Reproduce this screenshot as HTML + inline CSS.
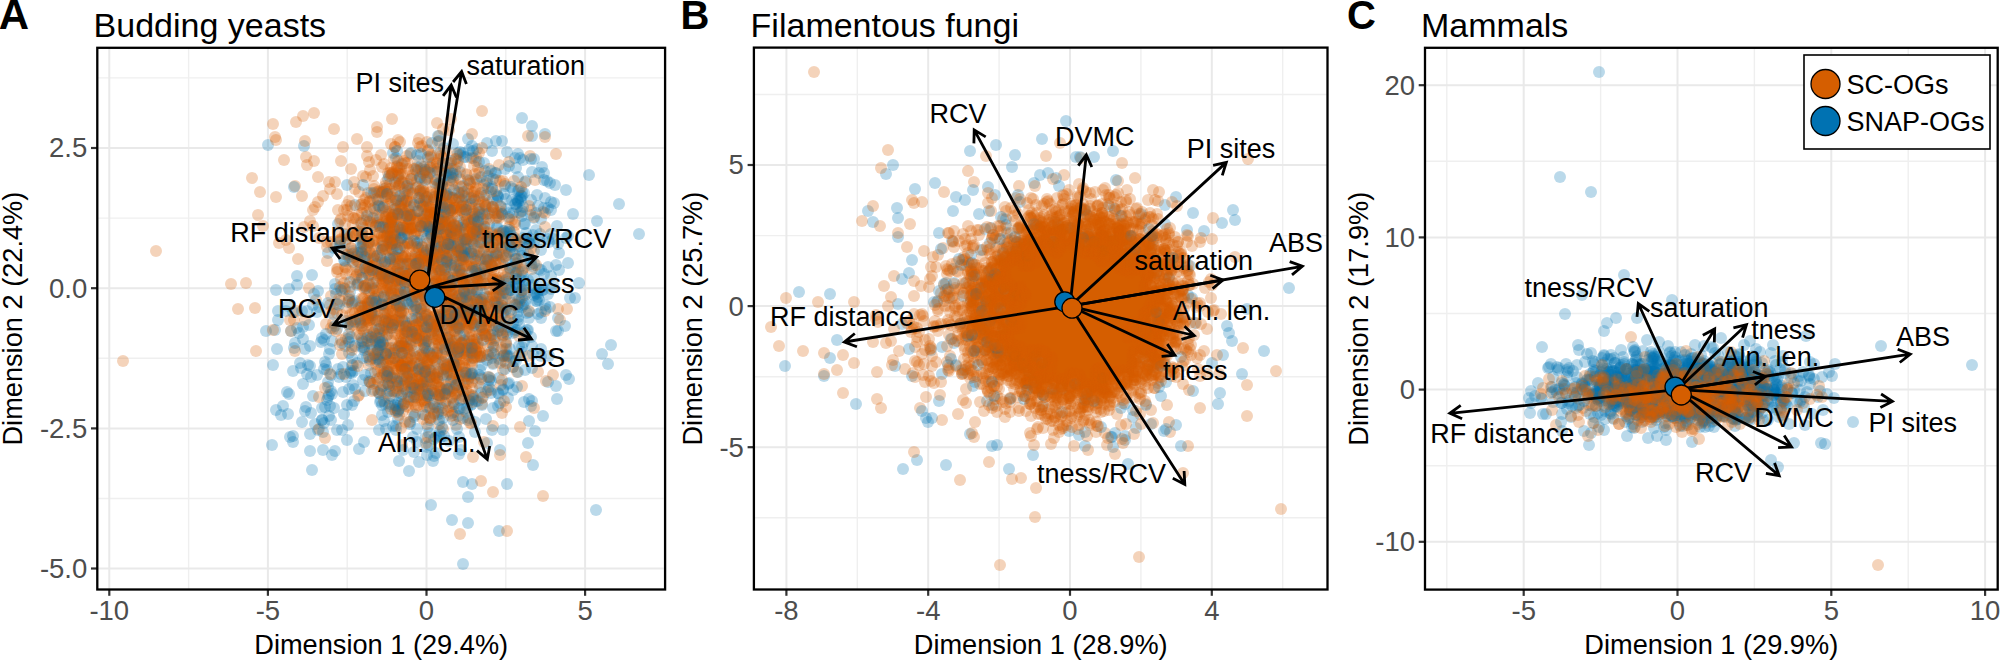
<!DOCTYPE html>
<html><head><meta charset="utf-8"><title>PCA biplots</title>
<style>
html,body{margin:0;padding:0;background:#fff;width:2000px;height:660px;overflow:hidden}
svg{display:block}
text{font-family:"Liberation Sans", sans-serif}
.gm{stroke:#EFEFEF;stroke-width:1.4}
.gM{stroke:#E9E9E9;stroke-width:2}
.tk{stroke:#333;stroke-width:2.2}
.bd{fill:none;stroke:#000;stroke-width:2.3}
.tl{font-size:27.5px;fill:#4D4D4D}
.at{font-size:27.2px;fill:#000}
.ti{font-size:34px;fill:#000}
.pl{font-size:40px;font-weight:bold;fill:#000}
.lb{font-size:27px;fill:#000}
.ar{fill:none;stroke:#000;stroke-width:2.8;stroke-linecap:butt;stroke-linejoin:miter}
.o circle{fill:#D55E00;fill-opacity:.27;r:6px}
.b circle{fill:#0072B2;fill-opacity:.27;r:6px}
.ct{stroke:#000;stroke-width:1.3}
</style></head><body>
<svg width="2000" height="660" viewBox="0 0 2000 660">
<defs>
<clipPath id="clipA"><rect x="97.3" y="47.8" width="567.8" height="541.7"/></clipPath>
<clipPath id="clipB"><rect x="753.9" y="47.6" width="573.6" height="541.9"/></clipPath>
<clipPath id="clipC"><rect x="1425" y="47.8" width="572.7" height="541.8"/></clipPath>
</defs>
<rect width="2000" height="660" fill="#fff"/>
<g clip-path="url(#clipA)">
<line class="gm" x1="188.6" y1="47.8" x2="188.6" y2="589.5"/>
<line class="gm" x1="347.2" y1="47.8" x2="347.2" y2="589.5"/>
<line class="gm" x1="505.8" y1="47.8" x2="505.8" y2="589.5"/>
<line class="gm" x1="664.4" y1="47.8" x2="664.4" y2="589.5"/>
<line class="gm" x1="97.3" y1="77.9" x2="665.1" y2="77.9"/>
<line class="gm" x1="97.3" y1="218.1" x2="665.1" y2="218.1"/>
<line class="gm" x1="97.3" y1="358.3" x2="665.1" y2="358.3"/>
<line class="gm" x1="97.3" y1="498.5" x2="665.1" y2="498.5"/>
<line class="gM" x1="109.3" y1="47.8" x2="109.3" y2="589.5"/>
<line class="gM" x1="267.9" y1="47.8" x2="267.9" y2="589.5"/>
<line class="gM" x1="426.5" y1="47.8" x2="426.5" y2="589.5"/>
<line class="gM" x1="585.1" y1="47.8" x2="585.1" y2="589.5"/>
<line class="gM" x1="97.3" y1="148" x2="665.1" y2="148"/>
<line class="gM" x1="97.3" y1="288.2" x2="665.1" y2="288.2"/>
<line class="gM" x1="97.3" y1="428.4" x2="665.1" y2="428.4"/>
<line class="gM" x1="97.3" y1="568.5" x2="665.1" y2="568.5"/>
</g>
<g clip-path="url(#clipB)">
<line class="gm" x1="857.3" y1="47.6" x2="857.3" y2="589.5"/>
<line class="gm" x1="999.1" y1="47.6" x2="999.1" y2="589.5"/>
<line class="gm" x1="1140.9" y1="47.6" x2="1140.9" y2="589.5"/>
<line class="gm" x1="1282.7" y1="47.6" x2="1282.7" y2="589.5"/>
<line class="gm" x1="753.9" y1="94.5" x2="1327.5" y2="94.5"/>
<line class="gm" x1="753.9" y1="235.6" x2="1327.5" y2="235.6"/>
<line class="gm" x1="753.9" y1="376.7" x2="1327.5" y2="376.7"/>
<line class="gm" x1="753.9" y1="517.8" x2="1327.5" y2="517.8"/>
<line class="gM" x1="786.4" y1="47.6" x2="786.4" y2="589.5"/>
<line class="gM" x1="928.2" y1="47.6" x2="928.2" y2="589.5"/>
<line class="gM" x1="1070" y1="47.6" x2="1070" y2="589.5"/>
<line class="gM" x1="1211.8" y1="47.6" x2="1211.8" y2="589.5"/>
<line class="gM" x1="753.9" y1="165" x2="1327.5" y2="165"/>
<line class="gM" x1="753.9" y1="306.1" x2="1327.5" y2="306.1"/>
<line class="gM" x1="753.9" y1="447.2" x2="1327.5" y2="447.2"/>
</g>
<g clip-path="url(#clipC)">
<line class="gm" x1="1446.8" y1="47.8" x2="1446.8" y2="589.6"/>
<line class="gm" x1="1600.6" y1="47.8" x2="1600.6" y2="589.6"/>
<line class="gm" x1="1754.4" y1="47.8" x2="1754.4" y2="589.6"/>
<line class="gm" x1="1908.2" y1="47.8" x2="1908.2" y2="589.6"/>
<line class="gm" x1="1425" y1="161.3" x2="1997.7" y2="161.3"/>
<line class="gm" x1="1425" y1="313.5" x2="1997.7" y2="313.5"/>
<line class="gm" x1="1425" y1="465.7" x2="1997.7" y2="465.7"/>
<line class="gM" x1="1523.7" y1="47.8" x2="1523.7" y2="589.6"/>
<line class="gM" x1="1677.5" y1="47.8" x2="1677.5" y2="589.6"/>
<line class="gM" x1="1831.3" y1="47.8" x2="1831.3" y2="589.6"/>
<line class="gM" x1="1985.1" y1="47.8" x2="1985.1" y2="589.6"/>
<line class="gM" x1="1425" y1="85.2" x2="1997.7" y2="85.2"/>
<line class="gM" x1="1425" y1="237.4" x2="1997.7" y2="237.4"/>
<line class="gM" x1="1425" y1="389.6" x2="1997.7" y2="389.6"/>
<line class="gM" x1="1425" y1="541.8" x2="1997.7" y2="541.8"/>
</g>
<g clip-path="url(#clipA)">
<g class="b">
<circle cx="495" cy="302" r="6"/>
<circle cx="481" cy="193" r="6"/>
<circle cx="538" cy="297" r="6"/>
<circle cx="436" cy="232" r="6"/>
<circle cx="470" cy="352" r="6"/>
<circle cx="398" cy="351" r="6"/>
<circle cx="558" cy="318" r="6"/>
<circle cx="474" cy="310" r="6"/>
<circle cx="518" cy="312" r="6"/>
<circle cx="533" cy="465" r="6"/>
<circle cx="520" cy="250" r="6"/>
<circle cx="395" cy="320" r="6"/>
<circle cx="399" cy="180" r="6"/>
<circle cx="434" cy="456" r="6"/>
<circle cx="407" cy="303" r="6"/>
<circle cx="425" cy="255" r="6"/>
<circle cx="419" cy="376" r="6"/>
<circle cx="512" cy="303" r="6"/>
<circle cx="498" cy="196" r="6"/>
<circle cx="345" cy="346" r="6"/>
<circle cx="425" cy="306" r="6"/>
<circle cx="352" cy="365" r="6"/>
<circle cx="430" cy="420" r="6"/>
<circle cx="361" cy="323" r="6"/>
<circle cx="307" cy="311" r="6"/>
<circle cx="438" cy="153" r="6"/>
<circle cx="521" cy="266" r="6"/>
<circle cx="417" cy="338" r="6"/>
<circle cx="455" cy="394" r="6"/>
<circle cx="491" cy="381" r="6"/>
<circle cx="409" cy="207" r="6"/>
<circle cx="541" cy="318" r="6"/>
<circle cx="471" cy="204" r="6"/>
<circle cx="401" cy="204" r="6"/>
<circle cx="522" cy="216" r="6"/>
<circle cx="443" cy="324" r="6"/>
<circle cx="377" cy="270" r="6"/>
<circle cx="338" cy="224" r="6"/>
<circle cx="447" cy="227" r="6"/>
<circle cx="407" cy="358" r="6"/>
<circle cx="494" cy="302" r="6"/>
<circle cx="382" cy="341" r="6"/>
<circle cx="423" cy="217" r="6"/>
<circle cx="493" cy="199" r="6"/>
<circle cx="481" cy="377" r="6"/>
<circle cx="536" cy="230" r="6"/>
<circle cx="539" cy="269" r="6"/>
<circle cx="492" cy="187" r="6"/>
<circle cx="469" cy="418" r="6"/>
<circle cx="328" cy="253" r="6"/>
<circle cx="445" cy="403" r="6"/>
<circle cx="452" cy="413" r="6"/>
<circle cx="362" cy="347" r="6"/>
<circle cx="447" cy="209" r="6"/>
<circle cx="516" cy="263" r="6"/>
<circle cx="433" cy="253" r="6"/>
<circle cx="400" cy="286" r="6"/>
<circle cx="537" cy="195" r="6"/>
<circle cx="428" cy="320" r="6"/>
<circle cx="346" cy="321" r="6"/>
<circle cx="515" cy="332" r="6"/>
<circle cx="474" cy="340" r="6"/>
</g>
<g class="o">
<circle cx="276" cy="197" r="6"/>
</g>
<g class="b">
<circle cx="350" cy="292" r="6"/>
<circle cx="557" cy="399" r="6"/>
<circle cx="496" cy="173" r="6"/>
<circle cx="423" cy="206" r="6"/>
<circle cx="373" cy="315" r="6"/>
<circle cx="499" cy="281" r="6"/>
<circle cx="548" cy="267" r="6"/>
<circle cx="303" cy="339" r="6"/>
<circle cx="484" cy="163" r="6"/>
<circle cx="327" cy="370" r="6"/>
<circle cx="398" cy="176" r="6"/>
<circle cx="388" cy="384" r="6"/>
<circle cx="479" cy="242" r="6"/>
<circle cx="395" cy="209" r="6"/>
<circle cx="334" cy="408" r="6"/>
<circle cx="380" cy="218" r="6"/>
<circle cx="452" cy="253" r="6"/>
<circle cx="443" cy="267" r="6"/>
<circle cx="534" cy="159" r="6"/>
<circle cx="527" cy="330" r="6"/>
<circle cx="547" cy="181" r="6"/>
<circle cx="499" cy="327" r="6"/>
<circle cx="460" cy="271" r="6"/>
<circle cx="384" cy="189" r="6"/>
<circle cx="431" cy="354" r="6"/>
<circle cx="413" cy="372" r="6"/>
<circle cx="551" cy="276" r="6"/>
<circle cx="494" cy="256" r="6"/>
<circle cx="315" cy="424" r="6"/>
<circle cx="486" cy="206" r="6"/>
<circle cx="509" cy="278" r="6"/>
<circle cx="435" cy="407" r="6"/>
<circle cx="335" cy="289" r="6"/>
<circle cx="352" cy="303" r="6"/>
<circle cx="507" cy="284" r="6"/>
<circle cx="454" cy="358" r="6"/>
<circle cx="431" cy="332" r="6"/>
<circle cx="346" cy="377" r="6"/>
<circle cx="448" cy="168" r="6"/>
<circle cx="499" cy="359" r="6"/>
<circle cx="487" cy="257" r="6"/>
<circle cx="500" cy="321" r="6"/>
<circle cx="497" cy="201" r="6"/>
<circle cx="504" cy="355" r="6"/>
<circle cx="468" cy="497" r="6"/>
<circle cx="504" cy="231" r="6"/>
<circle cx="501" cy="207" r="6"/>
<circle cx="489" cy="224" r="6"/>
<circle cx="306" cy="407" r="6"/>
<circle cx="303" cy="384" r="6"/>
<circle cx="416" cy="188" r="6"/>
<circle cx="361" cy="243" r="6"/>
<circle cx="466" cy="249" r="6"/>
<circle cx="469" cy="344" r="6"/>
<circle cx="370" cy="361" r="6"/>
<circle cx="448" cy="208" r="6"/>
<circle cx="410" cy="382" r="6"/>
</g>
<g class="o">
<circle cx="231" cy="284" r="6"/>
</g>
<g class="b">
<circle cx="291" cy="331" r="6"/>
<circle cx="348" cy="302" r="6"/>
<circle cx="502" cy="248" r="6"/>
<circle cx="380" cy="402" r="6"/>
<circle cx="308" cy="365" r="6"/>
<circle cx="435" cy="245" r="6"/>
<circle cx="545" cy="198" r="6"/>
<circle cx="531" cy="215" r="6"/>
<circle cx="505" cy="169" r="6"/>
<circle cx="440" cy="208" r="6"/>
<circle cx="401" cy="346" r="6"/>
<circle cx="441" cy="322" r="6"/>
<circle cx="461" cy="260" r="6"/>
<circle cx="391" cy="295" r="6"/>
<circle cx="411" cy="383" r="6"/>
<circle cx="434" cy="414" r="6"/>
<circle cx="471" cy="223" r="6"/>
<circle cx="393" cy="255" r="6"/>
<circle cx="381" cy="401" r="6"/>
<circle cx="482" cy="233" r="6"/>
<circle cx="433" cy="259" r="6"/>
<circle cx="373" cy="358" r="6"/>
<circle cx="398" cy="419" r="6"/>
<circle cx="453" cy="174" r="6"/>
<circle cx="438" cy="348" r="6"/>
<circle cx="519" cy="190" r="6"/>
<circle cx="402" cy="233" r="6"/>
<circle cx="391" cy="223" r="6"/>
<circle cx="492" cy="151" r="6"/>
<circle cx="539" cy="300" r="6"/>
<circle cx="608" cy="364" r="6"/>
<circle cx="507" cy="334" r="6"/>
<circle cx="459" cy="437" r="6"/>
<circle cx="419" cy="249" r="6"/>
<circle cx="483" cy="397" r="6"/>
<circle cx="352" cy="373" r="6"/>
<circle cx="435" cy="183" r="6"/>
<circle cx="438" cy="334" r="6"/>
<circle cx="447" cy="262" r="6"/>
<circle cx="388" cy="179" r="6"/>
<circle cx="464" cy="340" r="6"/>
<circle cx="510" cy="268" r="6"/>
<circle cx="575" cy="298" r="6"/>
<circle cx="466" cy="157" r="6"/>
<circle cx="458" cy="296" r="6"/>
<circle cx="335" cy="451" r="6"/>
<circle cx="379" cy="430" r="6"/>
<circle cx="393" cy="250" r="6"/>
<circle cx="559" cy="253" r="6"/>
<circle cx="460" cy="409" r="6"/>
<circle cx="389" cy="406" r="6"/>
<circle cx="499" cy="531" r="6"/>
<circle cx="321" cy="342" r="6"/>
<circle cx="373" cy="289" r="6"/>
<circle cx="383" cy="363" r="6"/>
<circle cx="419" cy="462" r="6"/>
<circle cx="441" cy="228" r="6"/>
<circle cx="431" cy="236" r="6"/>
<circle cx="459" cy="261" r="6"/>
<circle cx="399" cy="461" r="6"/>
<circle cx="427" cy="351" r="6"/>
<circle cx="528" cy="330" r="6"/>
<circle cx="410" cy="220" r="6"/>
<circle cx="433" cy="251" r="6"/>
<circle cx="488" cy="390" r="6"/>
</g>
<g class="o">
<circle cx="458" cy="313" r="6"/>
</g>
<g class="b">
<circle cx="611" cy="345" r="6"/>
<circle cx="383" cy="344" r="6"/>
<circle cx="436" cy="302" r="6"/>
<circle cx="517" cy="305" r="6"/>
<circle cx="440" cy="199" r="6"/>
<circle cx="492" cy="266" r="6"/>
<circle cx="420" cy="364" r="6"/>
</g>
<g class="o">
<circle cx="393" cy="222" r="6"/>
<circle cx="374" cy="246" r="6"/>
<circle cx="384" cy="314" r="6"/>
</g>
<g class="b">
<circle cx="410" cy="424" r="6"/>
</g>
<g class="o">
<circle cx="428" cy="394" r="6"/>
<circle cx="331" cy="328" r="6"/>
<circle cx="386" cy="217" r="6"/>
</g>
<g class="b">
<circle cx="542" cy="290" r="6"/>
<circle cx="349" cy="353" r="6"/>
</g>
<g class="o">
<circle cx="368" cy="193" r="6"/>
<circle cx="464" cy="209" r="6"/>
<circle cx="499" cy="327" r="6"/>
<circle cx="493" cy="492" r="6"/>
<circle cx="493" cy="235" r="6"/>
<circle cx="428" cy="226" r="6"/>
<circle cx="454" cy="271" r="6"/>
<circle cx="474" cy="284" r="6"/>
<circle cx="371" cy="287" r="6"/>
<circle cx="353" cy="365" r="6"/>
<circle cx="448" cy="196" r="6"/>
</g>
<g class="b">
<circle cx="366" cy="250" r="6"/>
<circle cx="529" cy="244" r="6"/>
<circle cx="428" cy="427" r="6"/>
</g>
<g class="o">
<circle cx="380" cy="192" r="6"/>
<circle cx="495" cy="340" r="6"/>
<circle cx="458" cy="251" r="6"/>
<circle cx="426" cy="371" r="6"/>
<circle cx="424" cy="346" r="6"/>
</g>
<g class="b">
<circle cx="278" cy="311" r="6"/>
<circle cx="481" cy="243" r="6"/>
<circle cx="448" cy="305" r="6"/>
</g>
<g class="o">
<circle cx="438" cy="395" r="6"/>
<circle cx="488" cy="176" r="6"/>
</g>
<g class="b">
<circle cx="438" cy="414" r="6"/>
<circle cx="488" cy="255" r="6"/>
</g>
<g class="o">
<circle cx="392" cy="243" r="6"/>
</g>
<g class="b">
<circle cx="383" cy="261" r="6"/>
<circle cx="496" cy="262" r="6"/>
</g>
<g class="o">
<circle cx="428" cy="150" r="6"/>
<circle cx="459" cy="255" r="6"/>
</g>
<g class="b">
<circle cx="492" cy="313" r="6"/>
<circle cx="507" cy="355" r="6"/>
</g>
<g class="o">
<circle cx="376" cy="321" r="6"/>
<circle cx="450" cy="300" r="6"/>
</g>
<g class="b">
<circle cx="505" cy="237" r="6"/>
</g>
<g class="o">
<circle cx="451" cy="322" r="6"/>
<circle cx="420" cy="203" r="6"/>
<circle cx="395" cy="304" r="6"/>
</g>
<g class="b">
<circle cx="408" cy="234" r="6"/>
<circle cx="500" cy="450" r="6"/>
<circle cx="531" cy="406" r="6"/>
</g>
<g class="o">
<circle cx="439" cy="237" r="6"/>
<circle cx="472" cy="288" r="6"/>
<circle cx="405" cy="361" r="6"/>
<circle cx="402" cy="272" r="6"/>
<circle cx="453" cy="415" r="6"/>
<circle cx="472" cy="350" r="6"/>
<circle cx="471" cy="344" r="6"/>
<circle cx="481" cy="313" r="6"/>
<circle cx="381" cy="390" r="6"/>
</g>
<g class="b">
<circle cx="417" cy="241" r="6"/>
<circle cx="370" cy="350" r="6"/>
</g>
<g class="o">
<circle cx="502" cy="306" r="6"/>
<circle cx="399" cy="366" r="6"/>
<circle cx="460" cy="325" r="6"/>
</g>
<g class="b">
<circle cx="498" cy="216" r="6"/>
</g>
<g class="o">
<circle cx="488" cy="260" r="6"/>
<circle cx="398" cy="173" r="6"/>
<circle cx="480" cy="347" r="6"/>
<circle cx="461" cy="253" r="6"/>
</g>
<g class="b">
<circle cx="462" cy="256" r="6"/>
</g>
<g class="o">
<circle cx="361" cy="343" r="6"/>
</g>
<g class="b">
<circle cx="433" cy="222" r="6"/>
<circle cx="335" cy="284" r="6"/>
</g>
<g class="o">
<circle cx="503" cy="335" r="6"/>
</g>
<g class="b">
<circle cx="438" cy="408" r="6"/>
</g>
<g class="o">
<circle cx="515" cy="238" r="6"/>
<circle cx="458" cy="305" r="6"/>
<circle cx="441" cy="213" r="6"/>
<circle cx="452" cy="247" r="6"/>
</g>
<g class="b">
<circle cx="513" cy="367" r="6"/>
</g>
<g class="o">
<circle cx="425" cy="386" r="6"/>
</g>
<g class="b">
<circle cx="535" cy="431" r="6"/>
</g>
<g class="o">
<circle cx="286" cy="240" r="6"/>
<circle cx="487" cy="297" r="6"/>
</g>
<g class="b">
<circle cx="550" cy="183" r="6"/>
<circle cx="302" cy="422" r="6"/>
<circle cx="372" cy="341" r="6"/>
<circle cx="385" cy="313" r="6"/>
</g>
<g class="o">
<circle cx="404" cy="295" r="6"/>
<circle cx="493" cy="330" r="6"/>
</g>
<g class="b">
<circle cx="372" cy="313" r="6"/>
<circle cx="415" cy="297" r="6"/>
</g>
<g class="o">
<circle cx="401" cy="346" r="6"/>
</g>
<g class="b">
<circle cx="579" cy="283" r="6"/>
<circle cx="384" cy="421" r="6"/>
</g>
<g class="o">
<circle cx="273" cy="124" r="6"/>
</g>
<g class="b">
<circle cx="488" cy="260" r="6"/>
<circle cx="423" cy="278" r="6"/>
<circle cx="402" cy="380" r="6"/>
<circle cx="520" cy="279" r="6"/>
</g>
<g class="o">
<circle cx="483" cy="219" r="6"/>
</g>
<g class="b">
<circle cx="472" cy="404" r="6"/>
</g>
<g class="o">
<circle cx="476" cy="277" r="6"/>
<circle cx="440" cy="254" r="6"/>
<circle cx="442" cy="333" r="6"/>
<circle cx="501" cy="212" r="6"/>
</g>
<g class="b">
<circle cx="393" cy="153" r="6"/>
</g>
<g class="o">
<circle cx="424" cy="264" r="6"/>
<circle cx="423" cy="188" r="6"/>
</g>
<g class="b">
<circle cx="464" cy="379" r="6"/>
</g>
<g class="o">
<circle cx="390" cy="271" r="6"/>
</g>
<g class="b">
<circle cx="531" cy="264" r="6"/>
</g>
<g class="o">
<circle cx="399" cy="326" r="6"/>
<circle cx="406" cy="212" r="6"/>
</g>
<g class="b">
<circle cx="389" cy="372" r="6"/>
</g>
<g class="o">
<circle cx="484" cy="328" r="6"/>
<circle cx="389" cy="398" r="6"/>
<circle cx="503" cy="265" r="6"/>
<circle cx="439" cy="136" r="6"/>
<circle cx="423" cy="227" r="6"/>
</g>
<g class="b">
<circle cx="395" cy="182" r="6"/>
<circle cx="459" cy="221" r="6"/>
<circle cx="484" cy="226" r="6"/>
</g>
<g class="o">
<circle cx="494" cy="285" r="6"/>
</g>
<g class="b">
<circle cx="548" cy="239" r="6"/>
<circle cx="416" cy="357" r="6"/>
<circle cx="386" cy="429" r="6"/>
</g>
<g class="o">
<circle cx="531" cy="210" r="6"/>
<circle cx="431" cy="246" r="6"/>
<circle cx="469" cy="181" r="6"/>
<circle cx="420" cy="391" r="6"/>
<circle cx="419" cy="283" r="6"/>
</g>
<g class="b">
<circle cx="480" cy="275" r="6"/>
</g>
<g class="o">
<circle cx="413" cy="175" r="6"/>
<circle cx="446" cy="387" r="6"/>
<circle cx="382" cy="192" r="6"/>
</g>
<g class="b">
<circle cx="522" cy="307" r="6"/>
</g>
<g class="o">
<circle cx="462" cy="200" r="6"/>
</g>
<g class="b">
<circle cx="504" cy="361" r="6"/>
</g>
<g class="o">
<circle cx="394" cy="266" r="6"/>
</g>
<g class="b">
<circle cx="266" cy="331" r="6"/>
</g>
<g class="o">
<circle cx="348" cy="216" r="6"/>
</g>
<g class="b">
<circle cx="529" cy="421" r="6"/>
</g>
<g class="o">
<circle cx="496" cy="240" r="6"/>
<circle cx="353" cy="234" r="6"/>
</g>
<g class="b">
<circle cx="478" cy="302" r="6"/>
<circle cx="436" cy="453" r="6"/>
<circle cx="453" cy="144" r="6"/>
</g>
<g class="o">
<circle cx="448" cy="240" r="6"/>
<circle cx="389" cy="324" r="6"/>
<circle cx="387" cy="377" r="6"/>
<circle cx="388" cy="196" r="6"/>
<circle cx="439" cy="271" r="6"/>
<circle cx="491" cy="390" r="6"/>
<circle cx="376" cy="334" r="6"/>
<circle cx="435" cy="179" r="6"/>
<circle cx="387" cy="285" r="6"/>
<circle cx="416" cy="300" r="6"/>
<circle cx="459" cy="271" r="6"/>
</g>
<g class="b">
<circle cx="420" cy="241" r="6"/>
</g>
<g class="o">
<circle cx="363" cy="342" r="6"/>
<circle cx="469" cy="205" r="6"/>
<circle cx="420" cy="193" r="6"/>
</g>
<g class="b">
<circle cx="408" cy="243" r="6"/>
</g>
<g class="o">
<circle cx="405" cy="193" r="6"/>
</g>
<g class="b">
<circle cx="445" cy="270" r="6"/>
<circle cx="476" cy="261" r="6"/>
</g>
<g class="o">
<circle cx="460" cy="255" r="6"/>
<circle cx="459" cy="197" r="6"/>
</g>
<g class="b">
<circle cx="349" cy="389" r="6"/>
</g>
<g class="o">
<circle cx="373" cy="241" r="6"/>
<circle cx="376" cy="160" r="6"/>
</g>
<g class="b">
<circle cx="557" cy="226" r="6"/>
</g>
<g class="o">
<circle cx="514" cy="254" r="6"/>
<circle cx="499" cy="165" r="6"/>
<circle cx="441" cy="204" r="6"/>
<circle cx="461" cy="298" r="6"/>
</g>
<g class="b">
<circle cx="452" cy="353" r="6"/>
<circle cx="485" cy="284" r="6"/>
<circle cx="394" cy="227" r="6"/>
</g>
<g class="o">
<circle cx="391" cy="234" r="6"/>
<circle cx="384" cy="236" r="6"/>
</g>
<g class="b">
<circle cx="522" cy="352" r="6"/>
</g>
<g class="o">
<circle cx="416" cy="398" r="6"/>
</g>
<g class="b">
<circle cx="361" cy="306" r="6"/>
<circle cx="468" cy="139" r="6"/>
</g>
<g class="o">
<circle cx="408" cy="243" r="6"/>
</g>
<g class="b">
<circle cx="334" cy="248" r="6"/>
<circle cx="553" cy="239" r="6"/>
<circle cx="374" cy="332" r="6"/>
</g>
<g class="o">
<circle cx="457" cy="356" r="6"/>
</g>
<g class="b">
<circle cx="531" cy="337" r="6"/>
</g>
<g class="o">
<circle cx="436" cy="258" r="6"/>
<circle cx="412" cy="329" r="6"/>
<circle cx="337" cy="194" r="6"/>
<circle cx="515" cy="225" r="6"/>
<circle cx="403" cy="258" r="6"/>
<circle cx="409" cy="366" r="6"/>
</g>
<g class="b">
<circle cx="434" cy="296" r="6"/>
<circle cx="332" cy="341" r="6"/>
</g>
<g class="o">
<circle cx="255" cy="308" r="6"/>
</g>
<g class="b">
<circle cx="533" cy="235" r="6"/>
</g>
<g class="o">
<circle cx="508" cy="357" r="6"/>
</g>
<g class="b">
<circle cx="449" cy="337" r="6"/>
</g>
<g class="o">
<circle cx="469" cy="295" r="6"/>
</g>
<g class="b">
<circle cx="439" cy="435" r="6"/>
<circle cx="497" cy="195" r="6"/>
</g>
<g class="o">
<circle cx="432" cy="265" r="6"/>
</g>
<g class="b">
<circle cx="487" cy="443" r="6"/>
</g>
<g class="o">
<circle cx="364" cy="348" r="6"/>
</g>
<g class="b">
<circle cx="523" cy="276" r="6"/>
</g>
<g class="o">
<circle cx="403" cy="197" r="6"/>
<circle cx="386" cy="274" r="6"/>
<circle cx="391" cy="248" r="6"/>
</g>
<g class="b">
<circle cx="528" cy="254" r="6"/>
<circle cx="268" cy="145" r="6"/>
</g>
<g class="o">
<circle cx="477" cy="255" r="6"/>
<circle cx="331" cy="242" r="6"/>
<circle cx="400" cy="240" r="6"/>
<circle cx="392" cy="217" r="6"/>
<circle cx="443" cy="180" r="6"/>
<circle cx="459" cy="230" r="6"/>
<circle cx="463" cy="283" r="6"/>
</g>
<g class="b">
<circle cx="458" cy="153" r="6"/>
</g>
<g class="o">
<circle cx="482" cy="111" r="6"/>
</g>
<g class="b">
<circle cx="491" cy="265" r="6"/>
</g>
<g class="o">
<circle cx="406" cy="367" r="6"/>
<circle cx="391" cy="292" r="6"/>
<circle cx="388" cy="250" r="6"/>
<circle cx="370" cy="359" r="6"/>
<circle cx="377" cy="223" r="6"/>
</g>
<g class="b">
<circle cx="391" cy="378" r="6"/>
<circle cx="479" cy="316" r="6"/>
<circle cx="512" cy="267" r="6"/>
</g>
<g class="o">
<circle cx="360" cy="205" r="6"/>
<circle cx="452" cy="210" r="6"/>
<circle cx="453" cy="350" r="6"/>
<circle cx="439" cy="331" r="6"/>
<circle cx="238" cy="309" r="6"/>
<circle cx="362" cy="213" r="6"/>
<circle cx="423" cy="414" r="6"/>
<circle cx="454" cy="412" r="6"/>
<circle cx="340" cy="287" r="6"/>
<circle cx="519" cy="303" r="6"/>
</g>
<g class="b">
<circle cx="324" cy="369" r="6"/>
</g>
<g class="o">
<circle cx="434" cy="316" r="6"/>
<circle cx="508" cy="273" r="6"/>
</g>
<g class="b">
<circle cx="413" cy="385" r="6"/>
</g>
<g class="o">
<circle cx="448" cy="218" r="6"/>
<circle cx="472" cy="395" r="6"/>
<circle cx="360" cy="272" r="6"/>
<circle cx="506" cy="248" r="6"/>
</g>
<g class="b">
<circle cx="369" cy="275" r="6"/>
</g>
<g class="o">
<circle cx="375" cy="297" r="6"/>
</g>
<g class="b">
<circle cx="393" cy="426" r="6"/>
</g>
<g class="o">
<circle cx="420" cy="386" r="6"/>
<circle cx="384" cy="332" r="6"/>
<circle cx="402" cy="319" r="6"/>
<circle cx="480" cy="325" r="6"/>
<circle cx="407" cy="201" r="6"/>
</g>
<g class="b">
<circle cx="416" cy="170" r="6"/>
</g>
<g class="o">
<circle cx="424" cy="251" r="6"/>
</g>
<g class="b">
<circle cx="473" cy="396" r="6"/>
<circle cx="549" cy="242" r="6"/>
<circle cx="442" cy="202" r="6"/>
<circle cx="329" cy="395" r="6"/>
</g>
<g class="o">
<circle cx="418" cy="171" r="6"/>
</g>
<g class="b">
<circle cx="399" cy="264" r="6"/>
</g>
<g class="o">
<circle cx="399" cy="346" r="6"/>
</g>
<g class="b">
<circle cx="501" cy="290" r="6"/>
<circle cx="304" cy="146" r="6"/>
</g>
<g class="o">
<circle cx="405" cy="342" r="6"/>
</g>
<g class="b">
<circle cx="318" cy="430" r="6"/>
<circle cx="454" cy="300" r="6"/>
</g>
<g class="o">
<circle cx="387" cy="221" r="6"/>
<circle cx="442" cy="413" r="6"/>
</g>
<g class="b">
<circle cx="386" cy="274" r="6"/>
</g>
<g class="o">
<circle cx="402" cy="230" r="6"/>
<circle cx="532" cy="269" r="6"/>
<circle cx="442" cy="293" r="6"/>
</g>
<g class="b">
<circle cx="475" cy="259" r="6"/>
</g>
<g class="o">
<circle cx="400" cy="174" r="6"/>
</g>
<g class="b">
<circle cx="489" cy="213" r="6"/>
</g>
<g class="o">
<circle cx="383" cy="355" r="6"/>
<circle cx="401" cy="366" r="6"/>
<circle cx="469" cy="265" r="6"/>
<circle cx="365" cy="289" r="6"/>
<circle cx="400" cy="233" r="6"/>
<circle cx="414" cy="385" r="6"/>
</g>
<g class="b">
<circle cx="399" cy="251" r="6"/>
<circle cx="467" cy="239" r="6"/>
</g>
<g class="o">
<circle cx="463" cy="307" r="6"/>
</g>
<g class="b">
<circle cx="388" cy="412" r="6"/>
<circle cx="287" cy="392" r="6"/>
</g>
<g class="o">
<circle cx="438" cy="364" r="6"/>
</g>
<g class="b">
<circle cx="312" cy="470" r="6"/>
<circle cx="451" cy="381" r="6"/>
</g>
<g class="o">
<circle cx="472" cy="214" r="6"/>
</g>
<g class="b">
<circle cx="619" cy="204" r="6"/>
</g>
<g class="o">
<circle cx="506" cy="407" r="6"/>
<circle cx="395" cy="261" r="6"/>
</g>
<g class="b">
<circle cx="487" cy="214" r="6"/>
<circle cx="429" cy="298" r="6"/>
</g>
<g class="o">
<circle cx="246" cy="283" r="6"/>
<circle cx="454" cy="348" r="6"/>
</g>
<g class="b">
<circle cx="411" cy="180" r="6"/>
</g>
<g class="o">
<circle cx="461" cy="312" r="6"/>
<circle cx="484" cy="268" r="6"/>
</g>
<g class="b">
<circle cx="483" cy="321" r="6"/>
<circle cx="310" cy="451" r="6"/>
<circle cx="480" cy="387" r="6"/>
</g>
<g class="o">
<circle cx="419" cy="321" r="6"/>
<circle cx="427" cy="364" r="6"/>
<circle cx="340" cy="241" r="6"/>
<circle cx="376" cy="301" r="6"/>
<circle cx="441" cy="288" r="6"/>
</g>
<g class="b">
<circle cx="486" cy="419" r="6"/>
</g>
<g class="o">
<circle cx="496" cy="306" r="6"/>
</g>
<g class="b">
<circle cx="532" cy="401" r="6"/>
<circle cx="471" cy="314" r="6"/>
</g>
<g class="o">
<circle cx="333" cy="323" r="6"/>
</g>
<g class="b">
<circle cx="407" cy="347" r="6"/>
<circle cx="453" cy="280" r="6"/>
<circle cx="453" cy="377" r="6"/>
</g>
<g class="o">
<circle cx="449" cy="347" r="6"/>
<circle cx="468" cy="254" r="6"/>
<circle cx="367" cy="255" r="6"/>
</g>
<g class="b">
<circle cx="496" cy="288" r="6"/>
</g>
<g class="o">
<circle cx="424" cy="192" r="6"/>
<circle cx="314" cy="161" r="6"/>
</g>
<g class="b">
<circle cx="354" cy="371" r="6"/>
</g>
<g class="o">
<circle cx="397" cy="167" r="6"/>
</g>
<g class="b">
<circle cx="462" cy="241" r="6"/>
</g>
<g class="o">
<circle cx="450" cy="212" r="6"/>
</g>
<g class="b">
<circle cx="512" cy="251" r="6"/>
</g>
<g class="o">
<circle cx="437" cy="229" r="6"/>
<circle cx="417" cy="292" r="6"/>
<circle cx="368" cy="320" r="6"/>
<circle cx="481" cy="228" r="6"/>
<circle cx="428" cy="201" r="6"/>
</g>
<g class="b">
<circle cx="480" cy="370" r="6"/>
</g>
<g class="o">
<circle cx="403" cy="215" r="6"/>
<circle cx="445" cy="298" r="6"/>
<circle cx="450" cy="286" r="6"/>
</g>
<g class="b">
<circle cx="379" cy="358" r="6"/>
</g>
<g class="o">
<circle cx="447" cy="371" r="6"/>
<circle cx="458" cy="275" r="6"/>
<circle cx="408" cy="244" r="6"/>
<circle cx="407" cy="195" r="6"/>
<circle cx="449" cy="197" r="6"/>
<circle cx="437" cy="352" r="6"/>
<circle cx="452" cy="169" r="6"/>
</g>
<g class="b">
<circle cx="410" cy="422" r="6"/>
</g>
<g class="o">
<circle cx="420" cy="204" r="6"/>
<circle cx="489" cy="169" r="6"/>
<circle cx="425" cy="199" r="6"/>
<circle cx="428" cy="398" r="6"/>
<circle cx="392" cy="215" r="6"/>
<circle cx="319" cy="429" r="6"/>
<circle cx="476" cy="353" r="6"/>
</g>
<g class="b">
<circle cx="457" cy="164" r="6"/>
</g>
<g class="o">
<circle cx="422" cy="379" r="6"/>
</g>
<g class="b">
<circle cx="463" cy="418" r="6"/>
<circle cx="348" cy="254" r="6"/>
</g>
<g class="o">
<circle cx="447" cy="298" r="6"/>
<circle cx="449" cy="279" r="6"/>
</g>
<g class="b">
<circle cx="434" cy="331" r="6"/>
</g>
<g class="o">
<circle cx="490" cy="322" r="6"/>
</g>
<g class="b">
<circle cx="472" cy="254" r="6"/>
</g>
<g class="o">
<circle cx="451" cy="221" r="6"/>
<circle cx="376" cy="336" r="6"/>
<circle cx="392" cy="243" r="6"/>
</g>
<g class="b">
<circle cx="481" cy="393" r="6"/>
</g>
<g class="o">
<circle cx="451" cy="163" r="6"/>
<circle cx="400" cy="308" r="6"/>
<circle cx="404" cy="346" r="6"/>
</g>
<g class="b">
<circle cx="434" cy="284" r="6"/>
</g>
<g class="o">
<circle cx="448" cy="233" r="6"/>
<circle cx="392" cy="249" r="6"/>
</g>
<g class="b">
<circle cx="357" cy="285" r="6"/>
<circle cx="477" cy="256" r="6"/>
</g>
<g class="o">
<circle cx="407" cy="363" r="6"/>
<circle cx="464" cy="266" r="6"/>
<circle cx="310" cy="221" r="6"/>
<circle cx="403" cy="257" r="6"/>
</g>
<g class="b">
<circle cx="502" cy="239" r="6"/>
</g>
<g class="o">
<circle cx="464" cy="384" r="6"/>
</g>
<g class="b">
<circle cx="496" cy="141" r="6"/>
</g>
<g class="o">
<circle cx="466" cy="225" r="6"/>
</g>
<g class="b">
<circle cx="539" cy="173" r="6"/>
</g>
<g class="o">
<circle cx="329" cy="182" r="6"/>
<circle cx="409" cy="210" r="6"/>
</g>
<g class="b">
<circle cx="522" cy="298" r="6"/>
<circle cx="444" cy="148" r="6"/>
<circle cx="396" cy="426" r="6"/>
<circle cx="368" cy="307" r="6"/>
<circle cx="523" cy="305" r="6"/>
<circle cx="388" cy="322" r="6"/>
</g>
<g class="o">
<circle cx="430" cy="208" r="6"/>
<circle cx="374" cy="189" r="6"/>
<circle cx="367" cy="301" r="6"/>
<circle cx="398" cy="410" r="6"/>
<circle cx="458" cy="277" r="6"/>
</g>
<g class="b">
<circle cx="519" cy="246" r="6"/>
</g>
<g class="o">
<circle cx="384" cy="246" r="6"/>
</g>
<g class="b">
<circle cx="393" cy="289" r="6"/>
<circle cx="443" cy="218" r="6"/>
</g>
<g class="o">
<circle cx="482" cy="266" r="6"/>
<circle cx="471" cy="158" r="6"/>
<circle cx="432" cy="317" r="6"/>
<circle cx="433" cy="275" r="6"/>
</g>
<g class="b">
<circle cx="437" cy="353" r="6"/>
<circle cx="435" cy="361" r="6"/>
</g>
<g class="o">
<circle cx="418" cy="277" r="6"/>
<circle cx="388" cy="371" r="6"/>
<circle cx="484" cy="185" r="6"/>
<circle cx="388" cy="384" r="6"/>
</g>
<g class="b">
<circle cx="510" cy="269" r="6"/>
</g>
<g class="o">
<circle cx="444" cy="195" r="6"/>
<circle cx="476" cy="157" r="6"/>
</g>
<g class="b">
<circle cx="518" cy="154" r="6"/>
</g>
<g class="o">
<circle cx="556" cy="154" r="6"/>
</g>
<g class="b">
<circle cx="360" cy="270" r="6"/>
</g>
<g class="o">
<circle cx="496" cy="296" r="6"/>
<circle cx="513" cy="367" r="6"/>
<circle cx="484" cy="313" r="6"/>
<circle cx="437" cy="324" r="6"/>
<circle cx="431" cy="212" r="6"/>
<circle cx="479" cy="351" r="6"/>
</g>
<g class="b">
<circle cx="342" cy="430" r="6"/>
<circle cx="527" cy="293" r="6"/>
<circle cx="435" cy="296" r="6"/>
</g>
<g class="o">
<circle cx="482" cy="302" r="6"/>
<circle cx="408" cy="359" r="6"/>
<circle cx="478" cy="225" r="6"/>
</g>
<g class="b">
<circle cx="484" cy="214" r="6"/>
</g>
<g class="o">
<circle cx="471" cy="228" r="6"/>
</g>
<g class="b">
<circle cx="404" cy="213" r="6"/>
</g>
<g class="o">
<circle cx="377" cy="352" r="6"/>
<circle cx="498" cy="306" r="6"/>
</g>
<g class="b">
<circle cx="363" cy="239" r="6"/>
<circle cx="453" cy="178" r="6"/>
</g>
<g class="o">
<circle cx="485" cy="204" r="6"/>
</g>
<g class="b">
<circle cx="395" cy="350" r="6"/>
<circle cx="395" cy="410" r="6"/>
</g>
<g class="o">
<circle cx="445" cy="343" r="6"/>
<circle cx="553" cy="375" r="6"/>
<circle cx="437" cy="378" r="6"/>
<circle cx="429" cy="231" r="6"/>
<circle cx="464" cy="282" r="6"/>
<circle cx="423" cy="342" r="6"/>
<circle cx="430" cy="381" r="6"/>
</g>
<g class="b">
<circle cx="520" cy="213" r="6"/>
</g>
<g class="o">
<circle cx="365" cy="320" r="6"/>
<circle cx="406" cy="323" r="6"/>
<circle cx="456" cy="315" r="6"/>
<circle cx="378" cy="351" r="6"/>
<circle cx="388" cy="232" r="6"/>
<circle cx="382" cy="262" r="6"/>
<circle cx="388" cy="278" r="6"/>
</g>
<g class="b">
<circle cx="417" cy="167" r="6"/>
<circle cx="518" cy="271" r="6"/>
<circle cx="498" cy="393" r="6"/>
<circle cx="440" cy="431" r="6"/>
<circle cx="551" cy="202" r="6"/>
</g>
<g class="o">
<circle cx="416" cy="371" r="6"/>
</g>
<g class="b">
<circle cx="558" cy="331" r="6"/>
<circle cx="452" cy="341" r="6"/>
</g>
<g class="o">
<circle cx="426" cy="301" r="6"/>
<circle cx="400" cy="288" r="6"/>
<circle cx="387" cy="290" r="6"/>
</g>
<g class="b">
<circle cx="402" cy="343" r="6"/>
</g>
<g class="o">
<circle cx="445" cy="288" r="6"/>
</g>
<g class="b">
<circle cx="536" cy="293" r="6"/>
<circle cx="373" cy="225" r="6"/>
<circle cx="508" cy="384" r="6"/>
</g>
<g class="o">
<circle cx="302" cy="196" r="6"/>
<circle cx="393" cy="278" r="6"/>
<circle cx="445" cy="344" r="6"/>
<circle cx="410" cy="264" r="6"/>
<circle cx="440" cy="153" r="6"/>
<circle cx="382" cy="276" r="6"/>
</g>
<g class="b">
<circle cx="353" cy="251" r="6"/>
</g>
<g class="o">
<circle cx="400" cy="382" r="6"/>
<circle cx="475" cy="345" r="6"/>
<circle cx="403" cy="346" r="6"/>
</g>
<g class="b">
<circle cx="310" cy="346" r="6"/>
<circle cx="426" cy="341" r="6"/>
<circle cx="448" cy="364" r="6"/>
</g>
<g class="o">
<circle cx="512" cy="220" r="6"/>
<circle cx="520" cy="212" r="6"/>
<circle cx="426" cy="255" r="6"/>
<circle cx="359" cy="262" r="6"/>
<circle cx="371" cy="315" r="6"/>
<circle cx="465" cy="372" r="6"/>
<circle cx="356" cy="319" r="6"/>
<circle cx="437" cy="258" r="6"/>
</g>
<g class="b">
<circle cx="460" cy="375" r="6"/>
</g>
<g class="o">
<circle cx="396" cy="408" r="6"/>
<circle cx="418" cy="281" r="6"/>
<circle cx="413" cy="288" r="6"/>
</g>
<g class="b">
<circle cx="415" cy="257" r="6"/>
<circle cx="396" cy="191" r="6"/>
</g>
<g class="o">
<circle cx="474" cy="182" r="6"/>
</g>
<g class="b">
<circle cx="353" cy="302" r="6"/>
<circle cx="362" cy="338" r="6"/>
<circle cx="473" cy="217" r="6"/>
</g>
<g class="o">
<circle cx="461" cy="273" r="6"/>
</g>
<g class="b">
<circle cx="450" cy="348" r="6"/>
<circle cx="474" cy="378" r="6"/>
</g>
<g class="o">
<circle cx="462" cy="280" r="6"/>
</g>
<g class="b">
<circle cx="483" cy="229" r="6"/>
</g>
<g class="o">
<circle cx="466" cy="351" r="6"/>
<circle cx="467" cy="311" r="6"/>
</g>
<g class="b">
<circle cx="345" cy="243" r="6"/>
</g>
<g class="o">
<circle cx="493" cy="331" r="6"/>
<circle cx="489" cy="238" r="6"/>
<circle cx="467" cy="239" r="6"/>
<circle cx="394" cy="353" r="6"/>
<circle cx="480" cy="302" r="6"/>
<circle cx="446" cy="203" r="6"/>
<circle cx="454" cy="246" r="6"/>
<circle cx="460" cy="294" r="6"/>
<circle cx="354" cy="218" r="6"/>
</g>
<g class="b">
<circle cx="404" cy="235" r="6"/>
<circle cx="422" cy="382" r="6"/>
</g>
<g class="o">
<circle cx="352" cy="347" r="6"/>
<circle cx="508" cy="282" r="6"/>
</g>
<g class="b">
<circle cx="589" cy="175" r="6"/>
</g>
<g class="o">
<circle cx="528" cy="356" r="6"/>
<circle cx="473" cy="323" r="6"/>
</g>
<g class="b">
<circle cx="524" cy="402" r="6"/>
</g>
<g class="o">
<circle cx="404" cy="351" r="6"/>
</g>
<g class="b">
<circle cx="450" cy="180" r="6"/>
</g>
<g class="o">
<circle cx="481" cy="300" r="6"/>
<circle cx="425" cy="253" r="6"/>
<circle cx="447" cy="260" r="6"/>
<circle cx="509" cy="244" r="6"/>
<circle cx="482" cy="214" r="6"/>
<circle cx="411" cy="202" r="6"/>
<circle cx="496" cy="191" r="6"/>
<circle cx="440" cy="187" r="6"/>
<circle cx="441" cy="399" r="6"/>
<circle cx="434" cy="199" r="6"/>
</g>
<g class="b">
<circle cx="515" cy="330" r="6"/>
<circle cx="520" cy="158" r="6"/>
</g>
<g class="o">
<circle cx="401" cy="338" r="6"/>
</g>
<g class="b">
<circle cx="432" cy="390" r="6"/>
<circle cx="488" cy="238" r="6"/>
<circle cx="392" cy="348" r="6"/>
</g>
<g class="o">
<circle cx="414" cy="235" r="6"/>
<circle cx="363" cy="228" r="6"/>
<circle cx="411" cy="179" r="6"/>
<circle cx="378" cy="295" r="6"/>
<circle cx="402" cy="369" r="6"/>
<circle cx="432" cy="301" r="6"/>
<circle cx="399" cy="258" r="6"/>
</g>
<g class="b">
<circle cx="495" cy="338" r="6"/>
</g>
<g class="o">
<circle cx="377" cy="132" r="6"/>
<circle cx="396" cy="219" r="6"/>
<circle cx="480" cy="356" r="6"/>
</g>
<g class="b">
<circle cx="419" cy="297" r="6"/>
</g>
<g class="o">
<circle cx="431" cy="157" r="6"/>
</g>
<g class="b">
<circle cx="429" cy="227" r="6"/>
<circle cx="457" cy="266" r="6"/>
</g>
<g class="o">
<circle cx="381" cy="368" r="6"/>
</g>
<g class="b">
<circle cx="502" cy="141" r="6"/>
</g>
<g class="o">
<circle cx="402" cy="217" r="6"/>
</g>
<g class="b">
<circle cx="464" cy="292" r="6"/>
</g>
<g class="o">
<circle cx="345" cy="234" r="6"/>
</g>
<g class="b">
<circle cx="484" cy="274" r="6"/>
<circle cx="472" cy="484" r="6"/>
</g>
<g class="o">
<circle cx="481" cy="307" r="6"/>
<circle cx="347" cy="205" r="6"/>
<circle cx="367" cy="147" r="6"/>
</g>
<g class="b">
<circle cx="398" cy="412" r="6"/>
</g>
<g class="o">
<circle cx="425" cy="256" r="6"/>
<circle cx="384" cy="372" r="6"/>
<circle cx="472" cy="221" r="6"/>
</g>
<g class="b">
<circle cx="460" cy="269" r="6"/>
<circle cx="545" cy="134" r="6"/>
<circle cx="438" cy="381" r="6"/>
</g>
<g class="o">
<circle cx="432" cy="324" r="6"/>
</g>
<g class="b">
<circle cx="297" cy="328" r="6"/>
</g>
<g class="o">
<circle cx="294" cy="320" r="6"/>
<circle cx="430" cy="300" r="6"/>
<circle cx="452" cy="268" r="6"/>
</g>
<g class="b">
<circle cx="272" cy="445" r="6"/>
</g>
<g class="o">
<circle cx="433" cy="404" r="6"/>
</g>
<g class="b">
<circle cx="485" cy="171" r="6"/>
</g>
<g class="o">
<circle cx="353" cy="313" r="6"/>
<circle cx="424" cy="345" r="6"/>
</g>
<g class="b">
<circle cx="452" cy="198" r="6"/>
<circle cx="509" cy="217" r="6"/>
</g>
<g class="o">
<circle cx="447" cy="235" r="6"/>
</g>
<g class="b">
<circle cx="448" cy="244" r="6"/>
</g>
<g class="o">
<circle cx="430" cy="377" r="6"/>
<circle cx="378" cy="206" r="6"/>
<circle cx="372" cy="350" r="6"/>
</g>
<g class="b">
<circle cx="524" cy="193" r="6"/>
</g>
<g class="o">
<circle cx="420" cy="260" r="6"/>
</g>
<g class="b">
<circle cx="451" cy="177" r="6"/>
</g>
<g class="o">
<circle cx="538" cy="372" r="6"/>
</g>
<g class="b">
<circle cx="390" cy="241" r="6"/>
</g>
<g class="o">
<circle cx="448" cy="256" r="6"/>
</g>
<g class="b">
<circle cx="516" cy="284" r="6"/>
<circle cx="453" cy="322" r="6"/>
<circle cx="503" cy="313" r="6"/>
<circle cx="427" cy="447" r="6"/>
</g>
<g class="o">
<circle cx="497" cy="256" r="6"/>
</g>
<g class="b">
<circle cx="313" cy="396" r="6"/>
<circle cx="349" cy="334" r="6"/>
</g>
<g class="o">
<circle cx="385" cy="327" r="6"/>
</g>
<g class="b">
<circle cx="506" cy="209" r="6"/>
<circle cx="475" cy="271" r="6"/>
<circle cx="402" cy="164" r="6"/>
</g>
<g class="o">
<circle cx="470" cy="319" r="6"/>
</g>
<g class="b">
<circle cx="442" cy="222" r="6"/>
</g>
<g class="o">
<circle cx="430" cy="215" r="6"/>
<circle cx="380" cy="274" r="6"/>
<circle cx="434" cy="210" r="6"/>
<circle cx="391" cy="328" r="6"/>
<circle cx="370" cy="382" r="6"/>
<circle cx="337" cy="269" r="6"/>
</g>
<g class="b">
<circle cx="396" cy="158" r="6"/>
<circle cx="332" cy="455" r="6"/>
</g>
<g class="o">
<circle cx="433" cy="348" r="6"/>
</g>
<g class="b">
<circle cx="477" cy="149" r="6"/>
</g>
<g class="o">
<circle cx="437" cy="246" r="6"/>
<circle cx="477" cy="273" r="6"/>
<circle cx="377" cy="291" r="6"/>
<circle cx="423" cy="324" r="6"/>
<circle cx="406" cy="331" r="6"/>
<circle cx="346" cy="268" r="6"/>
<circle cx="351" cy="169" r="6"/>
<circle cx="526" cy="239" r="6"/>
</g>
<g class="b">
<circle cx="366" cy="264" r="6"/>
</g>
<g class="o">
<circle cx="442" cy="246" r="6"/>
</g>
<g class="b">
<circle cx="327" cy="400" r="6"/>
</g>
<g class="o">
<circle cx="461" cy="350" r="6"/>
<circle cx="499" cy="280" r="6"/>
<circle cx="342" cy="291" r="6"/>
<circle cx="460" cy="347" r="6"/>
<circle cx="398" cy="291" r="6"/>
<circle cx="404" cy="228" r="6"/>
<circle cx="402" cy="209" r="6"/>
<circle cx="465" cy="249" r="6"/>
<circle cx="392" cy="319" r="6"/>
<circle cx="405" cy="163" r="6"/>
</g>
<g class="b">
<circle cx="401" cy="402" r="6"/>
</g>
<g class="o">
<circle cx="472" cy="243" r="6"/>
</g>
<g class="b">
<circle cx="481" cy="357" r="6"/>
<circle cx="289" cy="394" r="6"/>
</g>
<g class="o">
<circle cx="472" cy="361" r="6"/>
</g>
<g class="b">
<circle cx="339" cy="377" r="6"/>
</g>
<g class="o">
<circle cx="453" cy="198" r="6"/>
<circle cx="399" cy="282" r="6"/>
<circle cx="439" cy="215" r="6"/>
<circle cx="414" cy="311" r="6"/>
<circle cx="372" cy="384" r="6"/>
<circle cx="452" cy="379" r="6"/>
</g>
<g class="b">
<circle cx="639" cy="234" r="6"/>
</g>
<g class="o">
<circle cx="377" cy="218" r="6"/>
<circle cx="360" cy="323" r="6"/>
</g>
<g class="b">
<circle cx="493" cy="408" r="6"/>
<circle cx="331" cy="391" r="6"/>
</g>
<g class="o">
<circle cx="429" cy="265" r="6"/>
</g>
<g class="b">
<circle cx="488" cy="377" r="6"/>
</g>
<g class="o">
<circle cx="445" cy="216" r="6"/>
</g>
<g class="b">
<circle cx="475" cy="241" r="6"/>
</g>
<g class="o">
<circle cx="412" cy="296" r="6"/>
<circle cx="474" cy="254" r="6"/>
</g>
<g class="b">
<circle cx="516" cy="295" r="6"/>
</g>
<g class="o">
<circle cx="384" cy="325" r="6"/>
</g>
<g class="b">
<circle cx="355" cy="205" r="6"/>
<circle cx="383" cy="192" r="6"/>
</g>
<g class="o">
<circle cx="368" cy="318" r="6"/>
</g>
<g class="b">
<circle cx="573" cy="214" r="6"/>
</g>
<g class="o">
<circle cx="435" cy="378" r="6"/>
<circle cx="357" cy="261" r="6"/>
</g>
<g class="b">
<circle cx="462" cy="343" r="6"/>
<circle cx="332" cy="394" r="6"/>
<circle cx="331" cy="375" r="6"/>
<circle cx="430" cy="167" r="6"/>
<circle cx="434" cy="276" r="6"/>
<circle cx="393" cy="259" r="6"/>
</g>
<g class="o">
<circle cx="418" cy="161" r="6"/>
</g>
<g class="b">
<circle cx="460" cy="152" r="6"/>
</g>
<g class="o">
<circle cx="468" cy="194" r="6"/>
</g>
<g class="b">
<circle cx="463" cy="240" r="6"/>
</g>
<g class="o">
<circle cx="418" cy="247" r="6"/>
<circle cx="408" cy="184" r="6"/>
</g>
<g class="b">
<circle cx="365" cy="307" r="6"/>
<circle cx="460" cy="232" r="6"/>
</g>
<g class="o">
<circle cx="443" cy="315" r="6"/>
<circle cx="394" cy="234" r="6"/>
<circle cx="496" cy="180" r="6"/>
<circle cx="303" cy="116" r="6"/>
<circle cx="493" cy="345" r="6"/>
<circle cx="456" cy="358" r="6"/>
<circle cx="423" cy="207" r="6"/>
<circle cx="424" cy="295" r="6"/>
</g>
<g class="b">
<circle cx="363" cy="380" r="6"/>
</g>
<g class="o">
<circle cx="470" cy="313" r="6"/>
<circle cx="436" cy="180" r="6"/>
<circle cx="392" cy="174" r="6"/>
<circle cx="428" cy="151" r="6"/>
<circle cx="491" cy="343" r="6"/>
<circle cx="469" cy="400" r="6"/>
<circle cx="369" cy="275" r="6"/>
<circle cx="398" cy="321" r="6"/>
<circle cx="377" cy="248" r="6"/>
<circle cx="453" cy="406" r="6"/>
</g>
<g class="b">
<circle cx="460" cy="172" r="6"/>
</g>
<g class="o">
<circle cx="453" cy="279" r="6"/>
<circle cx="390" cy="258" r="6"/>
</g>
<g class="b">
<circle cx="536" cy="213" r="6"/>
</g>
<g class="o">
<circle cx="442" cy="347" r="6"/>
</g>
<g class="b">
<circle cx="459" cy="454" r="6"/>
</g>
<g class="o">
<circle cx="522" cy="386" r="6"/>
<circle cx="464" cy="293" r="6"/>
<circle cx="384" cy="207" r="6"/>
</g>
<g class="b">
<circle cx="507" cy="294" r="6"/>
</g>
<g class="o">
<circle cx="454" cy="388" r="6"/>
<circle cx="432" cy="294" r="6"/>
<circle cx="426" cy="376" r="6"/>
<circle cx="417" cy="219" r="6"/>
<circle cx="456" cy="159" r="6"/>
</g>
<g class="b">
<circle cx="375" cy="340" r="6"/>
</g>
<g class="o">
<circle cx="486" cy="267" r="6"/>
</g>
<g class="b">
<circle cx="463" cy="391" r="6"/>
<circle cx="425" cy="223" r="6"/>
</g>
<g class="o">
<circle cx="411" cy="346" r="6"/>
<circle cx="455" cy="159" r="6"/>
<circle cx="388" cy="314" r="6"/>
<circle cx="453" cy="309" r="6"/>
<circle cx="346" cy="274" r="6"/>
</g>
<g class="b">
<circle cx="449" cy="441" r="6"/>
</g>
<g class="o">
<circle cx="395" cy="147" r="6"/>
</g>
<g class="b">
<circle cx="489" cy="380" r="6"/>
<circle cx="497" cy="303" r="6"/>
<circle cx="343" cy="367" r="6"/>
</g>
<g class="o">
<circle cx="394" cy="323" r="6"/>
<circle cx="464" cy="246" r="6"/>
<circle cx="388" cy="265" r="6"/>
</g>
<g class="b">
<circle cx="481" cy="321" r="6"/>
</g>
<g class="o">
<circle cx="468" cy="257" r="6"/>
<circle cx="407" cy="232" r="6"/>
<circle cx="416" cy="334" r="6"/>
<circle cx="396" cy="379" r="6"/>
<circle cx="408" cy="228" r="6"/>
<circle cx="545" cy="213" r="6"/>
<circle cx="460" cy="534" r="6"/>
</g>
<g class="b">
<circle cx="447" cy="338" r="6"/>
</g>
<g class="o">
<circle cx="333" cy="329" r="6"/>
</g>
<g class="b">
<circle cx="436" cy="437" r="6"/>
</g>
<g class="o">
<circle cx="486" cy="325" r="6"/>
<circle cx="500" cy="363" r="6"/>
<circle cx="505" cy="184" r="6"/>
</g>
<g class="b">
<circle cx="361" cy="252" r="6"/>
</g>
<g class="o">
<circle cx="432" cy="273" r="6"/>
<circle cx="363" cy="176" r="6"/>
<circle cx="392" cy="321" r="6"/>
</g>
<g class="b">
<circle cx="445" cy="275" r="6"/>
</g>
<g class="o">
<circle cx="446" cy="229" r="6"/>
</g>
<g class="b">
<circle cx="325" cy="362" r="6"/>
</g>
<g class="o">
<circle cx="469" cy="289" r="6"/>
<circle cx="389" cy="302" r="6"/>
<circle cx="341" cy="279" r="6"/>
<circle cx="401" cy="313" r="6"/>
</g>
<g class="b">
<circle cx="381" cy="258" r="6"/>
</g>
<g class="o">
<circle cx="440" cy="392" r="6"/>
<circle cx="406" cy="257" r="6"/>
</g>
<g class="b">
<circle cx="521" cy="196" r="6"/>
</g>
<g class="o">
<circle cx="414" cy="294" r="6"/>
</g>
<g class="b">
<circle cx="417" cy="429" r="6"/>
</g>
<g class="o">
<circle cx="446" cy="151" r="6"/>
<circle cx="363" cy="287" r="6"/>
<circle cx="448" cy="316" r="6"/>
<circle cx="428" cy="159" r="6"/>
<circle cx="450" cy="374" r="6"/>
</g>
<g class="b">
<circle cx="404" cy="291" r="6"/>
</g>
<g class="o">
<circle cx="444" cy="253" r="6"/>
<circle cx="443" cy="316" r="6"/>
<circle cx="420" cy="331" r="6"/>
</g>
<g class="b">
<circle cx="491" cy="393" r="6"/>
<circle cx="532" cy="172" r="6"/>
</g>
<g class="o">
<circle cx="387" cy="393" r="6"/>
<circle cx="452" cy="352" r="6"/>
<circle cx="442" cy="355" r="6"/>
</g>
<g class="b">
<circle cx="507" cy="152" r="6"/>
</g>
<g class="o">
<circle cx="359" cy="192" r="6"/>
<circle cx="388" cy="241" r="6"/>
<circle cx="497" cy="235" r="6"/>
<circle cx="387" cy="235" r="6"/>
<circle cx="387" cy="328" r="6"/>
</g>
<g class="b">
<circle cx="496" cy="255" r="6"/>
</g>
<g class="o">
<circle cx="459" cy="186" r="6"/>
</g>
<g class="b">
<circle cx="527" cy="313" r="6"/>
<circle cx="463" cy="309" r="6"/>
</g>
<g class="o">
<circle cx="357" cy="272" r="6"/>
</g>
<g class="b">
<circle cx="463" cy="153" r="6"/>
</g>
<g class="o">
<circle cx="423" cy="191" r="6"/>
<circle cx="411" cy="232" r="6"/>
<circle cx="426" cy="400" r="6"/>
<circle cx="450" cy="340" r="6"/>
<circle cx="446" cy="167" r="6"/>
<circle cx="462" cy="206" r="6"/>
</g>
<g class="b">
<circle cx="406" cy="295" r="6"/>
<circle cx="541" cy="312" r="6"/>
<circle cx="498" cy="197" r="6"/>
</g>
<g class="o">
<circle cx="346" cy="308" r="6"/>
<circle cx="387" cy="192" r="6"/>
<circle cx="369" cy="283" r="6"/>
<circle cx="437" cy="233" r="6"/>
<circle cx="362" cy="307" r="6"/>
<circle cx="432" cy="393" r="6"/>
</g>
<g class="b">
<circle cx="420" cy="191" r="6"/>
<circle cx="451" cy="286" r="6"/>
</g>
<g class="o">
<circle cx="486" cy="183" r="6"/>
<circle cx="545" cy="311" r="6"/>
<circle cx="477" cy="279" r="6"/>
</g>
<g class="b">
<circle cx="361" cy="223" r="6"/>
</g>
<g class="o">
<circle cx="441" cy="300" r="6"/>
<circle cx="498" cy="317" r="6"/>
<circle cx="401" cy="295" r="6"/>
<circle cx="363" cy="311" r="6"/>
</g>
<g class="b">
<circle cx="498" cy="213" r="6"/>
<circle cx="404" cy="404" r="6"/>
<circle cx="458" cy="416" r="6"/>
<circle cx="402" cy="386" r="6"/>
<circle cx="311" cy="413" r="6"/>
</g>
<g class="o">
<circle cx="409" cy="326" r="6"/>
</g>
<g class="b">
<circle cx="524" cy="240" r="6"/>
</g>
<g class="o">
<circle cx="454" cy="208" r="6"/>
<circle cx="331" cy="296" r="6"/>
</g>
<g class="b">
<circle cx="427" cy="214" r="6"/>
</g>
<g class="o">
<circle cx="447" cy="235" r="6"/>
</g>
<g class="b">
<circle cx="497" cy="226" r="6"/>
<circle cx="530" cy="243" r="6"/>
<circle cx="450" cy="344" r="6"/>
</g>
<g class="o">
<circle cx="439" cy="227" r="6"/>
</g>
<g class="b">
<circle cx="362" cy="326" r="6"/>
<circle cx="347" cy="440" r="6"/>
</g>
<g class="o">
<circle cx="436" cy="193" r="6"/>
</g>
<g class="b">
<circle cx="506" cy="293" r="6"/>
</g>
<g class="o">
<circle cx="472" cy="388" r="6"/>
<circle cx="379" cy="191" r="6"/>
<circle cx="490" cy="320" r="6"/>
<circle cx="467" cy="301" r="6"/>
</g>
<g class="b">
<circle cx="410" cy="216" r="6"/>
<circle cx="532" cy="368" r="6"/>
</g>
<g class="o">
<circle cx="484" cy="442" r="6"/>
<circle cx="397" cy="170" r="6"/>
<circle cx="381" cy="247" r="6"/>
<circle cx="515" cy="268" r="6"/>
<circle cx="370" cy="303" r="6"/>
<circle cx="337" cy="313" r="6"/>
</g>
<g class="b">
<circle cx="541" cy="349" r="6"/>
</g>
<g class="o">
<circle cx="402" cy="445" r="6"/>
<circle cx="358" cy="396" r="6"/>
<circle cx="473" cy="232" r="6"/>
<circle cx="381" cy="345" r="6"/>
</g>
<g class="b">
<circle cx="393" cy="215" r="6"/>
<circle cx="507" cy="356" r="6"/>
<circle cx="477" cy="230" r="6"/>
</g>
<g class="o">
<circle cx="374" cy="303" r="6"/>
<circle cx="379" cy="344" r="6"/>
<circle cx="413" cy="321" r="6"/>
<circle cx="316" cy="300" r="6"/>
<circle cx="427" cy="224" r="6"/>
<circle cx="526" cy="457" r="6"/>
<circle cx="487" cy="271" r="6"/>
<circle cx="468" cy="238" r="6"/>
<circle cx="413" cy="326" r="6"/>
<circle cx="398" cy="213" r="6"/>
</g>
<g class="b">
<circle cx="317" cy="375" r="6"/>
<circle cx="390" cy="391" r="6"/>
</g>
<g class="o">
<circle cx="453" cy="379" r="6"/>
<circle cx="499" cy="278" r="6"/>
</g>
<g class="b">
<circle cx="324" cy="423" r="6"/>
</g>
<g class="o">
<circle cx="423" cy="386" r="6"/>
</g>
<g class="b">
<circle cx="457" cy="226" r="6"/>
<circle cx="467" cy="408" r="6"/>
<circle cx="374" cy="208" r="6"/>
<circle cx="451" cy="291" r="6"/>
<circle cx="468" cy="379" r="6"/>
</g>
<g class="o">
<circle cx="466" cy="206" r="6"/>
<circle cx="441" cy="317" r="6"/>
<circle cx="471" cy="316" r="6"/>
</g>
<g class="b">
<circle cx="452" cy="295" r="6"/>
</g>
<g class="o">
<circle cx="366" cy="319" r="6"/>
<circle cx="419" cy="139" r="6"/>
</g>
<g class="b">
<circle cx="528" cy="280" r="6"/>
</g>
<g class="o">
<circle cx="390" cy="359" r="6"/>
</g>
<g class="b">
<circle cx="525" cy="370" r="6"/>
</g>
<g class="o">
<circle cx="456" cy="303" r="6"/>
<circle cx="481" cy="259" r="6"/>
<circle cx="424" cy="407" r="6"/>
<circle cx="444" cy="390" r="6"/>
<circle cx="460" cy="419" r="6"/>
<circle cx="397" cy="166" r="6"/>
<circle cx="476" cy="332" r="6"/>
</g>
<g class="b">
<circle cx="412" cy="366" r="6"/>
<circle cx="463" cy="372" r="6"/>
</g>
<g class="o">
<circle cx="376" cy="360" r="6"/>
<circle cx="392" cy="218" r="6"/>
</g>
<g class="b">
<circle cx="400" cy="230" r="6"/>
<circle cx="509" cy="356" r="6"/>
</g>
<g class="o">
<circle cx="466" cy="360" r="6"/>
</g>
<g class="b">
<circle cx="515" cy="204" r="6"/>
<circle cx="369" cy="243" r="6"/>
</g>
<g class="o">
<circle cx="478" cy="230" r="6"/>
<circle cx="402" cy="245" r="6"/>
</g>
<g class="b">
<circle cx="502" cy="247" r="6"/>
<circle cx="452" cy="520" r="6"/>
</g>
<g class="o">
<circle cx="493" cy="426" r="6"/>
<circle cx="458" cy="245" r="6"/>
<circle cx="503" cy="259" r="6"/>
<circle cx="399" cy="317" r="6"/>
<circle cx="439" cy="343" r="6"/>
<circle cx="123" cy="361" r="6"/>
<circle cx="476" cy="266" r="6"/>
<circle cx="414" cy="310" r="6"/>
</g>
<g class="b">
<circle cx="417" cy="269" r="6"/>
</g>
<g class="o">
<circle cx="402" cy="256" r="6"/>
<circle cx="484" cy="334" r="6"/>
<circle cx="443" cy="235" r="6"/>
</g>
<g class="b">
<circle cx="472" cy="304" r="6"/>
<circle cx="342" cy="343" r="6"/>
<circle cx="464" cy="196" r="6"/>
</g>
<g class="o">
<circle cx="378" cy="306" r="6"/>
<circle cx="462" cy="348" r="6"/>
<circle cx="416" cy="212" r="6"/>
</g>
<g class="b">
<circle cx="414" cy="417" r="6"/>
</g>
<g class="o">
<circle cx="404" cy="161" r="6"/>
<circle cx="358" cy="284" r="6"/>
<circle cx="419" cy="221" r="6"/>
</g>
<g class="b">
<circle cx="512" cy="287" r="6"/>
<circle cx="305" cy="411" r="6"/>
</g>
<g class="o">
<circle cx="453" cy="367" r="6"/>
<circle cx="496" cy="279" r="6"/>
<circle cx="391" cy="303" r="6"/>
<circle cx="428" cy="387" r="6"/>
<circle cx="398" cy="140" r="6"/>
</g>
<g class="b">
<circle cx="379" cy="393" r="6"/>
<circle cx="439" cy="226" r="6"/>
</g>
<g class="o">
<circle cx="468" cy="189" r="6"/>
</g>
<g class="b">
<circle cx="463" cy="204" r="6"/>
<circle cx="425" cy="336" r="6"/>
</g>
<g class="o">
<circle cx="394" cy="374" r="6"/>
</g>
<g class="b">
<circle cx="338" cy="369" r="6"/>
<circle cx="385" cy="228" r="6"/>
</g>
<g class="o">
<circle cx="447" cy="235" r="6"/>
<circle cx="449" cy="407" r="6"/>
</g>
<g class="b">
<circle cx="517" cy="330" r="6"/>
<circle cx="425" cy="438" r="6"/>
<circle cx="491" cy="171" r="6"/>
<circle cx="476" cy="179" r="6"/>
</g>
<g class="o">
<circle cx="487" cy="232" r="6"/>
</g>
<g class="b">
<circle cx="478" cy="401" r="6"/>
</g>
<g class="o">
<circle cx="408" cy="188" r="6"/>
<circle cx="469" cy="337" r="6"/>
<circle cx="417" cy="181" r="6"/>
<circle cx="396" cy="328" r="6"/>
</g>
<g class="b">
<circle cx="438" cy="219" r="6"/>
</g>
<g class="o">
<circle cx="475" cy="191" r="6"/>
</g>
<g class="b">
<circle cx="515" cy="305" r="6"/>
</g>
<g class="o">
<circle cx="474" cy="199" r="6"/>
<circle cx="369" cy="162" r="6"/>
<circle cx="390" cy="241" r="6"/>
</g>
<g class="b">
<circle cx="513" cy="189" r="6"/>
<circle cx="294" cy="348" r="6"/>
</g>
<g class="o">
<circle cx="363" cy="241" r="6"/>
<circle cx="364" cy="306" r="6"/>
<circle cx="349" cy="201" r="6"/>
</g>
<g class="b">
<circle cx="368" cy="335" r="6"/>
</g>
<g class="o">
<circle cx="439" cy="424" r="6"/>
<circle cx="462" cy="255" r="6"/>
<circle cx="426" cy="274" r="6"/>
<circle cx="404" cy="339" r="6"/>
<circle cx="420" cy="335" r="6"/>
</g>
<g class="b">
<circle cx="482" cy="335" r="6"/>
</g>
<g class="o">
<circle cx="454" cy="313" r="6"/>
</g>
<g class="b">
<circle cx="541" cy="219" r="6"/>
<circle cx="419" cy="389" r="6"/>
</g>
<g class="o">
<circle cx="453" cy="299" r="6"/>
<circle cx="406" cy="201" r="6"/>
</g>
<g class="b">
<circle cx="532" cy="126" r="6"/>
<circle cx="421" cy="309" r="6"/>
<circle cx="487" cy="143" r="6"/>
</g>
<g class="o">
<circle cx="449" cy="188" r="6"/>
</g>
<g class="b">
<circle cx="323" cy="432" r="6"/>
<circle cx="440" cy="242" r="6"/>
</g>
<g class="o">
<circle cx="456" cy="425" r="6"/>
<circle cx="383" cy="330" r="6"/>
<circle cx="375" cy="210" r="6"/>
<circle cx="407" cy="226" r="6"/>
<circle cx="469" cy="340" r="6"/>
</g>
<g class="b">
<circle cx="402" cy="201" r="6"/>
</g>
<g class="o">
<circle cx="391" cy="222" r="6"/>
<circle cx="450" cy="291" r="6"/>
<circle cx="402" cy="320" r="6"/>
<circle cx="365" cy="205" r="6"/>
<circle cx="412" cy="215" r="6"/>
<circle cx="421" cy="309" r="6"/>
<circle cx="391" cy="288" r="6"/>
<circle cx="447" cy="364" r="6"/>
<circle cx="340" cy="301" r="6"/>
</g>
<g class="b">
<circle cx="540" cy="234" r="6"/>
</g>
<g class="o">
<circle cx="428" cy="178" r="6"/>
<circle cx="446" cy="401" r="6"/>
</g>
<g class="b">
<circle cx="474" cy="325" r="6"/>
<circle cx="461" cy="450" r="6"/>
</g>
<g class="o">
<circle cx="443" cy="186" r="6"/>
<circle cx="501" cy="330" r="6"/>
<circle cx="493" cy="247" r="6"/>
<circle cx="517" cy="264" r="6"/>
</g>
<g class="b">
<circle cx="523" cy="252" r="6"/>
<circle cx="566" cy="190" r="6"/>
</g>
<g class="o">
<circle cx="420" cy="275" r="6"/>
</g>
<g class="b">
<circle cx="397" cy="406" r="6"/>
</g>
<g class="o">
<circle cx="514" cy="232" r="6"/>
</g>
<g class="b">
<circle cx="452" cy="227" r="6"/>
<circle cx="390" cy="404" r="6"/>
<circle cx="519" cy="346" r="6"/>
<circle cx="487" cy="316" r="6"/>
</g>
<g class="o">
<circle cx="426" cy="333" r="6"/>
<circle cx="498" cy="217" r="6"/>
<circle cx="421" cy="235" r="6"/>
<circle cx="440" cy="225" r="6"/>
<circle cx="480" cy="353" r="6"/>
<circle cx="342" cy="354" r="6"/>
</g>
<g class="b">
<circle cx="455" cy="268" r="6"/>
<circle cx="337" cy="430" r="6"/>
</g>
<g class="o">
<circle cx="420" cy="272" r="6"/>
</g>
<g class="b">
<circle cx="500" cy="296" r="6"/>
</g>
<g class="o">
<circle cx="450" cy="243" r="6"/>
<circle cx="503" cy="336" r="6"/>
</g>
<g class="b">
<circle cx="534" cy="242" r="6"/>
</g>
<g class="o">
<circle cx="492" cy="233" r="6"/>
</g>
<g class="b">
<circle cx="498" cy="282" r="6"/>
</g>
<g class="o">
<circle cx="407" cy="200" r="6"/>
</g>
<g class="b">
<circle cx="522" cy="272" r="6"/>
</g>
<g class="o">
<circle cx="472" cy="341" r="6"/>
</g>
<g class="b">
<circle cx="506" cy="309" r="6"/>
</g>
<g class="o">
<circle cx="406" cy="223" r="6"/>
<circle cx="484" cy="196" r="6"/>
</g>
<g class="b">
<circle cx="297" cy="276" r="6"/>
<circle cx="310" cy="434" r="6"/>
</g>
<g class="o">
<circle cx="291" cy="331" r="6"/>
<circle cx="388" cy="372" r="6"/>
<circle cx="405" cy="330" r="6"/>
<circle cx="374" cy="270" r="6"/>
<circle cx="421" cy="341" r="6"/>
<circle cx="441" cy="301" r="6"/>
</g>
<g class="b">
<circle cx="479" cy="209" r="6"/>
</g>
<g class="o">
<circle cx="488" cy="203" r="6"/>
<circle cx="558" cy="309" r="6"/>
<circle cx="488" cy="305" r="6"/>
<circle cx="376" cy="306" r="6"/>
<circle cx="371" cy="275" r="6"/>
</g>
<g class="b">
<circle cx="395" cy="236" r="6"/>
</g>
<g class="o">
<circle cx="415" cy="331" r="6"/>
<circle cx="525" cy="295" r="6"/>
<circle cx="395" cy="392" r="6"/>
</g>
<g class="b">
<circle cx="499" cy="394" r="6"/>
</g>
<g class="o">
<circle cx="441" cy="184" r="6"/>
<circle cx="477" cy="290" r="6"/>
<circle cx="376" cy="226" r="6"/>
</g>
<g class="b">
<circle cx="404" cy="321" r="6"/>
</g>
<g class="o">
<circle cx="401" cy="365" r="6"/>
<circle cx="412" cy="366" r="6"/>
</g>
<g class="b">
<circle cx="392" cy="244" r="6"/>
</g>
<g class="o">
<circle cx="418" cy="371" r="6"/>
</g>
<g class="b">
<circle cx="388" cy="323" r="6"/>
</g>
<g class="o">
<circle cx="375" cy="372" r="6"/>
</g>
<g class="b">
<circle cx="423" cy="296" r="6"/>
<circle cx="395" cy="205" r="6"/>
</g>
<g class="o">
<circle cx="462" cy="257" r="6"/>
<circle cx="451" cy="314" r="6"/>
<circle cx="442" cy="284" r="6"/>
<circle cx="360" cy="319" r="6"/>
<circle cx="473" cy="233" r="6"/>
<circle cx="369" cy="365" r="6"/>
</g>
<g class="b">
<circle cx="429" cy="229" r="6"/>
</g>
<g class="o">
<circle cx="468" cy="224" r="6"/>
<circle cx="483" cy="236" r="6"/>
</g>
<g class="b">
<circle cx="529" cy="318" r="6"/>
</g>
<g class="o">
<circle cx="501" cy="385" r="6"/>
</g>
<g class="b">
<circle cx="397" cy="269" r="6"/>
<circle cx="403" cy="264" r="6"/>
<circle cx="518" cy="177" r="6"/>
</g>
<g class="o">
<circle cx="466" cy="174" r="6"/>
</g>
<g class="b">
<circle cx="493" cy="244" r="6"/>
</g>
<g class="o">
<circle cx="422" cy="321" r="6"/>
<circle cx="427" cy="142" r="6"/>
<circle cx="524" cy="268" r="6"/>
<circle cx="514" cy="181" r="6"/>
<circle cx="370" cy="253" r="6"/>
<circle cx="325" cy="438" r="6"/>
<circle cx="501" cy="350" r="6"/>
<circle cx="396" cy="281" r="6"/>
</g>
<g class="b">
<circle cx="522" cy="192" r="6"/>
<circle cx="473" cy="158" r="6"/>
</g>
<g class="o">
<circle cx="411" cy="216" r="6"/>
<circle cx="444" cy="250" r="6"/>
</g>
<g class="b">
<circle cx="288" cy="414" r="6"/>
</g>
<g class="o">
<circle cx="506" cy="331" r="6"/>
<circle cx="392" cy="382" r="6"/>
<circle cx="463" cy="319" r="6"/>
</g>
<g class="b">
<circle cx="420" cy="178" r="6"/>
</g>
<g class="o">
<circle cx="335" cy="182" r="6"/>
<circle cx="425" cy="344" r="6"/>
<circle cx="464" cy="360" r="6"/>
<circle cx="363" cy="273" r="6"/>
<circle cx="443" cy="429" r="6"/>
</g>
<g class="b">
<circle cx="380" cy="378" r="6"/>
</g>
<g class="o">
<circle cx="368" cy="303" r="6"/>
<circle cx="456" cy="230" r="6"/>
<circle cx="470" cy="376" r="6"/>
<circle cx="404" cy="366" r="6"/>
<circle cx="313" cy="210" r="6"/>
</g>
<g class="b">
<circle cx="412" cy="319" r="6"/>
<circle cx="428" cy="157" r="6"/>
</g>
<g class="o">
<circle cx="354" cy="279" r="6"/>
<circle cx="410" cy="215" r="6"/>
<circle cx="392" cy="119" r="6"/>
</g>
<g class="b">
<circle cx="367" cy="338" r="6"/>
<circle cx="541" cy="270" r="6"/>
</g>
<g class="o">
<circle cx="479" cy="199" r="6"/>
</g>
<g class="b">
<circle cx="525" cy="301" r="6"/>
</g>
<g class="o">
<circle cx="412" cy="336" r="6"/>
</g>
<g class="b">
<circle cx="371" cy="193" r="6"/>
</g>
<g class="o">
<circle cx="390" cy="353" r="6"/>
<circle cx="481" cy="285" r="6"/>
<circle cx="463" cy="311" r="6"/>
</g>
<g class="b">
<circle cx="481" cy="303" r="6"/>
<circle cx="333" cy="314" r="6"/>
<circle cx="413" cy="437" r="6"/>
<circle cx="440" cy="183" r="6"/>
</g>
<g class="o">
<circle cx="442" cy="397" r="6"/>
<circle cx="395" cy="188" r="6"/>
<circle cx="376" cy="282" r="6"/>
<circle cx="423" cy="353" r="6"/>
<circle cx="432" cy="326" r="6"/>
<circle cx="437" cy="163" r="6"/>
<circle cx="450" cy="239" r="6"/>
<circle cx="505" cy="277" r="6"/>
</g>
<g class="b">
<circle cx="529" cy="312" r="6"/>
<circle cx="506" cy="280" r="6"/>
<circle cx="532" cy="285" r="6"/>
</g>
<g class="o">
<circle cx="408" cy="264" r="6"/>
</g>
<g class="b">
<circle cx="448" cy="277" r="6"/>
<circle cx="422" cy="368" r="6"/>
</g>
<g class="o">
<circle cx="364" cy="200" r="6"/>
<circle cx="499" cy="289" r="6"/>
<circle cx="419" cy="383" r="6"/>
<circle cx="567" cy="309" r="6"/>
<circle cx="466" cy="412" r="6"/>
<circle cx="388" cy="223" r="6"/>
<circle cx="482" cy="148" r="6"/>
</g>
<g class="b">
<circle cx="523" cy="290" r="6"/>
</g>
<g class="o">
<circle cx="391" cy="353" r="6"/>
</g>
<g class="b">
<circle cx="411" cy="281" r="6"/>
<circle cx="322" cy="420" r="6"/>
<circle cx="351" cy="371" r="6"/>
</g>
<g class="o">
<circle cx="466" cy="285" r="6"/>
</g>
<g class="b">
<circle cx="351" cy="322" r="6"/>
<circle cx="472" cy="358" r="6"/>
</g>
<g class="o">
<circle cx="435" cy="282" r="6"/>
</g>
<g class="b">
<circle cx="418" cy="287" r="6"/>
</g>
<g class="o">
<circle cx="463" cy="225" r="6"/>
<circle cx="417" cy="247" r="6"/>
<circle cx="429" cy="226" r="6"/>
</g>
<g class="b">
<circle cx="281" cy="415" r="6"/>
<circle cx="458" cy="247" r="6"/>
<circle cx="511" cy="187" r="6"/>
</g>
<g class="o">
<circle cx="376" cy="288" r="6"/>
</g>
<g class="b">
<circle cx="434" cy="404" r="6"/>
<circle cx="499" cy="378" r="6"/>
</g>
<g class="o">
<circle cx="461" cy="303" r="6"/>
<circle cx="408" cy="407" r="6"/>
<circle cx="421" cy="169" r="6"/>
<circle cx="488" cy="289" r="6"/>
</g>
<g class="b">
<circle cx="471" cy="324" r="6"/>
<circle cx="531" cy="200" r="6"/>
<circle cx="382" cy="275" r="6"/>
<circle cx="437" cy="238" r="6"/>
<circle cx="478" cy="274" r="6"/>
<circle cx="548" cy="382" r="6"/>
<circle cx="475" cy="422" r="6"/>
</g>
<g class="o">
<circle cx="390" cy="173" r="6"/>
<circle cx="466" cy="240" r="6"/>
</g>
<g class="b">
<circle cx="437" cy="326" r="6"/>
<circle cx="542" cy="167" r="6"/>
<circle cx="463" cy="212" r="6"/>
</g>
<g class="o">
<circle cx="369" cy="267" r="6"/>
<circle cx="480" cy="215" r="6"/>
<circle cx="430" cy="207" r="6"/>
<circle cx="404" cy="174" r="6"/>
</g>
<g class="b">
<circle cx="305" cy="349" r="6"/>
</g>
<g class="o">
<circle cx="406" cy="276" r="6"/>
<circle cx="437" cy="169" r="6"/>
<circle cx="499" cy="260" r="6"/>
<circle cx="450" cy="332" r="6"/>
<circle cx="471" cy="320" r="6"/>
<circle cx="399" cy="185" r="6"/>
</g>
<g class="b">
<circle cx="403" cy="405" r="6"/>
<circle cx="328" cy="387" r="6"/>
</g>
<g class="o">
<circle cx="414" cy="305" r="6"/>
<circle cx="384" cy="222" r="6"/>
<circle cx="387" cy="319" r="6"/>
</g>
<g class="b">
<circle cx="409" cy="397" r="6"/>
</g>
<g class="o">
<circle cx="387" cy="313" r="6"/>
</g>
<g class="b">
<circle cx="364" cy="257" r="6"/>
<circle cx="382" cy="305" r="6"/>
</g>
<g class="o">
<circle cx="413" cy="413" r="6"/>
<circle cx="397" cy="280" r="6"/>
<circle cx="391" cy="242" r="6"/>
</g>
<g class="b">
<circle cx="354" cy="401" r="6"/>
</g>
<g class="o">
<circle cx="453" cy="320" r="6"/>
<circle cx="452" cy="397" r="6"/>
<circle cx="416" cy="252" r="6"/>
<circle cx="457" cy="391" r="6"/>
<circle cx="403" cy="296" r="6"/>
<circle cx="377" cy="316" r="6"/>
<circle cx="377" cy="199" r="6"/>
</g>
<g class="b">
<circle cx="455" cy="303" r="6"/>
</g>
<g class="o">
<circle cx="494" cy="271" r="6"/>
<circle cx="424" cy="167" r="6"/>
<circle cx="252" cy="178" r="6"/>
<circle cx="394" cy="294" r="6"/>
</g>
<g class="b">
<circle cx="500" cy="403" r="6"/>
<circle cx="352" cy="358" r="6"/>
<circle cx="425" cy="327" r="6"/>
<circle cx="439" cy="290" r="6"/>
<circle cx="434" cy="391" r="6"/>
</g>
<g class="o">
<circle cx="382" cy="236" r="6"/>
<circle cx="531" cy="249" r="6"/>
<circle cx="425" cy="328" r="6"/>
</g>
<g class="b">
<circle cx="447" cy="194" r="6"/>
</g>
<g class="o">
<circle cx="410" cy="154" r="6"/>
<circle cx="410" cy="367" r="6"/>
<circle cx="477" cy="236" r="6"/>
<circle cx="465" cy="247" r="6"/>
</g>
<g class="b">
<circle cx="386" cy="354" r="6"/>
</g>
<g class="o">
<circle cx="482" cy="404" r="6"/>
<circle cx="389" cy="214" r="6"/>
<circle cx="427" cy="315" r="6"/>
<circle cx="400" cy="206" r="6"/>
</g>
<g class="b">
<circle cx="398" cy="227" r="6"/>
</g>
<g class="o">
<circle cx="543" cy="496" r="6"/>
<circle cx="438" cy="266" r="6"/>
</g>
<g class="b">
<circle cx="351" cy="337" r="6"/>
</g>
<g class="o">
<circle cx="453" cy="402" r="6"/>
</g>
<g class="b">
<circle cx="293" cy="312" r="6"/>
</g>
<g class="o">
<circle cx="493" cy="247" r="6"/>
<circle cx="465" cy="229" r="6"/>
<circle cx="401" cy="347" r="6"/>
<circle cx="417" cy="330" r="6"/>
<circle cx="428" cy="365" r="6"/>
<circle cx="510" cy="319" r="6"/>
<circle cx="453" cy="264" r="6"/>
<circle cx="419" cy="340" r="6"/>
<circle cx="471" cy="320" r="6"/>
</g>
<g class="b">
<circle cx="437" cy="291" r="6"/>
</g>
<g class="o">
<circle cx="473" cy="308" r="6"/>
<circle cx="415" cy="405" r="6"/>
<circle cx="439" cy="159" r="6"/>
</g>
<g class="b">
<circle cx="424" cy="231" r="6"/>
</g>
<g class="o">
<circle cx="406" cy="342" r="6"/>
<circle cx="438" cy="358" r="6"/>
<circle cx="359" cy="395" r="6"/>
<circle cx="451" cy="234" r="6"/>
<circle cx="373" cy="258" r="6"/>
</g>
<g class="b">
<circle cx="427" cy="197" r="6"/>
</g>
<g class="o">
<circle cx="463" cy="233" r="6"/>
</g>
<g class="b">
<circle cx="326" cy="365" r="6"/>
</g>
<g class="o">
<circle cx="379" cy="360" r="6"/>
<circle cx="433" cy="355" r="6"/>
<circle cx="370" cy="320" r="6"/>
<circle cx="395" cy="272" r="6"/>
<circle cx="340" cy="240" r="6"/>
<circle cx="452" cy="351" r="6"/>
</g>
<g class="b">
<circle cx="317" cy="312" r="6"/>
</g>
<g class="o">
<circle cx="489" cy="315" r="6"/>
<circle cx="438" cy="224" r="6"/>
<circle cx="358" cy="231" r="6"/>
<circle cx="484" cy="316" r="6"/>
<circle cx="345" cy="267" r="6"/>
<circle cx="369" cy="202" r="6"/>
</g>
<g class="b">
<circle cx="416" cy="281" r="6"/>
</g>
<g class="o">
<circle cx="404" cy="183" r="6"/>
<circle cx="379" cy="225" r="6"/>
</g>
<g class="b">
<circle cx="417" cy="310" r="6"/>
</g>
<g class="o">
<circle cx="392" cy="238" r="6"/>
</g>
<g class="b">
<circle cx="468" cy="348" r="6"/>
<circle cx="414" cy="452" r="6"/>
<circle cx="519" cy="356" r="6"/>
<circle cx="289" cy="289" r="6"/>
<circle cx="442" cy="408" r="6"/>
</g>
<g class="o">
<circle cx="516" cy="275" r="6"/>
</g>
<g class="b">
<circle cx="569" cy="379" r="6"/>
</g>
<g class="o">
<circle cx="439" cy="399" r="6"/>
<circle cx="421" cy="190" r="6"/>
</g>
<g class="b">
<circle cx="431" cy="371" r="6"/>
<circle cx="441" cy="437" r="6"/>
</g>
<g class="o">
<circle cx="411" cy="215" r="6"/>
<circle cx="435" cy="267" r="6"/>
<circle cx="515" cy="276" r="6"/>
</g>
<g class="b">
<circle cx="503" cy="389" r="6"/>
<circle cx="464" cy="222" r="6"/>
</g>
<g class="o">
<circle cx="385" cy="280" r="6"/>
</g>
<g class="b">
<circle cx="450" cy="221" r="6"/>
</g>
<g class="o">
<circle cx="499" cy="253" r="6"/>
<circle cx="377" cy="271" r="6"/>
<circle cx="430" cy="207" r="6"/>
</g>
<g class="b">
<circle cx="424" cy="292" r="6"/>
<circle cx="476" cy="299" r="6"/>
<circle cx="400" cy="248" r="6"/>
</g>
<g class="o">
<circle cx="384" cy="300" r="6"/>
<circle cx="393" cy="340" r="6"/>
<circle cx="417" cy="198" r="6"/>
<circle cx="418" cy="258" r="6"/>
<circle cx="440" cy="396" r="6"/>
<circle cx="401" cy="168" r="6"/>
<circle cx="399" cy="186" r="6"/>
<circle cx="483" cy="307" r="6"/>
<circle cx="407" cy="282" r="6"/>
<circle cx="469" cy="394" r="6"/>
<circle cx="360" cy="335" r="6"/>
<circle cx="453" cy="289" r="6"/>
</g>
<g class="b">
<circle cx="506" cy="310" r="6"/>
</g>
<g class="o">
<circle cx="420" cy="309" r="6"/>
</g>
<g class="b">
<circle cx="524" cy="342" r="6"/>
<circle cx="403" cy="376" r="6"/>
</g>
<g class="o">
<circle cx="386" cy="182" r="6"/>
<circle cx="370" cy="301" r="6"/>
<circle cx="326" cy="324" r="6"/>
<circle cx="456" cy="208" r="6"/>
</g>
<g class="b">
<circle cx="341" cy="374" r="6"/>
</g>
<g class="o">
<circle cx="405" cy="389" r="6"/>
<circle cx="378" cy="311" r="6"/>
<circle cx="503" cy="181" r="6"/>
<circle cx="434" cy="293" r="6"/>
</g>
<g class="b">
<circle cx="443" cy="362" r="6"/>
</g>
<g class="o">
<circle cx="453" cy="246" r="6"/>
</g>
<g class="b">
<circle cx="276" cy="410" r="6"/>
</g>
<g class="o">
<circle cx="488" cy="355" r="6"/>
</g>
<g class="b">
<circle cx="448" cy="319" r="6"/>
<circle cx="453" cy="420" r="6"/>
</g>
<g class="o">
<circle cx="419" cy="379" r="6"/>
<circle cx="411" cy="228" r="6"/>
<circle cx="446" cy="225" r="6"/>
</g>
<g class="b">
<circle cx="438" cy="412" r="6"/>
</g>
<g class="o">
<circle cx="424" cy="382" r="6"/>
</g>
<g class="b">
<circle cx="471" cy="405" r="6"/>
</g>
<g class="o">
<circle cx="396" cy="412" r="6"/>
</g>
<g class="b">
<circle cx="516" cy="273" r="6"/>
<circle cx="498" cy="331" r="6"/>
<circle cx="526" cy="233" r="6"/>
<circle cx="475" cy="200" r="6"/>
</g>
<g class="o">
<circle cx="456" cy="369" r="6"/>
<circle cx="400" cy="331" r="6"/>
</g>
<g class="b">
<circle cx="353" cy="385" r="6"/>
</g>
<g class="o">
<circle cx="502" cy="310" r="6"/>
<circle cx="489" cy="326" r="6"/>
<circle cx="396" cy="363" r="6"/>
</g>
<g class="b">
<circle cx="437" cy="288" r="6"/>
<circle cx="419" cy="264" r="6"/>
</g>
<g class="o">
<circle cx="399" cy="294" r="6"/>
<circle cx="467" cy="321" r="6"/>
</g>
<g class="b">
<circle cx="546" cy="309" r="6"/>
</g>
<g class="o">
<circle cx="408" cy="275" r="6"/>
<circle cx="423" cy="331" r="6"/>
<circle cx="444" cy="251" r="6"/>
</g>
<g class="b">
<circle cx="402" cy="394" r="6"/>
</g>
<g class="o">
<circle cx="432" cy="219" r="6"/>
<circle cx="361" cy="257" r="6"/>
</g>
<g class="b">
<circle cx="364" cy="442" r="6"/>
</g>
<g class="o">
<circle cx="403" cy="326" r="6"/>
</g>
<g class="b">
<circle cx="373" cy="218" r="6"/>
</g>
<g class="o">
<circle cx="441" cy="388" r="6"/>
</g>
<g class="b">
<circle cx="468" cy="180" r="6"/>
</g>
<g class="o">
<circle cx="490" cy="335" r="6"/>
<circle cx="418" cy="143" r="6"/>
</g>
<g class="b">
<circle cx="522" cy="196" r="6"/>
</g>
<g class="o">
<circle cx="401" cy="368" r="6"/>
</g>
<g class="b">
<circle cx="510" cy="349" r="6"/>
</g>
<g class="o">
<circle cx="363" cy="299" r="6"/>
</g>
<g class="b">
<circle cx="423" cy="389" r="6"/>
</g>
<g class="o">
<circle cx="439" cy="225" r="6"/>
</g>
<g class="b">
<circle cx="461" cy="228" r="6"/>
</g>
<g class="o">
<circle cx="461" cy="343" r="6"/>
<circle cx="276" cy="140" r="6"/>
<circle cx="374" cy="240" r="6"/>
</g>
<g class="b">
<circle cx="457" cy="385" r="6"/>
</g>
<g class="o">
<circle cx="455" cy="367" r="6"/>
<circle cx="382" cy="288" r="6"/>
<circle cx="530" cy="156" r="6"/>
<circle cx="398" cy="361" r="6"/>
</g>
<g class="b">
<circle cx="387" cy="335" r="6"/>
<circle cx="357" cy="363" r="6"/>
<circle cx="471" cy="310" r="6"/>
</g>
<g class="o">
<circle cx="415" cy="227" r="6"/>
<circle cx="439" cy="308" r="6"/>
<circle cx="439" cy="193" r="6"/>
<circle cx="445" cy="291" r="6"/>
<circle cx="488" cy="313" r="6"/>
<circle cx="464" cy="300" r="6"/>
<circle cx="452" cy="184" r="6"/>
</g>
<g class="b">
<circle cx="466" cy="316" r="6"/>
</g>
<g class="o">
<circle cx="457" cy="252" r="6"/>
<circle cx="383" cy="305" r="6"/>
</g>
<g class="b">
<circle cx="299" cy="333" r="6"/>
<circle cx="504" cy="194" r="6"/>
</g>
<g class="o">
<circle cx="431" cy="168" r="6"/>
</g>
<g class="b">
<circle cx="293" cy="436" r="6"/>
</g>
<g class="o">
<circle cx="390" cy="273" r="6"/>
<circle cx="411" cy="360" r="6"/>
<circle cx="529" cy="206" r="6"/>
<circle cx="358" cy="215" r="6"/>
<circle cx="412" cy="378" r="6"/>
<circle cx="385" cy="191" r="6"/>
<circle cx="353" cy="218" r="6"/>
<circle cx="398" cy="362" r="6"/>
<circle cx="436" cy="261" r="6"/>
</g>
<g class="b">
<circle cx="331" cy="420" r="6"/>
<circle cx="469" cy="401" r="6"/>
</g>
<g class="o">
<circle cx="440" cy="388" r="6"/>
<circle cx="347" cy="210" r="6"/>
<circle cx="454" cy="206" r="6"/>
<circle cx="380" cy="356" r="6"/>
<circle cx="438" cy="257" r="6"/>
</g>
<g class="b">
<circle cx="408" cy="191" r="6"/>
</g>
<g class="o">
<circle cx="470" cy="312" r="6"/>
</g>
<g class="b">
<circle cx="372" cy="338" r="6"/>
</g>
<g class="o">
<circle cx="428" cy="170" r="6"/>
<circle cx="466" cy="279" r="6"/>
<circle cx="501" cy="238" r="6"/>
<circle cx="479" cy="153" r="6"/>
<circle cx="388" cy="366" r="6"/>
<circle cx="435" cy="375" r="6"/>
<circle cx="413" cy="373" r="6"/>
</g>
<g class="b">
<circle cx="450" cy="310" r="6"/>
</g>
<g class="o">
<circle cx="451" cy="237" r="6"/>
</g>
<g class="b">
<circle cx="518" cy="191" r="6"/>
<circle cx="425" cy="172" r="6"/>
</g>
<g class="o">
<circle cx="355" cy="189" r="6"/>
<circle cx="434" cy="328" r="6"/>
<circle cx="472" cy="268" r="6"/>
</g>
<g class="b">
<circle cx="458" cy="243" r="6"/>
</g>
<g class="o">
<circle cx="442" cy="280" r="6"/>
<circle cx="424" cy="339" r="6"/>
<circle cx="452" cy="343" r="6"/>
</g>
<g class="b">
<circle cx="457" cy="328" r="6"/>
<circle cx="402" cy="238" r="6"/>
<circle cx="362" cy="341" r="6"/>
<circle cx="309" cy="325" r="6"/>
</g>
<g class="o">
<circle cx="379" cy="335" r="6"/>
<circle cx="467" cy="175" r="6"/>
</g>
<g class="b">
<circle cx="428" cy="266" r="6"/>
<circle cx="388" cy="278" r="6"/>
</g>
<g class="o">
<circle cx="423" cy="258" r="6"/>
</g>
<g class="b">
<circle cx="449" cy="389" r="6"/>
<circle cx="443" cy="418" r="6"/>
</g>
<g class="o">
<circle cx="408" cy="349" r="6"/>
<circle cx="425" cy="319" r="6"/>
<circle cx="393" cy="325" r="6"/>
<circle cx="473" cy="239" r="6"/>
<circle cx="438" cy="242" r="6"/>
<circle cx="401" cy="294" r="6"/>
</g>
<g class="b">
<circle cx="477" cy="232" r="6"/>
</g>
<g class="o">
<circle cx="441" cy="308" r="6"/>
</g>
<g class="b">
<circle cx="492" cy="207" r="6"/>
</g>
<g class="o">
<circle cx="425" cy="402" r="6"/>
<circle cx="443" cy="353" r="6"/>
<circle cx="434" cy="284" r="6"/>
<circle cx="449" cy="344" r="6"/>
</g>
<g class="b">
<circle cx="429" cy="370" r="6"/>
<circle cx="457" cy="429" r="6"/>
</g>
<g class="o">
<circle cx="396" cy="391" r="6"/>
<circle cx="446" cy="393" r="6"/>
<circle cx="408" cy="332" r="6"/>
</g>
<g class="b">
<circle cx="464" cy="252" r="6"/>
</g>
<g class="o">
<circle cx="441" cy="354" r="6"/>
<circle cx="447" cy="194" r="6"/>
<circle cx="421" cy="314" r="6"/>
</g>
<g class="b">
<circle cx="469" cy="150" r="6"/>
</g>
<g class="o">
<circle cx="397" cy="217" r="6"/>
<circle cx="475" cy="272" r="6"/>
</g>
<g class="b">
<circle cx="383" cy="343" r="6"/>
<circle cx="485" cy="247" r="6"/>
<circle cx="453" cy="347" r="6"/>
<circle cx="376" cy="264" r="6"/>
</g>
<g class="o">
<circle cx="497" cy="318" r="6"/>
</g>
<g class="b">
<circle cx="503" cy="430" r="6"/>
</g>
<g class="o">
<circle cx="456" cy="315" r="6"/>
</g>
<g class="b">
<circle cx="328" cy="382" r="6"/>
</g>
<g class="o">
<circle cx="334" cy="129" r="6"/>
<circle cx="470" cy="364" r="6"/>
</g>
<g class="b">
<circle cx="465" cy="257" r="6"/>
<circle cx="477" cy="300" r="6"/>
</g>
<g class="o">
<circle cx="411" cy="387" r="6"/>
<circle cx="445" cy="315" r="6"/>
<circle cx="371" cy="311" r="6"/>
<circle cx="382" cy="292" r="6"/>
<circle cx="462" cy="279" r="6"/>
</g>
<g class="b">
<circle cx="513" cy="213" r="6"/>
<circle cx="534" cy="295" r="6"/>
</g>
<g class="o">
<circle cx="500" cy="206" r="6"/>
<circle cx="452" cy="210" r="6"/>
<circle cx="389" cy="243" r="6"/>
<circle cx="296" cy="122" r="6"/>
<circle cx="428" cy="212" r="6"/>
<circle cx="520" cy="300" r="6"/>
<circle cx="423" cy="365" r="6"/>
</g>
<g class="b">
<circle cx="472" cy="295" r="6"/>
<circle cx="414" cy="351" r="6"/>
</g>
<g class="o">
<circle cx="404" cy="246" r="6"/>
<circle cx="426" cy="342" r="6"/>
<circle cx="431" cy="324" r="6"/>
</g>
<g class="b">
<circle cx="473" cy="151" r="6"/>
<circle cx="545" cy="305" r="6"/>
</g>
<g class="o">
<circle cx="404" cy="272" r="6"/>
</g>
<g class="b">
<circle cx="507" cy="232" r="6"/>
<circle cx="313" cy="305" r="6"/>
<circle cx="479" cy="252" r="6"/>
</g>
<g class="o">
<circle cx="433" cy="163" r="6"/>
</g>
<g class="b">
<circle cx="424" cy="358" r="6"/>
</g>
<g class="o">
<circle cx="473" cy="288" r="6"/>
<circle cx="422" cy="401" r="6"/>
</g>
<g class="b">
<circle cx="466" cy="294" r="6"/>
<circle cx="427" cy="396" r="6"/>
<circle cx="459" cy="198" r="6"/>
<circle cx="427" cy="238" r="6"/>
</g>
<g class="o">
<circle cx="479" cy="205" r="6"/>
<circle cx="442" cy="171" r="6"/>
<circle cx="421" cy="321" r="6"/>
</g>
<g class="b">
<circle cx="497" cy="228" r="6"/>
</g>
<g class="o">
<circle cx="489" cy="321" r="6"/>
</g>
<g class="b">
<circle cx="434" cy="439" r="6"/>
<circle cx="275" cy="330" r="6"/>
</g>
<g class="o">
<circle cx="460" cy="400" r="6"/>
<circle cx="481" cy="481" r="6"/>
<circle cx="493" cy="267" r="6"/>
<circle cx="448" cy="285" r="6"/>
</g>
<g class="b">
<circle cx="461" cy="313" r="6"/>
<circle cx="374" cy="193" r="6"/>
</g>
<g class="o">
<circle cx="376" cy="328" r="6"/>
</g>
<g class="b">
<circle cx="597" cy="221" r="6"/>
</g>
<g class="o">
<circle cx="396" cy="280" r="6"/>
</g>
<g class="b">
<circle cx="415" cy="415" r="6"/>
<circle cx="447" cy="261" r="6"/>
</g>
<g class="o">
<circle cx="461" cy="264" r="6"/>
<circle cx="386" cy="188" r="6"/>
<circle cx="412" cy="228" r="6"/>
<circle cx="395" cy="147" r="6"/>
<circle cx="424" cy="326" r="6"/>
<circle cx="390" cy="269" r="6"/>
<circle cx="368" cy="318" r="6"/>
<circle cx="480" cy="237" r="6"/>
</g>
<g class="b">
<circle cx="555" cy="185" r="6"/>
<circle cx="434" cy="197" r="6"/>
<circle cx="465" cy="322" r="6"/>
</g>
<g class="o">
<circle cx="465" cy="376" r="6"/>
<circle cx="455" cy="200" r="6"/>
<circle cx="442" cy="185" r="6"/>
<circle cx="430" cy="215" r="6"/>
<circle cx="440" cy="195" r="6"/>
<circle cx="441" cy="219" r="6"/>
<circle cx="500" cy="455" r="6"/>
<circle cx="470" cy="241" r="6"/>
</g>
<g class="b">
<circle cx="518" cy="307" r="6"/>
</g>
<g class="o">
<circle cx="397" cy="272" r="6"/>
<circle cx="423" cy="419" r="6"/>
<circle cx="384" cy="276" r="6"/>
</g>
<g class="b">
<circle cx="537" cy="301" r="6"/>
</g>
<g class="o">
<circle cx="420" cy="355" r="6"/>
<circle cx="391" cy="341" r="6"/>
</g>
<g class="b">
<circle cx="460" cy="155" r="6"/>
</g>
<g class="o">
<circle cx="469" cy="236" r="6"/>
</g>
<g class="b">
<circle cx="470" cy="281" r="6"/>
</g>
<g class="o">
<circle cx="501" cy="305" r="6"/>
<circle cx="451" cy="322" r="6"/>
<circle cx="436" cy="360" r="6"/>
<circle cx="381" cy="155" r="6"/>
<circle cx="414" cy="287" r="6"/>
<circle cx="422" cy="283" r="6"/>
</g>
<g class="b">
<circle cx="437" cy="249" r="6"/>
</g>
<g class="o">
<circle cx="382" cy="345" r="6"/>
<circle cx="434" cy="213" r="6"/>
<circle cx="405" cy="256" r="6"/>
<circle cx="493" cy="280" r="6"/>
<circle cx="376" cy="364" r="6"/>
</g>
<g class="b">
<circle cx="519" cy="299" r="6"/>
<circle cx="524" cy="224" r="6"/>
</g>
<g class="o">
<circle cx="509" cy="298" r="6"/>
<circle cx="400" cy="321" r="6"/>
</g>
<g class="b">
<circle cx="322" cy="338" r="6"/>
</g>
<g class="o">
<circle cx="417" cy="277" r="6"/>
<circle cx="437" cy="378" r="6"/>
<circle cx="483" cy="282" r="6"/>
</g>
<g class="b">
<circle cx="394" cy="240" r="6"/>
</g>
<g class="o">
<circle cx="304" cy="227" r="6"/>
<circle cx="433" cy="312" r="6"/>
</g>
<g class="b">
<circle cx="459" cy="193" r="6"/>
</g>
<g class="o">
<circle cx="411" cy="379" r="6"/>
<circle cx="397" cy="284" r="6"/>
<circle cx="475" cy="214" r="6"/>
<circle cx="383" cy="281" r="6"/>
<circle cx="478" cy="210" r="6"/>
</g>
<g class="b">
<circle cx="365" cy="375" r="6"/>
</g>
<g class="o">
<circle cx="489" cy="219" r="6"/>
</g>
<g class="b">
<circle cx="432" cy="143" r="6"/>
</g>
<g class="o">
<circle cx="468" cy="304" r="6"/>
<circle cx="472" cy="374" r="6"/>
<circle cx="487" cy="283" r="6"/>
</g>
<g class="b">
<circle cx="556" cy="386" r="6"/>
</g>
<g class="o">
<circle cx="314" cy="113" r="6"/>
<circle cx="494" cy="341" r="6"/>
<circle cx="502" cy="214" r="6"/>
<circle cx="446" cy="306" r="6"/>
</g>
<g class="b">
<circle cx="474" cy="219" r="6"/>
<circle cx="539" cy="290" r="6"/>
<circle cx="400" cy="273" r="6"/>
<circle cx="491" cy="352" r="6"/>
<circle cx="464" cy="157" r="6"/>
</g>
<g class="o">
<circle cx="458" cy="387" r="6"/>
</g>
<g class="b">
<circle cx="407" cy="264" r="6"/>
</g>
<g class="o">
<circle cx="403" cy="362" r="6"/>
<circle cx="415" cy="259" r="6"/>
</g>
<g class="b">
<circle cx="459" cy="329" r="6"/>
<circle cx="283" cy="406" r="6"/>
</g>
<g class="o">
<circle cx="384" cy="282" r="6"/>
<circle cx="410" cy="227" r="6"/>
<circle cx="350" cy="236" r="6"/>
</g>
<g class="b">
<circle cx="554" cy="203" r="6"/>
</g>
<g class="o">
<circle cx="447" cy="299" r="6"/>
<circle cx="391" cy="277" r="6"/>
</g>
<g class="b">
<circle cx="359" cy="449" r="6"/>
<circle cx="385" cy="321" r="6"/>
</g>
<g class="o">
<circle cx="393" cy="391" r="6"/>
<circle cx="416" cy="253" r="6"/>
<circle cx="380" cy="332" r="6"/>
</g>
<g class="b">
<circle cx="383" cy="246" r="6"/>
<circle cx="444" cy="436" r="6"/>
</g>
<g class="o">
<circle cx="428" cy="259" r="6"/>
</g>
<g class="b">
<circle cx="432" cy="235" r="6"/>
</g>
<g class="o">
<circle cx="429" cy="266" r="6"/>
</g>
<g class="b">
<circle cx="411" cy="340" r="6"/>
<circle cx="516" cy="259" r="6"/>
</g>
<g class="o">
<circle cx="487" cy="237" r="6"/>
<circle cx="393" cy="378" r="6"/>
<circle cx="364" cy="331" r="6"/>
<circle cx="370" cy="201" r="6"/>
</g>
<g class="b">
<circle cx="445" cy="268" r="6"/>
</g>
<g class="o">
<circle cx="470" cy="377" r="6"/>
<circle cx="382" cy="374" r="6"/>
<circle cx="402" cy="182" r="6"/>
</g>
<g class="b">
<circle cx="506" cy="342" r="6"/>
<circle cx="520" cy="286" r="6"/>
</g>
<g class="o">
<circle cx="485" cy="207" r="6"/>
<circle cx="469" cy="222" r="6"/>
<circle cx="520" cy="427" r="6"/>
<circle cx="481" cy="283" r="6"/>
<circle cx="482" cy="330" r="6"/>
<circle cx="506" cy="343" r="6"/>
</g>
<g class="b">
<circle cx="389" cy="228" r="6"/>
</g>
<g class="o">
<circle cx="525" cy="182" r="6"/>
<circle cx="516" cy="244" r="6"/>
<circle cx="387" cy="262" r="6"/>
</g>
<g class="b">
<circle cx="532" cy="136" r="6"/>
<circle cx="478" cy="217" r="6"/>
</g>
<g class="o">
<circle cx="446" cy="385" r="6"/>
<circle cx="426" cy="299" r="6"/>
<circle cx="392" cy="314" r="6"/>
<circle cx="441" cy="199" r="6"/>
<circle cx="374" cy="256" r="6"/>
<circle cx="439" cy="255" r="6"/>
<circle cx="391" cy="227" r="6"/>
<circle cx="390" cy="366" r="6"/>
</g>
<g class="b">
<circle cx="426" cy="201" r="6"/>
</g>
<g class="o">
<circle cx="394" cy="257" r="6"/>
<circle cx="460" cy="359" r="6"/>
<circle cx="428" cy="437" r="6"/>
<circle cx="485" cy="259" r="6"/>
<circle cx="327" cy="261" r="6"/>
<circle cx="497" cy="255" r="6"/>
</g>
<g class="b">
<circle cx="397" cy="306" r="6"/>
</g>
<g class="o">
<circle cx="424" cy="305" r="6"/>
<circle cx="449" cy="130" r="6"/>
<circle cx="411" cy="392" r="6"/>
</g>
<g class="b">
<circle cx="464" cy="335" r="6"/>
</g>
<g class="o">
<circle cx="445" cy="222" r="6"/>
<circle cx="456" cy="293" r="6"/>
<circle cx="409" cy="222" r="6"/>
</g>
<g class="b">
<circle cx="539" cy="240" r="6"/>
</g>
<g class="o">
<circle cx="485" cy="334" r="6"/>
<circle cx="409" cy="352" r="6"/>
<circle cx="488" cy="355" r="6"/>
<circle cx="410" cy="287" r="6"/>
<circle cx="453" cy="362" r="6"/>
</g>
<g class="b">
<circle cx="371" cy="313" r="6"/>
<circle cx="456" cy="175" r="6"/>
</g>
<g class="o">
<circle cx="350" cy="324" r="6"/>
</g>
<g class="b">
<circle cx="509" cy="383" r="6"/>
</g>
<g class="o">
<circle cx="449" cy="205" r="6"/>
<circle cx="398" cy="277" r="6"/>
</g>
<g class="b">
<circle cx="390" cy="237" r="6"/>
<circle cx="424" cy="271" r="6"/>
<circle cx="468" cy="523" r="6"/>
<circle cx="478" cy="221" r="6"/>
<circle cx="447" cy="375" r="6"/>
<circle cx="522" cy="211" r="6"/>
</g>
<g class="o">
<circle cx="415" cy="215" r="6"/>
<circle cx="466" cy="265" r="6"/>
<circle cx="534" cy="408" r="6"/>
<circle cx="470" cy="423" r="6"/>
<circle cx="477" cy="339" r="6"/>
</g>
<g class="b">
<circle cx="427" cy="382" r="6"/>
</g>
<g class="o">
<circle cx="384" cy="401" r="6"/>
<circle cx="461" cy="355" r="6"/>
<circle cx="380" cy="225" r="6"/>
</g>
<g class="b">
<circle cx="475" cy="432" r="6"/>
</g>
<g class="o">
<circle cx="383" cy="241" r="6"/>
<circle cx="421" cy="206" r="6"/>
</g>
<g class="b">
<circle cx="456" cy="256" r="6"/>
</g>
<g class="o">
<circle cx="425" cy="353" r="6"/>
</g>
<g class="b">
<circle cx="318" cy="291" r="6"/>
<circle cx="343" cy="392" r="6"/>
<circle cx="464" cy="192" r="6"/>
</g>
<g class="o">
<circle cx="445" cy="222" r="6"/>
</g>
<g class="b">
<circle cx="487" cy="304" r="6"/>
<circle cx="447" cy="328" r="6"/>
</g>
<g class="o">
<circle cx="481" cy="379" r="6"/>
<circle cx="545" cy="137" r="6"/>
<circle cx="367" cy="156" r="6"/>
</g>
<g class="b">
<circle cx="439" cy="395" r="6"/>
</g>
<g class="o">
<circle cx="472" cy="351" r="6"/>
<circle cx="440" cy="192" r="6"/>
</g>
<g class="b">
<circle cx="348" cy="339" r="6"/>
<circle cx="451" cy="161" r="6"/>
</g>
<g class="o">
<circle cx="414" cy="280" r="6"/>
<circle cx="417" cy="363" r="6"/>
<circle cx="447" cy="373" r="6"/>
</g>
<g class="b">
<circle cx="544" cy="208" r="6"/>
</g>
<g class="o">
<circle cx="458" cy="327" r="6"/>
<circle cx="507" cy="255" r="6"/>
<circle cx="381" cy="326" r="6"/>
<circle cx="432" cy="195" r="6"/>
<circle cx="436" cy="274" r="6"/>
<circle cx="444" cy="278" r="6"/>
<circle cx="369" cy="322" r="6"/>
<circle cx="309" cy="288" r="6"/>
</g>
<g class="b">
<circle cx="476" cy="233" r="6"/>
</g>
<g class="o">
<circle cx="398" cy="280" r="6"/>
<circle cx="398" cy="392" r="6"/>
<circle cx="363" cy="245" r="6"/>
</g>
<g class="b">
<circle cx="347" cy="235" r="6"/>
</g>
<g class="o">
<circle cx="306" cy="157" r="6"/>
<circle cx="419" cy="230" r="6"/>
</g>
<g class="b">
<circle cx="487" cy="360" r="6"/>
</g>
<g class="o">
<circle cx="432" cy="302" r="6"/>
</g>
<g class="b">
<circle cx="537" cy="294" r="6"/>
</g>
<g class="o">
<circle cx="397" cy="278" r="6"/>
<circle cx="469" cy="316" r="6"/>
<circle cx="429" cy="209" r="6"/>
<circle cx="515" cy="222" r="6"/>
<circle cx="366" cy="273" r="6"/>
</g>
<g class="b">
<circle cx="409" cy="280" r="6"/>
<circle cx="514" cy="361" r="6"/>
</g>
<g class="o">
<circle cx="392" cy="220" r="6"/>
<circle cx="418" cy="187" r="6"/>
<circle cx="395" cy="243" r="6"/>
<circle cx="404" cy="379" r="6"/>
<circle cx="449" cy="287" r="6"/>
<circle cx="436" cy="315" r="6"/>
<circle cx="519" cy="355" r="6"/>
<circle cx="284" cy="160" r="6"/>
<circle cx="477" cy="229" r="6"/>
</g>
<g class="b">
<circle cx="363" cy="244" r="6"/>
</g>
<g class="o">
<circle cx="383" cy="375" r="6"/>
<circle cx="390" cy="351" r="6"/>
</g>
<g class="b">
<circle cx="400" cy="228" r="6"/>
</g>
<g class="o">
<circle cx="354" cy="257" r="6"/>
<circle cx="367" cy="262" r="6"/>
</g>
<g class="b">
<circle cx="439" cy="141" r="6"/>
</g>
<g class="o">
<circle cx="454" cy="235" r="6"/>
<circle cx="477" cy="180" r="6"/>
<circle cx="401" cy="342" r="6"/>
<circle cx="419" cy="335" r="6"/>
</g>
<g class="b">
<circle cx="521" cy="292" r="6"/>
<circle cx="330" cy="406" r="6"/>
</g>
<g class="o">
<circle cx="369" cy="222" r="6"/>
<circle cx="457" cy="216" r="6"/>
</g>
<g class="b">
<circle cx="433" cy="461" r="6"/>
</g>
<g class="o">
<circle cx="458" cy="352" r="6"/>
<circle cx="422" cy="247" r="6"/>
<circle cx="488" cy="346" r="6"/>
<circle cx="357" cy="275" r="6"/>
<circle cx="438" cy="142" r="6"/>
</g>
<g class="b">
<circle cx="544" cy="180" r="6"/>
</g>
<g class="o">
<circle cx="476" cy="188" r="6"/>
<circle cx="435" cy="327" r="6"/>
</g>
<g class="b">
<circle cx="439" cy="219" r="6"/>
</g>
<g class="o">
<circle cx="499" cy="233" r="6"/>
</g>
<g class="b">
<circle cx="330" cy="349" r="6"/>
</g>
<g class="o">
<circle cx="477" cy="297" r="6"/>
</g>
<g class="b">
<circle cx="511" cy="247" r="6"/>
</g>
<g class="o">
<circle cx="457" cy="319" r="6"/>
<circle cx="422" cy="146" r="6"/>
<circle cx="399" cy="357" r="6"/>
<circle cx="435" cy="264" r="6"/>
<circle cx="341" cy="219" r="6"/>
</g>
<g class="b">
<circle cx="508" cy="327" r="6"/>
</g>
<g class="o">
<circle cx="454" cy="373" r="6"/>
<circle cx="351" cy="248" r="6"/>
</g>
<g class="b">
<circle cx="398" cy="403" r="6"/>
<circle cx="529" cy="243" r="6"/>
</g>
<g class="o">
<circle cx="407" cy="349" r="6"/>
</g>
<g class="b">
<circle cx="463" cy="186" r="6"/>
</g>
<g class="o">
<circle cx="412" cy="302" r="6"/>
</g>
<g class="b">
<circle cx="407" cy="186" r="6"/>
<circle cx="481" cy="327" r="6"/>
</g>
<g class="o">
<circle cx="460" cy="179" r="6"/>
</g>
<g class="b">
<circle cx="516" cy="168" r="6"/>
</g>
<g class="o">
<circle cx="454" cy="208" r="6"/>
</g>
<g class="b">
<circle cx="556" cy="331" r="6"/>
</g>
<g class="o">
<circle cx="371" cy="266" r="6"/>
<circle cx="385" cy="373" r="6"/>
<circle cx="434" cy="200" r="6"/>
</g>
<g class="b">
<circle cx="531" cy="159" r="6"/>
<circle cx="401" cy="312" r="6"/>
<circle cx="406" cy="301" r="6"/>
</g>
<g class="o">
<circle cx="421" cy="179" r="6"/>
</g>
<g class="b">
<circle cx="322" cy="420" r="6"/>
</g>
<g class="o">
<circle cx="380" cy="207" r="6"/>
<circle cx="474" cy="212" r="6"/>
<circle cx="480" cy="273" r="6"/>
</g>
<g class="b">
<circle cx="510" cy="290" r="6"/>
<circle cx="471" cy="310" r="6"/>
</g>
<g class="o">
<circle cx="384" cy="297" r="6"/>
<circle cx="503" cy="370" r="6"/>
<circle cx="357" cy="256" r="6"/>
</g>
<g class="b">
<circle cx="483" cy="298" r="6"/>
</g>
<g class="o">
<circle cx="486" cy="392" r="6"/>
<circle cx="409" cy="219" r="6"/>
</g>
<g class="b">
<circle cx="534" cy="263" r="6"/>
</g>
<g class="o">
<circle cx="355" cy="236" r="6"/>
</g>
<g class="b">
<circle cx="451" cy="232" r="6"/>
<circle cx="515" cy="259" r="6"/>
</g>
<g class="o">
<circle cx="448" cy="390" r="6"/>
<circle cx="463" cy="309" r="6"/>
<circle cx="478" cy="305" r="6"/>
<circle cx="472" cy="382" r="6"/>
</g>
<g class="b">
<circle cx="431" cy="260" r="6"/>
</g>
<g class="o">
<circle cx="466" cy="326" r="6"/>
<circle cx="522" cy="290" r="6"/>
<circle cx="422" cy="253" r="6"/>
<circle cx="396" cy="320" r="6"/>
<circle cx="424" cy="262" r="6"/>
<circle cx="415" cy="321" r="6"/>
<circle cx="448" cy="367" r="6"/>
<circle cx="440" cy="256" r="6"/>
</g>
<g class="b">
<circle cx="505" cy="186" r="6"/>
<circle cx="364" cy="347" r="6"/>
</g>
<g class="o">
<circle cx="450" cy="251" r="6"/>
<circle cx="403" cy="199" r="6"/>
<circle cx="443" cy="281" r="6"/>
<circle cx="470" cy="183" r="6"/>
</g>
<g class="b">
<circle cx="521" cy="200" r="6"/>
<circle cx="450" cy="173" r="6"/>
</g>
<g class="o">
<circle cx="340" cy="345" r="6"/>
</g>
<g class="b">
<circle cx="441" cy="192" r="6"/>
</g>
<g class="o">
<circle cx="382" cy="240" r="6"/>
<circle cx="409" cy="422" r="6"/>
<circle cx="346" cy="338" r="6"/>
<circle cx="480" cy="260" r="6"/>
</g>
<g class="b">
<circle cx="425" cy="316" r="6"/>
</g>
<g class="o">
<circle cx="370" cy="221" r="6"/>
<circle cx="387" cy="230" r="6"/>
</g>
<g class="b">
<circle cx="445" cy="349" r="6"/>
</g>
<g class="o">
<circle cx="436" cy="269" r="6"/>
<circle cx="429" cy="261" r="6"/>
</g>
<g class="b">
<circle cx="505" cy="369" r="6"/>
<circle cx="508" cy="398" r="6"/>
</g>
<g class="o">
<circle cx="345" cy="224" r="6"/>
<circle cx="367" cy="220" r="6"/>
</g>
<g class="b">
<circle cx="523" cy="207" r="6"/>
<circle cx="335" cy="326" r="6"/>
</g>
<g class="o">
<circle cx="367" cy="212" r="6"/>
<circle cx="473" cy="201" r="6"/>
<circle cx="451" cy="416" r="6"/>
<circle cx="400" cy="142" r="6"/>
<circle cx="465" cy="215" r="6"/>
</g>
<g class="b">
<circle cx="417" cy="279" r="6"/>
</g>
<g class="o">
<circle cx="476" cy="161" r="6"/>
</g>
<g class="b">
<circle cx="391" cy="396" r="6"/>
<circle cx="516" cy="204" r="6"/>
<circle cx="349" cy="299" r="6"/>
</g>
<g class="o">
<circle cx="436" cy="282" r="6"/>
<circle cx="394" cy="222" r="6"/>
<circle cx="412" cy="273" r="6"/>
<circle cx="382" cy="167" r="6"/>
<circle cx="422" cy="291" r="6"/>
</g>
<g class="b">
<circle cx="482" cy="365" r="6"/>
<circle cx="350" cy="282" r="6"/>
</g>
<g class="o">
<circle cx="431" cy="385" r="6"/>
<circle cx="451" cy="391" r="6"/>
<circle cx="420" cy="294" r="6"/>
<circle cx="403" cy="305" r="6"/>
<circle cx="263" cy="226" r="6"/>
<circle cx="500" cy="263" r="6"/>
</g>
<g class="b">
<circle cx="301" cy="368" r="6"/>
</g>
<g class="o">
<circle cx="423" cy="356" r="6"/>
<circle cx="502" cy="380" r="6"/>
</g>
<g class="b">
<circle cx="454" cy="404" r="6"/>
</g>
<g class="o">
<circle cx="436" cy="167" r="6"/>
<circle cx="357" cy="334" r="6"/>
<circle cx="473" cy="315" r="6"/>
</g>
<g class="b">
<circle cx="392" cy="328" r="6"/>
</g>
<g class="o">
<circle cx="444" cy="322" r="6"/>
<circle cx="384" cy="298" r="6"/>
</g>
<g class="b">
<circle cx="520" cy="198" r="6"/>
<circle cx="345" cy="261" r="6"/>
</g>
<g class="o">
<circle cx="422" cy="290" r="6"/>
</g>
<g class="b">
<circle cx="479" cy="212" r="6"/>
</g>
<g class="o">
<circle cx="382" cy="336" r="6"/>
<circle cx="498" cy="319" r="6"/>
<circle cx="407" cy="163" r="6"/>
<circle cx="461" cy="187" r="6"/>
</g>
<g class="b">
<circle cx="543" cy="284" r="6"/>
</g>
<g class="o">
<circle cx="453" cy="323" r="6"/>
</g>
<g class="b">
<circle cx="442" cy="427" r="6"/>
</g>
<g class="o">
<circle cx="471" cy="264" r="6"/>
<circle cx="502" cy="290" r="6"/>
<circle cx="507" cy="531" r="6"/>
<circle cx="408" cy="373" r="6"/>
<circle cx="436" cy="237" r="6"/>
<circle cx="446" cy="173" r="6"/>
</g>
<g class="b">
<circle cx="487" cy="239" r="6"/>
</g>
<g class="o">
<circle cx="403" cy="210" r="6"/>
<circle cx="456" cy="383" r="6"/>
</g>
<g class="b">
<circle cx="329" cy="416" r="6"/>
<circle cx="509" cy="213" r="6"/>
</g>
<g class="o">
<circle cx="376" cy="226" r="6"/>
</g>
<g class="b">
<circle cx="526" cy="181" r="6"/>
<circle cx="518" cy="201" r="6"/>
<circle cx="543" cy="416" r="6"/>
</g>
<g class="o">
<circle cx="446" cy="368" r="6"/>
</g>
<g class="b">
<circle cx="425" cy="170" r="6"/>
<circle cx="518" cy="202" r="6"/>
</g>
<g class="o">
<circle cx="429" cy="257" r="6"/>
<circle cx="341" cy="161" r="6"/>
<circle cx="443" cy="129" r="6"/>
<circle cx="454" cy="289" r="6"/>
</g>
<g class="b">
<circle cx="380" cy="347" r="6"/>
</g>
<g class="o">
<circle cx="434" cy="227" r="6"/>
</g>
<g class="b">
<circle cx="502" cy="302" r="6"/>
</g>
<g class="o">
<circle cx="458" cy="380" r="6"/>
</g>
<g class="b">
<circle cx="429" cy="352" r="6"/>
<circle cx="430" cy="377" r="6"/>
</g>
<g class="o">
<circle cx="477" cy="356" r="6"/>
<circle cx="433" cy="357" r="6"/>
</g>
<g class="b">
<circle cx="401" cy="396" r="6"/>
</g>
<g class="o">
<circle cx="279" cy="243" r="6"/>
</g>
<g class="b">
<circle cx="441" cy="247" r="6"/>
</g>
<g class="o">
<circle cx="443" cy="410" r="6"/>
<circle cx="456" cy="303" r="6"/>
<circle cx="362" cy="204" r="6"/>
<circle cx="396" cy="184" r="6"/>
<circle cx="382" cy="250" r="6"/>
<circle cx="458" cy="192" r="6"/>
</g>
<g class="b">
<circle cx="277" cy="349" r="6"/>
</g>
<g class="o">
<circle cx="393" cy="311" r="6"/>
</g>
<g class="b">
<circle cx="566" cy="238" r="6"/>
<circle cx="512" cy="200" r="6"/>
</g>
<g class="o">
<circle cx="470" cy="227" r="6"/>
</g>
<g class="b">
<circle cx="454" cy="363" r="6"/>
</g>
<g class="o">
<circle cx="432" cy="337" r="6"/>
</g>
<g class="b">
<circle cx="314" cy="294" r="6"/>
<circle cx="373" cy="283" r="6"/>
</g>
<g class="o">
<circle cx="411" cy="334" r="6"/>
<circle cx="427" cy="315" r="6"/>
<circle cx="502" cy="233" r="6"/>
</g>
<g class="b">
<circle cx="486" cy="195" r="6"/>
</g>
<g class="o">
<circle cx="439" cy="183" r="6"/>
<circle cx="399" cy="415" r="6"/>
<circle cx="427" cy="407" r="6"/>
<circle cx="464" cy="353" r="6"/>
<circle cx="473" cy="397" r="6"/>
<circle cx="444" cy="249" r="6"/>
<circle cx="543" cy="212" r="6"/>
<circle cx="400" cy="365" r="6"/>
</g>
<g class="b">
<circle cx="429" cy="321" r="6"/>
<circle cx="408" cy="304" r="6"/>
<circle cx="425" cy="415" r="6"/>
</g>
<g class="o">
<circle cx="496" cy="218" r="6"/>
</g>
<g class="b">
<circle cx="493" cy="179" r="6"/>
<circle cx="345" cy="289" r="6"/>
</g>
<g class="o">
<circle cx="378" cy="354" r="6"/>
<circle cx="417" cy="395" r="6"/>
</g>
<g class="b">
<circle cx="297" cy="285" r="6"/>
</g>
<g class="o">
<circle cx="401" cy="207" r="6"/>
<circle cx="438" cy="296" r="6"/>
<circle cx="500" cy="240" r="6"/>
<circle cx="489" cy="302" r="6"/>
<circle cx="545" cy="227" r="6"/>
<circle cx="414" cy="268" r="6"/>
<circle cx="377" cy="127" r="6"/>
</g>
<g class="b">
<circle cx="541" cy="356" r="6"/>
<circle cx="473" cy="290" r="6"/>
</g>
<g class="o">
<circle cx="466" cy="349" r="6"/>
<circle cx="420" cy="385" r="6"/>
<circle cx="458" cy="354" r="6"/>
</g>
<g class="b">
<circle cx="447" cy="258" r="6"/>
<circle cx="548" cy="208" r="6"/>
</g>
<g class="o">
<circle cx="459" cy="376" r="6"/>
<circle cx="425" cy="403" r="6"/>
</g>
<g class="b">
<circle cx="538" cy="206" r="6"/>
</g>
<g class="o">
<circle cx="487" cy="218" r="6"/>
</g>
<g class="b">
<circle cx="429" cy="433" r="6"/>
</g>
<g class="o">
<circle cx="449" cy="260" r="6"/>
</g>
<g class="b">
<circle cx="352" cy="254" r="6"/>
<circle cx="396" cy="300" r="6"/>
</g>
<g class="o">
<circle cx="344" cy="288" r="6"/>
<circle cx="408" cy="219" r="6"/>
<circle cx="373" cy="266" r="6"/>
<circle cx="450" cy="314" r="6"/>
<circle cx="493" cy="257" r="6"/>
<circle cx="405" cy="266" r="6"/>
<circle cx="522" cy="270" r="6"/>
</g>
<g class="b">
<circle cx="447" cy="248" r="6"/>
<circle cx="353" cy="262" r="6"/>
<circle cx="438" cy="184" r="6"/>
</g>
<g class="o">
<circle cx="423" cy="219" r="6"/>
<circle cx="509" cy="219" r="6"/>
<circle cx="433" cy="358" r="6"/>
<circle cx="373" cy="259" r="6"/>
</g>
<g class="b">
<circle cx="523" cy="286" r="6"/>
<circle cx="479" cy="375" r="6"/>
<circle cx="396" cy="430" r="6"/>
</g>
<g class="o">
<circle cx="487" cy="233" r="6"/>
<circle cx="436" cy="234" r="6"/>
</g>
<g class="b">
<circle cx="387" cy="371" r="6"/>
<circle cx="442" cy="205" r="6"/>
</g>
<g class="o">
<circle cx="445" cy="226" r="6"/>
<circle cx="398" cy="215" r="6"/>
<circle cx="418" cy="277" r="6"/>
<circle cx="389" cy="223" r="6"/>
<circle cx="369" cy="234" r="6"/>
<circle cx="439" cy="337" r="6"/>
<circle cx="375" cy="259" r="6"/>
<circle cx="472" cy="322" r="6"/>
</g>
<g class="b">
<circle cx="400" cy="196" r="6"/>
</g>
<g class="o">
<circle cx="461" cy="210" r="6"/>
<circle cx="415" cy="234" r="6"/>
<circle cx="437" cy="320" r="6"/>
<circle cx="451" cy="262" r="6"/>
</g>
<g class="b">
<circle cx="452" cy="228" r="6"/>
</g>
<g class="o">
<circle cx="560" cy="320" r="6"/>
</g>
<g class="b">
<circle cx="467" cy="300" r="6"/>
<circle cx="428" cy="341" r="6"/>
</g>
<g class="o">
<circle cx="403" cy="411" r="6"/>
<circle cx="452" cy="208" r="6"/>
</g>
<g class="b">
<circle cx="534" cy="278" r="6"/>
</g>
<g class="o">
<circle cx="401" cy="428" r="6"/>
<circle cx="444" cy="247" r="6"/>
<circle cx="385" cy="197" r="6"/>
<circle cx="420" cy="374" r="6"/>
<circle cx="413" cy="271" r="6"/>
<circle cx="356" cy="219" r="6"/>
</g>
<g class="b">
<circle cx="440" cy="229" r="6"/>
</g>
<g class="o">
<circle cx="472" cy="365" r="6"/>
</g>
<g class="b">
<circle cx="503" cy="293" r="6"/>
</g>
<g class="o">
<circle cx="425" cy="298" r="6"/>
<circle cx="473" cy="208" r="6"/>
<circle cx="517" cy="242" r="6"/>
<circle cx="433" cy="213" r="6"/>
</g>
<g class="b">
<circle cx="513" cy="390" r="6"/>
</g>
<g class="o">
<circle cx="468" cy="303" r="6"/>
</g>
<g class="b">
<circle cx="307" cy="374" r="6"/>
<circle cx="416" cy="338" r="6"/>
</g>
<g class="o">
<circle cx="337" cy="272" r="6"/>
</g>
<g class="b">
<circle cx="471" cy="198" r="6"/>
</g>
<g class="o">
<circle cx="449" cy="229" r="6"/>
<circle cx="419" cy="260" r="6"/>
<circle cx="447" cy="298" r="6"/>
</g>
<g class="b">
<circle cx="602" cy="354" r="6"/>
<circle cx="495" cy="173" r="6"/>
</g>
<g class="o">
<circle cx="355" cy="236" r="6"/>
</g>
<g class="b">
<circle cx="401" cy="280" r="6"/>
</g>
<g class="o">
<circle cx="388" cy="360" r="6"/>
<circle cx="461" cy="349" r="6"/>
<circle cx="493" cy="213" r="6"/>
<circle cx="402" cy="334" r="6"/>
</g>
<g class="b">
<circle cx="374" cy="299" r="6"/>
</g>
<g class="o">
<circle cx="448" cy="333" r="6"/>
<circle cx="511" cy="313" r="6"/>
<circle cx="463" cy="396" r="6"/>
</g>
<g class="b">
<circle cx="347" cy="185" r="6"/>
</g>
<g class="o">
<circle cx="419" cy="202" r="6"/>
</g>
<g class="b">
<circle cx="489" cy="237" r="6"/>
<circle cx="525" cy="332" r="6"/>
<circle cx="382" cy="405" r="6"/>
</g>
<g class="o">
<circle cx="439" cy="317" r="6"/>
<circle cx="461" cy="316" r="6"/>
</g>
<g class="b">
<circle cx="437" cy="172" r="6"/>
</g>
<g class="o">
<circle cx="379" cy="269" r="6"/>
</g>
<g class="b">
<circle cx="453" cy="321" r="6"/>
<circle cx="389" cy="176" r="6"/>
</g>
<g class="o">
<circle cx="411" cy="257" r="6"/>
</g>
<g class="b">
<circle cx="498" cy="307" r="6"/>
<circle cx="496" cy="326" r="6"/>
</g>
<g class="o">
<circle cx="374" cy="257" r="6"/>
</g>
<g class="b">
<circle cx="394" cy="358" r="6"/>
</g>
<g class="o">
<circle cx="330" cy="374" r="6"/>
<circle cx="405" cy="202" r="6"/>
</g>
<g class="b">
<circle cx="355" cy="346" r="6"/>
</g>
<g class="o">
<circle cx="405" cy="247" r="6"/>
<circle cx="367" cy="247" r="6"/>
<circle cx="426" cy="207" r="6"/>
</g>
<g class="b">
<circle cx="337" cy="329" r="6"/>
</g>
<g class="o">
<circle cx="347" cy="255" r="6"/>
</g>
<g class="b">
<circle cx="418" cy="390" r="6"/>
</g>
<g class="o">
<circle cx="488" cy="266" r="6"/>
<circle cx="515" cy="242" r="6"/>
</g>
<g class="b">
<circle cx="439" cy="420" r="6"/>
</g>
<g class="o">
<circle cx="481" cy="323" r="6"/>
</g>
<g class="b">
<circle cx="438" cy="372" r="6"/>
</g>
<g class="o">
<circle cx="463" cy="259" r="6"/>
<circle cx="411" cy="264" r="6"/>
<circle cx="344" cy="283" r="6"/>
<circle cx="509" cy="227" r="6"/>
</g>
<g class="b">
<circle cx="498" cy="406" r="6"/>
<circle cx="276" cy="290" r="6"/>
</g>
<g class="o">
<circle cx="452" cy="346" r="6"/>
<circle cx="470" cy="375" r="6"/>
</g>
<g class="b">
<circle cx="551" cy="234" r="6"/>
</g>
<g class="o">
<circle cx="446" cy="228" r="6"/>
</g>
<g class="b">
<circle cx="517" cy="387" r="6"/>
</g>
<g class="o">
<circle cx="456" cy="290" r="6"/>
<circle cx="318" cy="177" r="6"/>
</g>
<g class="b">
<circle cx="409" cy="471" r="6"/>
</g>
<g class="o">
<circle cx="456" cy="281" r="6"/>
</g>
<g class="b">
<circle cx="517" cy="207" r="6"/>
</g>
<g class="o">
<circle cx="430" cy="330" r="6"/>
<circle cx="417" cy="378" r="6"/>
<circle cx="362" cy="232" r="6"/>
<circle cx="336" cy="331" r="6"/>
<circle cx="504" cy="401" r="6"/>
<circle cx="398" cy="269" r="6"/>
<circle cx="468" cy="318" r="6"/>
<circle cx="388" cy="204" r="6"/>
<circle cx="472" cy="192" r="6"/>
<circle cx="489" cy="307" r="6"/>
<circle cx="370" cy="291" r="6"/>
<circle cx="421" cy="286" r="6"/>
<circle cx="465" cy="368" r="6"/>
<circle cx="438" cy="294" r="6"/>
<circle cx="447" cy="338" r="6"/>
</g>
<g class="b">
<circle cx="365" cy="268" r="6"/>
<circle cx="382" cy="250" r="6"/>
<circle cx="385" cy="404" r="6"/>
<circle cx="506" cy="321" r="6"/>
<circle cx="365" cy="257" r="6"/>
</g>
<g class="o">
<circle cx="344" cy="374" r="6"/>
<circle cx="366" cy="177" r="6"/>
</g>
<g class="b">
<circle cx="420" cy="177" r="6"/>
<circle cx="502" cy="214" r="6"/>
</g>
<g class="o">
<circle cx="456" cy="367" r="6"/>
<circle cx="459" cy="365" r="6"/>
</g>
<g class="b">
<circle cx="448" cy="175" r="6"/>
<circle cx="412" cy="301" r="6"/>
</g>
<g class="o">
<circle cx="421" cy="227" r="6"/>
<circle cx="447" cy="287" r="6"/>
<circle cx="399" cy="262" r="6"/>
</g>
<g class="b">
<circle cx="371" cy="344" r="6"/>
</g>
<g class="o">
<circle cx="493" cy="296" r="6"/>
<circle cx="499" cy="291" r="6"/>
<circle cx="465" cy="294" r="6"/>
<circle cx="422" cy="247" r="6"/>
<circle cx="434" cy="217" r="6"/>
<circle cx="472" cy="281" r="6"/>
<circle cx="401" cy="357" r="6"/>
</g>
<g class="b">
<circle cx="375" cy="355" r="6"/>
</g>
<g class="o">
<circle cx="373" cy="272" r="6"/>
<circle cx="323" cy="196" r="6"/>
<circle cx="375" cy="304" r="6"/>
<circle cx="403" cy="226" r="6"/>
<circle cx="474" cy="267" r="6"/>
</g>
<g class="b">
<circle cx="430" cy="408" r="6"/>
</g>
<g class="o">
<circle cx="506" cy="363" r="6"/>
<circle cx="436" cy="281" r="6"/>
</g>
<g class="b">
<circle cx="486" cy="259" r="6"/>
</g>
<g class="o">
<circle cx="389" cy="348" r="6"/>
</g>
<g class="b">
<circle cx="348" cy="425" r="6"/>
</g>
<g class="o">
<circle cx="467" cy="219" r="6"/>
</g>
<g class="b">
<circle cx="523" cy="238" r="6"/>
</g>
<g class="o">
<circle cx="406" cy="314" r="6"/>
</g>
<g class="b">
<circle cx="510" cy="245" r="6"/>
</g>
<g class="o">
<circle cx="438" cy="340" r="6"/>
</g>
<g class="b">
<circle cx="517" cy="200" r="6"/>
<circle cx="438" cy="136" r="6"/>
</g>
<g class="o">
<circle cx="466" cy="313" r="6"/>
<circle cx="387" cy="355" r="6"/>
<circle cx="410" cy="344" r="6"/>
<circle cx="424" cy="400" r="6"/>
<circle cx="372" cy="420" r="6"/>
<circle cx="466" cy="253" r="6"/>
</g>
<g class="b">
<circle cx="429" cy="296" r="6"/>
<circle cx="468" cy="249" r="6"/>
<circle cx="427" cy="250" r="6"/>
<circle cx="446" cy="195" r="6"/>
</g>
<g class="o">
<circle cx="399" cy="168" r="6"/>
<circle cx="427" cy="361" r="6"/>
<circle cx="472" cy="266" r="6"/>
<circle cx="340" cy="221" r="6"/>
<circle cx="416" cy="333" r="6"/>
<circle cx="416" cy="231" r="6"/>
<circle cx="434" cy="260" r="6"/>
</g>
<g class="b">
<circle cx="431" cy="234" r="6"/>
<circle cx="411" cy="397" r="6"/>
</g>
<g class="o">
<circle cx="420" cy="191" r="6"/>
</g>
<g class="b">
<circle cx="414" cy="388" r="6"/>
</g>
<g class="o">
<circle cx="478" cy="168" r="6"/>
</g>
<g class="b">
<circle cx="432" cy="300" r="6"/>
</g>
<g class="o">
<circle cx="390" cy="184" r="6"/>
<circle cx="425" cy="313" r="6"/>
<circle cx="398" cy="348" r="6"/>
</g>
<g class="b">
<circle cx="449" cy="319" r="6"/>
</g>
<g class="o">
<circle cx="393" cy="238" r="6"/>
<circle cx="388" cy="304" r="6"/>
</g>
<g class="b">
<circle cx="515" cy="158" r="6"/>
<circle cx="427" cy="226" r="6"/>
</g>
<g class="o">
<circle cx="373" cy="298" r="6"/>
</g>
<g class="b">
<circle cx="507" cy="484" r="6"/>
</g>
<g class="o">
<circle cx="420" cy="263" r="6"/>
<circle cx="370" cy="267" r="6"/>
</g>
<g class="b">
<circle cx="474" cy="244" r="6"/>
</g>
<g class="o">
<circle cx="353" cy="325" r="6"/>
</g>
<g class="b">
<circle cx="362" cy="278" r="6"/>
<circle cx="367" cy="216" r="6"/>
<circle cx="418" cy="263" r="6"/>
</g>
<g class="o">
<circle cx="425" cy="224" r="6"/>
<circle cx="391" cy="175" r="6"/>
</g>
<g class="b">
<circle cx="417" cy="243" r="6"/>
<circle cx="467" cy="316" r="6"/>
</g>
<g class="o">
<circle cx="420" cy="147" r="6"/>
<circle cx="472" cy="229" r="6"/>
<circle cx="427" cy="424" r="6"/>
<circle cx="490" cy="277" r="6"/>
</g>
<g class="b">
<circle cx="481" cy="177" r="6"/>
</g>
<g class="o">
<circle cx="450" cy="249" r="6"/>
<circle cx="410" cy="355" r="6"/>
</g>
<g class="b">
<circle cx="358" cy="283" r="6"/>
</g>
<g class="o">
<circle cx="374" cy="241" r="6"/>
<circle cx="368" cy="310" r="6"/>
<circle cx="504" cy="272" r="6"/>
<circle cx="434" cy="379" r="6"/>
<circle cx="394" cy="214" r="6"/>
<circle cx="529" cy="311" r="6"/>
<circle cx="459" cy="381" r="6"/>
</g>
<g class="b">
<circle cx="529" cy="238" r="6"/>
<circle cx="481" cy="308" r="6"/>
</g>
<g class="o">
<circle cx="395" cy="198" r="6"/>
</g>
<g class="b">
<circle cx="350" cy="373" r="6"/>
</g>
<g class="o">
<circle cx="374" cy="186" r="6"/>
<circle cx="397" cy="241" r="6"/>
<circle cx="463" cy="324" r="6"/>
<circle cx="462" cy="366" r="6"/>
</g>
<g class="b">
<circle cx="454" cy="190" r="6"/>
</g>
<g class="o">
<circle cx="396" cy="358" r="6"/>
<circle cx="415" cy="363" r="6"/>
</g>
<g class="b">
<circle cx="457" cy="326" r="6"/>
</g>
<g class="o">
<circle cx="442" cy="208" r="6"/>
</g>
<g class="b">
<circle cx="376" cy="320" r="6"/>
</g>
<g class="o">
<circle cx="498" cy="281" r="6"/>
<circle cx="435" cy="214" r="6"/>
</g>
<g class="b">
<circle cx="378" cy="200" r="6"/>
<circle cx="501" cy="308" r="6"/>
<circle cx="534" cy="218" r="6"/>
<circle cx="452" cy="237" r="6"/>
<circle cx="456" cy="385" r="6"/>
</g>
<g class="o">
<circle cx="361" cy="252" r="6"/>
<circle cx="474" cy="192" r="6"/>
<circle cx="368" cy="242" r="6"/>
</g>
<g class="b">
<circle cx="550" cy="307" r="6"/>
</g>
<g class="o">
<circle cx="476" cy="351" r="6"/>
<circle cx="362" cy="224" r="6"/>
</g>
<g class="b">
<circle cx="440" cy="315" r="6"/>
</g>
<g class="o">
<circle cx="394" cy="230" r="6"/>
<circle cx="416" cy="309" r="6"/>
<circle cx="297" cy="311" r="6"/>
<circle cx="483" cy="202" r="6"/>
</g>
<g class="b">
<circle cx="484" cy="294" r="6"/>
</g>
<g class="o">
<circle cx="156" cy="251" r="6"/>
<circle cx="472" cy="402" r="6"/>
</g>
<g class="b">
<circle cx="364" cy="350" r="6"/>
<circle cx="474" cy="326" r="6"/>
</g>
<g class="o">
<circle cx="397" cy="306" r="6"/>
<circle cx="391" cy="244" r="6"/>
<circle cx="460" cy="251" r="6"/>
<circle cx="444" cy="242" r="6"/>
</g>
<g class="b">
<circle cx="506" cy="349" r="6"/>
</g>
<g class="o">
<circle cx="411" cy="229" r="6"/>
<circle cx="494" cy="210" r="6"/>
<circle cx="458" cy="251" r="6"/>
<circle cx="427" cy="197" r="6"/>
<circle cx="260" cy="192" r="6"/>
</g>
<g class="b">
<circle cx="355" cy="322" r="6"/>
</g>
<g class="o">
<circle cx="389" cy="308" r="6"/>
<circle cx="393" cy="236" r="6"/>
</g>
<g class="b">
<circle cx="407" cy="216" r="6"/>
<circle cx="488" cy="188" r="6"/>
<circle cx="414" cy="241" r="6"/>
</g>
<g class="o">
<circle cx="506" cy="345" r="6"/>
<circle cx="455" cy="170" r="6"/>
</g>
<g class="b">
<circle cx="566" cy="375" r="6"/>
</g>
<g class="o">
<circle cx="461" cy="344" r="6"/>
<circle cx="360" cy="311" r="6"/>
<circle cx="473" cy="302" r="6"/>
<circle cx="493" cy="207" r="6"/>
</g>
<g class="b">
<circle cx="339" cy="305" r="6"/>
<circle cx="399" cy="409" r="6"/>
</g>
<g class="o">
<circle cx="474" cy="357" r="6"/>
<circle cx="452" cy="391" r="6"/>
</g>
<g class="b">
<circle cx="393" cy="325" r="6"/>
</g>
<g class="o">
<circle cx="446" cy="256" r="6"/>
<circle cx="472" cy="134" r="6"/>
<circle cx="370" cy="271" r="6"/>
<circle cx="418" cy="266" r="6"/>
<circle cx="319" cy="397" r="6"/>
</g>
<g class="b">
<circle cx="525" cy="224" r="6"/>
<circle cx="512" cy="236" r="6"/>
</g>
<g class="o">
<circle cx="359" cy="316" r="6"/>
</g>
<g class="b">
<circle cx="358" cy="253" r="6"/>
<circle cx="408" cy="274" r="6"/>
<circle cx="425" cy="371" r="6"/>
</g>
<g class="o">
<circle cx="365" cy="285" r="6"/>
</g>
<g class="b">
<circle cx="344" cy="414" r="6"/>
</g>
<g class="o">
<circle cx="409" cy="374" r="6"/>
<circle cx="451" cy="231" r="6"/>
<circle cx="478" cy="383" r="6"/>
</g>
<g class="b">
<circle cx="477" cy="292" r="6"/>
</g>
<g class="o">
<circle cx="350" cy="327" r="6"/>
</g>
<g class="b">
<circle cx="462" cy="275" r="6"/>
</g>
<g class="o">
<circle cx="290" cy="320" r="6"/>
<circle cx="421" cy="218" r="6"/>
<circle cx="369" cy="293" r="6"/>
<circle cx="454" cy="331" r="6"/>
</g>
<g class="b">
<circle cx="421" cy="166" r="6"/>
</g>
<g class="o">
<circle cx="417" cy="397" r="6"/>
<circle cx="408" cy="169" r="6"/>
</g>
<g class="b">
<circle cx="398" cy="411" r="6"/>
</g>
<g class="o">
<circle cx="474" cy="196" r="6"/>
<circle cx="399" cy="305" r="6"/>
</g>
<g class="b">
<circle cx="487" cy="181" r="6"/>
</g>
<g class="o">
<circle cx="388" cy="173" r="6"/>
</g>
<g class="b">
<circle cx="389" cy="279" r="6"/>
<circle cx="407" cy="377" r="6"/>
</g>
<g class="o">
<circle cx="439" cy="387" r="6"/>
<circle cx="493" cy="207" r="6"/>
<circle cx="384" cy="306" r="6"/>
</g>
<g class="b">
<circle cx="499" cy="294" r="6"/>
</g>
<g class="o">
<circle cx="379" cy="197" r="6"/>
</g>
<g class="b">
<circle cx="405" cy="283" r="6"/>
<circle cx="518" cy="320" r="6"/>
</g>
<g class="o">
<circle cx="352" cy="350" r="6"/>
<circle cx="412" cy="246" r="6"/>
<circle cx="517" cy="372" r="6"/>
</g>
<g class="b">
<circle cx="384" cy="296" r="6"/>
<circle cx="503" cy="332" r="6"/>
<circle cx="506" cy="233" r="6"/>
</g>
<g class="o">
<circle cx="372" cy="329" r="6"/>
<circle cx="349" cy="300" r="6"/>
<circle cx="388" cy="286" r="6"/>
</g>
<g class="b">
<circle cx="558" cy="244" r="6"/>
</g>
<g class="o">
<circle cx="470" cy="184" r="6"/>
<circle cx="399" cy="346" r="6"/>
</g>
<g class="b">
<circle cx="461" cy="249" r="6"/>
</g>
<g class="o">
<circle cx="443" cy="294" r="6"/>
</g>
<g class="b">
<circle cx="476" cy="231" r="6"/>
</g>
<g class="o">
<circle cx="416" cy="294" r="6"/>
</g>
<g class="b">
<circle cx="382" cy="415" r="6"/>
</g>
<g class="o">
<circle cx="388" cy="330" r="6"/>
</g>
<g class="b">
<circle cx="421" cy="154" r="6"/>
<circle cx="406" cy="326" r="6"/>
<circle cx="417" cy="318" r="6"/>
<circle cx="456" cy="231" r="6"/>
<circle cx="451" cy="245" r="6"/>
</g>
<g class="o">
<circle cx="534" cy="251" r="6"/>
</g>
<g class="b">
<circle cx="482" cy="405" r="6"/>
</g>
<g class="o">
<circle cx="436" cy="276" r="6"/>
</g>
<g class="b">
<circle cx="340" cy="246" r="6"/>
</g>
<g class="o">
<circle cx="419" cy="272" r="6"/>
</g>
<g class="b">
<circle cx="360" cy="320" r="6"/>
<circle cx="496" cy="253" r="6"/>
<circle cx="392" cy="377" r="6"/>
</g>
<g class="o">
<circle cx="474" cy="344" r="6"/>
<circle cx="432" cy="238" r="6"/>
<circle cx="389" cy="189" r="6"/>
</g>
<g class="b">
<circle cx="303" cy="327" r="6"/>
<circle cx="324" cy="340" r="6"/>
<circle cx="472" cy="146" r="6"/>
<circle cx="362" cy="234" r="6"/>
</g>
<g class="o">
<circle cx="368" cy="341" r="6"/>
</g>
<g class="b">
<circle cx="300" cy="363" r="6"/>
<circle cx="326" cy="334" r="6"/>
<circle cx="490" cy="378" r="6"/>
</g>
<g class="o">
<circle cx="433" cy="393" r="6"/>
</g>
<g class="b">
<circle cx="365" cy="391" r="6"/>
</g>
<g class="o">
<circle cx="461" cy="323" r="6"/>
</g>
<g class="b">
<circle cx="429" cy="445" r="6"/>
</g>
<g class="o">
<circle cx="445" cy="307" r="6"/>
<circle cx="389" cy="320" r="6"/>
</g>
<g class="b">
<circle cx="532" cy="266" r="6"/>
<circle cx="553" cy="285" r="6"/>
<circle cx="518" cy="372" r="6"/>
</g>
<g class="o">
<circle cx="396" cy="304" r="6"/>
<circle cx="467" cy="315" r="6"/>
<circle cx="452" cy="198" r="6"/>
<circle cx="378" cy="343" r="6"/>
</g>
<g class="b">
<circle cx="323" cy="450" r="6"/>
</g>
<g class="o">
<circle cx="450" cy="202" r="6"/>
<circle cx="491" cy="192" r="6"/>
<circle cx="528" cy="136" r="6"/>
</g>
<g class="b">
<circle cx="355" cy="301" r="6"/>
<circle cx="494" cy="347" r="6"/>
</g>
<g class="o">
<circle cx="347" cy="239" r="6"/>
<circle cx="434" cy="229" r="6"/>
</g>
<g class="b">
<circle cx="363" cy="185" r="6"/>
</g>
<g class="o">
<circle cx="445" cy="394" r="6"/>
<circle cx="466" cy="390" r="6"/>
<circle cx="493" cy="278" r="6"/>
<circle cx="546" cy="381" r="6"/>
<circle cx="478" cy="280" r="6"/>
</g>
<g class="b">
<circle cx="518" cy="317" r="6"/>
<circle cx="503" cy="390" r="6"/>
</g>
<g class="o">
<circle cx="467" cy="355" r="6"/>
</g>
<g class="b">
<circle cx="452" cy="173" r="6"/>
</g>
<g class="o">
<circle cx="394" cy="159" r="6"/>
<circle cx="411" cy="269" r="6"/>
<circle cx="464" cy="341" r="6"/>
</g>
<g class="b">
<circle cx="379" cy="338" r="6"/>
</g>
<g class="o">
<circle cx="398" cy="242" r="6"/>
</g>
<g class="b">
<circle cx="459" cy="328" r="6"/>
<circle cx="502" cy="286" r="6"/>
</g>
<g class="o">
<circle cx="386" cy="348" r="6"/>
<circle cx="434" cy="413" r="6"/>
</g>
<g class="b">
<circle cx="429" cy="287" r="6"/>
</g>
<g class="o">
<circle cx="458" cy="161" r="6"/>
<circle cx="433" cy="409" r="6"/>
</g>
<g class="b">
<circle cx="446" cy="175" r="6"/>
<circle cx="407" cy="392" r="6"/>
</g>
<g class="o">
<circle cx="365" cy="286" r="6"/>
<circle cx="497" cy="316" r="6"/>
<circle cx="432" cy="358" r="6"/>
<circle cx="411" cy="258" r="6"/>
<circle cx="470" cy="332" r="6"/>
<circle cx="438" cy="240" r="6"/>
<circle cx="422" cy="317" r="6"/>
<circle cx="338" cy="269" r="6"/>
<circle cx="460" cy="325" r="6"/>
</g>
<g class="b">
<circle cx="312" cy="275" r="6"/>
<circle cx="347" cy="405" r="6"/>
</g>
<g class="o">
<circle cx="484" cy="235" r="6"/>
</g>
<g class="b">
<circle cx="541" cy="250" r="6"/>
</g>
<g class="o">
<circle cx="419" cy="267" r="6"/>
</g>
<g class="b">
<circle cx="523" cy="160" r="6"/>
</g>
<g class="o">
<circle cx="443" cy="158" r="6"/>
<circle cx="392" cy="227" r="6"/>
<circle cx="465" cy="197" r="6"/>
<circle cx="384" cy="206" r="6"/>
<circle cx="416" cy="263" r="6"/>
<circle cx="472" cy="336" r="6"/>
<circle cx="457" cy="154" r="6"/>
<circle cx="421" cy="355" r="6"/>
<circle cx="338" cy="210" r="6"/>
<circle cx="446" cy="292" r="6"/>
</g>
<g class="b">
<circle cx="407" cy="332" r="6"/>
<circle cx="524" cy="281" r="6"/>
</g>
<g class="o">
<circle cx="349" cy="296" r="6"/>
<circle cx="403" cy="227" r="6"/>
<circle cx="469" cy="356" r="6"/>
</g>
<g class="b">
<circle cx="440" cy="207" r="6"/>
</g>
<g class="o">
<circle cx="429" cy="215" r="6"/>
<circle cx="472" cy="346" r="6"/>
<circle cx="483" cy="356" r="6"/>
</g>
<g class="b">
<circle cx="369" cy="381" r="6"/>
<circle cx="492" cy="335" r="6"/>
<circle cx="414" cy="205" r="6"/>
</g>
<g class="o">
<circle cx="415" cy="336" r="6"/>
<circle cx="446" cy="248" r="6"/>
</g>
<g class="b">
<circle cx="376" cy="302" r="6"/>
</g>
<g class="o">
<circle cx="368" cy="315" r="6"/>
</g>
<g class="b">
<circle cx="471" cy="252" r="6"/>
</g>
<g class="o">
<circle cx="370" cy="382" r="6"/>
</g>
<g class="b">
<circle cx="509" cy="230" r="6"/>
</g>
<g class="o">
<circle cx="489" cy="297" r="6"/>
</g>
<g class="b">
<circle cx="455" cy="314" r="6"/>
</g>
<g class="o">
<circle cx="493" cy="243" r="6"/>
<circle cx="434" cy="218" r="6"/>
<circle cx="353" cy="225" r="6"/>
<circle cx="381" cy="390" r="6"/>
<circle cx="399" cy="178" r="6"/>
</g>
<g class="b">
<circle cx="522" cy="256" r="6"/>
</g>
<g class="o">
<circle cx="289" cy="248" r="6"/>
</g>
<g class="b">
<circle cx="510" cy="246" r="6"/>
</g>
<g class="o">
<circle cx="385" cy="186" r="6"/>
<circle cx="378" cy="236" r="6"/>
</g>
<g class="b">
<circle cx="278" cy="320" r="6"/>
</g>
<g class="o">
<circle cx="387" cy="375" r="6"/>
</g>
<g class="b">
<circle cx="311" cy="377" r="6"/>
</g>
<g class="o">
<circle cx="342" cy="315" r="6"/>
</g>
<g class="b">
<circle cx="464" cy="256" r="6"/>
</g>
<g class="o">
<circle cx="456" cy="364" r="6"/>
</g>
<g class="b">
<circle cx="381" cy="274" r="6"/>
</g>
<g class="o">
<circle cx="451" cy="312" r="6"/>
<circle cx="407" cy="156" r="6"/>
</g>
<g class="b">
<circle cx="596" cy="510" r="6"/>
</g>
<g class="o">
<circle cx="509" cy="162" r="6"/>
<circle cx="460" cy="276" r="6"/>
</g>
<g class="b">
<circle cx="446" cy="307" r="6"/>
</g>
<g class="o">
<circle cx="367" cy="321" r="6"/>
<circle cx="393" cy="172" r="6"/>
</g>
<g class="b">
<circle cx="340" cy="242" r="6"/>
</g>
<g class="o">
<circle cx="405" cy="276" r="6"/>
</g>
<g class="b">
<circle cx="290" cy="437" r="6"/>
<circle cx="522" cy="347" r="6"/>
<circle cx="516" cy="286" r="6"/>
<circle cx="474" cy="220" r="6"/>
</g>
<g class="o">
<circle cx="402" cy="282" r="6"/>
<circle cx="416" cy="407" r="6"/>
</g>
<g class="b">
<circle cx="479" cy="162" r="6"/>
</g>
<g class="o">
<circle cx="295" cy="186" r="6"/>
</g>
<g class="b">
<circle cx="427" cy="455" r="6"/>
</g>
<g class="o">
<circle cx="461" cy="244" r="6"/>
<circle cx="391" cy="197" r="6"/>
</g>
<g class="b">
<circle cx="548" cy="294" r="6"/>
</g>
<g class="o">
<circle cx="408" cy="399" r="6"/>
</g>
<g class="b">
<circle cx="430" cy="227" r="6"/>
</g>
<g class="o">
<circle cx="390" cy="359" r="6"/>
<circle cx="362" cy="329" r="6"/>
<circle cx="426" cy="443" r="6"/>
</g>
<g class="b">
<circle cx="472" cy="353" r="6"/>
<circle cx="460" cy="336" r="6"/>
<circle cx="510" cy="232" r="6"/>
</g>
<g class="o">
<circle cx="424" cy="201" r="6"/>
<circle cx="472" cy="211" r="6"/>
<circle cx="473" cy="323" r="6"/>
</g>
<g class="b">
<circle cx="383" cy="227" r="6"/>
</g>
<g class="o">
<circle cx="416" cy="325" r="6"/>
<circle cx="456" cy="395" r="6"/>
<circle cx="382" cy="284" r="6"/>
<circle cx="383" cy="272" r="6"/>
<circle cx="420" cy="395" r="6"/>
<circle cx="402" cy="366" r="6"/>
<circle cx="430" cy="418" r="6"/>
<circle cx="427" cy="179" r="6"/>
<circle cx="434" cy="264" r="6"/>
<circle cx="305" cy="320" r="6"/>
<circle cx="392" cy="321" r="6"/>
<circle cx="454" cy="284" r="6"/>
</g>
<g class="b">
<circle cx="473" cy="399" r="6"/>
</g>
<g class="o">
<circle cx="378" cy="321" r="6"/>
<circle cx="417" cy="221" r="6"/>
<circle cx="415" cy="169" r="6"/>
<circle cx="467" cy="220" r="6"/>
<circle cx="454" cy="225" r="6"/>
<circle cx="387" cy="237" r="6"/>
<circle cx="518" cy="259" r="6"/>
<circle cx="410" cy="189" r="6"/>
</g>
<g class="b">
<circle cx="446" cy="262" r="6"/>
</g>
<g class="o">
<circle cx="431" cy="334" r="6"/>
<circle cx="384" cy="164" r="6"/>
<circle cx="413" cy="193" r="6"/>
</g>
<g class="b">
<circle cx="380" cy="342" r="6"/>
</g>
<g class="o">
<circle cx="463" cy="260" r="6"/>
</g>
<g class="b">
<circle cx="386" cy="354" r="6"/>
</g>
<g class="o">
<circle cx="463" cy="274" r="6"/>
<circle cx="401" cy="209" r="6"/>
</g>
<g class="b">
<circle cx="516" cy="279" r="6"/>
</g>
<g class="o">
<circle cx="398" cy="206" r="6"/>
</g>
<g class="b">
<circle cx="431" cy="249" r="6"/>
</g>
<g class="o">
<circle cx="477" cy="343" r="6"/>
</g>
<g class="b">
<circle cx="405" cy="369" r="6"/>
<circle cx="380" cy="394" r="6"/>
</g>
<g class="o">
<circle cx="464" cy="239" r="6"/>
</g>
<g class="b">
<circle cx="503" cy="356" r="6"/>
<circle cx="367" cy="357" r="6"/>
</g>
<g class="o">
<circle cx="498" cy="236" r="6"/>
</g>
<g class="b">
<circle cx="442" cy="260" r="6"/>
</g>
<g class="o">
<circle cx="449" cy="277" r="6"/>
<circle cx="406" cy="406" r="6"/>
</g>
<g class="b">
<circle cx="288" cy="306" r="6"/>
<circle cx="478" cy="222" r="6"/>
</g>
<g class="o">
<circle cx="504" cy="356" r="6"/>
<circle cx="389" cy="283" r="6"/>
<circle cx="378" cy="215" r="6"/>
</g>
<g class="b">
<circle cx="441" cy="270" r="6"/>
</g>
<g class="o">
<circle cx="505" cy="308" r="6"/>
</g>
<g class="b">
<circle cx="371" cy="337" r="6"/>
<circle cx="492" cy="358" r="6"/>
</g>
<g class="o">
<circle cx="367" cy="237" r="6"/>
</g>
<g class="b">
<circle cx="485" cy="266" r="6"/>
<circle cx="273" cy="365" r="6"/>
<circle cx="445" cy="394" r="6"/>
</g>
<g class="o">
<circle cx="535" cy="180" r="6"/>
<circle cx="451" cy="372" r="6"/>
<circle cx="382" cy="193" r="6"/>
</g>
<g class="b">
<circle cx="348" cy="324" r="6"/>
</g>
<g class="o">
<circle cx="409" cy="261" r="6"/>
<circle cx="419" cy="366" r="6"/>
</g>
<g class="b">
<circle cx="377" cy="256" r="6"/>
</g>
<g class="o">
<circle cx="395" cy="325" r="6"/>
<circle cx="424" cy="220" r="6"/>
<circle cx="351" cy="248" r="6"/>
<circle cx="395" cy="257" r="6"/>
</g>
<g class="b">
<circle cx="425" cy="348" r="6"/>
</g>
<g class="o">
<circle cx="468" cy="351" r="6"/>
<circle cx="440" cy="270" r="6"/>
<circle cx="408" cy="402" r="6"/>
</g>
<g class="b">
<circle cx="372" cy="301" r="6"/>
</g>
<g class="o">
<circle cx="438" cy="287" r="6"/>
</g>
<g class="b">
<circle cx="549" cy="356" r="6"/>
</g>
<g class="o">
<circle cx="422" cy="357" r="6"/>
<circle cx="427" cy="213" r="6"/>
</g>
<g class="b">
<circle cx="462" cy="399" r="6"/>
</g>
<g class="o">
<circle cx="422" cy="392" r="6"/>
<circle cx="445" cy="310" r="6"/>
</g>
<g class="b">
<circle cx="396" cy="200" r="6"/>
<circle cx="372" cy="270" r="6"/>
</g>
<g class="o">
<circle cx="404" cy="383" r="6"/>
</g>
<g class="b">
<circle cx="529" cy="399" r="6"/>
</g>
<g class="o">
<circle cx="428" cy="360" r="6"/>
</g>
<g class="b">
<circle cx="463" cy="482" r="6"/>
</g>
<g class="o">
<circle cx="434" cy="339" r="6"/>
</g>
<g class="b">
<circle cx="536" cy="289" r="6"/>
<circle cx="443" cy="375" r="6"/>
<circle cx="402" cy="353" r="6"/>
</g>
<g class="o">
<circle cx="459" cy="239" r="6"/>
<circle cx="389" cy="230" r="6"/>
<circle cx="461" cy="210" r="6"/>
</g>
<g class="b">
<circle cx="412" cy="388" r="6"/>
<circle cx="445" cy="212" r="6"/>
<circle cx="398" cy="214" r="6"/>
</g>
<g class="o">
<circle cx="429" cy="261" r="6"/>
</g>
<g class="b">
<circle cx="544" cy="173" r="6"/>
<circle cx="559" cy="270" r="6"/>
<circle cx="383" cy="386" r="6"/>
</g>
<g class="o">
<circle cx="354" cy="253" r="6"/>
<circle cx="442" cy="186" r="6"/>
<circle cx="436" cy="328" r="6"/>
</g>
<g class="b">
<circle cx="286" cy="311" r="6"/>
<circle cx="355" cy="389" r="6"/>
<circle cx="531" cy="260" r="6"/>
</g>
<g class="o">
<circle cx="386" cy="248" r="6"/>
</g>
<g class="b">
<circle cx="494" cy="354" r="6"/>
</g>
<g class="o">
<circle cx="361" cy="326" r="6"/>
<circle cx="445" cy="303" r="6"/>
</g>
<g class="b">
<circle cx="476" cy="401" r="6"/>
</g>
<g class="o">
<circle cx="414" cy="169" r="6"/>
</g>
<g class="b">
<circle cx="414" cy="397" r="6"/>
<circle cx="366" cy="288" r="6"/>
</g>
<g class="o">
<circle cx="416" cy="325" r="6"/>
<circle cx="494" cy="280" r="6"/>
<circle cx="442" cy="285" r="6"/>
</g>
<g class="b">
<circle cx="325" cy="407" r="6"/>
</g>
<g class="o">
<circle cx="434" cy="325" r="6"/>
<circle cx="378" cy="382" r="6"/>
</g>
<g class="b">
<circle cx="419" cy="198" r="6"/>
</g>
<g class="o">
<circle cx="295" cy="351" r="6"/>
<circle cx="370" cy="209" r="6"/>
<circle cx="477" cy="357" r="6"/>
</g>
<g class="b">
<circle cx="464" cy="409" r="6"/>
</g>
<g class="o">
<circle cx="497" cy="287" r="6"/>
<circle cx="377" cy="192" r="6"/>
</g>
<g class="b">
<circle cx="371" cy="373" r="6"/>
</g>
<g class="o">
<circle cx="536" cy="265" r="6"/>
<circle cx="482" cy="330" r="6"/>
<circle cx="440" cy="321" r="6"/>
<circle cx="389" cy="212" r="6"/>
<circle cx="395" cy="264" r="6"/>
</g>
<g class="b">
<circle cx="361" cy="247" r="6"/>
<circle cx="379" cy="329" r="6"/>
</g>
<g class="o">
<circle cx="411" cy="243" r="6"/>
<circle cx="477" cy="347" r="6"/>
</g>
<g class="b">
<circle cx="425" cy="180" r="6"/>
</g>
<g class="o">
<circle cx="448" cy="221" r="6"/>
<circle cx="382" cy="355" r="6"/>
<circle cx="469" cy="324" r="6"/>
</g>
<g class="b">
<circle cx="417" cy="155" r="6"/>
</g>
<g class="o">
<circle cx="475" cy="278" r="6"/>
<circle cx="256" cy="351" r="6"/>
</g>
<g class="b">
<circle cx="294" cy="187" r="6"/>
</g>
<g class="o">
<circle cx="480" cy="357" r="6"/>
<circle cx="452" cy="313" r="6"/>
<circle cx="486" cy="277" r="6"/>
<circle cx="439" cy="345" r="6"/>
<circle cx="425" cy="376" r="6"/>
<circle cx="428" cy="335" r="6"/>
<circle cx="431" cy="192" r="6"/>
<circle cx="391" cy="277" r="6"/>
</g>
<g class="b">
<circle cx="522" cy="118" r="6"/>
<circle cx="513" cy="333" r="6"/>
</g>
<g class="o">
<circle cx="386" cy="215" r="6"/>
</g>
<g class="b">
<circle cx="349" cy="257" r="6"/>
<circle cx="450" cy="210" r="6"/>
</g>
<g class="o">
<circle cx="417" cy="286" r="6"/>
</g>
<g class="b">
<circle cx="513" cy="323" r="6"/>
<circle cx="533" cy="354" r="6"/>
</g>
<g class="o">
<circle cx="486" cy="336" r="6"/>
<circle cx="474" cy="251" r="6"/>
</g>
<g class="b">
<circle cx="416" cy="307" r="6"/>
<circle cx="492" cy="430" r="6"/>
</g>
<g class="o">
<circle cx="457" cy="236" r="6"/>
</g>
<g class="b">
<circle cx="451" cy="265" r="6"/>
<circle cx="427" cy="327" r="6"/>
</g>
<g class="o">
<circle cx="440" cy="395" r="6"/>
<circle cx="370" cy="252" r="6"/>
</g>
<g class="b">
<circle cx="465" cy="239" r="6"/>
</g>
<g class="o">
<circle cx="396" cy="369" r="6"/>
</g>
<g class="b">
<circle cx="395" cy="300" r="6"/>
</g>
<g class="o">
<circle cx="467" cy="214" r="6"/>
<circle cx="379" cy="321" r="6"/>
<circle cx="482" cy="398" r="6"/>
<circle cx="364" cy="286" r="6"/>
</g>
<g class="b">
<circle cx="568" cy="263" r="6"/>
</g>
<g class="o">
<circle cx="485" cy="205" r="6"/>
<circle cx="447" cy="330" r="6"/>
<circle cx="426" cy="221" r="6"/>
</g>
<g class="b">
<circle cx="421" cy="226" r="6"/>
</g>
<g class="o">
<circle cx="384" cy="249" r="6"/>
<circle cx="425" cy="196" r="6"/>
<circle cx="273" cy="330" r="6"/>
<circle cx="438" cy="372" r="6"/>
<circle cx="330" cy="305" r="6"/>
<circle cx="403" cy="386" r="6"/>
<circle cx="462" cy="293" r="6"/>
</g>
<g class="b">
<circle cx="380" cy="362" r="6"/>
</g>
<g class="o">
<circle cx="410" cy="275" r="6"/>
<circle cx="493" cy="353" r="6"/>
<circle cx="393" cy="291" r="6"/>
<circle cx="438" cy="255" r="6"/>
<circle cx="493" cy="363" r="6"/>
</g>
<g class="b">
<circle cx="516" cy="361" r="6"/>
</g>
<g class="o">
<circle cx="490" cy="339" r="6"/>
<circle cx="442" cy="384" r="6"/>
</g>
<g class="b">
<circle cx="428" cy="394" r="6"/>
<circle cx="474" cy="310" r="6"/>
<circle cx="293" cy="442" r="6"/>
<circle cx="509" cy="252" r="6"/>
<circle cx="478" cy="311" r="6"/>
</g>
<g class="o">
<circle cx="405" cy="276" r="6"/>
<circle cx="352" cy="320" r="6"/>
<circle cx="374" cy="383" r="6"/>
</g>
<g class="b">
<circle cx="378" cy="359" r="6"/>
<circle cx="466" cy="297" r="6"/>
</g>
<g class="o">
<circle cx="385" cy="264" r="6"/>
<circle cx="391" cy="409" r="6"/>
<circle cx="338" cy="232" r="6"/>
</g>
<g class="b">
<circle cx="383" cy="208" r="6"/>
<circle cx="476" cy="270" r="6"/>
</g>
<g class="o">
<circle cx="433" cy="376" r="6"/>
<circle cx="497" cy="295" r="6"/>
</g>
<g class="b">
<circle cx="411" cy="153" r="6"/>
</g>
<g class="o">
<circle cx="440" cy="224" r="6"/>
</g>
<g class="b">
<circle cx="483" cy="340" r="6"/>
</g>
<g class="o">
<circle cx="454" cy="226" r="6"/>
<circle cx="471" cy="301" r="6"/>
</g>
<g class="b">
<circle cx="363" cy="358" r="6"/>
</g>
<g class="o">
<circle cx="423" cy="293" r="6"/>
<circle cx="344" cy="254" r="6"/>
<circle cx="275" cy="137" r="6"/>
</g>
<g class="b">
<circle cx="443" cy="163" r="6"/>
<circle cx="310" cy="366" r="6"/>
<circle cx="378" cy="350" r="6"/>
<circle cx="538" cy="314" r="6"/>
</g>
<g class="o">
<circle cx="391" cy="168" r="6"/>
</g>
<g class="b">
<circle cx="466" cy="373" r="6"/>
<circle cx="416" cy="264" r="6"/>
<circle cx="398" cy="386" r="6"/>
<circle cx="442" cy="184" r="6"/>
<circle cx="472" cy="373" r="6"/>
<circle cx="380" cy="345" r="6"/>
</g>
<g class="o">
<circle cx="456" cy="233" r="6"/>
<circle cx="327" cy="247" r="6"/>
<circle cx="405" cy="333" r="6"/>
<circle cx="387" cy="364" r="6"/>
<circle cx="495" cy="213" r="6"/>
<circle cx="430" cy="370" r="6"/>
<circle cx="413" cy="382" r="6"/>
</g>
<g class="b">
<circle cx="519" cy="324" r="6"/>
</g>
<g class="o">
<circle cx="499" cy="234" r="6"/>
<circle cx="398" cy="382" r="6"/>
<circle cx="447" cy="243" r="6"/>
<circle cx="330" cy="189" r="6"/>
</g>
<g class="b">
<circle cx="329" cy="354" r="6"/>
</g>
<g class="o">
<circle cx="503" cy="254" r="6"/>
</g>
<g class="b">
<circle cx="379" cy="206" r="6"/>
</g>
<g class="o">
<circle cx="422" cy="258" r="6"/>
</g>
<g class="b">
<circle cx="466" cy="210" r="6"/>
</g>
<g class="o">
<circle cx="405" cy="377" r="6"/>
<circle cx="502" cy="245" r="6"/>
</g>
<g class="b">
<circle cx="467" cy="314" r="6"/>
<circle cx="492" cy="189" r="6"/>
<circle cx="503" cy="231" r="6"/>
</g>
<g class="o">
<circle cx="407" cy="282" r="6"/>
</g>
<g class="b">
<circle cx="397" cy="381" r="6"/>
</g>
<g class="o">
<circle cx="502" cy="334" r="6"/>
</g>
<g class="b">
<circle cx="489" cy="387" r="6"/>
</g>
<g class="o">
<circle cx="364" cy="220" r="6"/>
<circle cx="389" cy="382" r="6"/>
</g>
<g class="b">
<circle cx="464" cy="291" r="6"/>
</g>
<g class="o">
<circle cx="418" cy="226" r="6"/>
<circle cx="448" cy="238" r="6"/>
<circle cx="414" cy="401" r="6"/>
<circle cx="442" cy="338" r="6"/>
</g>
<g class="b">
<circle cx="452" cy="281" r="6"/>
</g>
<g class="o">
<circle cx="403" cy="311" r="6"/>
</g>
<g class="b">
<circle cx="471" cy="374" r="6"/>
</g>
<g class="o">
<circle cx="486" cy="306" r="6"/>
<circle cx="364" cy="298" r="6"/>
<circle cx="473" cy="318" r="6"/>
<circle cx="424" cy="372" r="6"/>
<circle cx="359" cy="308" r="6"/>
<circle cx="434" cy="384" r="6"/>
<circle cx="478" cy="248" r="6"/>
<circle cx="368" cy="267" r="6"/>
<circle cx="499" cy="218" r="6"/>
<circle cx="479" cy="196" r="6"/>
<circle cx="447" cy="366" r="6"/>
<circle cx="330" cy="312" r="6"/>
<circle cx="473" cy="232" r="6"/>
<circle cx="486" cy="328" r="6"/>
</g>
<g class="b">
<circle cx="458" cy="352" r="6"/>
<circle cx="544" cy="274" r="6"/>
<circle cx="455" cy="315" r="6"/>
<circle cx="506" cy="199" r="6"/>
</g>
<g class="o">
<circle cx="305" cy="141" r="6"/>
<circle cx="495" cy="296" r="6"/>
<circle cx="458" cy="317" r="6"/>
</g>
<g class="b">
<circle cx="405" cy="292" r="6"/>
</g>
<g class="o">
<circle cx="400" cy="264" r="6"/>
<circle cx="450" cy="297" r="6"/>
</g>
<g class="b">
<circle cx="395" cy="405" r="6"/>
<circle cx="444" cy="369" r="6"/>
<circle cx="447" cy="389" r="6"/>
<circle cx="454" cy="365" r="6"/>
</g>
<g class="o">
<circle cx="405" cy="422" r="6"/>
</g>
<g class="b">
<circle cx="374" cy="390" r="6"/>
</g>
<g class="o">
<circle cx="417" cy="385" r="6"/>
</g>
<g class="b">
<circle cx="556" cy="265" r="6"/>
<circle cx="430" cy="173" r="6"/>
<circle cx="322" cy="408" r="6"/>
</g>
<g class="o">
<circle cx="505" cy="299" r="6"/>
</g>
<g class="b">
<circle cx="448" cy="244" r="6"/>
</g>
<g class="o">
<circle cx="484" cy="305" r="6"/>
<circle cx="474" cy="166" r="6"/>
</g>
<g class="b">
<circle cx="293" cy="371" r="6"/>
</g>
<g class="o">
<circle cx="516" cy="240" r="6"/>
</g>
<g class="b">
<circle cx="419" cy="369" r="6"/>
</g>
<g class="o">
<circle cx="483" cy="189" r="6"/>
<circle cx="486" cy="336" r="6"/>
<circle cx="437" cy="123" r="6"/>
<circle cx="482" cy="300" r="6"/>
<circle cx="367" cy="268" r="6"/>
<circle cx="441" cy="282" r="6"/>
</g>
<g class="b">
<circle cx="441" cy="319" r="6"/>
<circle cx="418" cy="211" r="6"/>
</g>
<g class="o">
<circle cx="399" cy="311" r="6"/>
<circle cx="402" cy="355" r="6"/>
</g>
<g class="b">
<circle cx="543" cy="290" r="6"/>
<circle cx="328" cy="397" r="6"/>
</g>
<g class="o">
<circle cx="434" cy="344" r="6"/>
<circle cx="466" cy="384" r="6"/>
<circle cx="436" cy="280" r="6"/>
</g>
<g class="b">
<circle cx="525" cy="304" r="6"/>
</g>
<g class="o">
<circle cx="441" cy="217" r="6"/>
</g>
<g class="b">
<circle cx="295" cy="343" r="6"/>
</g>
<g class="o">
<circle cx="394" cy="376" r="6"/>
</g>
<g class="b">
<circle cx="472" cy="271" r="6"/>
</g>
<g class="o">
<circle cx="442" cy="223" r="6"/>
</g>
<g class="b">
<circle cx="302" cy="311" r="6"/>
</g>
<g class="o">
<circle cx="399" cy="273" r="6"/>
</g>
<g class="b">
<circle cx="506" cy="258" r="6"/>
<circle cx="349" cy="342" r="6"/>
</g>
<g class="o">
<circle cx="258" cy="215" r="6"/>
<circle cx="397" cy="258" r="6"/>
</g>
<g class="b">
<circle cx="336" cy="294" r="6"/>
</g>
<g class="o">
<circle cx="392" cy="173" r="6"/>
<circle cx="456" cy="327" r="6"/>
<circle cx="418" cy="299" r="6"/>
<circle cx="393" cy="385" r="6"/>
<circle cx="313" cy="226" r="6"/>
<circle cx="485" cy="336" r="6"/>
</g>
<g class="b">
<circle cx="389" cy="386" r="6"/>
</g>
<g class="o">
<circle cx="398" cy="201" r="6"/>
</g>
<g class="b">
<circle cx="397" cy="249" r="6"/>
</g>
<g class="o">
<circle cx="434" cy="374" r="6"/>
<circle cx="495" cy="309" r="6"/>
</g>
<g class="b">
<circle cx="401" cy="238" r="6"/>
</g>
<g class="o">
<circle cx="373" cy="176" r="6"/>
<circle cx="356" cy="277" r="6"/>
</g>
<g class="b">
<circle cx="568" cy="236" r="6"/>
<circle cx="382" cy="304" r="6"/>
</g>
<g class="o">
<circle cx="403" cy="391" r="6"/>
<circle cx="466" cy="329" r="6"/>
</g>
<g class="b">
<circle cx="385" cy="262" r="6"/>
</g>
<g class="o">
<circle cx="397" cy="370" r="6"/>
<circle cx="489" cy="377" r="6"/>
<circle cx="417" cy="389" r="6"/>
</g>
<g class="b">
<circle cx="443" cy="207" r="6"/>
<circle cx="344" cy="260" r="6"/>
</g>
<g class="o">
<circle cx="375" cy="291" r="6"/>
<circle cx="362" cy="311" r="6"/>
<circle cx="391" cy="144" r="6"/>
<circle cx="410" cy="290" r="6"/>
</g>
<g class="b">
<circle cx="468" cy="420" r="6"/>
</g>
<g class="o">
<circle cx="429" cy="364" r="6"/>
</g>
<g class="b">
<circle cx="319" cy="307" r="6"/>
</g>
<g class="o">
<circle cx="491" cy="265" r="6"/>
</g>
<g class="b">
<circle cx="341" cy="290" r="6"/>
</g>
<g class="o">
<circle cx="386" cy="363" r="6"/>
<circle cx="362" cy="298" r="6"/>
<circle cx="453" cy="181" r="6"/>
</g>
<g class="b">
<circle cx="431" cy="291" r="6"/>
<circle cx="337" cy="304" r="6"/>
<circle cx="565" cy="326" r="6"/>
<circle cx="551" cy="289" r="6"/>
</g>
<g class="o">
<circle cx="462" cy="343" r="6"/>
<circle cx="465" cy="278" r="6"/>
<circle cx="452" cy="216" r="6"/>
</g>
<g class="b">
<circle cx="380" cy="227" r="6"/>
<circle cx="397" cy="151" r="6"/>
</g>
<g class="o">
<circle cx="388" cy="334" r="6"/>
</g>
<g class="b">
<circle cx="417" cy="442" r="6"/>
<circle cx="463" cy="564" r="6"/>
</g>
<g class="o">
<circle cx="354" cy="182" r="6"/>
</g>
<g class="b">
<circle cx="536" cy="301" r="6"/>
</g>
<g class="o">
<circle cx="439" cy="284" r="6"/>
<circle cx="524" cy="335" r="6"/>
<circle cx="402" cy="228" r="6"/>
<circle cx="443" cy="196" r="6"/>
<circle cx="464" cy="280" r="6"/>
<circle cx="460" cy="167" r="6"/>
<circle cx="435" cy="219" r="6"/>
</g>
<g class="b">
<circle cx="493" cy="364" r="6"/>
<circle cx="511" cy="290" r="6"/>
<circle cx="362" cy="253" r="6"/>
</g>
<g class="o">
<circle cx="415" cy="394" r="6"/>
<circle cx="409" cy="327" r="6"/>
<circle cx="315" cy="207" r="6"/>
<circle cx="428" cy="317" r="6"/>
</g>
<g class="b">
<circle cx="425" cy="372" r="6"/>
</g>
<g class="o">
<circle cx="456" cy="200" r="6"/>
<circle cx="433" cy="203" r="6"/>
</g>
<g class="b">
<circle cx="400" cy="306" r="6"/>
</g>
<g class="o">
<circle cx="391" cy="218" r="6"/>
<circle cx="469" cy="325" r="6"/>
</g>
<g class="b">
<circle cx="328" cy="303" r="6"/>
<circle cx="387" cy="194" r="6"/>
<circle cx="352" cy="405" r="6"/>
<circle cx="462" cy="298" r="6"/>
</g>
<g class="o">
<circle cx="435" cy="294" r="6"/>
</g>
<g class="b">
<circle cx="570" cy="298" r="6"/>
</g>
<g class="o">
<circle cx="385" cy="318" r="6"/>
<circle cx="394" cy="281" r="6"/>
</g>
<g class="b">
<circle cx="390" cy="259" r="6"/>
</g>
<g class="o">
<circle cx="423" cy="193" r="6"/>
</g>
<g class="b">
<circle cx="387" cy="376" r="6"/>
</g>
<g class="o">
<circle cx="437" cy="339" r="6"/>
<circle cx="443" cy="195" r="6"/>
<circle cx="378" cy="371" r="6"/>
</g>
<g class="b">
<circle cx="510" cy="310" r="6"/>
</g>
<g class="o">
<circle cx="395" cy="209" r="6"/>
<circle cx="455" cy="225" r="6"/>
<circle cx="455" cy="341" r="6"/>
<circle cx="467" cy="266" r="6"/>
<circle cx="435" cy="197" r="6"/>
<circle cx="379" cy="276" r="6"/>
<circle cx="357" cy="260" r="6"/>
</g>
<g class="b">
<circle cx="509" cy="166" r="6"/>
<circle cx="532" cy="346" r="6"/>
</g>
<g class="o">
<circle cx="396" cy="310" r="6"/>
</g>
<g class="b">
<circle cx="429" cy="396" r="6"/>
<circle cx="412" cy="332" r="6"/>
<circle cx="459" cy="408" r="6"/>
<circle cx="459" cy="348" r="6"/>
</g>
<g class="o">
<circle cx="460" cy="346" r="6"/>
<circle cx="350" cy="287" r="6"/>
<circle cx="470" cy="292" r="6"/>
</g>
<g class="b">
<circle cx="472" cy="348" r="6"/>
</g>
<g class="o">
<circle cx="404" cy="218" r="6"/>
<circle cx="452" cy="398" r="6"/>
<circle cx="409" cy="385" r="6"/>
</g>
<g class="b">
<circle cx="403" cy="450" r="6"/>
</g>
<g class="o">
<circle cx="506" cy="256" r="6"/>
<circle cx="534" cy="217" r="6"/>
</g>
<g class="b">
<circle cx="431" cy="505" r="6"/>
</g>
<g class="o">
<circle cx="398" cy="161" r="6"/>
</g>
<g class="b">
<circle cx="551" cy="210" r="6"/>
</g>
<g class="o">
<circle cx="386" cy="211" r="6"/>
</g>
<g class="b">
<circle cx="528" cy="443" r="6"/>
</g>
<g class="o">
<circle cx="341" cy="239" r="6"/>
<circle cx="475" cy="220" r="6"/>
<circle cx="410" cy="246" r="6"/>
<circle cx="490" cy="289" r="6"/>
<circle cx="365" cy="249" r="6"/>
<circle cx="356" cy="233" r="6"/>
<circle cx="493" cy="295" r="6"/>
<circle cx="490" cy="248" r="6"/>
<circle cx="408" cy="381" r="6"/>
<circle cx="421" cy="256" r="6"/>
<circle cx="433" cy="284" r="6"/>
<circle cx="404" cy="403" r="6"/>
<circle cx="466" cy="284" r="6"/>
<circle cx="515" cy="305" r="6"/>
<circle cx="444" cy="270" r="6"/>
<circle cx="413" cy="336" r="6"/>
<circle cx="436" cy="326" r="6"/>
<circle cx="391" cy="200" r="6"/>
<circle cx="433" cy="416" r="6"/>
<circle cx="437" cy="253" r="6"/>
<circle cx="502" cy="413" r="6"/>
<circle cx="464" cy="398" r="6"/>
<circle cx="494" cy="320" r="6"/>
<circle cx="405" cy="190" r="6"/>
<circle cx="451" cy="366" r="6"/>
<circle cx="386" cy="383" r="6"/>
<circle cx="454" cy="234" r="6"/>
<circle cx="439" cy="270" r="6"/>
<circle cx="461" cy="207" r="6"/>
<circle cx="415" cy="290" r="6"/>
<circle cx="428" cy="243" r="6"/>
<circle cx="423" cy="261" r="6"/>
<circle cx="350" cy="315" r="6"/>
<circle cx="437" cy="164" r="6"/>
<circle cx="327" cy="242" r="6"/>
<circle cx="471" cy="423" r="6"/>
<circle cx="384" cy="236" r="6"/>
<circle cx="453" cy="300" r="6"/>
<circle cx="500" cy="181" r="6"/>
<circle cx="409" cy="229" r="6"/>
<circle cx="341" cy="340" r="6"/>
<circle cx="470" cy="316" r="6"/>
<circle cx="452" cy="325" r="6"/>
<circle cx="508" cy="321" r="6"/>
<circle cx="445" cy="276" r="6"/>
<circle cx="371" cy="223" r="6"/>
<circle cx="521" cy="187" r="6"/>
<circle cx="462" cy="193" r="6"/>
<circle cx="439" cy="294" r="6"/>
<circle cx="471" cy="239" r="6"/>
<circle cx="456" cy="393" r="6"/>
<circle cx="389" cy="229" r="6"/>
<circle cx="430" cy="418" r="6"/>
<circle cx="473" cy="227" r="6"/>
<circle cx="442" cy="277" r="6"/>
<circle cx="432" cy="323" r="6"/>
<circle cx="385" cy="217" r="6"/>
<circle cx="444" cy="204" r="6"/>
<circle cx="372" cy="318" r="6"/>
<circle cx="443" cy="369" r="6"/>
<circle cx="484" cy="251" r="6"/>
<circle cx="440" cy="194" r="6"/>
<circle cx="348" cy="270" r="6"/>
<circle cx="334" cy="309" r="6"/>
<circle cx="449" cy="163" r="6"/>
<circle cx="446" cy="357" r="6"/>
<circle cx="502" cy="348" r="6"/>
<circle cx="408" cy="373" r="6"/>
<circle cx="423" cy="395" r="6"/>
<circle cx="431" cy="389" r="6"/>
<circle cx="427" cy="306" r="6"/>
<circle cx="396" cy="388" r="6"/>
<circle cx="352" cy="304" r="6"/>
<circle cx="414" cy="355" r="6"/>
<circle cx="477" cy="285" r="6"/>
<circle cx="459" cy="295" r="6"/>
<circle cx="438" cy="336" r="6"/>
<circle cx="495" cy="263" r="6"/>
<circle cx="370" cy="170" r="6"/>
<circle cx="421" cy="210" r="6"/>
<circle cx="399" cy="336" r="6"/>
<circle cx="325" cy="388" r="6"/>
<circle cx="414" cy="267" r="6"/>
<circle cx="373" cy="333" r="6"/>
<circle cx="380" cy="256" r="6"/>
<circle cx="420" cy="376" r="6"/>
<circle cx="410" cy="206" r="6"/>
<circle cx="460" cy="303" r="6"/>
<circle cx="441" cy="156" r="6"/>
<circle cx="379" cy="268" r="6"/>
<circle cx="464" cy="284" r="6"/>
<circle cx="465" cy="231" r="6"/>
<circle cx="474" cy="358" r="6"/>
<circle cx="476" cy="301" r="6"/>
<circle cx="380" cy="233" r="6"/>
<circle cx="416" cy="341" r="6"/>
<circle cx="386" cy="288" r="6"/>
<circle cx="383" cy="320" r="6"/>
<circle cx="457" cy="250" r="6"/>
<circle cx="413" cy="227" r="6"/>
<circle cx="479" cy="335" r="6"/>
<circle cx="392" cy="294" r="6"/>
<circle cx="450" cy="224" r="6"/>
<circle cx="431" cy="248" r="6"/>
<circle cx="491" cy="247" r="6"/>
<circle cx="389" cy="198" r="6"/>
<circle cx="411" cy="179" r="6"/>
<circle cx="307" cy="165" r="6"/>
<circle cx="475" cy="174" r="6"/>
<circle cx="400" cy="313" r="6"/>
<circle cx="457" cy="235" r="6"/>
<circle cx="375" cy="313" r="6"/>
<circle cx="492" cy="269" r="6"/>
<circle cx="344" cy="210" r="6"/>
<circle cx="433" cy="253" r="6"/>
<circle cx="437" cy="394" r="6"/>
<circle cx="373" cy="200" r="6"/>
<circle cx="423" cy="173" r="6"/>
<circle cx="471" cy="235" r="6"/>
<circle cx="439" cy="171" r="6"/>
<circle cx="505" cy="289" r="6"/>
<circle cx="455" cy="331" r="6"/>
<circle cx="377" cy="281" r="6"/>
<circle cx="499" cy="245" r="6"/>
<circle cx="468" cy="328" r="6"/>
<circle cx="405" cy="256" r="6"/>
<circle cx="492" cy="266" r="6"/>
<circle cx="390" cy="312" r="6"/>
<circle cx="339" cy="299" r="6"/>
<circle cx="372" cy="391" r="6"/>
<circle cx="433" cy="187" r="6"/>
<circle cx="428" cy="372" r="6"/>
<circle cx="464" cy="366" r="6"/>
<circle cx="368" cy="303" r="6"/>
<circle cx="456" cy="227" r="6"/>
<circle cx="446" cy="257" r="6"/>
<circle cx="416" cy="344" r="6"/>
<circle cx="419" cy="336" r="6"/>
<circle cx="402" cy="366" r="6"/>
<circle cx="439" cy="324" r="6"/>
<circle cx="318" cy="202" r="6"/>
<circle cx="478" cy="229" r="6"/>
<circle cx="362" cy="237" r="6"/>
<circle cx="427" cy="363" r="6"/>
<circle cx="488" cy="261" r="6"/>
<circle cx="377" cy="379" r="6"/>
<circle cx="404" cy="275" r="6"/>
<circle cx="420" cy="323" r="6"/>
<circle cx="343" cy="147" r="6"/>
<circle cx="298" cy="259" r="6"/>
<circle cx="363" cy="208" r="6"/>
<circle cx="447" cy="365" r="6"/>
<circle cx="409" cy="214" r="6"/>
<circle cx="485" cy="227" r="6"/>
<circle cx="418" cy="405" r="6"/>
<circle cx="366" cy="198" r="6"/>
<circle cx="374" cy="354" r="6"/>
<circle cx="355" cy="313" r="6"/>
<circle cx="436" cy="383" r="6"/>
<circle cx="453" cy="365" r="6"/>
<circle cx="423" cy="384" r="6"/>
<circle cx="358" cy="366" r="6"/>
<circle cx="469" cy="232" r="6"/>
<circle cx="451" cy="319" r="6"/>
<circle cx="427" cy="172" r="6"/>
<circle cx="378" cy="392" r="6"/>
<circle cx="431" cy="356" r="6"/>
<circle cx="439" cy="293" r="6"/>
<circle cx="519" cy="336" r="6"/>
<circle cx="484" cy="249" r="6"/>
<circle cx="379" cy="233" r="6"/>
<circle cx="442" cy="203" r="6"/>
<circle cx="457" cy="348" r="6"/>
<circle cx="383" cy="276" r="6"/>
<circle cx="368" cy="284" r="6"/>
<circle cx="357" cy="139" r="6"/>
<circle cx="394" cy="298" r="6"/>
<circle cx="479" cy="173" r="6"/>
<circle cx="455" cy="348" r="6"/>
<circle cx="448" cy="213" r="6"/>
<circle cx="407" cy="279" r="6"/>
<circle cx="448" cy="326" r="6"/>
<circle cx="392" cy="363" r="6"/>
<circle cx="351" cy="258" r="6"/>
<circle cx="408" cy="329" r="6"/>
<circle cx="465" cy="207" r="6"/>
<circle cx="406" cy="372" r="6"/>
<circle cx="462" cy="389" r="6"/>
<circle cx="435" cy="212" r="6"/>
<circle cx="451" cy="119" r="6"/>
<circle cx="386" cy="324" r="6"/>
<circle cx="463" cy="373" r="6"/>
<circle cx="392" cy="219" r="6"/>
<circle cx="407" cy="366" r="6"/>
<circle cx="473" cy="457" r="6"/>
<circle cx="427" cy="177" r="6"/>
<circle cx="415" cy="292" r="6"/>
<circle cx="390" cy="290" r="6"/>
<circle cx="409" cy="275" r="6"/>
<circle cx="369" cy="356" r="6"/>
<circle cx="395" cy="334" r="6"/>
<circle cx="444" cy="373" r="6"/>
<circle cx="371" cy="339" r="6"/>
<circle cx="365" cy="314" r="6"/>
<circle cx="439" cy="369" r="6"/>
<circle cx="482" cy="242" r="6"/>
<circle cx="397" cy="245" r="6"/>
<circle cx="403" cy="312" r="6"/>
<circle cx="351" cy="206" r="6"/>
<circle cx="402" cy="278" r="6"/>
<circle cx="319" cy="238" r="6"/>
<circle cx="448" cy="411" r="6"/>
<circle cx="437" cy="377" r="6"/>
<circle cx="390" cy="226" r="6"/>
<circle cx="431" cy="155" r="6"/>
<circle cx="439" cy="315" r="6"/>
<circle cx="460" cy="202" r="6"/>
<circle cx="367" cy="327" r="6"/>
<circle cx="424" cy="367" r="6"/>
<circle cx="390" cy="237" r="6"/>
<circle cx="450" cy="285" r="6"/>
<circle cx="400" cy="184" r="6"/>
<circle cx="356" cy="267" r="6"/>
<circle cx="498" cy="302" r="6"/>
<circle cx="405" cy="327" r="6"/>
<circle cx="457" cy="337" r="6"/>
<circle cx="476" cy="351" r="6"/>
<circle cx="457" cy="339" r="6"/>
<circle cx="412" cy="194" r="6"/>
<circle cx="467" cy="318" r="6"/>
<circle cx="468" cy="383" r="6"/>
<circle cx="368" cy="315" r="6"/>
<circle cx="456" cy="270" r="6"/>
<circle cx="386" cy="250" r="6"/>
<circle cx="423" cy="223" r="6"/>
<circle cx="412" cy="358" r="6"/>
<circle cx="486" cy="320" r="6"/>
<circle cx="445" cy="365" r="6"/>
<circle cx="393" cy="232" r="6"/>
<circle cx="440" cy="298" r="6"/>
<circle cx="425" cy="170" r="6"/>
<circle cx="392" cy="194" r="6"/>
<circle cx="444" cy="265" r="6"/>
<circle cx="456" cy="211" r="6"/>
<circle cx="369" cy="242" r="6"/>
<circle cx="381" cy="278" r="6"/>
<circle cx="402" cy="174" r="6"/>
<circle cx="485" cy="317" r="6"/>
<circle cx="478" cy="344" r="6"/>
<circle cx="405" cy="336" r="6"/>
<circle cx="423" cy="276" r="6"/>
<circle cx="451" cy="301" r="6"/>
<circle cx="476" cy="278" r="6"/>
<circle cx="402" cy="371" r="6"/>
<circle cx="464" cy="311" r="6"/>
<circle cx="443" cy="239" r="6"/>
<circle cx="458" cy="258" r="6"/>
<circle cx="405" cy="348" r="6"/>
</g>
</g>
<g clip-path="url(#clipB)">
<path fill="#D55E00" fill-rule="evenodd" d="M977 315 973 318 973 321 971 322 972 326 974 327 979 326 980 321 982 320 982 318ZM1041 224 1039 225 1038 230 1042 234 1037 238 1030 241 1025 238 1023 239 1023 242 1019 244 1019 246 1021 248 1020 251 1018 250 1015 251 1014 250 1007 254 1007 256 1003 259 1002 258 999 259 998 265 1001 267 1000 268 1001 273 996 276 995 279 992 281 987 280 984 281 984 285 987 287 987 289 991 293 987 297 987 299 990 301 988 304 989 308 988 313 992 314 994 316 996 322 999 324 1000 323 1003 328 1002 330 999 331 986 330 984 331 984 333 991 338 994 337 997 338 998 341 1003 344 1005 350 1007 351 1011 350 1012 351 1010 354 1010 357 1008 358 1009 361 1008 365 1012 367 1010 368 1009 371 1007 370 1005 371 1005 373 1007 374 1009 373 1010 370 1012 371 1015 369 1020 372 1025 371 1026 368 1028 369 1028 372 1032 375 1022 378 1021 379 1022 382 1025 383 1028 380 1029 381 1035 380 1036 383 1038 384 1036 387 1036 389 1038 390 1042 388 1042 385 1044 383 1049 383 1052 381 1055 382 1058 385 1061 384 1062 386 1066 387 1068 386 1069 379 1073 377 1076 377 1081 383 1079 385 1079 389 1082 390 1087 387 1090 391 1094 393 1097 391 1099 393 1105 395 1110 392 1110 390 1107 387 1107 382 1106 381 1107 380 1115 379 1120 374 1127 373 1129 375 1129 377 1131 378 1136 376 1136 374 1134 373 1134 370 1137 366 1137 358 1135 357 1138 353 1142 355 1146 355 1149 358 1149 360 1153 363 1160 359 1161 355 1158 353 1156 348 1160 342 1162 341 1162 335 1161 334 1163 333 1163 330 1162 328 1160 327 1158 328 1148 322 1150 316 1149 310 1151 307 1154 307 1160 304 1162 305 1164 304 1166 308 1164 309 1164 312 1162 313 1162 317 1166 319 1171 316 1171 312 1173 311 1172 307 1169 304 1165 303 1164 300 1165 288 1163 287 1159 288 1156 286 1153 288 1152 287 1150 288 1148 286 1148 282 1151 280 1154 275 1154 272 1152 271 1152 269 1153 268 1156 269 1160 267 1160 265 1157 260 1154 259 1150 254 1146 252 1140 253 1137 258 1132 255 1130 256 1130 258 1128 260 1124 259 1122 260 1121 259 1124 255 1128 254 1128 249 1123 248 1124 246 1128 244 1128 241 1124 238 1124 231 1123 230 1124 226 1121 224 1114 227 1113 230 1114 235 1113 236 1109 236 1108 232 1102 229 1103 226 1101 225 1097 228 1097 230 1099 231 1096 233 1096 236 1098 237 1098 239 1093 240 1092 242 1087 244 1086 246 1080 242 1079 237 1077 236 1078 231 1076 230 1070 233 1068 238 1066 239 1065 238 1067 231 1064 229 1064 225 1061 224 1056 227 1051 228 1049 227 1046 230 1045 226ZM1043 362 1042 363 1039 361 1036 363 1035 360 1032 358 1033 357 1036 358 1041 356 1043 358ZM1005 318 1010 321 1007 325 1002 322 1004 321ZM1001 301 1005 304 1006 310 1003 313 998 314 993 310 993 307 995 306 995 304 998 301ZM997 287 1000 285 1002 289 1004 290 1007 289 1009 291 1009 293 1006 295 1001 295 997 291ZM1049 236 1050 235 1055 235 1058 238 1054 242 1049 238Z"/>
<g class="b">
<circle cx="989" cy="211" r="6"/>
<circle cx="944" cy="284" r="6"/>
<circle cx="902" cy="324" r="6"/>
<circle cx="948" cy="365" r="6"/>
</g>
<g class="o">
<circle cx="771" cy="327" r="6"/>
</g>
<g class="b">
<circle cx="949" cy="298" r="6"/>
<circle cx="1125" cy="436" r="6"/>
<circle cx="1055" cy="222" r="6"/>
<circle cx="1018" cy="229" r="6"/>
<circle cx="1222" cy="223" r="6"/>
</g>
<g class="o">
<circle cx="922" cy="202" r="6"/>
</g>
<g class="b">
<circle cx="1115" cy="209" r="6"/>
<circle cx="995" cy="195" r="6"/>
<circle cx="1180" cy="317" r="6"/>
<circle cx="897" cy="208" r="6"/>
<circle cx="1081" cy="210" r="6"/>
<circle cx="971" cy="301" r="6"/>
<circle cx="1066" cy="121" r="6"/>
<circle cx="1220" cy="393" r="6"/>
<circle cx="868" cy="211" r="6"/>
<circle cx="1136" cy="428" r="6"/>
<circle cx="1006" cy="225" r="6"/>
</g>
<g class="o">
<circle cx="1035" cy="517" r="6"/>
</g>
<g class="b">
<circle cx="1007" cy="247" r="6"/>
<circle cx="987" cy="401" r="6"/>
<circle cx="1151" cy="248" r="6"/>
<circle cx="1000" cy="259" r="6"/>
<circle cx="952" cy="241" r="6"/>
<circle cx="1115" cy="433" r="6"/>
<circle cx="1059" cy="226" r="6"/>
</g>
<g class="o">
<circle cx="1074" cy="446" r="6"/>
</g>
<g class="b">
<circle cx="1085" cy="432" r="6"/>
<circle cx="1076" cy="157" r="6"/>
<circle cx="934" cy="302" r="6"/>
<circle cx="1069" cy="431" r="6"/>
<circle cx="993" cy="405" r="6"/>
</g>
<g class="o">
<circle cx="1036" cy="488" r="6"/>
</g>
<g class="b">
<circle cx="960" cy="324" r="6"/>
</g>
<g class="o">
<circle cx="1021" cy="478" r="6"/>
</g>
<g class="b">
<circle cx="990" cy="270" r="6"/>
<circle cx="1229" cy="333" r="6"/>
<circle cx="1068" cy="228" r="6"/>
</g>
<g class="o">
<circle cx="854" cy="302" r="6"/>
</g>
<g class="b">
<circle cx="912" cy="260" r="6"/>
<circle cx="1195" cy="323" r="6"/>
<circle cx="1112" cy="437" r="6"/>
<circle cx="886" cy="174" r="6"/>
<circle cx="1176" cy="197" r="6"/>
<circle cx="1033" cy="388" r="6"/>
<circle cx="1079" cy="435" r="6"/>
<circle cx="970" cy="151" r="6"/>
<circle cx="873" cy="222" r="6"/>
<circle cx="1165" cy="205" r="6"/>
<circle cx="1036" cy="225" r="6"/>
<circle cx="1109" cy="206" r="6"/>
<circle cx="965" cy="200" r="6"/>
<circle cx="1040" cy="175" r="6"/>
<circle cx="939" cy="401" r="6"/>
<circle cx="1125" cy="404" r="6"/>
<circle cx="1001" cy="357" r="6"/>
<circle cx="965" cy="370" r="6"/>
<circle cx="1153" cy="240" r="6"/>
<circle cx="973" cy="386" r="6"/>
<circle cx="898" cy="237" r="6"/>
<circle cx="985" cy="229" r="6"/>
</g>
<g class="o">
<circle cx="803" cy="351" r="6"/>
<circle cx="960" cy="480" r="6"/>
</g>
<g class="b">
<circle cx="964" cy="323" r="6"/>
<circle cx="1125" cy="440" r="6"/>
<circle cx="1087" cy="215" r="6"/>
</g>
<g class="o">
<circle cx="1183" cy="473" r="6"/>
</g>
<g class="b">
<circle cx="983" cy="335" r="6"/>
<circle cx="988" cy="187" r="6"/>
</g>
<g class="o">
<circle cx="986" cy="156" r="6"/>
</g>
<g class="b">
<circle cx="1232" cy="341" r="6"/>
<circle cx="1043" cy="406" r="6"/>
</g>
<g class="o">
<circle cx="1140" cy="414" r="6"/>
<circle cx="1133" cy="390" r="6"/>
<circle cx="1102" cy="397" r="6"/>
</g>
<g class="b">
<circle cx="946" cy="283" r="6"/>
</g>
<g class="o">
<circle cx="1064" cy="175" r="6"/>
<circle cx="1097" cy="237" r="6"/>
<circle cx="1027" cy="376" r="6"/>
<circle cx="964" cy="265" r="6"/>
<circle cx="1162" cy="236" r="6"/>
<circle cx="974" cy="303" r="6"/>
<circle cx="1164" cy="296" r="6"/>
</g>
<g class="b">
<circle cx="824" cy="376" r="6"/>
</g>
<g class="o">
<circle cx="1118" cy="386" r="6"/>
<circle cx="973" cy="281" r="6"/>
<circle cx="981" cy="275" r="6"/>
<circle cx="1171" cy="371" r="6"/>
</g>
<g class="b">
<circle cx="1128" cy="464" r="6"/>
</g>
<g class="o">
<circle cx="1161" cy="353" r="6"/>
<circle cx="1172" cy="202" r="6"/>
<circle cx="989" cy="330" r="6"/>
<circle cx="1105" cy="433" r="6"/>
<circle cx="956" cy="366" r="6"/>
<circle cx="988" cy="338" r="6"/>
<circle cx="997" cy="361" r="6"/>
<circle cx="1159" cy="192" r="6"/>
<circle cx="1188" cy="446" r="6"/>
</g>
<g class="b">
<circle cx="926" cy="418" r="6"/>
</g>
<g class="o">
<circle cx="969" cy="363" r="6"/>
<circle cx="966" cy="336" r="6"/>
<circle cx="1065" cy="211" r="6"/>
<circle cx="921" cy="286" r="6"/>
<circle cx="997" cy="268" r="6"/>
</g>
<g class="b">
<circle cx="1033" cy="455" r="6"/>
</g>
<g class="o">
<circle cx="1152" cy="325" r="6"/>
<circle cx="1026" cy="385" r="6"/>
</g>
<g class="b">
<circle cx="996" cy="145" r="6"/>
<circle cx="1188" cy="295" r="6"/>
</g>
<g class="o">
<circle cx="920" cy="408" r="6"/>
<circle cx="1167" cy="270" r="6"/>
<circle cx="982" cy="362" r="6"/>
<circle cx="1169" cy="233" r="6"/>
<circle cx="1027" cy="229" r="6"/>
</g>
<g class="b">
<circle cx="1015" cy="155" r="6"/>
</g>
<g class="o">
<circle cx="1019" cy="186" r="6"/>
</g>
<g class="b">
<circle cx="963" cy="373" r="6"/>
</g>
<g class="o">
<circle cx="972" cy="341" r="6"/>
<circle cx="1151" cy="275" r="6"/>
<circle cx="995" cy="238" r="6"/>
<circle cx="1196" cy="307" r="6"/>
<circle cx="1169" cy="277" r="6"/>
<circle cx="984" cy="286" r="6"/>
<circle cx="999" cy="389" r="6"/>
<circle cx="1045" cy="397" r="6"/>
<circle cx="1088" cy="410" r="6"/>
</g>
<g class="b">
<circle cx="1133" cy="417" r="6"/>
</g>
<g class="o">
<circle cx="1174" cy="290" r="6"/>
<circle cx="1078" cy="386" r="6"/>
<circle cx="1040" cy="218" r="6"/>
<circle cx="1188" cy="352" r="6"/>
<circle cx="1012" cy="252" r="6"/>
<circle cx="1157" cy="348" r="6"/>
<circle cx="1165" cy="250" r="6"/>
</g>
<g class="b">
<circle cx="912" cy="376" r="6"/>
<circle cx="1062" cy="412" r="6"/>
</g>
<g class="o">
<circle cx="1026" cy="411" r="6"/>
<circle cx="1157" cy="260" r="6"/>
</g>
<g class="b">
<circle cx="1111" cy="437" r="6"/>
</g>
<g class="o">
<circle cx="1137" cy="371" r="6"/>
</g>
<g class="b">
<circle cx="971" cy="255" r="6"/>
</g>
<g class="o">
<circle cx="1006" cy="257" r="6"/>
<circle cx="1096" cy="225" r="6"/>
<circle cx="982" cy="283" r="6"/>
<circle cx="1178" cy="324" r="6"/>
<circle cx="924" cy="364" r="6"/>
<circle cx="1034" cy="445" r="6"/>
<circle cx="973" cy="311" r="6"/>
<circle cx="1191" cy="355" r="6"/>
<circle cx="1154" cy="242" r="6"/>
<circle cx="947" cy="362" r="6"/>
<circle cx="1159" cy="357" r="6"/>
<circle cx="1071" cy="418" r="6"/>
<circle cx="1118" cy="393" r="6"/>
<circle cx="1160" cy="356" r="6"/>
<circle cx="992" cy="239" r="6"/>
<circle cx="1036" cy="388" r="6"/>
<circle cx="1017" cy="397" r="6"/>
<circle cx="1075" cy="211" r="6"/>
<circle cx="962" cy="374" r="6"/>
<circle cx="931" cy="381" r="6"/>
<circle cx="985" cy="306" r="6"/>
<circle cx="997" cy="396" r="6"/>
<circle cx="1022" cy="230" r="6"/>
<circle cx="992" cy="362" r="6"/>
<circle cx="1007" cy="239" r="6"/>
</g>
<g class="b">
<circle cx="932" cy="418" r="6"/>
</g>
<g class="o">
<circle cx="949" cy="323" r="6"/>
<circle cx="1047" cy="413" r="6"/>
<circle cx="995" cy="327" r="6"/>
<circle cx="818" cy="302" r="6"/>
<circle cx="1084" cy="210" r="6"/>
<circle cx="1165" cy="269" r="6"/>
<circle cx="1103" cy="231" r="6"/>
<circle cx="1187" cy="303" r="6"/>
<circle cx="969" cy="263" r="6"/>
</g>
<g class="b">
<circle cx="989" cy="271" r="6"/>
</g>
<g class="o">
<circle cx="1010" cy="255" r="6"/>
<circle cx="991" cy="306" r="6"/>
<circle cx="1092" cy="211" r="6"/>
<circle cx="1141" cy="227" r="6"/>
<circle cx="1083" cy="217" r="6"/>
<circle cx="1158" cy="383" r="6"/>
<circle cx="973" cy="353" r="6"/>
</g>
<g class="b">
<circle cx="1165" cy="224" r="6"/>
</g>
<g class="o">
<circle cx="1140" cy="253" r="6"/>
<circle cx="1126" cy="226" r="6"/>
<circle cx="1011" cy="371" r="6"/>
<circle cx="1135" cy="380" r="6"/>
<circle cx="1276" cy="371" r="6"/>
<circle cx="934" cy="383" r="6"/>
<circle cx="1091" cy="217" r="6"/>
<circle cx="1123" cy="372" r="6"/>
<circle cx="929" cy="376" r="6"/>
<circle cx="886" cy="343" r="6"/>
<circle cx="1034" cy="228" r="6"/>
</g>
<g class="b">
<circle cx="1007" cy="233" r="6"/>
</g>
<g class="o">
<circle cx="1072" cy="216" r="6"/>
<circle cx="1067" cy="394" r="6"/>
<circle cx="1029" cy="210" r="6"/>
<circle cx="1174" cy="333" r="6"/>
<circle cx="976" cy="268" r="6"/>
<circle cx="972" cy="336" r="6"/>
<circle cx="824" cy="374" r="6"/>
<circle cx="1126" cy="200" r="6"/>
<circle cx="1140" cy="239" r="6"/>
<circle cx="1043" cy="404" r="6"/>
<circle cx="1012" cy="371" r="6"/>
<circle cx="1200" cy="376" r="6"/>
<circle cx="1164" cy="330" r="6"/>
<circle cx="1105" cy="222" r="6"/>
<circle cx="1187" cy="274" r="6"/>
<circle cx="1052" cy="393" r="6"/>
<circle cx="982" cy="373" r="6"/>
<circle cx="1125" cy="231" r="6"/>
<circle cx="1196" cy="323" r="6"/>
<circle cx="988" cy="203" r="6"/>
<circle cx="1004" cy="354" r="6"/>
<circle cx="1114" cy="197" r="6"/>
<circle cx="986" cy="304" r="6"/>
<circle cx="1158" cy="235" r="6"/>
<circle cx="1184" cy="296" r="6"/>
<circle cx="1172" cy="302" r="6"/>
<circle cx="1082" cy="408" r="6"/>
<circle cx="1179" cy="292" r="6"/>
<circle cx="941" cy="293" r="6"/>
<circle cx="1023" cy="384" r="6"/>
<circle cx="983" cy="339" r="6"/>
<circle cx="1148" cy="388" r="6"/>
<circle cx="963" cy="370" r="6"/>
<circle cx="1143" cy="373" r="6"/>
<circle cx="1106" cy="393" r="6"/>
<circle cx="959" cy="241" r="6"/>
<circle cx="1041" cy="410" r="6"/>
<circle cx="1054" cy="225" r="6"/>
<circle cx="1155" cy="388" r="6"/>
<circle cx="1090" cy="216" r="6"/>
<circle cx="1059" cy="425" r="6"/>
<circle cx="1019" cy="371" r="6"/>
</g>
<g class="b">
<circle cx="1223" cy="355" r="6"/>
</g>
<g class="o">
<circle cx="1031" cy="401" r="6"/>
<circle cx="915" cy="347" r="6"/>
</g>
<g class="b">
<circle cx="1088" cy="234" r="6"/>
</g>
<g class="o">
<circle cx="1097" cy="214" r="6"/>
<circle cx="964" cy="257" r="6"/>
<circle cx="993" cy="350" r="6"/>
<circle cx="1137" cy="377" r="6"/>
<circle cx="974" cy="292" r="6"/>
<circle cx="1150" cy="213" r="6"/>
</g>
<g class="b">
<circle cx="915" cy="189" r="6"/>
</g>
<g class="o">
<circle cx="1021" cy="225" r="6"/>
<circle cx="1174" cy="263" r="6"/>
<circle cx="984" cy="283" r="6"/>
<circle cx="1000" cy="275" r="6"/>
<circle cx="1130" cy="385" r="6"/>
<circle cx="1164" cy="360" r="6"/>
<circle cx="1041" cy="227" r="6"/>
<circle cx="974" cy="300" r="6"/>
<circle cx="1173" cy="314" r="6"/>
<circle cx="1007" cy="244" r="6"/>
<circle cx="1078" cy="429" r="6"/>
<circle cx="1076" cy="223" r="6"/>
<circle cx="1175" cy="342" r="6"/>
<circle cx="1010" cy="251" r="6"/>
<circle cx="1152" cy="349" r="6"/>
<circle cx="1035" cy="239" r="6"/>
<circle cx="1029" cy="216" r="6"/>
<circle cx="1070" cy="387" r="6"/>
<circle cx="986" cy="281" r="6"/>
<circle cx="965" cy="318" r="6"/>
<circle cx="999" cy="329" r="6"/>
</g>
<g class="b">
<circle cx="953" cy="269" r="6"/>
</g>
<g class="o">
<circle cx="1101" cy="398" r="6"/>
<circle cx="984" cy="340" r="6"/>
</g>
<g class="b">
<circle cx="966" cy="283" r="6"/>
</g>
<g class="o">
<circle cx="1007" cy="353" r="6"/>
<circle cx="975" cy="422" r="6"/>
<circle cx="997" cy="387" r="6"/>
<circle cx="1006" cy="358" r="6"/>
<circle cx="978" cy="341" r="6"/>
<circle cx="1159" cy="342" r="6"/>
<circle cx="1003" cy="219" r="6"/>
<circle cx="1020" cy="369" r="6"/>
<circle cx="1130" cy="236" r="6"/>
<circle cx="1136" cy="251" r="6"/>
<circle cx="1183" cy="289" r="6"/>
<circle cx="1085" cy="396" r="6"/>
<circle cx="996" cy="357" r="6"/>
<circle cx="1145" cy="220" r="6"/>
<circle cx="1014" cy="365" r="6"/>
<circle cx="1127" cy="384" r="6"/>
<circle cx="1108" cy="388" r="6"/>
<circle cx="912" cy="200" r="6"/>
</g>
<g class="b">
<circle cx="898" cy="218" r="6"/>
</g>
<g class="o">
<circle cx="1063" cy="428" r="6"/>
<circle cx="1013" cy="360" r="6"/>
<circle cx="957" cy="317" r="6"/>
</g>
<g class="b">
<circle cx="1235" cy="220" r="6"/>
</g>
<g class="o">
<circle cx="975" cy="335" r="6"/>
<circle cx="925" cy="382" r="6"/>
<circle cx="976" cy="334" r="6"/>
<circle cx="990" cy="254" r="6"/>
<circle cx="1054" cy="393" r="6"/>
<circle cx="971" cy="370" r="6"/>
<circle cx="1137" cy="372" r="6"/>
<circle cx="1071" cy="212" r="6"/>
<circle cx="1031" cy="218" r="6"/>
<circle cx="1031" cy="416" r="6"/>
<circle cx="998" cy="324" r="6"/>
</g>
<g class="b">
<circle cx="1009" cy="351" r="6"/>
</g>
<g class="o">
<circle cx="1165" cy="300" r="6"/>
<circle cx="1063" cy="242" r="6"/>
<circle cx="898" cy="233" r="6"/>
<circle cx="1150" cy="285" r="6"/>
<circle cx="1165" cy="265" r="6"/>
<circle cx="862" cy="221" r="6"/>
<circle cx="1081" cy="226" r="6"/>
<circle cx="1078" cy="223" r="6"/>
<circle cx="1006" cy="372" r="6"/>
<circle cx="1193" cy="284" r="6"/>
<circle cx="1147" cy="289" r="6"/>
<circle cx="1172" cy="324" r="6"/>
<circle cx="968" cy="357" r="6"/>
<circle cx="1169" cy="318" r="6"/>
<circle cx="1063" cy="400" r="6"/>
<circle cx="1011" cy="398" r="6"/>
<circle cx="1071" cy="244" r="6"/>
<circle cx="983" cy="378" r="6"/>
<circle cx="1176" cy="343" r="6"/>
<circle cx="1054" cy="220" r="6"/>
<circle cx="976" cy="320" r="6"/>
<circle cx="944" cy="301" r="6"/>
<circle cx="1168" cy="284" r="6"/>
<circle cx="1055" cy="231" r="6"/>
<circle cx="1122" cy="386" r="6"/>
<circle cx="1118" cy="193" r="6"/>
<circle cx="1161" cy="355" r="6"/>
<circle cx="1182" cy="284" r="6"/>
<circle cx="986" cy="333" r="6"/>
<circle cx="947" cy="269" r="6"/>
<circle cx="1114" cy="229" r="6"/>
<circle cx="942" cy="420" r="6"/>
<circle cx="1034" cy="216" r="6"/>
</g>
<g class="b">
<circle cx="1085" cy="210" r="6"/>
</g>
<g class="o">
<circle cx="1167" cy="324" r="6"/>
</g>
<g class="b">
<circle cx="898" cy="304" r="6"/>
</g>
<g class="o">
<circle cx="1057" cy="231" r="6"/>
<circle cx="1151" cy="238" r="6"/>
<circle cx="1073" cy="213" r="6"/>
<circle cx="1015" cy="384" r="6"/>
<circle cx="1012" cy="367" r="6"/>
<circle cx="873" cy="206" r="6"/>
<circle cx="1180" cy="254" r="6"/>
<circle cx="877" cy="399" r="6"/>
<circle cx="972" cy="275" r="6"/>
<circle cx="1010" cy="355" r="6"/>
<circle cx="1027" cy="380" r="6"/>
<circle cx="1019" cy="411" r="6"/>
<circle cx="985" cy="350" r="6"/>
<circle cx="1159" cy="308" r="6"/>
</g>
<g class="b">
<circle cx="963" cy="296" r="6"/>
</g>
<g class="o">
<circle cx="978" cy="347" r="6"/>
<circle cx="955" cy="316" r="6"/>
<circle cx="1026" cy="383" r="6"/>
<circle cx="1067" cy="383" r="6"/>
<circle cx="1094" cy="238" r="6"/>
</g>
<g class="b">
<circle cx="1193" cy="391" r="6"/>
</g>
<g class="o">
<circle cx="1180" cy="324" r="6"/>
<circle cx="996" cy="269" r="6"/>
<circle cx="963" cy="331" r="6"/>
<circle cx="1119" cy="379" r="6"/>
<circle cx="881" cy="408" r="6"/>
<circle cx="1146" cy="404" r="6"/>
<circle cx="1041" cy="227" r="6"/>
<circle cx="1147" cy="242" r="6"/>
<circle cx="1176" cy="311" r="6"/>
<circle cx="1112" cy="392" r="6"/>
</g>
<g class="b">
<circle cx="895" cy="366" r="6"/>
</g>
<g class="o">
<circle cx="1022" cy="244" r="6"/>
<circle cx="1077" cy="394" r="6"/>
<circle cx="1129" cy="212" r="6"/>
<circle cx="1176" cy="267" r="6"/>
<circle cx="1152" cy="292" r="6"/>
<circle cx="1097" cy="219" r="6"/>
<circle cx="1164" cy="278" r="6"/>
<circle cx="972" cy="272" r="6"/>
<circle cx="1175" cy="319" r="6"/>
<circle cx="979" cy="235" r="6"/>
<circle cx="1037" cy="401" r="6"/>
<circle cx="1088" cy="402" r="6"/>
<circle cx="1105" cy="229" r="6"/>
</g>
<g class="b">
<circle cx="939" cy="233" r="6"/>
</g>
<g class="o">
<circle cx="1061" cy="215" r="6"/>
<circle cx="996" cy="248" r="6"/>
<circle cx="949" cy="371" r="6"/>
<circle cx="967" cy="315" r="6"/>
<circle cx="995" cy="364" r="6"/>
<circle cx="1110" cy="220" r="6"/>
<circle cx="1090" cy="193" r="6"/>
<circle cx="999" cy="247" r="6"/>
<circle cx="1157" cy="354" r="6"/>
<circle cx="1154" cy="291" r="6"/>
<circle cx="1098" cy="205" r="6"/>
<circle cx="1181" cy="349" r="6"/>
<circle cx="1139" cy="258" r="6"/>
</g>
<g class="b">
<circle cx="1059" cy="186" r="6"/>
</g>
<g class="o">
<circle cx="986" cy="360" r="6"/>
<circle cx="967" cy="266" r="6"/>
<circle cx="1160" cy="301" r="6"/>
<circle cx="1053" cy="235" r="6"/>
<circle cx="1184" cy="318" r="6"/>
<circle cx="1143" cy="373" r="6"/>
<circle cx="1162" cy="327" r="6"/>
<circle cx="1030" cy="404" r="6"/>
<circle cx="1055" cy="381" r="6"/>
<circle cx="998" cy="275" r="6"/>
<circle cx="1184" cy="298" r="6"/>
<circle cx="957" cy="327" r="6"/>
</g>
<g class="b">
<circle cx="1113" cy="151" r="6"/>
</g>
<g class="o">
<circle cx="1024" cy="238" r="6"/>
<circle cx="1159" cy="365" r="6"/>
<circle cx="1056" cy="395" r="6"/>
<circle cx="1029" cy="240" r="6"/>
<circle cx="1005" cy="207" r="6"/>
<circle cx="1036" cy="242" r="6"/>
<circle cx="981" cy="360" r="6"/>
<circle cx="1067" cy="383" r="6"/>
<circle cx="979" cy="297" r="6"/>
<circle cx="1144" cy="250" r="6"/>
<circle cx="1074" cy="224" r="6"/>
<circle cx="981" cy="294" r="6"/>
<circle cx="1110" cy="396" r="6"/>
</g>
<g class="b">
<circle cx="1212" cy="363" r="6"/>
</g>
<g class="o">
<circle cx="1170" cy="432" r="6"/>
<circle cx="990" cy="367" r="6"/>
</g>
<g class="b">
<circle cx="1153" cy="367" r="6"/>
<circle cx="942" cy="374" r="6"/>
</g>
<g class="o">
<circle cx="1079" cy="184" r="6"/>
<circle cx="1163" cy="235" r="6"/>
<circle cx="1121" cy="230" r="6"/>
<circle cx="1097" cy="403" r="6"/>
<circle cx="1108" cy="238" r="6"/>
<circle cx="1098" cy="223" r="6"/>
<circle cx="1045" cy="416" r="6"/>
<circle cx="1094" cy="405" r="6"/>
<circle cx="1070" cy="233" r="6"/>
<circle cx="1124" cy="233" r="6"/>
</g>
<g class="b">
<circle cx="1006" cy="219" r="6"/>
<circle cx="946" cy="465" r="6"/>
</g>
<g class="o">
<circle cx="1156" cy="233" r="6"/>
</g>
<g class="b">
<circle cx="1152" cy="319" r="6"/>
</g>
<g class="o">
<circle cx="974" cy="287" r="6"/>
<circle cx="1114" cy="392" r="6"/>
<circle cx="998" cy="260" r="6"/>
<circle cx="985" cy="285" r="6"/>
<circle cx="1183" cy="324" r="6"/>
<circle cx="970" cy="378" r="6"/>
<circle cx="1063" cy="233" r="6"/>
<circle cx="1160" cy="345" r="6"/>
<circle cx="1069" cy="396" r="6"/>
<circle cx="924" cy="251" r="6"/>
</g>
<g class="b">
<circle cx="1062" cy="389" r="6"/>
</g>
<g class="o">
<circle cx="1048" cy="419" r="6"/>
<circle cx="934" cy="326" r="6"/>
<circle cx="974" cy="315" r="6"/>
<circle cx="980" cy="402" r="6"/>
<circle cx="991" cy="324" r="6"/>
<circle cx="1025" cy="380" r="6"/>
<circle cx="1158" cy="339" r="6"/>
<circle cx="1117" cy="228" r="6"/>
<circle cx="1156" cy="314" r="6"/>
<circle cx="1167" cy="229" r="6"/>
<circle cx="1121" cy="397" r="6"/>
<circle cx="1069" cy="389" r="6"/>
<circle cx="1182" cy="366" r="6"/>
</g>
<g class="b">
<circle cx="1164" cy="431" r="6"/>
</g>
<g class="o">
<circle cx="1173" cy="334" r="6"/>
<circle cx="1115" cy="375" r="6"/>
<circle cx="1055" cy="417" r="6"/>
<circle cx="1135" cy="397" r="6"/>
<circle cx="994" cy="276" r="6"/>
<circle cx="1105" cy="227" r="6"/>
<circle cx="991" cy="319" r="6"/>
<circle cx="1133" cy="375" r="6"/>
<circle cx="1101" cy="217" r="6"/>
<circle cx="1120" cy="210" r="6"/>
<circle cx="1169" cy="263" r="6"/>
<circle cx="1182" cy="258" r="6"/>
<circle cx="1050" cy="397" r="6"/>
<circle cx="979" cy="315" r="6"/>
<circle cx="1090" cy="239" r="6"/>
<circle cx="1175" cy="303" r="6"/>
<circle cx="995" cy="335" r="6"/>
<circle cx="971" cy="269" r="6"/>
</g>
<g class="b">
<circle cx="992" cy="446" r="6"/>
</g>
<g class="o">
<circle cx="1031" cy="436" r="6"/>
<circle cx="1125" cy="384" r="6"/>
<circle cx="1155" cy="291" r="6"/>
<circle cx="1062" cy="205" r="6"/>
<circle cx="1052" cy="232" r="6"/>
<circle cx="1065" cy="227" r="6"/>
</g>
<g class="b">
<circle cx="1151" cy="424" r="6"/>
</g>
<g class="o">
<circle cx="986" cy="381" r="6"/>
<circle cx="945" cy="296" r="6"/>
<circle cx="1109" cy="195" r="6"/>
<circle cx="1096" cy="387" r="6"/>
<circle cx="1156" cy="356" r="6"/>
<circle cx="1033" cy="221" r="6"/>
<circle cx="986" cy="302" r="6"/>
<circle cx="1029" cy="374" r="6"/>
<circle cx="944" cy="192" r="6"/>
<circle cx="1000" cy="374" r="6"/>
</g>
<g class="b">
<circle cx="837" cy="340" r="6"/>
</g>
<g class="o">
<circle cx="1016" cy="198" r="6"/>
<circle cx="976" cy="275" r="6"/>
<circle cx="1167" cy="275" r="6"/>
<circle cx="1124" cy="384" r="6"/>
<circle cx="963" cy="293" r="6"/>
<circle cx="1048" cy="241" r="6"/>
</g>
<g class="b">
<circle cx="1048" cy="173" r="6"/>
</g>
<g class="o">
<circle cx="971" cy="366" r="6"/>
</g>
<g class="b">
<circle cx="1227" cy="326" r="6"/>
</g>
<g class="o">
<circle cx="1157" cy="289" r="6"/>
<circle cx="1017" cy="250" r="6"/>
<circle cx="1023" cy="380" r="6"/>
<circle cx="1095" cy="228" r="6"/>
<circle cx="1062" cy="230" r="6"/>
<circle cx="941" cy="382" r="6"/>
<circle cx="1043" cy="395" r="6"/>
<circle cx="1127" cy="389" r="6"/>
</g>
<g class="b">
<circle cx="1113" cy="447" r="6"/>
</g>
<g class="o">
<circle cx="1115" cy="375" r="6"/>
<circle cx="978" cy="338" r="6"/>
<circle cx="1034" cy="390" r="6"/>
<circle cx="1179" cy="271" r="6"/>
</g>
<g class="b">
<circle cx="1085" cy="446" r="6"/>
</g>
<g class="o">
<circle cx="1023" cy="396" r="6"/>
<circle cx="1109" cy="390" r="6"/>
</g>
<g class="b">
<circle cx="909" cy="273" r="6"/>
</g>
<g class="o">
<circle cx="1085" cy="415" r="6"/>
<circle cx="977" cy="376" r="6"/>
<circle cx="1073" cy="393" r="6"/>
<circle cx="993" cy="235" r="6"/>
<circle cx="992" cy="351" r="6"/>
<circle cx="979" cy="295" r="6"/>
<circle cx="1118" cy="181" r="6"/>
<circle cx="891" cy="297" r="6"/>
</g>
<g class="b">
<circle cx="1169" cy="278" r="6"/>
</g>
<g class="o">
<circle cx="1024" cy="244" r="6"/>
<circle cx="1122" cy="231" r="6"/>
</g>
<g class="b">
<circle cx="1020" cy="202" r="6"/>
</g>
<g class="o">
<circle cx="1189" cy="274" r="6"/>
<circle cx="1003" cy="373" r="6"/>
<circle cx="1038" cy="389" r="6"/>
</g>
<g class="b">
<circle cx="975" cy="382" r="6"/>
</g>
<g class="o">
<circle cx="1058" cy="223" r="6"/>
<circle cx="993" cy="379" r="6"/>
<circle cx="1141" cy="224" r="6"/>
<circle cx="1027" cy="227" r="6"/>
<circle cx="1071" cy="404" r="6"/>
<circle cx="1005" cy="417" r="6"/>
</g>
<g class="b">
<circle cx="1143" cy="359" r="6"/>
</g>
<g class="o">
<circle cx="1011" cy="383" r="6"/>
</g>
<g class="b">
<circle cx="1192" cy="298" r="6"/>
</g>
<g class="o">
<circle cx="1160" cy="313" r="6"/>
<circle cx="1154" cy="279" r="6"/>
<circle cx="1201" cy="324" r="6"/>
<circle cx="1190" cy="285" r="6"/>
<circle cx="988" cy="282" r="6"/>
</g>
<g class="b">
<circle cx="1003" cy="253" r="6"/>
</g>
<g class="o">
<circle cx="1160" cy="355" r="6"/>
<circle cx="1057" cy="198" r="6"/>
<circle cx="987" cy="338" r="6"/>
<circle cx="1070" cy="241" r="6"/>
<circle cx="1141" cy="383" r="6"/>
<circle cx="966" cy="403" r="6"/>
<circle cx="1170" cy="228" r="6"/>
<circle cx="1101" cy="233" r="6"/>
<circle cx="1060" cy="238" r="6"/>
<circle cx="1033" cy="199" r="6"/>
<circle cx="974" cy="295" r="6"/>
<circle cx="972" cy="289" r="6"/>
<circle cx="1042" cy="389" r="6"/>
<circle cx="1073" cy="222" r="6"/>
<circle cx="1000" cy="261" r="6"/>
<circle cx="1160" cy="336" r="6"/>
<circle cx="980" cy="329" r="6"/>
<circle cx="1172" cy="376" r="6"/>
<circle cx="1177" cy="318" r="6"/>
<circle cx="994" cy="266" r="6"/>
<circle cx="1088" cy="236" r="6"/>
<circle cx="1024" cy="240" r="6"/>
<circle cx="1100" cy="232" r="6"/>
<circle cx="1013" cy="216" r="6"/>
<circle cx="998" cy="381" r="6"/>
<circle cx="1018" cy="247" r="6"/>
<circle cx="1168" cy="265" r="6"/>
<circle cx="1140" cy="381" r="6"/>
<circle cx="957" cy="271" r="6"/>
<circle cx="983" cy="295" r="6"/>
<circle cx="1148" cy="242" r="6"/>
<circle cx="1154" cy="258" r="6"/>
<circle cx="1077" cy="388" r="6"/>
<circle cx="1078" cy="379" r="6"/>
<circle cx="973" cy="284" r="6"/>
<circle cx="1010" cy="402" r="6"/>
<circle cx="1187" cy="271" r="6"/>
<circle cx="1133" cy="372" r="6"/>
<circle cx="1147" cy="282" r="6"/>
<circle cx="1017" cy="252" r="6"/>
<circle cx="1077" cy="417" r="6"/>
</g>
<g class="b">
<circle cx="1233" cy="210" r="6"/>
</g>
<g class="o">
<circle cx="1141" cy="253" r="6"/>
<circle cx="1005" cy="272" r="6"/>
<circle cx="982" cy="327" r="6"/>
<circle cx="1166" cy="301" r="6"/>
<circle cx="960" cy="324" r="6"/>
<circle cx="1134" cy="255" r="6"/>
<circle cx="990" cy="279" r="6"/>
</g>
<g class="b">
<circle cx="1181" cy="446" r="6"/>
</g>
<g class="o">
<circle cx="1066" cy="404" r="6"/>
<circle cx="1109" cy="410" r="6"/>
<circle cx="1128" cy="378" r="6"/>
<circle cx="1074" cy="382" r="6"/>
<circle cx="1027" cy="386" r="6"/>
<circle cx="1142" cy="223" r="6"/>
<circle cx="1140" cy="364" r="6"/>
<circle cx="1142" cy="255" r="6"/>
<circle cx="1130" cy="236" r="6"/>
<circle cx="1077" cy="388" r="6"/>
<circle cx="941" cy="324" r="6"/>
<circle cx="1130" cy="228" r="6"/>
<circle cx="1000" cy="353" r="6"/>
</g>
<g class="b">
<circle cx="1264" cy="351" r="6"/>
</g>
<g class="o">
<circle cx="971" cy="295" r="6"/>
<circle cx="1059" cy="237" r="6"/>
<circle cx="987" cy="316" r="6"/>
<circle cx="1170" cy="250" r="6"/>
<circle cx="968" cy="262" r="6"/>
<circle cx="1119" cy="232" r="6"/>
<circle cx="1159" cy="377" r="6"/>
<circle cx="1170" cy="335" r="6"/>
<circle cx="1152" cy="346" r="6"/>
<circle cx="1025" cy="247" r="6"/>
<circle cx="1166" cy="253" r="6"/>
<circle cx="1011" cy="373" r="6"/>
<circle cx="1083" cy="224" r="6"/>
<circle cx="1184" cy="317" r="6"/>
<circle cx="961" cy="323" r="6"/>
<circle cx="1008" cy="371" r="6"/>
<circle cx="1149" cy="318" r="6"/>
<circle cx="1028" cy="240" r="6"/>
<circle cx="1160" cy="281" r="6"/>
<circle cx="924" cy="321" r="6"/>
<circle cx="1000" cy="267" r="6"/>
</g>
<g class="b">
<circle cx="1289" cy="288" r="6"/>
<circle cx="1056" cy="178" r="6"/>
<circle cx="1016" cy="250" r="6"/>
</g>
<g class="o">
<circle cx="1101" cy="412" r="6"/>
<circle cx="938" cy="301" r="6"/>
<circle cx="1126" cy="237" r="6"/>
<circle cx="1084" cy="235" r="6"/>
<circle cx="1072" cy="388" r="6"/>
<circle cx="1059" cy="232" r="6"/>
</g>
<g class="b">
<circle cx="1190" cy="266" r="6"/>
</g>
<g class="o">
<circle cx="1133" cy="236" r="6"/>
<circle cx="995" cy="279" r="6"/>
<circle cx="973" cy="298" r="6"/>
<circle cx="995" cy="290" r="6"/>
<circle cx="973" cy="326" r="6"/>
<circle cx="917" cy="328" r="6"/>
<circle cx="998" cy="293" r="6"/>
<circle cx="1106" cy="234" r="6"/>
<circle cx="1068" cy="237" r="6"/>
</g>
<g class="b">
<circle cx="961" cy="265" r="6"/>
</g>
<g class="o">
<circle cx="1101" cy="235" r="6"/>
<circle cx="1083" cy="229" r="6"/>
</g>
<g class="b">
<circle cx="1029" cy="371" r="6"/>
</g>
<g class="o">
<circle cx="1083" cy="407" r="6"/>
</g>
<g class="b">
<circle cx="1161" cy="396" r="6"/>
</g>
<g class="o">
<circle cx="1074" cy="234" r="6"/>
<circle cx="1117" cy="414" r="6"/>
</g>
<g class="b">
<circle cx="1149" cy="229" r="6"/>
</g>
<g class="o">
<circle cx="1014" cy="359" r="6"/>
<circle cx="954" cy="231" r="6"/>
<circle cx="1155" cy="250" r="6"/>
<circle cx="1074" cy="232" r="6"/>
<circle cx="894" cy="276" r="6"/>
</g>
<g class="b">
<circle cx="970" cy="434" r="6"/>
</g>
<g class="o">
<circle cx="1041" cy="410" r="6"/>
<circle cx="966" cy="340" r="6"/>
<circle cx="1164" cy="320" r="6"/>
</g>
<g class="b">
<circle cx="1218" cy="404" r="6"/>
</g>
<g class="o">
<circle cx="965" cy="259" r="6"/>
<circle cx="1133" cy="364" r="6"/>
<circle cx="1131" cy="240" r="6"/>
<circle cx="1075" cy="214" r="6"/>
<circle cx="1158" cy="264" r="6"/>
<circle cx="1163" cy="257" r="6"/>
<circle cx="1180" cy="296" r="6"/>
<circle cx="1015" cy="221" r="6"/>
<circle cx="1136" cy="259" r="6"/>
<circle cx="1067" cy="425" r="6"/>
<circle cx="1081" cy="218" r="6"/>
<circle cx="970" cy="325" r="6"/>
<circle cx="1038" cy="414" r="6"/>
<circle cx="1050" cy="381" r="6"/>
<circle cx="1064" cy="196" r="6"/>
<circle cx="1163" cy="264" r="6"/>
<circle cx="1056" cy="212" r="6"/>
<circle cx="1001" cy="399" r="6"/>
<circle cx="1167" cy="349" r="6"/>
<circle cx="1007" cy="261" r="6"/>
<circle cx="876" cy="315" r="6"/>
<circle cx="1057" cy="217" r="6"/>
<circle cx="907" cy="323" r="6"/>
<circle cx="1154" cy="291" r="6"/>
<circle cx="1140" cy="362" r="6"/>
<circle cx="1115" cy="454" r="6"/>
<circle cx="1029" cy="384" r="6"/>
<circle cx="1051" cy="389" r="6"/>
<circle cx="1006" cy="211" r="6"/>
<circle cx="1176" cy="294" r="6"/>
<circle cx="843" cy="393" r="6"/>
<circle cx="1000" cy="264" r="6"/>
<circle cx="1109" cy="217" r="6"/>
<circle cx="1004" cy="266" r="6"/>
<circle cx="1037" cy="395" r="6"/>
<circle cx="910" cy="224" r="6"/>
<circle cx="1122" cy="241" r="6"/>
<circle cx="1106" cy="387" r="6"/>
<circle cx="996" cy="257" r="6"/>
<circle cx="1048" cy="201" r="6"/>
</g>
<g class="b">
<circle cx="983" cy="306" r="6"/>
</g>
<g class="o">
<circle cx="1004" cy="268" r="6"/>
<circle cx="989" cy="363" r="6"/>
</g>
<g class="b">
<circle cx="1121" cy="408" r="6"/>
</g>
<g class="o">
<circle cx="1108" cy="438" r="6"/>
<circle cx="984" cy="315" r="6"/>
<circle cx="1163" cy="331" r="6"/>
<circle cx="876" cy="319" r="6"/>
<circle cx="1044" cy="204" r="6"/>
<circle cx="1177" cy="263" r="6"/>
<circle cx="963" cy="234" r="6"/>
<circle cx="1167" cy="316" r="6"/>
<circle cx="976" cy="315" r="6"/>
<circle cx="1100" cy="218" r="6"/>
<circle cx="1167" cy="317" r="6"/>
<circle cx="965" cy="333" r="6"/>
<circle cx="955" cy="288" r="6"/>
<circle cx="1018" cy="228" r="6"/>
<circle cx="1098" cy="240" r="6"/>
<circle cx="1123" cy="443" r="6"/>
</g>
<g class="b">
<circle cx="1017" cy="242" r="6"/>
</g>
<g class="o">
<circle cx="1104" cy="389" r="6"/>
<circle cx="1064" cy="381" r="6"/>
<circle cx="948" cy="233" r="6"/>
<circle cx="1151" cy="311" r="6"/>
<circle cx="1053" cy="236" r="6"/>
<circle cx="1164" cy="251" r="6"/>
<circle cx="1007" cy="350" r="6"/>
<circle cx="1093" cy="222" r="6"/>
<circle cx="1171" cy="272" r="6"/>
<circle cx="1129" cy="246" r="6"/>
<circle cx="884" cy="286" r="6"/>
<circle cx="1040" cy="221" r="6"/>
<circle cx="1149" cy="364" r="6"/>
<circle cx="987" cy="389" r="6"/>
<circle cx="1052" cy="210" r="6"/>
<circle cx="1027" cy="252" r="6"/>
<circle cx="1064" cy="241" r="6"/>
<circle cx="981" cy="308" r="6"/>
<circle cx="1016" cy="365" r="6"/>
<circle cx="1153" cy="310" r="6"/>
<circle cx="1156" cy="309" r="6"/>
<circle cx="1044" cy="215" r="6"/>
</g>
<g class="b">
<circle cx="990" cy="243" r="6"/>
</g>
<g class="o">
<circle cx="893" cy="360" r="6"/>
<circle cx="994" cy="278" r="6"/>
<circle cx="1013" cy="360" r="6"/>
<circle cx="1029" cy="376" r="6"/>
<circle cx="1154" cy="322" r="6"/>
<circle cx="1125" cy="370" r="6"/>
<circle cx="974" cy="363" r="6"/>
<circle cx="1005" cy="356" r="6"/>
<circle cx="949" cy="335" r="6"/>
<circle cx="1144" cy="323" r="6"/>
<circle cx="1129" cy="230" r="6"/>
<circle cx="983" cy="250" r="6"/>
<circle cx="1010" cy="369" r="6"/>
<circle cx="976" cy="352" r="6"/>
<circle cx="1053" cy="226" r="6"/>
<circle cx="972" cy="309" r="6"/>
<circle cx="1110" cy="241" r="6"/>
<circle cx="1116" cy="224" r="6"/>
</g>
<g class="b">
<circle cx="1159" cy="387" r="6"/>
</g>
<g class="o">
<circle cx="1034" cy="379" r="6"/>
<circle cx="1153" cy="356" r="6"/>
<circle cx="1154" cy="258" r="6"/>
<circle cx="998" cy="297" r="6"/>
<circle cx="1062" cy="379" r="6"/>
<circle cx="987" cy="297" r="6"/>
<circle cx="1037" cy="230" r="6"/>
<circle cx="1001" cy="365" r="6"/>
<circle cx="1106" cy="382" r="6"/>
</g>
<g class="b">
<circle cx="856" cy="404" r="6"/>
</g>
<g class="o">
<circle cx="1007" cy="348" r="6"/>
<circle cx="1034" cy="373" r="6"/>
</g>
<g class="b">
<circle cx="1113" cy="240" r="6"/>
</g>
<g class="o">
<circle cx="1072" cy="378" r="6"/>
<circle cx="962" cy="339" r="6"/>
<circle cx="1148" cy="246" r="6"/>
<circle cx="1126" cy="374" r="6"/>
<circle cx="1083" cy="403" r="6"/>
<circle cx="1031" cy="237" r="6"/>
<circle cx="1061" cy="429" r="6"/>
<circle cx="953" cy="296" r="6"/>
<circle cx="1025" cy="253" r="6"/>
<circle cx="1009" cy="376" r="6"/>
<circle cx="1010" cy="353" r="6"/>
<circle cx="919" cy="365" r="6"/>
<circle cx="1158" cy="302" r="6"/>
<circle cx="998" cy="318" r="6"/>
<circle cx="914" cy="314" r="6"/>
</g>
<g class="b">
<circle cx="1094" cy="157" r="6"/>
</g>
<g class="o">
<circle cx="943" cy="248" r="6"/>
<circle cx="1157" cy="325" r="6"/>
<circle cx="1151" cy="273" r="6"/>
<circle cx="1175" cy="305" r="6"/>
<circle cx="981" cy="284" r="6"/>
<circle cx="1044" cy="389" r="6"/>
<circle cx="1104" cy="392" r="6"/>
<circle cx="975" cy="344" r="6"/>
<circle cx="1071" cy="396" r="6"/>
<circle cx="970" cy="275" r="6"/>
<circle cx="1059" cy="216" r="6"/>
<circle cx="1117" cy="206" r="6"/>
</g>
<g class="b">
<circle cx="956" cy="365" r="6"/>
</g>
<g class="o">
<circle cx="1188" cy="265" r="6"/>
<circle cx="965" cy="283" r="6"/>
<circle cx="1140" cy="247" r="6"/>
<circle cx="1165" cy="318" r="6"/>
<circle cx="1153" cy="316" r="6"/>
<circle cx="1064" cy="199" r="6"/>
<circle cx="983" cy="296" r="6"/>
<circle cx="1002" cy="351" r="6"/>
<circle cx="1147" cy="277" r="6"/>
<circle cx="1097" cy="390" r="6"/>
<circle cx="1173" cy="341" r="6"/>
<circle cx="779" cy="346" r="6"/>
<circle cx="1097" cy="388" r="6"/>
<circle cx="1171" cy="342" r="6"/>
<circle cx="993" cy="313" r="6"/>
<circle cx="1191" cy="345" r="6"/>
<circle cx="1041" cy="414" r="6"/>
<circle cx="1184" cy="268" r="6"/>
<circle cx="1009" cy="304" r="6"/>
</g>
<g class="b">
<circle cx="1071" cy="228" r="6"/>
</g>
<g class="o">
<circle cx="814" cy="72" r="6"/>
<circle cx="1040" cy="369" r="6"/>
<circle cx="1109" cy="224" r="6"/>
<circle cx="991" cy="278" r="6"/>
<circle cx="1167" cy="372" r="6"/>
<circle cx="993" cy="368" r="6"/>
<circle cx="994" cy="348" r="6"/>
<circle cx="994" cy="359" r="6"/>
<circle cx="1160" cy="263" r="6"/>
<circle cx="925" cy="340" r="6"/>
<circle cx="1131" cy="247" r="6"/>
<circle cx="1031" cy="239" r="6"/>
<circle cx="1072" cy="206" r="6"/>
<circle cx="1096" cy="408" r="6"/>
<circle cx="968" cy="340" r="6"/>
<circle cx="1150" cy="355" r="6"/>
<circle cx="966" cy="389" r="6"/>
<circle cx="1004" cy="341" r="6"/>
</g>
<g class="b">
<circle cx="1003" cy="328" r="6"/>
</g>
<g class="o">
<circle cx="1063" cy="195" r="6"/>
<circle cx="1061" cy="234" r="6"/>
<circle cx="1001" cy="343" r="6"/>
<circle cx="1121" cy="253" r="6"/>
<circle cx="1151" cy="236" r="6"/>
<circle cx="1154" cy="265" r="6"/>
<circle cx="1147" cy="348" r="6"/>
<circle cx="1212" cy="285" r="6"/>
<circle cx="984" cy="316" r="6"/>
<circle cx="1117" cy="372" r="6"/>
<circle cx="1038" cy="240" r="6"/>
<circle cx="1197" cy="358" r="6"/>
</g>
<g class="b">
<circle cx="997" cy="353" r="6"/>
</g>
<g class="o">
<circle cx="990" cy="281" r="6"/>
<circle cx="1042" cy="228" r="6"/>
<circle cx="938" cy="255" r="6"/>
<circle cx="1158" cy="321" r="6"/>
<circle cx="1137" cy="354" r="6"/>
<circle cx="1074" cy="206" r="6"/>
<circle cx="1132" cy="365" r="6"/>
</g>
<g class="b">
<circle cx="931" cy="350" r="6"/>
</g>
<g class="o">
<circle cx="1078" cy="381" r="6"/>
<circle cx="950" cy="356" r="6"/>
</g>
<g class="b">
<circle cx="1193" cy="213" r="6"/>
</g>
<g class="o">
<circle cx="1011" cy="370" r="6"/>
<circle cx="999" cy="288" r="6"/>
<circle cx="1155" cy="250" r="6"/>
<circle cx="1083" cy="398" r="6"/>
<circle cx="1084" cy="420" r="6"/>
<circle cx="1163" cy="306" r="6"/>
<circle cx="991" cy="333" r="6"/>
<circle cx="978" cy="327" r="6"/>
<circle cx="963" cy="283" r="6"/>
<circle cx="973" cy="375" r="6"/>
<circle cx="1005" cy="344" r="6"/>
<circle cx="1031" cy="240" r="6"/>
<circle cx="1043" cy="222" r="6"/>
</g>
<g class="b">
<circle cx="830" cy="358" r="6"/>
<circle cx="951" cy="339" r="6"/>
</g>
<g class="o">
<circle cx="1039" cy="407" r="6"/>
<circle cx="974" cy="182" r="6"/>
<circle cx="988" cy="353" r="6"/>
</g>
<g class="b">
<circle cx="1033" cy="243" r="6"/>
</g>
<g class="o">
<circle cx="1163" cy="298" r="6"/>
<circle cx="987" cy="324" r="6"/>
<circle cx="1200" cy="242" r="6"/>
<circle cx="1039" cy="391" r="6"/>
<circle cx="979" cy="230" r="6"/>
</g>
<g class="b">
<circle cx="1204" cy="231" r="6"/>
</g>
<g class="o">
<circle cx="1122" cy="245" r="6"/>
<circle cx="911" cy="332" r="6"/>
<circle cx="1077" cy="230" r="6"/>
<circle cx="1121" cy="377" r="6"/>
<circle cx="1071" cy="204" r="6"/>
<circle cx="1156" cy="301" r="6"/>
<circle cx="1116" cy="220" r="6"/>
</g>
<g class="b">
<circle cx="909" cy="349" r="6"/>
<circle cx="1156" cy="273" r="6"/>
</g>
<g class="o">
<circle cx="1002" cy="261" r="6"/>
<circle cx="1162" cy="298" r="6"/>
<circle cx="1138" cy="230" r="6"/>
<circle cx="985" cy="284" r="6"/>
<circle cx="1080" cy="208" r="6"/>
<circle cx="1151" cy="410" r="6"/>
<circle cx="991" cy="342" r="6"/>
<circle cx="1169" cy="331" r="6"/>
<circle cx="1160" cy="316" r="6"/>
<circle cx="1019" cy="383" r="6"/>
<circle cx="1163" cy="371" r="6"/>
</g>
<g class="b">
<circle cx="1018" cy="195" r="6"/>
</g>
<g class="o">
<circle cx="1026" cy="371" r="6"/>
</g>
<g class="b">
<circle cx="1043" cy="395" r="6"/>
</g>
<g class="o">
<circle cx="964" cy="293" r="6"/>
<circle cx="1039" cy="380" r="6"/>
<circle cx="1083" cy="188" r="6"/>
<circle cx="969" cy="321" r="6"/>
<circle cx="1002" cy="263" r="6"/>
<circle cx="996" cy="269" r="6"/>
<circle cx="1063" cy="393" r="6"/>
</g>
<g class="b">
<circle cx="1130" cy="247" r="6"/>
</g>
<g class="o">
<circle cx="1152" cy="266" r="6"/>
<circle cx="993" cy="285" r="6"/>
<circle cx="1103" cy="382" r="6"/>
<circle cx="837" cy="370" r="6"/>
<circle cx="989" cy="369" r="6"/>
<circle cx="984" cy="309" r="6"/>
<circle cx="1235" cy="257" r="6"/>
<circle cx="1152" cy="365" r="6"/>
</g>
<g class="b">
<circle cx="1181" cy="357" r="6"/>
</g>
<g class="o">
<circle cx="1205" cy="288" r="6"/>
</g>
<g class="b">
<circle cx="1009" cy="469" r="6"/>
</g>
<g class="o">
<circle cx="1069" cy="228" r="6"/>
<circle cx="1152" cy="375" r="6"/>
<circle cx="960" cy="326" r="6"/>
<circle cx="1126" cy="239" r="6"/>
<circle cx="1211" cy="298" r="6"/>
<circle cx="993" cy="318" r="6"/>
<circle cx="995" cy="337" r="6"/>
<circle cx="1033" cy="372" r="6"/>
<circle cx="1157" cy="345" r="6"/>
<circle cx="873" cy="342" r="6"/>
<circle cx="949" cy="233" r="6"/>
<circle cx="1165" cy="234" r="6"/>
<circle cx="997" cy="295" r="6"/>
<circle cx="1150" cy="251" r="6"/>
<circle cx="1133" cy="359" r="6"/>
<circle cx="989" cy="462" r="6"/>
<circle cx="1149" cy="351" r="6"/>
<circle cx="1146" cy="350" r="6"/>
<circle cx="995" cy="399" r="6"/>
<circle cx="1142" cy="379" r="6"/>
<circle cx="986" cy="280" r="6"/>
<circle cx="1027" cy="232" r="6"/>
<circle cx="1178" cy="317" r="6"/>
<circle cx="1178" cy="297" r="6"/>
</g>
<g class="b">
<circle cx="939" cy="291" r="6"/>
</g>
<g class="o">
<circle cx="992" cy="262" r="6"/>
</g>
<g class="b">
<circle cx="994" cy="396" r="6"/>
</g>
<g class="o">
<circle cx="1145" cy="238" r="6"/>
<circle cx="1104" cy="216" r="6"/>
<circle cx="1089" cy="235" r="6"/>
<circle cx="989" cy="306" r="6"/>
<circle cx="1050" cy="204" r="6"/>
<circle cx="1063" cy="235" r="6"/>
<circle cx="962" cy="374" r="6"/>
<circle cx="983" cy="329" r="6"/>
<circle cx="1157" cy="365" r="6"/>
<circle cx="984" cy="411" r="6"/>
<circle cx="995" cy="351" r="6"/>
<circle cx="1072" cy="377" r="6"/>
<circle cx="999" cy="332" r="6"/>
<circle cx="1148" cy="260" r="6"/>
<circle cx="1006" cy="343" r="6"/>
<circle cx="997" cy="309" r="6"/>
<circle cx="1137" cy="364" r="6"/>
</g>
<g class="b">
<circle cx="1085" cy="400" r="6"/>
</g>
<g class="o">
<circle cx="961" cy="370" r="6"/>
<circle cx="1147" cy="278" r="6"/>
<circle cx="1043" cy="392" r="6"/>
<circle cx="1070" cy="377" r="6"/>
<circle cx="1091" cy="390" r="6"/>
</g>
<g class="b">
<circle cx="903" cy="469" r="6"/>
</g>
<g class="o">
<circle cx="1176" cy="349" r="6"/>
<circle cx="1049" cy="223" r="6"/>
</g>
<g class="b">
<circle cx="1001" cy="217" r="6"/>
<circle cx="978" cy="365" r="6"/>
</g>
<g class="o">
<circle cx="1078" cy="235" r="6"/>
<circle cx="1209" cy="282" r="6"/>
</g>
<g class="b">
<circle cx="1176" cy="425" r="6"/>
</g>
<g class="o">
<circle cx="1149" cy="274" r="6"/>
<circle cx="1105" cy="234" r="6"/>
<circle cx="1071" cy="375" r="6"/>
<circle cx="991" cy="380" r="6"/>
<circle cx="1060" cy="414" r="6"/>
<circle cx="1115" cy="381" r="6"/>
</g>
<g class="b">
<circle cx="1034" cy="183" r="6"/>
</g>
<g class="o">
<circle cx="1135" cy="178" r="6"/>
<circle cx="1055" cy="401" r="6"/>
<circle cx="1090" cy="389" r="6"/>
<circle cx="983" cy="307" r="6"/>
<circle cx="914" cy="296" r="6"/>
<circle cx="973" cy="328" r="6"/>
<circle cx="995" cy="349" r="6"/>
<circle cx="1053" cy="396" r="6"/>
<circle cx="1161" cy="321" r="6"/>
<circle cx="1000" cy="301" r="6"/>
<circle cx="1148" cy="268" r="6"/>
</g>
<g class="b">
<circle cx="985" cy="350" r="6"/>
</g>
<g class="o">
<circle cx="1077" cy="208" r="6"/>
</g>
<g class="b">
<circle cx="1165" cy="364" r="6"/>
</g>
<g class="o">
<circle cx="1121" cy="255" r="6"/>
<circle cx="1149" cy="353" r="6"/>
</g>
<g class="b">
<circle cx="785" cy="366" r="6"/>
</g>
<g class="o">
<circle cx="1057" cy="229" r="6"/>
</g>
<g class="b">
<circle cx="1116" cy="180" r="6"/>
</g>
<g class="o">
<circle cx="933" cy="257" r="6"/>
</g>
<g class="b">
<circle cx="1010" cy="399" r="6"/>
</g>
<g class="o">
<circle cx="990" cy="283" r="6"/>
<circle cx="1116" cy="237" r="6"/>
<circle cx="1198" cy="369" r="6"/>
<circle cx="988" cy="392" r="6"/>
<circle cx="1029" cy="242" r="6"/>
<circle cx="1030" cy="216" r="6"/>
<circle cx="1086" cy="234" r="6"/>
<circle cx="980" cy="303" r="6"/>
<circle cx="1018" cy="247" r="6"/>
<circle cx="997" cy="345" r="6"/>
<circle cx="922" cy="354" r="6"/>
<circle cx="1055" cy="407" r="6"/>
<circle cx="1182" cy="291" r="6"/>
<circle cx="1076" cy="205" r="6"/>
<circle cx="1081" cy="378" r="6"/>
<circle cx="1140" cy="352" r="6"/>
<circle cx="1103" cy="239" r="6"/>
</g>
<g class="b">
<circle cx="1146" cy="405" r="6"/>
</g>
<g class="o">
<circle cx="1107" cy="392" r="6"/>
<circle cx="1080" cy="409" r="6"/>
<circle cx="1119" cy="257" r="6"/>
<circle cx="1056" cy="377" r="6"/>
<circle cx="1055" cy="418" r="6"/>
</g>
<g class="b">
<circle cx="922" cy="411" r="6"/>
</g>
<g class="o">
<circle cx="1091" cy="423" r="6"/>
</g>
<g class="b">
<circle cx="1075" cy="384" r="6"/>
</g>
<g class="o">
<circle cx="1154" cy="259" r="6"/>
<circle cx="1164" cy="249" r="6"/>
<circle cx="982" cy="319" r="6"/>
<circle cx="1086" cy="214" r="6"/>
<circle cx="1070" cy="373" r="6"/>
<circle cx="1184" cy="286" r="6"/>
<circle cx="1005" cy="265" r="6"/>
<circle cx="1010" cy="398" r="6"/>
<circle cx="1170" cy="324" r="6"/>
<circle cx="1137" cy="364" r="6"/>
</g>
<g class="b">
<circle cx="956" cy="197" r="6"/>
</g>
<g class="o">
<circle cx="1160" cy="284" r="6"/>
<circle cx="1160" cy="360" r="6"/>
<circle cx="1181" cy="252" r="6"/>
<circle cx="1104" cy="242" r="6"/>
<circle cx="1007" cy="248" r="6"/>
</g>
<g class="b">
<circle cx="981" cy="288" r="6"/>
</g>
<g class="o">
<circle cx="965" cy="239" r="6"/>
<circle cx="1031" cy="365" r="6"/>
<circle cx="1043" cy="379" r="6"/>
<circle cx="1000" cy="226" r="6"/>
<circle cx="1149" cy="357" r="6"/>
<circle cx="952" cy="264" r="6"/>
<circle cx="1100" cy="393" r="6"/>
<circle cx="1066" cy="236" r="6"/>
<circle cx="1003" cy="343" r="6"/>
<circle cx="1141" cy="394" r="6"/>
<circle cx="1159" cy="266" r="6"/>
<circle cx="1026" cy="367" r="6"/>
<circle cx="998" cy="256" r="6"/>
<circle cx="1160" cy="299" r="6"/>
<circle cx="972" cy="433" r="6"/>
<circle cx="1073" cy="215" r="6"/>
<circle cx="1025" cy="369" r="6"/>
<circle cx="1075" cy="221" r="6"/>
<circle cx="980" cy="313" r="6"/>
</g>
<g class="b">
<circle cx="998" cy="352" r="6"/>
</g>
<g class="o">
<circle cx="1167" cy="310" r="6"/>
<circle cx="1169" cy="235" r="6"/>
<circle cx="1140" cy="256" r="6"/>
<circle cx="1173" cy="369" r="6"/>
<circle cx="1139" cy="557" r="6"/>
</g>
<g class="b">
<circle cx="1053" cy="389" r="6"/>
</g>
<g class="o">
<circle cx="1001" cy="320" r="6"/>
<circle cx="1079" cy="239" r="6"/>
<circle cx="968" cy="303" r="6"/>
<circle cx="974" cy="272" r="6"/>
<circle cx="1005" cy="242" r="6"/>
<circle cx="1157" cy="238" r="6"/>
<circle cx="948" cy="320" r="6"/>
<circle cx="1151" cy="253" r="6"/>
<circle cx="1069" cy="190" r="6"/>
<circle cx="1160" cy="291" r="6"/>
<circle cx="1077" cy="376" r="6"/>
<circle cx="1131" cy="257" r="6"/>
<circle cx="962" cy="260" r="6"/>
<circle cx="1003" cy="327" r="6"/>
<circle cx="1038" cy="229" r="6"/>
<circle cx="1145" cy="318" r="6"/>
<circle cx="1012" cy="239" r="6"/>
<circle cx="1164" cy="254" r="6"/>
<circle cx="976" cy="295" r="6"/>
<circle cx="966" cy="288" r="6"/>
<circle cx="1155" cy="270" r="6"/>
<circle cx="1087" cy="237" r="6"/>
<circle cx="1134" cy="354" r="6"/>
<circle cx="1032" cy="363" r="6"/>
<circle cx="1158" cy="305" r="6"/>
<circle cx="1084" cy="382" r="6"/>
<circle cx="1158" cy="328" r="6"/>
<circle cx="905" cy="369" r="6"/>
<circle cx="1188" cy="281" r="6"/>
<circle cx="1145" cy="256" r="6"/>
<circle cx="1096" cy="239" r="6"/>
<circle cx="1074" cy="239" r="6"/>
<circle cx="936" cy="362" r="6"/>
<circle cx="1010" cy="348" r="6"/>
<circle cx="1155" cy="364" r="6"/>
<circle cx="1281" cy="509" r="6"/>
</g>
<g class="b">
<circle cx="986" cy="301" r="6"/>
</g>
<g class="o">
<circle cx="1006" cy="335" r="6"/>
<circle cx="1155" cy="293" r="6"/>
<circle cx="1034" cy="229" r="6"/>
<circle cx="998" cy="359" r="6"/>
<circle cx="1044" cy="365" r="6"/>
<circle cx="1104" cy="378" r="6"/>
<circle cx="912" cy="329" r="6"/>
<circle cx="976" cy="288" r="6"/>
<circle cx="1159" cy="276" r="6"/>
<circle cx="1169" cy="319" r="6"/>
<circle cx="963" cy="260" r="6"/>
<circle cx="987" cy="339" r="6"/>
</g>
<g class="b">
<circle cx="951" cy="359" r="6"/>
</g>
<g class="o">
<circle cx="1010" cy="262" r="6"/>
<circle cx="979" cy="282" r="6"/>
<circle cx="1001" cy="296" r="6"/>
<circle cx="1026" cy="253" r="6"/>
<circle cx="1160" cy="324" r="6"/>
<circle cx="1132" cy="375" r="6"/>
<circle cx="1090" cy="224" r="6"/>
<circle cx="1069" cy="381" r="6"/>
<circle cx="1032" cy="251" r="6"/>
<circle cx="1153" cy="344" r="6"/>
<circle cx="1008" cy="321" r="6"/>
<circle cx="923" cy="375" r="6"/>
<circle cx="1003" cy="363" r="6"/>
<circle cx="1134" cy="251" r="6"/>
</g>
<g class="b">
<circle cx="984" cy="329" r="6"/>
</g>
<g class="o">
<circle cx="950" cy="312" r="6"/>
<circle cx="1032" cy="359" r="6"/>
<circle cx="1151" cy="366" r="6"/>
<circle cx="1144" cy="285" r="6"/>
<circle cx="1122" cy="439" r="6"/>
<circle cx="1042" cy="240" r="6"/>
<circle cx="1153" cy="245" r="6"/>
<circle cx="1017" cy="242" r="6"/>
<circle cx="1158" cy="219" r="6"/>
<circle cx="1160" cy="319" r="6"/>
<circle cx="1145" cy="274" r="6"/>
<circle cx="993" cy="313" r="6"/>
</g>
<g class="b">
<circle cx="1034" cy="382" r="6"/>
</g>
<g class="o">
<circle cx="1067" cy="194" r="6"/>
<circle cx="1185" cy="360" r="6"/>
<circle cx="1166" cy="244" r="6"/>
<circle cx="993" cy="287" r="6"/>
<circle cx="1096" cy="432" r="6"/>
<circle cx="1126" cy="381" r="6"/>
<circle cx="1090" cy="219" r="6"/>
<circle cx="1036" cy="367" r="6"/>
<circle cx="1122" cy="216" r="6"/>
<circle cx="1078" cy="225" r="6"/>
<circle cx="1035" cy="381" r="6"/>
<circle cx="1078" cy="239" r="6"/>
<circle cx="1158" cy="321" r="6"/>
<circle cx="1099" cy="225" r="6"/>
<circle cx="1134" cy="350" r="6"/>
<circle cx="1010" cy="412" r="6"/>
<circle cx="1012" cy="346" r="6"/>
<circle cx="1004" cy="250" r="6"/>
<circle cx="1115" cy="211" r="6"/>
<circle cx="1002" cy="288" r="6"/>
<circle cx="1109" cy="406" r="6"/>
<circle cx="1168" cy="263" r="6"/>
<circle cx="1026" cy="241" r="6"/>
<circle cx="1145" cy="249" r="6"/>
<circle cx="1146" cy="247" r="6"/>
<circle cx="1001" cy="267" r="6"/>
<circle cx="1152" cy="231" r="6"/>
<circle cx="1014" cy="366" r="6"/>
<circle cx="967" cy="321" r="6"/>
<circle cx="1200" cy="355" r="6"/>
</g>
<g class="b">
<circle cx="1159" cy="322" r="6"/>
</g>
<g class="o">
<circle cx="1103" cy="208" r="6"/>
<circle cx="1131" cy="246" r="6"/>
<circle cx="931" cy="267" r="6"/>
</g>
<g class="b">
<circle cx="1121" cy="216" r="6"/>
</g>
<g class="o">
<circle cx="994" cy="276" r="6"/>
<circle cx="996" cy="237" r="6"/>
</g>
<g class="b">
<circle cx="1134" cy="261" r="6"/>
</g>
<g class="o">
<circle cx="998" cy="281" r="6"/>
<circle cx="1148" cy="369" r="6"/>
<circle cx="994" cy="315" r="6"/>
<circle cx="1167" cy="273" r="6"/>
<circle cx="1004" cy="266" r="6"/>
<circle cx="1047" cy="237" r="6"/>
<circle cx="1013" cy="350" r="6"/>
<circle cx="1076" cy="375" r="6"/>
<circle cx="1080" cy="196" r="6"/>
<circle cx="1039" cy="393" r="6"/>
<circle cx="1085" cy="217" r="6"/>
<circle cx="988" cy="272" r="6"/>
<circle cx="1159" cy="339" r="6"/>
<circle cx="940" cy="395" r="6"/>
<circle cx="983" cy="363" r="6"/>
<circle cx="1002" cy="321" r="6"/>
<circle cx="1098" cy="206" r="6"/>
<circle cx="972" cy="305" r="6"/>
<circle cx="1100" cy="409" r="6"/>
<circle cx="1079" cy="425" r="6"/>
<circle cx="970" cy="312" r="6"/>
<circle cx="1169" cy="257" r="6"/>
<circle cx="968" cy="352" r="6"/>
<circle cx="982" cy="256" r="6"/>
<circle cx="979" cy="310" r="6"/>
<circle cx="1162" cy="334" r="6"/>
<circle cx="1148" cy="377" r="6"/>
<circle cx="1089" cy="237" r="6"/>
<circle cx="1066" cy="380" r="6"/>
<circle cx="1141" cy="243" r="6"/>
<circle cx="1213" cy="311" r="6"/>
<circle cx="954" cy="247" r="6"/>
<circle cx="1149" cy="217" r="6"/>
<circle cx="1031" cy="198" r="6"/>
<circle cx="1147" cy="239" r="6"/>
</g>
<g class="b">
<circle cx="1103" cy="378" r="6"/>
</g>
<g class="o">
<circle cx="1002" cy="337" r="6"/>
<circle cx="1041" cy="235" r="6"/>
<circle cx="1123" cy="400" r="6"/>
</g>
<g class="b">
<circle cx="1015" cy="296" r="6"/>
</g>
<g class="o">
<circle cx="1146" cy="375" r="6"/>
<circle cx="930" cy="279" r="6"/>
<circle cx="1188" cy="344" r="6"/>
<circle cx="952" cy="298" r="6"/>
<circle cx="948" cy="370" r="6"/>
<circle cx="1001" cy="231" r="6"/>
<circle cx="1184" cy="348" r="6"/>
<circle cx="996" cy="285" r="6"/>
<circle cx="1062" cy="392" r="6"/>
<circle cx="1090" cy="209" r="6"/>
<circle cx="1020" cy="199" r="6"/>
<circle cx="1045" cy="382" r="6"/>
<circle cx="1158" cy="349" r="6"/>
<circle cx="1080" cy="375" r="6"/>
<circle cx="1094" cy="236" r="6"/>
<circle cx="1132" cy="362" r="6"/>
<circle cx="1100" cy="229" r="6"/>
<circle cx="1049" cy="230" r="6"/>
<circle cx="1139" cy="393" r="6"/>
<circle cx="988" cy="346" r="6"/>
<circle cx="1065" cy="390" r="6"/>
<circle cx="1009" cy="263" r="6"/>
<circle cx="999" cy="323" r="6"/>
<circle cx="1165" cy="329" r="6"/>
<circle cx="1146" cy="381" r="6"/>
<circle cx="1112" cy="232" r="6"/>
<circle cx="1090" cy="227" r="6"/>
<circle cx="1138" cy="264" r="6"/>
<circle cx="1077" cy="385" r="6"/>
<circle cx="1055" cy="405" r="6"/>
<circle cx="999" cy="377" r="6"/>
<circle cx="1044" cy="380" r="6"/>
<circle cx="1148" cy="365" r="6"/>
<circle cx="975" cy="350" r="6"/>
<circle cx="1039" cy="229" r="6"/>
<circle cx="984" cy="351" r="6"/>
<circle cx="1035" cy="408" r="6"/>
<circle cx="995" cy="337" r="6"/>
<circle cx="1038" cy="362" r="6"/>
<circle cx="1099" cy="216" r="6"/>
<circle cx="1173" cy="338" r="6"/>
<circle cx="1092" cy="392" r="6"/>
<circle cx="1011" cy="324" r="6"/>
<circle cx="1152" cy="362" r="6"/>
<circle cx="1139" cy="366" r="6"/>
<circle cx="1136" cy="209" r="6"/>
<circle cx="958" cy="341" r="6"/>
<circle cx="1081" cy="404" r="6"/>
<circle cx="1158" cy="360" r="6"/>
<circle cx="1031" cy="404" r="6"/>
<circle cx="1069" cy="411" r="6"/>
<circle cx="1000" cy="309" r="6"/>
<circle cx="1155" cy="359" r="6"/>
<circle cx="1055" cy="209" r="6"/>
<circle cx="1134" cy="258" r="6"/>
<circle cx="946" cy="290" r="6"/>
<circle cx="920" cy="315" r="6"/>
<circle cx="1045" cy="363" r="6"/>
<circle cx="1013" cy="297" r="6"/>
</g>
<g class="b">
<circle cx="991" cy="228" r="6"/>
</g>
<g class="o">
<circle cx="1005" cy="293" r="6"/>
<circle cx="1096" cy="369" r="6"/>
<circle cx="1054" cy="438" r="6"/>
<circle cx="967" cy="245" r="6"/>
<circle cx="1037" cy="378" r="6"/>
<circle cx="1167" cy="331" r="6"/>
<circle cx="998" cy="353" r="6"/>
<circle cx="1148" cy="365" r="6"/>
<circle cx="1086" cy="238" r="6"/>
<circle cx="1017" cy="243" r="6"/>
<circle cx="1150" cy="260" r="6"/>
<circle cx="1016" cy="302" r="6"/>
<circle cx="1015" cy="374" r="6"/>
<circle cx="1016" cy="346" r="6"/>
<circle cx="1061" cy="387" r="6"/>
<circle cx="1115" cy="379" r="6"/>
</g>
<g class="b">
<circle cx="954" cy="343" r="6"/>
</g>
<g class="o">
<circle cx="972" cy="335" r="6"/>
<circle cx="1100" cy="226" r="6"/>
<circle cx="1043" cy="389" r="6"/>
<circle cx="1034" cy="246" r="6"/>
<circle cx="998" cy="304" r="6"/>
<circle cx="983" cy="339" r="6"/>
<circle cx="1177" cy="335" r="6"/>
<circle cx="1173" cy="245" r="6"/>
<circle cx="1045" cy="227" r="6"/>
<circle cx="1107" cy="383" r="6"/>
</g>
<g class="b">
<circle cx="979" cy="326" r="6"/>
</g>
<g class="o">
<circle cx="1103" cy="218" r="6"/>
<circle cx="1153" cy="253" r="6"/>
<circle cx="963" cy="400" r="6"/>
<circle cx="1126" cy="398" r="6"/>
<circle cx="1134" cy="223" r="6"/>
<circle cx="1159" cy="275" r="6"/>
<circle cx="1117" cy="374" r="6"/>
<circle cx="1156" cy="363" r="6"/>
<circle cx="1006" cy="403" r="6"/>
<circle cx="1020" cy="367" r="6"/>
</g>
<g class="b">
<circle cx="1034" cy="224" r="6"/>
</g>
<g class="o">
<circle cx="1005" cy="360" r="6"/>
<circle cx="1116" cy="382" r="6"/>
<circle cx="978" cy="329" r="6"/>
<circle cx="1016" cy="290" r="6"/>
<circle cx="1095" cy="376" r="6"/>
<circle cx="1160" cy="305" r="6"/>
<circle cx="1045" cy="397" r="6"/>
<circle cx="977" cy="293" r="6"/>
<circle cx="1067" cy="226" r="6"/>
<circle cx="1139" cy="242" r="6"/>
<circle cx="993" cy="354" r="6"/>
<circle cx="917" cy="337" r="6"/>
<circle cx="1027" cy="383" r="6"/>
<circle cx="981" cy="306" r="6"/>
<circle cx="1145" cy="401" r="6"/>
<circle cx="1004" cy="309" r="6"/>
<circle cx="1166" cy="284" r="6"/>
<circle cx="1090" cy="384" r="6"/>
<circle cx="1069" cy="398" r="6"/>
<circle cx="1146" cy="267" r="6"/>
<circle cx="1122" cy="242" r="6"/>
<circle cx="1081" cy="158" r="6"/>
<circle cx="1186" cy="350" r="6"/>
<circle cx="998" cy="226" r="6"/>
<circle cx="1073" cy="240" r="6"/>
<circle cx="1017" cy="348" r="6"/>
<circle cx="1037" cy="253" r="6"/>
<circle cx="1096" cy="376" r="6"/>
<circle cx="1019" cy="408" r="6"/>
<circle cx="1126" cy="372" r="6"/>
<circle cx="1148" cy="275" r="6"/>
<circle cx="1122" cy="240" r="6"/>
<circle cx="1047" cy="202" r="6"/>
<circle cx="1064" cy="223" r="6"/>
<circle cx="974" cy="437" r="6"/>
<circle cx="1025" cy="396" r="6"/>
</g>
<g class="b">
<circle cx="1146" cy="333" r="6"/>
<circle cx="1012" cy="167" r="6"/>
</g>
<g class="o">
<circle cx="1140" cy="231" r="6"/>
<circle cx="1006" cy="272" r="6"/>
<circle cx="1247" cy="385" r="6"/>
<circle cx="1200" cy="408" r="6"/>
<circle cx="1171" cy="269" r="6"/>
<circle cx="994" cy="386" r="6"/>
<circle cx="1074" cy="373" r="6"/>
<circle cx="1048" cy="379" r="6"/>
</g>
<g class="b">
<circle cx="1166" cy="382" r="6"/>
</g>
<g class="o">
<circle cx="1033" cy="358" r="6"/>
<circle cx="1153" cy="377" r="6"/>
<circle cx="1048" cy="379" r="6"/>
<circle cx="1103" cy="243" r="6"/>
<circle cx="1096" cy="412" r="6"/>
<circle cx="988" cy="301" r="6"/>
<circle cx="1119" cy="236" r="6"/>
<circle cx="980" cy="321" r="6"/>
<circle cx="1178" cy="252" r="6"/>
<circle cx="1071" cy="411" r="6"/>
<circle cx="971" cy="306" r="6"/>
</g>
<g class="b">
<circle cx="1187" cy="230" r="6"/>
</g>
<g class="o">
<circle cx="1097" cy="206" r="6"/>
</g>
<g class="b">
<circle cx="935" cy="183" r="6"/>
</g>
<g class="o">
<circle cx="990" cy="299" r="6"/>
<circle cx="1120" cy="236" r="6"/>
<circle cx="1158" cy="315" r="6"/>
</g>
<g class="b">
<circle cx="893" cy="165" r="6"/>
</g>
<g class="o">
<circle cx="1152" cy="340" r="6"/>
<circle cx="982" cy="321" r="6"/>
<circle cx="989" cy="347" r="6"/>
<circle cx="1037" cy="358" r="6"/>
</g>
<g class="b">
<circle cx="1133" cy="410" r="6"/>
</g>
<g class="o">
<circle cx="1018" cy="247" r="6"/>
<circle cx="1172" cy="306" r="6"/>
<circle cx="1070" cy="387" r="6"/>
</g>
<g class="b">
<circle cx="959" cy="259" r="6"/>
</g>
<g class="o">
<circle cx="1148" cy="200" r="6"/>
<circle cx="1123" cy="252" r="6"/>
<circle cx="986" cy="295" r="6"/>
<circle cx="824" cy="353" r="6"/>
<circle cx="1150" cy="330" r="6"/>
<circle cx="1214" cy="310" r="6"/>
<circle cx="1043" cy="428" r="6"/>
<circle cx="1103" cy="236" r="6"/>
<circle cx="1188" cy="236" r="6"/>
<circle cx="1011" cy="307" r="6"/>
<circle cx="1115" cy="391" r="6"/>
<circle cx="1014" cy="241" r="6"/>
<circle cx="976" cy="300" r="6"/>
<circle cx="1102" cy="400" r="6"/>
<circle cx="1059" cy="432" r="6"/>
<circle cx="1162" cy="306" r="6"/>
<circle cx="1103" cy="372" r="6"/>
<circle cx="1000" cy="302" r="6"/>
<circle cx="992" cy="315" r="6"/>
<circle cx="972" cy="274" r="6"/>
<circle cx="1159" cy="342" r="6"/>
<circle cx="1107" cy="242" r="6"/>
<circle cx="973" cy="371" r="6"/>
<circle cx="1121" cy="236" r="6"/>
<circle cx="1016" cy="255" r="6"/>
</g>
<g class="b">
<circle cx="1103" cy="251" r="6"/>
</g>
<g class="o">
<circle cx="1151" cy="311" r="6"/>
<circle cx="1149" cy="244" r="6"/>
<circle cx="1102" cy="244" r="6"/>
<circle cx="992" cy="408" r="6"/>
<circle cx="1128" cy="237" r="6"/>
<circle cx="1125" cy="255" r="6"/>
<circle cx="1110" cy="373" r="6"/>
<circle cx="786" cy="298" r="6"/>
<circle cx="1161" cy="265" r="6"/>
<circle cx="1072" cy="401" r="6"/>
<circle cx="1003" cy="328" r="6"/>
<circle cx="1201" cy="238" r="6"/>
</g>
<g class="b">
<circle cx="979" cy="214" r="6"/>
</g>
<g class="o">
<circle cx="991" cy="355" r="6"/>
<circle cx="973" cy="306" r="6"/>
<circle cx="1046" cy="419" r="6"/>
<circle cx="1029" cy="232" r="6"/>
<circle cx="1075" cy="235" r="6"/>
<circle cx="1007" cy="320" r="6"/>
<circle cx="1009" cy="305" r="6"/>
<circle cx="1169" cy="422" r="6"/>
<circle cx="1170" cy="313" r="6"/>
<circle cx="1094" cy="236" r="6"/>
<circle cx="1011" cy="319" r="6"/>
<circle cx="1167" cy="331" r="6"/>
</g>
<g class="b">
<circle cx="995" cy="274" r="6"/>
</g>
<g class="o">
<circle cx="1160" cy="250" r="6"/>
<circle cx="1007" cy="315" r="6"/>
<circle cx="1154" cy="272" r="6"/>
<circle cx="1116" cy="243" r="6"/>
<circle cx="960" cy="289" r="6"/>
<circle cx="958" cy="335" r="6"/>
</g>
<g class="b">
<circle cx="1131" cy="236" r="6"/>
</g>
<g class="o">
<circle cx="979" cy="331" r="6"/>
<circle cx="1161" cy="341" r="6"/>
<circle cx="1078" cy="385" r="6"/>
<circle cx="1017" cy="306" r="6"/>
<circle cx="1133" cy="380" r="6"/>
<circle cx="991" cy="316" r="6"/>
</g>
<g class="b">
<circle cx="1152" cy="236" r="6"/>
</g>
<g class="o">
<circle cx="984" cy="335" r="6"/>
</g>
<g class="b">
<circle cx="799" cy="292" r="6"/>
</g>
<g class="o">
<circle cx="1040" cy="229" r="6"/>
<circle cx="1038" cy="427" r="6"/>
<circle cx="962" cy="310" r="6"/>
</g>
<g class="b">
<circle cx="902" cy="279" r="6"/>
</g>
<g class="o">
<circle cx="880" cy="226" r="6"/>
<circle cx="1062" cy="416" r="6"/>
<circle cx="1035" cy="388" r="6"/>
<circle cx="1033" cy="360" r="6"/>
<circle cx="1016" cy="373" r="6"/>
<circle cx="968" cy="171" r="6"/>
<circle cx="975" cy="337" r="6"/>
<circle cx="1051" cy="444" r="6"/>
<circle cx="1053" cy="179" r="6"/>
<circle cx="1076" cy="241" r="6"/>
<circle cx="1147" cy="352" r="6"/>
<circle cx="989" cy="405" r="6"/>
<circle cx="894" cy="329" r="6"/>
<circle cx="1145" cy="273" r="6"/>
<circle cx="1169" cy="268" r="6"/>
<circle cx="1157" cy="264" r="6"/>
<circle cx="1011" cy="342" r="6"/>
<circle cx="983" cy="384" r="6"/>
<circle cx="971" cy="291" r="6"/>
<circle cx="988" cy="331" r="6"/>
</g>
<g class="b">
<circle cx="954" cy="283" r="6"/>
</g>
<g class="o">
<circle cx="1010" cy="316" r="6"/>
<circle cx="1118" cy="371" r="6"/>
<circle cx="1012" cy="319" r="6"/>
<circle cx="1083" cy="204" r="6"/>
<circle cx="1145" cy="285" r="6"/>
<circle cx="1135" cy="353" r="6"/>
<circle cx="1033" cy="227" r="6"/>
<circle cx="888" cy="150" r="6"/>
<circle cx="1052" cy="378" r="6"/>
<circle cx="1006" cy="296" r="6"/>
<circle cx="982" cy="321" r="6"/>
<circle cx="1020" cy="365" r="6"/>
<circle cx="1004" cy="258" r="6"/>
</g>
<g class="b">
<circle cx="1023" cy="364" r="6"/>
</g>
<g class="o">
<circle cx="1184" cy="326" r="6"/>
<circle cx="1163" cy="336" r="6"/>
<circle cx="1082" cy="382" r="6"/>
<circle cx="1175" cy="237" r="6"/>
</g>
<g class="b">
<circle cx="928" cy="422" r="6"/>
</g>
<g class="o">
<circle cx="1138" cy="261" r="6"/>
<circle cx="1141" cy="362" r="6"/>
<circle cx="1058" cy="240" r="6"/>
<circle cx="1159" cy="314" r="6"/>
<circle cx="1110" cy="245" r="6"/>
<circle cx="1043" cy="249" r="6"/>
<circle cx="1207" cy="374" r="6"/>
<circle cx="1149" cy="310" r="6"/>
<circle cx="1167" cy="302" r="6"/>
<circle cx="1145" cy="335" r="6"/>
<circle cx="1061" cy="397" r="6"/>
<circle cx="1100" cy="248" r="6"/>
<circle cx="923" cy="316" r="6"/>
<circle cx="1087" cy="241" r="6"/>
<circle cx="1169" cy="283" r="6"/>
<circle cx="1115" cy="380" r="6"/>
<circle cx="1158" cy="201" r="6"/>
<circle cx="1166" cy="300" r="6"/>
<circle cx="1163" cy="347" r="6"/>
<circle cx="1004" cy="322" r="6"/>
<circle cx="1104" cy="253" r="6"/>
<circle cx="1037" cy="227" r="6"/>
</g>
<g class="b">
<circle cx="1015" cy="237" r="6"/>
</g>
<g class="o">
<circle cx="1130" cy="253" r="6"/>
<circle cx="1078" cy="198" r="6"/>
</g>
<g class="b">
<circle cx="830" cy="294" r="6"/>
</g>
<g class="o">
<circle cx="914" cy="281" r="6"/>
<circle cx="1100" cy="368" r="6"/>
<circle cx="1001" cy="336" r="6"/>
<circle cx="1017" cy="349" r="6"/>
<circle cx="1015" cy="304" r="6"/>
<circle cx="1089" cy="238" r="6"/>
<circle cx="992" cy="198" r="6"/>
<circle cx="1117" cy="238" r="6"/>
<circle cx="987" cy="319" r="6"/>
<circle cx="1110" cy="405" r="6"/>
<circle cx="976" cy="279" r="6"/>
<circle cx="980" cy="352" r="6"/>
<circle cx="1181" cy="254" r="6"/>
<circle cx="1001" cy="351" r="6"/>
<circle cx="1079" cy="374" r="6"/>
<circle cx="1122" cy="251" r="6"/>
<circle cx="1064" cy="221" r="6"/>
<circle cx="948" cy="270" r="6"/>
<circle cx="1034" cy="249" r="6"/>
<circle cx="1000" cy="299" r="6"/>
<circle cx="1154" cy="388" r="6"/>
<circle cx="1088" cy="385" r="6"/>
<circle cx="1150" cy="337" r="6"/>
<circle cx="1021" cy="367" r="6"/>
<circle cx="1178" cy="256" r="6"/>
<circle cx="1133" cy="383" r="6"/>
</g>
<g class="b">
<circle cx="1027" cy="256" r="6"/>
</g>
<g class="o">
<circle cx="1070" cy="396" r="6"/>
<circle cx="1086" cy="227" r="6"/>
<circle cx="1007" cy="341" r="6"/>
</g>
<g class="b">
<circle cx="1173" cy="258" r="6"/>
</g>
<g class="o">
<circle cx="1036" cy="245" r="6"/>
</g>
<g class="b">
<circle cx="992" cy="276" r="6"/>
</g>
<g class="o">
<circle cx="1127" cy="263" r="6"/>
<circle cx="1173" cy="284" r="6"/>
<circle cx="935" cy="321" r="6"/>
<circle cx="1095" cy="255" r="6"/>
<circle cx="1169" cy="308" r="6"/>
<circle cx="1143" cy="261" r="6"/>
<circle cx="1155" cy="322" r="6"/>
<circle cx="1067" cy="226" r="6"/>
<circle cx="1110" cy="229" r="6"/>
<circle cx="1121" cy="237" r="6"/>
<circle cx="1006" cy="317" r="6"/>
</g>
<g class="b">
<circle cx="981" cy="250" r="6"/>
</g>
<g class="o">
<circle cx="1024" cy="255" r="6"/>
<circle cx="1112" cy="247" r="6"/>
<circle cx="1109" cy="370" r="6"/>
<circle cx="1054" cy="237" r="6"/>
<circle cx="949" cy="306" r="6"/>
<circle cx="1124" cy="226" r="6"/>
<circle cx="971" cy="314" r="6"/>
<circle cx="1037" cy="213" r="6"/>
<circle cx="1127" cy="382" r="6"/>
<circle cx="1112" cy="387" r="6"/>
</g>
<g class="b">
<circle cx="974" cy="276" r="6"/>
</g>
<g class="o">
<circle cx="1052" cy="407" r="6"/>
<circle cx="1094" cy="225" r="6"/>
<circle cx="990" cy="228" r="6"/>
<circle cx="1029" cy="375" r="6"/>
<circle cx="1022" cy="249" r="6"/>
<circle cx="1132" cy="263" r="6"/>
<circle cx="968" cy="330" r="6"/>
<circle cx="1095" cy="248" r="6"/>
<circle cx="1140" cy="334" r="6"/>
<circle cx="1048" cy="239" r="6"/>
<circle cx="1167" cy="405" r="6"/>
<circle cx="1010" cy="286" r="6"/>
<circle cx="1038" cy="248" r="6"/>
<circle cx="1106" cy="390" r="6"/>
<circle cx="1035" cy="242" r="6"/>
<circle cx="1085" cy="249" r="6"/>
<circle cx="1116" cy="250" r="6"/>
<circle cx="1014" cy="257" r="6"/>
<circle cx="1186" cy="320" r="6"/>
<circle cx="1181" cy="339" r="6"/>
<circle cx="1063" cy="230" r="6"/>
<circle cx="1160" cy="288" r="6"/>
<circle cx="1004" cy="375" r="6"/>
<circle cx="1161" cy="336" r="6"/>
<circle cx="925" cy="350" r="6"/>
<circle cx="1021" cy="227" r="6"/>
<circle cx="1130" cy="252" r="6"/>
</g>
<g class="b">
<circle cx="1015" cy="356" r="6"/>
</g>
<g class="o">
<circle cx="1052" cy="215" r="6"/>
<circle cx="977" cy="348" r="6"/>
<circle cx="1111" cy="244" r="6"/>
<circle cx="1087" cy="396" r="6"/>
<circle cx="1151" cy="309" r="6"/>
<circle cx="1098" cy="234" r="6"/>
<circle cx="1163" cy="336" r="6"/>
<circle cx="995" cy="288" r="6"/>
<circle cx="1143" cy="333" r="6"/>
<circle cx="934" cy="327" r="6"/>
<circle cx="1145" cy="246" r="6"/>
<circle cx="977" cy="290" r="6"/>
<circle cx="1121" cy="254" r="6"/>
<circle cx="1117" cy="245" r="6"/>
<circle cx="1036" cy="355" r="6"/>
<circle cx="1089" cy="420" r="6"/>
<circle cx="1038" cy="225" r="6"/>
<circle cx="1005" cy="409" r="6"/>
<circle cx="1076" cy="377" r="6"/>
<circle cx="990" cy="285" r="6"/>
<circle cx="1042" cy="387" r="6"/>
</g>
<g class="b">
<circle cx="941" cy="249" r="6"/>
</g>
<g class="o">
<circle cx="977" cy="347" r="6"/>
<circle cx="1153" cy="306" r="6"/>
<circle cx="1102" cy="213" r="6"/>
<circle cx="994" cy="283" r="6"/>
<circle cx="1144" cy="348" r="6"/>
<circle cx="1120" cy="255" r="6"/>
<circle cx="1107" cy="248" r="6"/>
<circle cx="1016" cy="289" r="6"/>
<circle cx="1062" cy="384" r="6"/>
<circle cx="1095" cy="384" r="6"/>
<circle cx="1095" cy="398" r="6"/>
<circle cx="1002" cy="249" r="6"/>
</g>
<g class="b">
<circle cx="982" cy="311" r="6"/>
</g>
<g class="o">
<circle cx="1056" cy="234" r="6"/>
<circle cx="1030" cy="248" r="6"/>
<circle cx="1145" cy="272" r="6"/>
</g>
<g class="b">
<circle cx="968" cy="336" r="6"/>
</g>
<g class="o">
<circle cx="1173" cy="260" r="6"/>
<circle cx="1003" cy="294" r="6"/>
<circle cx="1016" cy="300" r="6"/>
<circle cx="1191" cy="299" r="6"/>
<circle cx="1058" cy="243" r="6"/>
<circle cx="1083" cy="384" r="6"/>
<circle cx="1000" cy="304" r="6"/>
<circle cx="1111" cy="232" r="6"/>
<circle cx="1022" cy="367" r="6"/>
<circle cx="973" cy="303" r="6"/>
<circle cx="998" cy="303" r="6"/>
<circle cx="1156" cy="274" r="6"/>
<circle cx="1101" cy="261" r="6"/>
<circle cx="998" cy="278" r="6"/>
<circle cx="1144" cy="313" r="6"/>
</g>
<g class="b">
<circle cx="1094" cy="401" r="6"/>
</g>
<g class="o">
<circle cx="974" cy="245" r="6"/>
<circle cx="994" cy="264" r="6"/>
<circle cx="984" cy="330" r="6"/>
<circle cx="983" cy="271" r="6"/>
<circle cx="1045" cy="227" r="6"/>
</g>
<g class="b">
<circle cx="972" cy="263" r="6"/>
</g>
<g class="o">
<circle cx="1173" cy="289" r="6"/>
<circle cx="1168" cy="297" r="6"/>
<circle cx="1020" cy="261" r="6"/>
<circle cx="1162" cy="263" r="6"/>
<circle cx="1151" cy="263" r="6"/>
<circle cx="1105" cy="236" r="6"/>
<circle cx="1139" cy="270" r="6"/>
<circle cx="1008" cy="360" r="6"/>
<circle cx="1077" cy="234" r="6"/>
<circle cx="1023" cy="367" r="6"/>
<circle cx="914" cy="327" r="6"/>
<circle cx="1190" cy="349" r="6"/>
<circle cx="1116" cy="241" r="6"/>
<circle cx="1150" cy="244" r="6"/>
<circle cx="1172" cy="270" r="6"/>
<circle cx="999" cy="279" r="6"/>
<circle cx="1110" cy="246" r="6"/>
<circle cx="979" cy="325" r="6"/>
<circle cx="1179" cy="311" r="6"/>
<circle cx="1073" cy="231" r="6"/>
</g>
<g class="b">
<circle cx="1247" cy="309" r="6"/>
</g>
<g class="o">
<circle cx="1022" cy="254" r="6"/>
<circle cx="1163" cy="352" r="6"/>
<circle cx="988" cy="347" r="6"/>
<circle cx="1158" cy="330" r="6"/>
<circle cx="1059" cy="243" r="6"/>
<circle cx="1052" cy="222" r="6"/>
<circle cx="913" cy="373" r="6"/>
</g>
<g class="b">
<circle cx="1094" cy="242" r="6"/>
<circle cx="1000" cy="239" r="6"/>
</g>
<g class="o">
<circle cx="1099" cy="240" r="6"/>
<circle cx="1004" cy="373" r="6"/>
<circle cx="994" cy="307" r="6"/>
<circle cx="1043" cy="384" r="6"/>
<circle cx="1024" cy="361" r="6"/>
<circle cx="1121" cy="202" r="6"/>
<circle cx="1047" cy="395" r="6"/>
<circle cx="1079" cy="414" r="6"/>
<circle cx="994" cy="299" r="6"/>
<circle cx="1190" cy="323" r="6"/>
<circle cx="1071" cy="399" r="6"/>
<circle cx="1001" cy="276" r="6"/>
<circle cx="1011" cy="349" r="6"/>
<circle cx="1020" cy="237" r="6"/>
<circle cx="1054" cy="389" r="6"/>
<circle cx="1001" cy="337" r="6"/>
<circle cx="1084" cy="248" r="6"/>
<circle cx="1012" cy="359" r="6"/>
<circle cx="1174" cy="294" r="6"/>
</g>
<g class="b">
<circle cx="1036" cy="356" r="6"/>
</g>
<g class="o">
<circle cx="1082" cy="240" r="6"/>
<circle cx="1163" cy="320" r="6"/>
</g>
<g class="b">
<circle cx="942" cy="347" r="6"/>
</g>
<g class="o">
<circle cx="1146" cy="371" r="6"/>
<circle cx="976" cy="265" r="6"/>
<circle cx="1034" cy="356" r="6"/>
<circle cx="1062" cy="387" r="6"/>
<circle cx="1005" cy="293" r="6"/>
<circle cx="1004" cy="308" r="6"/>
<circle cx="1012" cy="253" r="6"/>
<circle cx="1125" cy="229" r="6"/>
<circle cx="1115" cy="374" r="6"/>
<circle cx="991" cy="268" r="6"/>
<circle cx="1112" cy="376" r="6"/>
<circle cx="1108" cy="379" r="6"/>
<circle cx="972" cy="290" r="6"/>
<circle cx="1013" cy="257" r="6"/>
<circle cx="1069" cy="381" r="6"/>
<circle cx="994" cy="320" r="6"/>
<circle cx="1135" cy="385" r="6"/>
</g>
<g class="b">
<circle cx="917" cy="460" r="6"/>
</g>
<g class="o">
<circle cx="990" cy="249" r="6"/>
<circle cx="977" cy="326" r="6"/>
<circle cx="1151" cy="323" r="6"/>
<circle cx="986" cy="374" r="6"/>
<circle cx="1149" cy="265" r="6"/>
<circle cx="1062" cy="241" r="6"/>
<circle cx="1004" cy="281" r="6"/>
<circle cx="1070" cy="393" r="6"/>
<circle cx="998" cy="231" r="6"/>
<circle cx="914" cy="203" r="6"/>
<circle cx="1083" cy="421" r="6"/>
</g>
<g class="b">
<circle cx="948" cy="289" r="6"/>
</g>
<g class="o">
<circle cx="1001" cy="365" r="6"/>
</g>
<g class="b">
<circle cx="1135" cy="250" r="6"/>
</g>
<g class="o">
<circle cx="954" cy="284" r="6"/>
<circle cx="1121" cy="425" r="6"/>
</g>
<g class="b">
<circle cx="1087" cy="394" r="6"/>
</g>
<g class="o">
<circle cx="1154" cy="338" r="6"/>
<circle cx="1009" cy="336" r="6"/>
<circle cx="999" cy="281" r="6"/>
<circle cx="976" cy="315" r="6"/>
<circle cx="995" cy="311" r="6"/>
<circle cx="1009" cy="326" r="6"/>
<circle cx="930" cy="346" r="6"/>
<circle cx="1099" cy="259" r="6"/>
<circle cx="962" cy="307" r="6"/>
<circle cx="970" cy="346" r="6"/>
<circle cx="929" cy="287" r="6"/>
<circle cx="1148" cy="370" r="6"/>
<circle cx="1046" cy="232" r="6"/>
<circle cx="1178" cy="242" r="6"/>
</g>
<g class="b">
<circle cx="1084" cy="243" r="6"/>
</g>
<g class="o">
<circle cx="958" cy="414" r="6"/>
<circle cx="1084" cy="242" r="6"/>
<circle cx="1118" cy="226" r="6"/>
<circle cx="988" cy="328" r="6"/>
<circle cx="1037" cy="356" r="6"/>
</g>
<g class="b">
<circle cx="998" cy="348" r="6"/>
</g>
<g class="o">
<circle cx="984" cy="333" r="6"/>
<circle cx="992" cy="262" r="6"/>
<circle cx="1147" cy="366" r="6"/>
<circle cx="1038" cy="377" r="6"/>
<circle cx="1102" cy="262" r="6"/>
<circle cx="1020" cy="226" r="6"/>
<circle cx="996" cy="280" r="6"/>
<circle cx="1141" cy="351" r="6"/>
<circle cx="1093" cy="253" r="6"/>
<circle cx="1097" cy="256" r="6"/>
</g>
<g class="b">
<circle cx="1000" cy="308" r="6"/>
</g>
<g class="o">
<circle cx="990" cy="394" r="6"/>
<circle cx="1162" cy="319" r="6"/>
<circle cx="930" cy="349" r="6"/>
<circle cx="1164" cy="249" r="6"/>
</g>
<g class="b">
<circle cx="937" cy="302" r="6"/>
</g>
<g class="o">
<circle cx="1133" cy="372" r="6"/>
</g>
<g class="b">
<circle cx="1053" cy="242" r="6"/>
</g>
<g class="o">
<circle cx="1108" cy="204" r="6"/>
<circle cx="1092" cy="393" r="6"/>
<circle cx="1142" cy="250" r="6"/>
<circle cx="1078" cy="196" r="6"/>
<circle cx="1019" cy="305" r="6"/>
<circle cx="1166" cy="352" r="6"/>
</g>
<g class="b">
<circle cx="990" cy="321" r="6"/>
</g>
<g class="o">
<circle cx="1145" cy="376" r="6"/>
<circle cx="975" cy="326" r="6"/>
<circle cx="1136" cy="337" r="6"/>
<circle cx="1116" cy="384" r="6"/>
<circle cx="1021" cy="259" r="6"/>
<circle cx="1007" cy="302" r="6"/>
<circle cx="1170" cy="308" r="6"/>
<circle cx="1022" cy="228" r="6"/>
<circle cx="1001" cy="379" r="6"/>
<circle cx="888" cy="306" r="6"/>
<circle cx="1017" cy="374" r="6"/>
<circle cx="1051" cy="421" r="6"/>
<circle cx="1156" cy="372" r="6"/>
<circle cx="1069" cy="211" r="6"/>
<circle cx="1023" cy="266" r="6"/>
</g>
<g class="b">
<circle cx="996" cy="348" r="6"/>
</g>
<g class="o">
<circle cx="1155" cy="200" r="6"/>
</g>
<g class="b">
<circle cx="1042" cy="363" r="6"/>
</g>
<g class="o">
<circle cx="1093" cy="218" r="6"/>
<circle cx="1033" cy="253" r="6"/>
<circle cx="1154" cy="236" r="6"/>
<circle cx="992" cy="238" r="6"/>
<circle cx="1163" cy="284" r="6"/>
<circle cx="997" cy="302" r="6"/>
<circle cx="1022" cy="350" r="6"/>
<circle cx="1128" cy="262" r="6"/>
<circle cx="966" cy="332" r="6"/>
<circle cx="1034" cy="246" r="6"/>
<circle cx="881" cy="168" r="6"/>
<circle cx="1052" cy="357" r="6"/>
<circle cx="1063" cy="379" r="6"/>
<circle cx="1047" cy="199" r="6"/>
</g>
<g class="b">
<circle cx="997" cy="445" r="6"/>
</g>
<g class="o">
<circle cx="1153" cy="423" r="6"/>
<circle cx="1063" cy="227" r="6"/>
<circle cx="1012" cy="286" r="6"/>
<circle cx="1099" cy="253" r="6"/>
<circle cx="1153" cy="308" r="6"/>
</g>
<g class="b">
<circle cx="1011" cy="321" r="6"/>
</g>
<g class="o">
<circle cx="1182" cy="299" r="6"/>
<circle cx="854" cy="363" r="6"/>
<circle cx="1140" cy="399" r="6"/>
<circle cx="1008" cy="342" r="6"/>
</g>
<g class="b">
<circle cx="1161" cy="366" r="6"/>
</g>
<g class="o">
<circle cx="932" cy="276" r="6"/>
<circle cx="1074" cy="248" r="6"/>
<circle cx="1067" cy="233" r="6"/>
<circle cx="998" cy="255" r="6"/>
<circle cx="1021" cy="286" r="6"/>
<circle cx="1072" cy="241" r="6"/>
<circle cx="1163" cy="345" r="6"/>
<circle cx="984" cy="271" r="6"/>
<circle cx="1038" cy="237" r="6"/>
<circle cx="1000" cy="565" r="6"/>
<circle cx="1035" cy="352" r="6"/>
<circle cx="1136" cy="261" r="6"/>
<circle cx="1088" cy="254" r="6"/>
</g>
<g class="b">
<circle cx="1166" cy="429" r="6"/>
</g>
<g class="o">
<circle cx="1013" cy="260" r="6"/>
<circle cx="1147" cy="311" r="6"/>
<circle cx="949" cy="292" r="6"/>
<circle cx="1060" cy="244" r="6"/>
<circle cx="1025" cy="383" r="6"/>
<circle cx="1247" cy="416" r="6"/>
<circle cx="1040" cy="351" r="6"/>
<circle cx="1068" cy="385" r="6"/>
<circle cx="1021" cy="289" r="6"/>
<circle cx="1108" cy="374" r="6"/>
<circle cx="989" cy="294" r="6"/>
<circle cx="1126" cy="248" r="6"/>
<circle cx="1102" cy="233" r="6"/>
<circle cx="1243" cy="348" r="6"/>
<circle cx="1014" cy="290" r="6"/>
</g>
<g class="b">
<circle cx="1027" cy="390" r="6"/>
</g>
<g class="o">
<circle cx="975" cy="318" r="6"/>
<circle cx="1031" cy="230" r="6"/>
<circle cx="1048" cy="242" r="6"/>
<circle cx="1115" cy="249" r="6"/>
</g>
<g class="b">
<circle cx="1141" cy="214" r="6"/>
</g>
<g class="o">
<circle cx="1013" cy="296" r="6"/>
<circle cx="1092" cy="241" r="6"/>
<circle cx="1018" cy="214" r="6"/>
<circle cx="977" cy="355" r="6"/>
<circle cx="1000" cy="361" r="6"/>
<circle cx="1170" cy="311" r="6"/>
<circle cx="1144" cy="315" r="6"/>
<circle cx="1048" cy="359" r="6"/>
<circle cx="979" cy="268" r="6"/>
<circle cx="1012" cy="297" r="6"/>
<circle cx="996" cy="282" r="6"/>
<circle cx="971" cy="271" r="6"/>
<circle cx="977" cy="295" r="6"/>
</g>
<g class="b">
<circle cx="973" cy="190" r="6"/>
</g>
<g class="o">
<circle cx="1124" cy="267" r="6"/>
<circle cx="1105" cy="393" r="6"/>
<circle cx="1010" cy="363" r="6"/>
<circle cx="1158" cy="278" r="6"/>
<circle cx="977" cy="325" r="6"/>
<circle cx="1017" cy="357" r="6"/>
<circle cx="1148" cy="307" r="6"/>
<circle cx="1133" cy="229" r="6"/>
<circle cx="968" cy="274" r="6"/>
<circle cx="1059" cy="391" r="6"/>
<circle cx="1098" cy="403" r="6"/>
<circle cx="1040" cy="243" r="6"/>
<circle cx="1081" cy="249" r="6"/>
<circle cx="1016" cy="247" r="6"/>
<circle cx="1170" cy="289" r="6"/>
<circle cx="1083" cy="237" r="6"/>
<circle cx="1019" cy="305" r="6"/>
<circle cx="1005" cy="286" r="6"/>
<circle cx="1014" cy="345" r="6"/>
<circle cx="1097" cy="370" r="6"/>
<circle cx="1060" cy="215" r="6"/>
<circle cx="1176" cy="273" r="6"/>
<circle cx="1141" cy="323" r="6"/>
<circle cx="1040" cy="377" r="6"/>
<circle cx="1052" cy="358" r="6"/>
<circle cx="1109" cy="256" r="6"/>
</g>
<g class="b">
<circle cx="1080" cy="157" r="6"/>
</g>
<g class="o">
<circle cx="1029" cy="254" r="6"/>
<circle cx="1158" cy="368" r="6"/>
<circle cx="1130" cy="262" r="6"/>
<circle cx="970" cy="322" r="6"/>
<circle cx="1111" cy="258" r="6"/>
<circle cx="977" cy="317" r="6"/>
<circle cx="1152" cy="334" r="6"/>
<circle cx="972" cy="294" r="6"/>
<circle cx="987" cy="227" r="6"/>
<circle cx="1048" cy="244" r="6"/>
</g>
<g class="b">
<circle cx="987" cy="342" r="6"/>
</g>
<g class="o">
<circle cx="1022" cy="251" r="6"/>
<circle cx="1029" cy="230" r="6"/>
<circle cx="1136" cy="266" r="6"/>
<circle cx="843" cy="355" r="6"/>
<circle cx="1100" cy="252" r="6"/>
<circle cx="1056" cy="230" r="6"/>
<circle cx="1031" cy="360" r="6"/>
<circle cx="1165" cy="279" r="6"/>
<circle cx="985" cy="296" r="6"/>
<circle cx="997" cy="412" r="6"/>
<circle cx="996" cy="361" r="6"/>
<circle cx="1119" cy="241" r="6"/>
<circle cx="988" cy="329" r="6"/>
<circle cx="1009" cy="251" r="6"/>
</g>
<g class="b">
<circle cx="1156" cy="312" r="6"/>
</g>
<g class="o">
<circle cx="1160" cy="349" r="6"/>
<circle cx="1172" cy="315" r="6"/>
<circle cx="947" cy="274" r="6"/>
<circle cx="1000" cy="351" r="6"/>
<circle cx="1021" cy="241" r="6"/>
</g>
<g class="b">
<circle cx="953" cy="211" r="6"/>
</g>
<g class="o">
<circle cx="967" cy="334" r="6"/>
</g>
<g class="b">
<circle cx="972" cy="335" r="6"/>
</g>
<g class="o">
<circle cx="1142" cy="354" r="6"/>
</g>
<g class="b">
<circle cx="1242" cy="374" r="6"/>
</g>
<g class="o">
<circle cx="1010" cy="299" r="6"/>
<circle cx="1029" cy="363" r="6"/>
<circle cx="1160" cy="328" r="6"/>
<circle cx="1037" cy="224" r="6"/>
<circle cx="974" cy="264" r="6"/>
<circle cx="1144" cy="349" r="6"/>
<circle cx="1086" cy="389" r="6"/>
<circle cx="1146" cy="283" r="6"/>
<circle cx="1054" cy="239" r="6"/>
<circle cx="914" cy="452" r="6"/>
<circle cx="1134" cy="270" r="6"/>
<circle cx="1167" cy="294" r="6"/>
<circle cx="1121" cy="370" r="6"/>
</g>
<g class="b">
<circle cx="976" cy="294" r="6"/>
</g>
<g class="o">
<circle cx="1182" cy="290" r="6"/>
<circle cx="992" cy="268" r="6"/>
<circle cx="1142" cy="339" r="6"/>
<circle cx="1060" cy="245" r="6"/>
<circle cx="1088" cy="226" r="6"/>
<circle cx="1090" cy="391" r="6"/>
<circle cx="1163" cy="362" r="6"/>
<circle cx="1169" cy="243" r="6"/>
<circle cx="1132" cy="261" r="6"/>
</g>
<g class="b">
<circle cx="1136" cy="331" r="6"/>
</g>
<g class="o">
<circle cx="1105" cy="384" r="6"/>
<circle cx="1114" cy="219" r="6"/>
<circle cx="1168" cy="290" r="6"/>
<circle cx="1208" cy="312" r="6"/>
<circle cx="1067" cy="222" r="6"/>
<circle cx="1138" cy="267" r="6"/>
<circle cx="1128" cy="247" r="6"/>
<circle cx="974" cy="357" r="6"/>
<circle cx="1161" cy="287" r="6"/>
<circle cx="1042" cy="379" r="6"/>
<circle cx="986" cy="282" r="6"/>
<circle cx="1147" cy="352" r="6"/>
<circle cx="1169" cy="321" r="6"/>
<circle cx="1170" cy="286" r="6"/>
<circle cx="973" cy="248" r="6"/>
<circle cx="1129" cy="243" r="6"/>
<circle cx="1078" cy="243" r="6"/>
</g>
<g class="b">
<circle cx="1042" cy="139" r="6"/>
</g>
<g class="o">
<circle cx="1003" cy="289" r="6"/>
<circle cx="1027" cy="380" r="6"/>
<circle cx="1161" cy="264" r="6"/>
<circle cx="1101" cy="389" r="6"/>
<circle cx="1100" cy="380" r="6"/>
<circle cx="1016" cy="358" r="6"/>
<circle cx="1006" cy="261" r="6"/>
<circle cx="1038" cy="383" r="6"/>
<circle cx="1146" cy="273" r="6"/>
<circle cx="1134" cy="242" r="6"/>
<circle cx="1024" cy="266" r="6"/>
<circle cx="1016" cy="305" r="6"/>
<circle cx="1139" cy="216" r="6"/>
<circle cx="1106" cy="254" r="6"/>
<circle cx="1192" cy="246" r="6"/>
</g>
<g class="b">
<circle cx="1004" cy="289" r="6"/>
</g>
<g class="o">
<circle cx="1006" cy="367" r="6"/>
<circle cx="1124" cy="245" r="6"/>
<circle cx="968" cy="253" r="6"/>
<circle cx="1105" cy="389" r="6"/>
</g>
<g class="b">
<circle cx="1127" cy="262" r="6"/>
</g>
<g class="o">
<circle cx="1059" cy="210" r="6"/>
</g>
<g class="b">
<circle cx="994" cy="344" r="6"/>
</g>
<g class="o">
<circle cx="1103" cy="190" r="6"/>
<circle cx="1105" cy="375" r="6"/>
<circle cx="1041" cy="226" r="6"/>
<circle cx="1118" cy="245" r="6"/>
<circle cx="1126" cy="331" r="6"/>
<circle cx="996" cy="332" r="6"/>
<circle cx="1085" cy="224" r="6"/>
<circle cx="1007" cy="380" r="6"/>
<circle cx="1016" cy="350" r="6"/>
<circle cx="1138" cy="242" r="6"/>
<circle cx="1155" cy="338" r="6"/>
<circle cx="1031" cy="218" r="6"/>
<circle cx="1143" cy="333" r="6"/>
<circle cx="917" cy="362" r="6"/>
<circle cx="1170" cy="313" r="6"/>
<circle cx="1002" cy="283" r="6"/>
<circle cx="1137" cy="238" r="6"/>
<circle cx="1037" cy="369" r="6"/>
<circle cx="1032" cy="350" r="6"/>
<circle cx="1013" cy="296" r="6"/>
<circle cx="968" cy="368" r="6"/>
<circle cx="1058" cy="403" r="6"/>
<circle cx="1104" cy="257" r="6"/>
<circle cx="1130" cy="273" r="6"/>
<circle cx="1002" cy="347" r="6"/>
</g>
<g class="b">
<circle cx="974" cy="351" r="6"/>
</g>
<g class="o">
<circle cx="1074" cy="218" r="6"/>
<circle cx="1041" cy="391" r="6"/>
<circle cx="994" cy="304" r="6"/>
<circle cx="1088" cy="253" r="6"/>
<circle cx="1147" cy="323" r="6"/>
<circle cx="1053" cy="421" r="6"/>
<circle cx="1032" cy="395" r="6"/>
<circle cx="1094" cy="253" r="6"/>
<circle cx="989" cy="316" r="6"/>
<circle cx="1108" cy="370" r="6"/>
<circle cx="1031" cy="350" r="6"/>
<circle cx="909" cy="321" r="6"/>
<circle cx="1152" cy="225" r="6"/>
<circle cx="929" cy="339" r="6"/>
</g>
<g class="b">
<circle cx="1083" cy="238" r="6"/>
<circle cx="992" cy="382" r="6"/>
</g>
<g class="o">
<circle cx="1101" cy="400" r="6"/>
</g>
<g class="b">
<circle cx="1101" cy="427" r="6"/>
</g>
<g class="o">
<circle cx="1168" cy="303" r="6"/>
<circle cx="1050" cy="247" r="6"/>
<circle cx="1040" cy="242" r="6"/>
</g>
<g class="b">
<circle cx="1024" cy="399" r="6"/>
</g>
<g class="o">
<circle cx="998" cy="320" r="6"/>
<circle cx="1004" cy="286" r="6"/>
<circle cx="1061" cy="246" r="6"/>
<circle cx="1083" cy="253" r="6"/>
<circle cx="1035" cy="356" r="6"/>
<circle cx="1165" cy="344" r="6"/>
<circle cx="989" cy="326" r="6"/>
<circle cx="996" cy="282" r="6"/>
<circle cx="1158" cy="271" r="6"/>
<circle cx="1019" cy="353" r="6"/>
<circle cx="1088" cy="407" r="6"/>
<circle cx="1081" cy="208" r="6"/>
<circle cx="1069" cy="398" r="6"/>
<circle cx="1040" cy="349" r="6"/>
<circle cx="1144" cy="331" r="6"/>
<circle cx="1204" cy="351" r="6"/>
<circle cx="994" cy="367" r="6"/>
<circle cx="1099" cy="225" r="6"/>
<circle cx="1058" cy="243" r="6"/>
<circle cx="1092" cy="399" r="6"/>
<circle cx="994" cy="336" r="6"/>
<circle cx="1043" cy="217" r="6"/>
<circle cx="1031" cy="359" r="6"/>
<circle cx="1087" cy="399" r="6"/>
<circle cx="1036" cy="262" r="6"/>
<circle cx="1096" cy="380" r="6"/>
<circle cx="1144" cy="330" r="6"/>
<circle cx="959" cy="304" r="6"/>
<circle cx="1050" cy="371" r="6"/>
<circle cx="1183" cy="384" r="6"/>
<circle cx="1045" cy="352" r="6"/>
<circle cx="954" cy="290" r="6"/>
<circle cx="1009" cy="329" r="6"/>
<circle cx="995" cy="276" r="6"/>
<circle cx="1138" cy="266" r="6"/>
<circle cx="983" cy="315" r="6"/>
<circle cx="1027" cy="249" r="6"/>
<circle cx="1119" cy="376" r="6"/>
<circle cx="1133" cy="377" r="6"/>
<circle cx="1189" cy="285" r="6"/>
<circle cx="1112" cy="216" r="6"/>
<circle cx="991" cy="308" r="6"/>
<circle cx="1083" cy="190" r="6"/>
<circle cx="1153" cy="331" r="6"/>
<circle cx="998" cy="372" r="6"/>
<circle cx="1023" cy="297" r="6"/>
<circle cx="1126" cy="424" r="6"/>
<circle cx="1063" cy="426" r="6"/>
<circle cx="1172" cy="306" r="6"/>
<circle cx="1160" cy="363" r="6"/>
<circle cx="995" cy="345" r="6"/>
<circle cx="1009" cy="303" r="6"/>
<circle cx="1031" cy="384" r="6"/>
<circle cx="1000" cy="299" r="6"/>
<circle cx="1020" cy="328" r="6"/>
<circle cx="1160" cy="299" r="6"/>
<circle cx="1090" cy="206" r="6"/>
<circle cx="1140" cy="322" r="6"/>
<circle cx="1099" cy="376" r="6"/>
<circle cx="1015" cy="320" r="6"/>
<circle cx="1116" cy="195" r="6"/>
<circle cx="1036" cy="350" r="6"/>
<circle cx="970" cy="308" r="6"/>
<circle cx="1137" cy="370" r="6"/>
<circle cx="1019" cy="289" r="6"/>
<circle cx="932" cy="366" r="6"/>
<circle cx="1135" cy="269" r="6"/>
<circle cx="926" cy="397" r="6"/>
<circle cx="1149" cy="280" r="6"/>
<circle cx="1158" cy="292" r="6"/>
<circle cx="1136" cy="411" r="6"/>
<circle cx="991" cy="388" r="6"/>
<circle cx="987" cy="273" r="6"/>
<circle cx="1007" cy="293" r="6"/>
<circle cx="1135" cy="259" r="6"/>
<circle cx="964" cy="359" r="6"/>
<circle cx="1127" cy="256" r="6"/>
<circle cx="1025" cy="396" r="6"/>
<circle cx="1133" cy="222" r="6"/>
<circle cx="1118" cy="258" r="6"/>
<circle cx="1061" cy="237" r="6"/>
<circle cx="1200" cy="306" r="6"/>
<circle cx="1135" cy="328" r="6"/>
<circle cx="1172" cy="255" r="6"/>
<circle cx="988" cy="250" r="6"/>
<circle cx="1132" cy="252" r="6"/>
<circle cx="1144" cy="289" r="6"/>
<circle cx="1020" cy="297" r="6"/>
<circle cx="1019" cy="346" r="6"/>
<circle cx="1076" cy="390" r="6"/>
<circle cx="1021" cy="303" r="6"/>
<circle cx="1030" cy="254" r="6"/>
<circle cx="1084" cy="248" r="6"/>
<circle cx="1127" cy="264" r="6"/>
<circle cx="1028" cy="218" r="6"/>
<circle cx="1014" cy="259" r="6"/>
<circle cx="1045" cy="364" r="6"/>
<circle cx="993" cy="235" r="6"/>
<circle cx="1170" cy="339" r="6"/>
<circle cx="1008" cy="254" r="6"/>
<circle cx="1007" cy="343" r="6"/>
<circle cx="995" cy="315" r="6"/>
<circle cx="1194" cy="335" r="6"/>
<circle cx="1136" cy="254" r="6"/>
<circle cx="1015" cy="354" r="6"/>
<circle cx="1092" cy="253" r="6"/>
<circle cx="1030" cy="433" r="6"/>
<circle cx="1010" cy="348" r="6"/>
<circle cx="1062" cy="234" r="6"/>
<circle cx="1154" cy="268" r="6"/>
<circle cx="1178" cy="282" r="6"/>
<circle cx="1123" cy="267" r="6"/>
<circle cx="1150" cy="275" r="6"/>
<circle cx="1078" cy="243" r="6"/>
<circle cx="983" cy="293" r="6"/>
<circle cx="1034" cy="393" r="6"/>
<circle cx="1012" cy="356" r="6"/>
<circle cx="1133" cy="322" r="6"/>
<circle cx="1136" cy="221" r="6"/>
<circle cx="1045" cy="357" r="6"/>
<circle cx="1096" cy="422" r="6"/>
<circle cx="1144" cy="358" r="6"/>
<circle cx="1029" cy="371" r="6"/>
<circle cx="1019" cy="228" r="6"/>
<circle cx="967" cy="333" r="6"/>
<circle cx="1142" cy="212" r="6"/>
<circle cx="1014" cy="317" r="6"/>
<circle cx="1188" cy="270" r="6"/>
<circle cx="1153" cy="285" r="6"/>
<circle cx="1181" cy="297" r="6"/>
<circle cx="1001" cy="345" r="6"/>
<circle cx="1121" cy="231" r="6"/>
<circle cx="1161" cy="332" r="6"/>
<circle cx="966" cy="366" r="6"/>
<circle cx="1022" cy="291" r="6"/>
<circle cx="1117" cy="240" r="6"/>
<circle cx="1146" cy="218" r="6"/>
<circle cx="1157" cy="327" r="6"/>
<circle cx="1062" cy="248" r="6"/>
<circle cx="994" cy="323" r="6"/>
<circle cx="1109" cy="198" r="6"/>
<circle cx="1020" cy="287" r="6"/>
<circle cx="1022" cy="296" r="6"/>
<circle cx="1211" cy="279" r="6"/>
<circle cx="1092" cy="248" r="6"/>
<circle cx="982" cy="282" r="6"/>
<circle cx="1099" cy="368" r="6"/>
<circle cx="1166" cy="251" r="6"/>
<circle cx="1075" cy="242" r="6"/>
<circle cx="1145" cy="385" r="6"/>
<circle cx="1126" cy="246" r="6"/>
<circle cx="1176" cy="287" r="6"/>
<circle cx="1153" cy="219" r="6"/>
<circle cx="1064" cy="223" r="6"/>
<circle cx="1036" cy="361" r="6"/>
<circle cx="1147" cy="280" r="6"/>
<circle cx="1020" cy="377" r="6"/>
<circle cx="1138" cy="266" r="6"/>
<circle cx="1217" cy="355" r="6"/>
<circle cx="950" cy="271" r="6"/>
<circle cx="1086" cy="245" r="6"/>
<circle cx="931" cy="348" r="6"/>
<circle cx="1154" cy="336" r="6"/>
<circle cx="978" cy="293" r="6"/>
<circle cx="1143" cy="314" r="6"/>
<circle cx="1102" cy="389" r="6"/>
<circle cx="1079" cy="392" r="6"/>
<circle cx="1037" cy="366" r="6"/>
<circle cx="1135" cy="222" r="6"/>
<circle cx="1081" cy="207" r="6"/>
<circle cx="997" cy="317" r="6"/>
<circle cx="1046" cy="352" r="6"/>
<circle cx="1057" cy="413" r="6"/>
<circle cx="1023" cy="361" r="6"/>
<circle cx="1189" cy="338" r="6"/>
<circle cx="959" cy="311" r="6"/>
<circle cx="1024" cy="363" r="6"/>
<circle cx="1057" cy="253" r="6"/>
<circle cx="1001" cy="371" r="6"/>
<circle cx="1005" cy="277" r="6"/>
<circle cx="1047" cy="386" r="6"/>
<circle cx="1055" cy="250" r="6"/>
<circle cx="1140" cy="331" r="6"/>
<circle cx="1036" cy="378" r="6"/>
<circle cx="1022" cy="347" r="6"/>
<circle cx="1049" cy="220" r="6"/>
<circle cx="1156" cy="326" r="6"/>
<circle cx="988" cy="391" r="6"/>
<circle cx="1090" cy="425" r="6"/>
<circle cx="944" cy="285" r="6"/>
<circle cx="1030" cy="253" r="6"/>
<circle cx="1150" cy="253" r="6"/>
<circle cx="972" cy="328" r="6"/>
<circle cx="1005" cy="289" r="6"/>
<circle cx="1124" cy="225" r="6"/>
<circle cx="1072" cy="427" r="6"/>
<circle cx="1168" cy="311" r="6"/>
<circle cx="1178" cy="331" r="6"/>
<circle cx="1015" cy="324" r="6"/>
<circle cx="1076" cy="233" r="6"/>
<circle cx="1016" cy="354" r="6"/>
<circle cx="1043" cy="351" r="6"/>
<circle cx="1084" cy="251" r="6"/>
<circle cx="970" cy="286" r="6"/>
<circle cx="1167" cy="291" r="6"/>
<circle cx="1122" cy="209" r="6"/>
<circle cx="1164" cy="290" r="6"/>
<circle cx="1016" cy="303" r="6"/>
<circle cx="1171" cy="313" r="6"/>
<circle cx="1011" cy="359" r="6"/>
<circle cx="1126" cy="202" r="6"/>
<circle cx="1161" cy="252" r="6"/>
<circle cx="1043" cy="369" r="6"/>
<circle cx="994" cy="337" r="6"/>
<circle cx="1020" cy="369" r="6"/>
<circle cx="1135" cy="360" r="6"/>
<circle cx="1098" cy="247" r="6"/>
<circle cx="1100" cy="229" r="6"/>
<circle cx="1130" cy="215" r="6"/>
<circle cx="1007" cy="314" r="6"/>
<circle cx="1177" cy="206" r="6"/>
<circle cx="892" cy="365" r="6"/>
<circle cx="1026" cy="358" r="6"/>
<circle cx="1076" cy="226" r="6"/>
<circle cx="1011" cy="286" r="6"/>
<circle cx="990" cy="317" r="6"/>
<circle cx="1021" cy="389" r="6"/>
<circle cx="1125" cy="258" r="6"/>
<circle cx="1035" cy="384" r="6"/>
<circle cx="1128" cy="338" r="6"/>
<circle cx="1004" cy="316" r="6"/>
<circle cx="1123" cy="224" r="6"/>
<circle cx="1014" cy="329" r="6"/>
<circle cx="968" cy="272" r="6"/>
<circle cx="1006" cy="361" r="6"/>
<circle cx="989" cy="382" r="6"/>
<circle cx="1129" cy="258" r="6"/>
<circle cx="1174" cy="373" r="6"/>
<circle cx="1046" cy="249" r="6"/>
<circle cx="1016" cy="256" r="6"/>
<circle cx="1035" cy="238" r="6"/>
<circle cx="1060" cy="248" r="6"/>
<circle cx="991" cy="302" r="6"/>
<circle cx="1155" cy="303" r="6"/>
<circle cx="1056" cy="244" r="6"/>
<circle cx="1051" cy="397" r="6"/>
<circle cx="1099" cy="253" r="6"/>
<circle cx="1114" cy="208" r="6"/>
<circle cx="1161" cy="294" r="6"/>
<circle cx="1025" cy="368" r="6"/>
<circle cx="1114" cy="376" r="6"/>
<circle cx="1032" cy="369" r="6"/>
<circle cx="1051" cy="414" r="6"/>
<circle cx="1050" cy="216" r="6"/>
<circle cx="1122" cy="383" r="6"/>
<circle cx="1149" cy="259" r="6"/>
<circle cx="1095" cy="243" r="6"/>
<circle cx="1056" cy="233" r="6"/>
<circle cx="1158" cy="246" r="6"/>
<circle cx="1095" cy="390" r="6"/>
<circle cx="1010" cy="327" r="6"/>
<circle cx="947" cy="295" r="6"/>
<circle cx="1065" cy="230" r="6"/>
<circle cx="954" cy="298" r="6"/>
<circle cx="1086" cy="230" r="6"/>
<circle cx="1047" cy="245" r="6"/>
<circle cx="1095" cy="384" r="6"/>
<circle cx="1149" cy="245" r="6"/>
<circle cx="1074" cy="374" r="6"/>
<circle cx="1049" cy="368" r="6"/>
<circle cx="1147" cy="369" r="6"/>
<circle cx="1015" cy="329" r="6"/>
<circle cx="1011" cy="259" r="6"/>
<circle cx="1136" cy="324" r="6"/>
<circle cx="991" cy="335" r="6"/>
<circle cx="1095" cy="372" r="6"/>
<circle cx="1175" cy="373" r="6"/>
<circle cx="956" cy="341" r="6"/>
<circle cx="1136" cy="327" r="6"/>
<circle cx="1132" cy="372" r="6"/>
<circle cx="946" cy="324" r="6"/>
<circle cx="1078" cy="244" r="6"/>
<circle cx="1152" cy="263" r="6"/>
<circle cx="1057" cy="382" r="6"/>
<circle cx="1036" cy="383" r="6"/>
<circle cx="1058" cy="252" r="6"/>
<circle cx="1042" cy="351" r="6"/>
<circle cx="1112" cy="398" r="6"/>
<circle cx="1116" cy="244" r="6"/>
<circle cx="1004" cy="280" r="6"/>
<circle cx="1042" cy="206" r="6"/>
<circle cx="1080" cy="384" r="6"/>
<circle cx="983" cy="336" r="6"/>
<circle cx="979" cy="308" r="6"/>
<circle cx="937" cy="326" r="6"/>
<circle cx="1026" cy="247" r="6"/>
<circle cx="1006" cy="290" r="6"/>
<circle cx="1002" cy="341" r="6"/>
<circle cx="1042" cy="366" r="6"/>
<circle cx="1142" cy="253" r="6"/>
<circle cx="1075" cy="241" r="6"/>
<circle cx="1095" cy="220" r="6"/>
<circle cx="1104" cy="257" r="6"/>
<circle cx="1167" cy="314" r="6"/>
<circle cx="1152" cy="249" r="6"/>
<circle cx="987" cy="310" r="6"/>
<circle cx="971" cy="239" r="6"/>
<circle cx="1160" cy="315" r="6"/>
<circle cx="1027" cy="380" r="6"/>
<circle cx="1185" cy="322" r="6"/>
<circle cx="1093" cy="387" r="6"/>
<circle cx="1105" cy="380" r="6"/>
<circle cx="1007" cy="301" r="6"/>
<circle cx="1016" cy="252" r="6"/>
<circle cx="1146" cy="324" r="6"/>
<circle cx="989" cy="287" r="6"/>
<circle cx="1083" cy="252" r="6"/>
<circle cx="1028" cy="238" r="6"/>
<circle cx="1147" cy="326" r="6"/>
<circle cx="1153" cy="346" r="6"/>
<circle cx="971" cy="301" r="6"/>
<circle cx="1131" cy="326" r="6"/>
<circle cx="1148" cy="338" r="6"/>
<circle cx="1043" cy="243" r="6"/>
<circle cx="1077" cy="392" r="6"/>
<circle cx="1129" cy="375" r="6"/>
<circle cx="998" cy="303" r="6"/>
<circle cx="1015" cy="290" r="6"/>
<circle cx="1104" cy="261" r="6"/>
<circle cx="1135" cy="351" r="6"/>
<circle cx="1123" cy="220" r="6"/>
<circle cx="1152" cy="303" r="6"/>
<circle cx="1070" cy="386" r="6"/>
<circle cx="1016" cy="256" r="6"/>
<circle cx="989" cy="374" r="6"/>
<circle cx="992" cy="343" r="6"/>
<circle cx="1106" cy="222" r="6"/>
<circle cx="1153" cy="190" r="6"/>
<circle cx="986" cy="342" r="6"/>
<circle cx="1081" cy="387" r="6"/>
<circle cx="878" cy="322" r="6"/>
<circle cx="1104" cy="404" r="6"/>
<circle cx="1059" cy="244" r="6"/>
<circle cx="996" cy="369" r="6"/>
<circle cx="1182" cy="286" r="6"/>
<circle cx="1153" cy="310" r="6"/>
<circle cx="1039" cy="392" r="6"/>
<circle cx="1137" cy="331" r="6"/>
<circle cx="995" cy="345" r="6"/>
<circle cx="1048" cy="231" r="6"/>
<circle cx="1127" cy="245" r="6"/>
<circle cx="995" cy="292" r="6"/>
<circle cx="1074" cy="238" r="6"/>
<circle cx="997" cy="300" r="6"/>
<circle cx="952" cy="339" r="6"/>
<circle cx="1187" cy="242" r="6"/>
<circle cx="1006" cy="369" r="6"/>
<circle cx="1121" cy="236" r="6"/>
<circle cx="1029" cy="259" r="6"/>
<circle cx="1144" cy="329" r="6"/>
<circle cx="1107" cy="245" r="6"/>
<circle cx="1117" cy="264" r="6"/>
<circle cx="999" cy="318" r="6"/>
<circle cx="1136" cy="240" r="6"/>
<circle cx="1012" cy="327" r="6"/>
<circle cx="1054" cy="390" r="6"/>
<circle cx="1110" cy="198" r="6"/>
<circle cx="971" cy="231" r="6"/>
<circle cx="1011" cy="286" r="6"/>
<circle cx="1132" cy="259" r="6"/>
<circle cx="1120" cy="232" r="6"/>
<circle cx="1167" cy="356" r="6"/>
<circle cx="1161" cy="361" r="6"/>
<circle cx="1109" cy="224" r="6"/>
<circle cx="1029" cy="266" r="6"/>
<circle cx="1008" cy="343" r="6"/>
<circle cx="975" cy="319" r="6"/>
<circle cx="1103" cy="379" r="6"/>
<circle cx="1008" cy="335" r="6"/>
<circle cx="1161" cy="291" r="6"/>
<circle cx="1038" cy="367" r="6"/>
<circle cx="1052" cy="227" r="6"/>
<circle cx="1144" cy="335" r="6"/>
<circle cx="1022" cy="303" r="6"/>
<circle cx="1051" cy="369" r="6"/>
<circle cx="1151" cy="341" r="6"/>
<circle cx="1148" cy="273" r="6"/>
<circle cx="1168" cy="288" r="6"/>
<circle cx="1006" cy="228" r="6"/>
<circle cx="1163" cy="321" r="6"/>
<circle cx="1072" cy="416" r="6"/>
<circle cx="1163" cy="290" r="6"/>
<circle cx="1056" cy="253" r="6"/>
<circle cx="1137" cy="208" r="6"/>
<circle cx="1106" cy="261" r="6"/>
<circle cx="986" cy="289" r="6"/>
<circle cx="1020" cy="301" r="6"/>
<circle cx="1037" cy="370" r="6"/>
<circle cx="977" cy="230" r="6"/>
<circle cx="1133" cy="325" r="6"/>
<circle cx="985" cy="297" r="6"/>
<circle cx="1190" cy="275" r="6"/>
<circle cx="1079" cy="225" r="6"/>
<circle cx="1018" cy="318" r="6"/>
<circle cx="1154" cy="303" r="6"/>
<circle cx="1123" cy="239" r="6"/>
<circle cx="1119" cy="268" r="6"/>
<circle cx="1019" cy="322" r="6"/>
<circle cx="915" cy="361" r="6"/>
<circle cx="1102" cy="204" r="6"/>
<circle cx="1155" cy="292" r="6"/>
<circle cx="1000" cy="338" r="6"/>
<circle cx="1051" cy="361" r="6"/>
<circle cx="1009" cy="322" r="6"/>
<circle cx="1095" cy="251" r="6"/>
<circle cx="1150" cy="278" r="6"/>
<circle cx="1126" cy="382" r="6"/>
<circle cx="1078" cy="224" r="6"/>
<circle cx="1039" cy="220" r="6"/>
<circle cx="1151" cy="375" r="6"/>
<circle cx="1047" cy="373" r="6"/>
<circle cx="968" cy="226" r="6"/>
<circle cx="1007" cy="279" r="6"/>
<circle cx="1168" cy="261" r="6"/>
<circle cx="1128" cy="223" r="6"/>
<circle cx="917" cy="342" r="6"/>
<circle cx="947" cy="346" r="6"/>
<circle cx="1057" cy="246" r="6"/>
<circle cx="1031" cy="352" r="6"/>
<circle cx="1006" cy="322" r="6"/>
<circle cx="1024" cy="244" r="6"/>
<circle cx="945" cy="306" r="6"/>
<circle cx="1132" cy="254" r="6"/>
<circle cx="1177" cy="246" r="6"/>
<circle cx="1176" cy="341" r="6"/>
<circle cx="1007" cy="287" r="6"/>
<circle cx="1153" cy="234" r="6"/>
<circle cx="1153" cy="371" r="6"/>
<circle cx="949" cy="368" r="6"/>
<circle cx="1022" cy="361" r="6"/>
<circle cx="1146" cy="255" r="6"/>
<circle cx="1092" cy="397" r="6"/>
<circle cx="1109" cy="381" r="6"/>
<circle cx="1027" cy="203" r="6"/>
<circle cx="1088" cy="251" r="6"/>
<circle cx="996" cy="406" r="6"/>
<circle cx="1101" cy="223" r="6"/>
<circle cx="993" cy="368" r="6"/>
<circle cx="1127" cy="337" r="6"/>
<circle cx="991" cy="268" r="6"/>
<circle cx="1014" cy="365" r="6"/>
<circle cx="1153" cy="345" r="6"/>
<circle cx="989" cy="286" r="6"/>
<circle cx="1034" cy="368" r="6"/>
<circle cx="1085" cy="239" r="6"/>
<circle cx="1161" cy="381" r="6"/>
<circle cx="1037" cy="429" r="6"/>
<circle cx="1046" cy="243" r="6"/>
<circle cx="907" cy="247" r="6"/>
<circle cx="1095" cy="392" r="6"/>
<circle cx="991" cy="304" r="6"/>
<circle cx="1169" cy="290" r="6"/>
<circle cx="1123" cy="403" r="6"/>
<circle cx="1124" cy="271" r="6"/>
<circle cx="1142" cy="337" r="6"/>
<circle cx="1081" cy="240" r="6"/>
<circle cx="1077" cy="227" r="6"/>
<circle cx="1011" cy="315" r="6"/>
<circle cx="1128" cy="269" r="6"/>
<circle cx="1145" cy="353" r="6"/>
<circle cx="1046" cy="359" r="6"/>
<circle cx="1089" cy="241" r="6"/>
<circle cx="1001" cy="330" r="6"/>
<circle cx="1133" cy="335" r="6"/>
<circle cx="984" cy="373" r="6"/>
<circle cx="1019" cy="364" r="6"/>
<circle cx="1117" cy="229" r="6"/>
<circle cx="1003" cy="345" r="6"/>
<circle cx="1017" cy="370" r="6"/>
<circle cx="913" cy="324" r="6"/>
<circle cx="1176" cy="377" r="6"/>
<circle cx="1034" cy="252" r="6"/>
<circle cx="1052" cy="226" r="6"/>
<circle cx="1026" cy="294" r="6"/>
<circle cx="1139" cy="338" r="6"/>
<circle cx="1008" cy="310" r="6"/>
<circle cx="974" cy="377" r="6"/>
<circle cx="1128" cy="373" r="6"/>
<circle cx="970" cy="333" r="6"/>
<circle cx="1088" cy="406" r="6"/>
<circle cx="1057" cy="393" r="6"/>
<circle cx="1150" cy="304" r="6"/>
<circle cx="1183" cy="362" r="6"/>
<circle cx="1006" cy="314" r="6"/>
<circle cx="1000" cy="317" r="6"/>
<circle cx="1052" cy="368" r="6"/>
<circle cx="985" cy="263" r="6"/>
<circle cx="1131" cy="265" r="6"/>
<circle cx="1147" cy="370" r="6"/>
<circle cx="946" cy="266" r="6"/>
<circle cx="1112" cy="249" r="6"/>
<circle cx="1144" cy="319" r="6"/>
<circle cx="1028" cy="257" r="6"/>
<circle cx="1132" cy="353" r="6"/>
<circle cx="1126" cy="329" r="6"/>
<circle cx="1054" cy="239" r="6"/>
<circle cx="1116" cy="227" r="6"/>
<circle cx="1012" cy="316" r="6"/>
<circle cx="1036" cy="205" r="6"/>
<circle cx="1075" cy="244" r="6"/>
<circle cx="1158" cy="364" r="6"/>
<circle cx="944" cy="296" r="6"/>
<circle cx="1084" cy="404" r="6"/>
<circle cx="989" cy="295" r="6"/>
<circle cx="1104" cy="248" r="6"/>
<circle cx="1011" cy="233" r="6"/>
<circle cx="1154" cy="302" r="6"/>
<circle cx="1105" cy="188" r="6"/>
<circle cx="1134" cy="263" r="6"/>
<circle cx="1040" cy="237" r="6"/>
<circle cx="1000" cy="277" r="6"/>
<circle cx="1071" cy="209" r="6"/>
<circle cx="1161" cy="267" r="6"/>
<circle cx="1151" cy="334" r="6"/>
<circle cx="1022" cy="351" r="6"/>
<circle cx="1104" cy="221" r="6"/>
<circle cx="994" cy="336" r="6"/>
<circle cx="1132" cy="332" r="6"/>
<circle cx="1097" cy="426" r="6"/>
<circle cx="1139" cy="246" r="6"/>
<circle cx="1022" cy="366" r="6"/>
<circle cx="1134" cy="264" r="6"/>
<circle cx="1118" cy="230" r="6"/>
<circle cx="1128" cy="265" r="6"/>
<circle cx="1029" cy="394" r="6"/>
<circle cx="1136" cy="342" r="6"/>
<circle cx="1174" cy="347" r="6"/>
<circle cx="1097" cy="233" r="6"/>
<circle cx="1104" cy="382" r="6"/>
<circle cx="1033" cy="263" r="6"/>
<circle cx="1026" cy="296" r="6"/>
<circle cx="976" cy="324" r="6"/>
<circle cx="1161" cy="323" r="6"/>
<circle cx="1146" cy="242" r="6"/>
<circle cx="1149" cy="314" r="6"/>
<circle cx="1150" cy="315" r="6"/>
<circle cx="1148" cy="311" r="6"/>
<circle cx="1108" cy="254" r="6"/>
<circle cx="992" cy="337" r="6"/>
<circle cx="1061" cy="417" r="6"/>
<circle cx="1117" cy="228" r="6"/>
<circle cx="1086" cy="387" r="6"/>
<circle cx="1170" cy="335" r="6"/>
<circle cx="1180" cy="262" r="6"/>
<circle cx="1032" cy="238" r="6"/>
<circle cx="1153" cy="262" r="6"/>
<circle cx="1048" cy="243" r="6"/>
<circle cx="1040" cy="375" r="6"/>
<circle cx="1051" cy="379" r="6"/>
<circle cx="958" cy="272" r="6"/>
<circle cx="1003" cy="361" r="6"/>
<circle cx="1134" cy="372" r="6"/>
<circle cx="1148" cy="321" r="6"/>
<circle cx="1105" cy="255" r="6"/>
<circle cx="1094" cy="220" r="6"/>
<circle cx="990" cy="343" r="6"/>
<circle cx="1219" cy="374" r="6"/>
<circle cx="1025" cy="293" r="6"/>
<circle cx="1027" cy="367" r="6"/>
<circle cx="1101" cy="223" r="6"/>
<circle cx="1080" cy="236" r="6"/>
<circle cx="1014" cy="294" r="6"/>
<circle cx="1127" cy="190" r="6"/>
<circle cx="1008" cy="302" r="6"/>
<circle cx="1120" cy="256" r="6"/>
<circle cx="951" cy="325" r="6"/>
<circle cx="970" cy="296" r="6"/>
<circle cx="1052" cy="250" r="6"/>
<circle cx="1122" cy="372" r="6"/>
<circle cx="1025" cy="257" r="6"/>
<circle cx="1120" cy="269" r="6"/>
<circle cx="1081" cy="398" r="6"/>
<circle cx="1024" cy="370" r="6"/>
<circle cx="1158" cy="286" r="6"/>
<circle cx="1121" cy="224" r="6"/>
<circle cx="1027" cy="264" r="6"/>
<circle cx="1004" cy="310" r="6"/>
<circle cx="1098" cy="382" r="6"/>
<circle cx="1136" cy="262" r="6"/>
<circle cx="1144" cy="374" r="6"/>
<circle cx="1153" cy="265" r="6"/>
<circle cx="1001" cy="260" r="6"/>
<circle cx="1041" cy="360" r="6"/>
<circle cx="1040" cy="352" r="6"/>
<circle cx="1004" cy="281" r="6"/>
<circle cx="1170" cy="310" r="6"/>
<circle cx="953" cy="241" r="6"/>
<circle cx="1174" cy="330" r="6"/>
<circle cx="1044" cy="362" r="6"/>
<circle cx="968" cy="374" r="6"/>
<circle cx="988" cy="322" r="6"/>
<circle cx="1085" cy="209" r="6"/>
<circle cx="1021" cy="298" r="6"/>
<circle cx="1132" cy="333" r="6"/>
<circle cx="1035" cy="263" r="6"/>
<circle cx="1061" cy="386" r="6"/>
<circle cx="1095" cy="251" r="6"/>
<circle cx="1007" cy="286" r="6"/>
<circle cx="1066" cy="413" r="6"/>
<circle cx="1151" cy="322" r="6"/>
<circle cx="1139" cy="214" r="6"/>
<circle cx="1139" cy="338" r="6"/>
<circle cx="1011" cy="208" r="6"/>
<circle cx="1044" cy="227" r="6"/>
<circle cx="1032" cy="251" r="6"/>
<circle cx="1095" cy="192" r="6"/>
<circle cx="1034" cy="254" r="6"/>
<circle cx="1106" cy="230" r="6"/>
<circle cx="1008" cy="376" r="6"/>
<circle cx="1024" cy="360" r="6"/>
<circle cx="1033" cy="352" r="6"/>
<circle cx="1148" cy="253" r="6"/>
<circle cx="1072" cy="239" r="6"/>
<circle cx="1022" cy="324" r="6"/>
<circle cx="1031" cy="253" r="6"/>
<circle cx="1000" cy="288" r="6"/>
<circle cx="1126" cy="266" r="6"/>
<circle cx="1108" cy="259" r="6"/>
<circle cx="1022" cy="392" r="6"/>
<circle cx="986" cy="329" r="6"/>
<circle cx="1077" cy="234" r="6"/>
<circle cx="1017" cy="355" r="6"/>
<circle cx="994" cy="260" r="6"/>
<circle cx="1051" cy="247" r="6"/>
<circle cx="1012" cy="479" r="6"/>
<circle cx="997" cy="346" r="6"/>
<circle cx="986" cy="278" r="6"/>
<circle cx="992" cy="291" r="6"/>
<circle cx="1009" cy="369" r="6"/>
<circle cx="1102" cy="385" r="6"/>
<circle cx="1133" cy="327" r="6"/>
<circle cx="1009" cy="355" r="6"/>
<circle cx="1111" cy="392" r="6"/>
<circle cx="1200" cy="303" r="6"/>
<circle cx="1041" cy="386" r="6"/>
<circle cx="970" cy="303" r="6"/>
<circle cx="1024" cy="242" r="6"/>
<circle cx="1100" cy="381" r="6"/>
<circle cx="1107" cy="445" r="6"/>
<circle cx="1020" cy="381" r="6"/>
<circle cx="1016" cy="359" r="6"/>
<circle cx="1011" cy="284" r="6"/>
<circle cx="1006" cy="327" r="6"/>
<circle cx="1154" cy="312" r="6"/>
<circle cx="1061" cy="220" r="6"/>
<circle cx="1092" cy="244" r="6"/>
<circle cx="1070" cy="404" r="6"/>
<circle cx="1010" cy="257" r="6"/>
<circle cx="1130" cy="245" r="6"/>
<circle cx="1110" cy="224" r="6"/>
<circle cx="1031" cy="383" r="6"/>
<circle cx="1013" cy="256" r="6"/>
<circle cx="935" cy="305" r="6"/>
<circle cx="1145" cy="318" r="6"/>
<circle cx="1127" cy="375" r="6"/>
<circle cx="1079" cy="239" r="6"/>
<circle cx="1113" cy="242" r="6"/>
<circle cx="1154" cy="308" r="6"/>
<circle cx="1183" cy="290" r="6"/>
<circle cx="1184" cy="258" r="6"/>
<circle cx="1022" cy="375" r="6"/>
<circle cx="1020" cy="378" r="6"/>
<circle cx="1140" cy="330" r="6"/>
<circle cx="1083" cy="251" r="6"/>
<circle cx="1029" cy="266" r="6"/>
<circle cx="1029" cy="363" r="6"/>
<circle cx="1013" cy="320" r="6"/>
<circle cx="1032" cy="402" r="6"/>
<circle cx="1024" cy="359" r="6"/>
<circle cx="1141" cy="424" r="6"/>
<circle cx="1036" cy="238" r="6"/>
<circle cx="1161" cy="266" r="6"/>
<circle cx="965" cy="350" r="6"/>
<circle cx="1004" cy="257" r="6"/>
<circle cx="1048" cy="378" r="6"/>
<circle cx="1140" cy="331" r="6"/>
<circle cx="1151" cy="286" r="6"/>
<circle cx="1106" cy="195" r="6"/>
<circle cx="1040" cy="379" r="6"/>
<circle cx="977" cy="342" r="6"/>
<circle cx="1176" cy="342" r="6"/>
<circle cx="1102" cy="215" r="6"/>
<circle cx="990" cy="352" r="6"/>
<circle cx="1187" cy="235" r="6"/>
<circle cx="1005" cy="300" r="6"/>
<circle cx="1020" cy="258" r="6"/>
<circle cx="1109" cy="246" r="6"/>
<circle cx="976" cy="275" r="6"/>
<circle cx="1130" cy="332" r="6"/>
<circle cx="1155" cy="336" r="6"/>
<circle cx="915" cy="377" r="6"/>
<circle cx="1126" cy="270" r="6"/>
<circle cx="1105" cy="368" r="6"/>
<circle cx="1030" cy="376" r="6"/>
<circle cx="1005" cy="333" r="6"/>
<circle cx="988" cy="326" r="6"/>
<circle cx="1127" cy="261" r="6"/>
<circle cx="1167" cy="307" r="6"/>
<circle cx="976" cy="321" r="6"/>
<circle cx="981" cy="316" r="6"/>
<circle cx="1184" cy="309" r="6"/>
<circle cx="1109" cy="376" r="6"/>
<circle cx="1020" cy="296" r="6"/>
<circle cx="1099" cy="372" r="6"/>
<circle cx="1083" cy="387" r="6"/>
<circle cx="938" cy="311" r="6"/>
<circle cx="1145" cy="314" r="6"/>
<circle cx="1126" cy="216" r="6"/>
<circle cx="1113" cy="241" r="6"/>
<circle cx="1120" cy="265" r="6"/>
<circle cx="1106" cy="236" r="6"/>
<circle cx="1083" cy="394" r="6"/>
<circle cx="991" cy="309" r="6"/>
<circle cx="1053" cy="385" r="6"/>
<circle cx="1001" cy="375" r="6"/>
<circle cx="1109" cy="236" r="6"/>
<circle cx="1096" cy="240" r="6"/>
<circle cx="1055" cy="383" r="6"/>
<circle cx="972" cy="323" r="6"/>
<circle cx="1089" cy="247" r="6"/>
<circle cx="964" cy="346" r="6"/>
<circle cx="1131" cy="327" r="6"/>
<circle cx="1080" cy="412" r="6"/>
<circle cx="1139" cy="224" r="6"/>
<circle cx="1074" cy="212" r="6"/>
<circle cx="1114" cy="240" r="6"/>
<circle cx="1154" cy="357" r="6"/>
<circle cx="1078" cy="408" r="6"/>
<circle cx="1174" cy="368" r="6"/>
<circle cx="1135" cy="377" r="6"/>
<circle cx="1057" cy="397" r="6"/>
<circle cx="1029" cy="254" r="6"/>
<circle cx="1003" cy="296" r="6"/>
<circle cx="1017" cy="325" r="6"/>
<circle cx="1121" cy="387" r="6"/>
<circle cx="1156" cy="375" r="6"/>
<circle cx="1062" cy="383" r="6"/>
<circle cx="1152" cy="357" r="6"/>
<circle cx="1112" cy="227" r="6"/>
<circle cx="1002" cy="344" r="6"/>
<circle cx="1151" cy="217" r="6"/>
<circle cx="1141" cy="367" r="6"/>
<circle cx="1212" cy="239" r="6"/>
<circle cx="1111" cy="379" r="6"/>
<circle cx="1015" cy="314" r="6"/>
<circle cx="1025" cy="244" r="6"/>
<circle cx="1151" cy="356" r="6"/>
<circle cx="1213" cy="218" r="6"/>
<circle cx="1053" cy="430" r="6"/>
<circle cx="1148" cy="329" r="6"/>
<circle cx="1141" cy="392" r="6"/>
<circle cx="1002" cy="332" r="6"/>
<circle cx="1016" cy="253" r="6"/>
<circle cx="1110" cy="402" r="6"/>
<circle cx="1026" cy="354" r="6"/>
<circle cx="1046" cy="156" r="6"/>
<circle cx="1053" cy="361" r="6"/>
<circle cx="1165" cy="308" r="6"/>
<circle cx="1143" cy="350" r="6"/>
<circle cx="1000" cy="305" r="6"/>
<circle cx="997" cy="320" r="6"/>
<circle cx="1103" cy="370" r="6"/>
<circle cx="1057" cy="398" r="6"/>
<circle cx="1135" cy="380" r="6"/>
<circle cx="1059" cy="386" r="6"/>
<circle cx="1248" cy="159" r="6"/>
<circle cx="1035" cy="388" r="6"/>
<circle cx="1221" cy="314" r="6"/>
<circle cx="1104" cy="411" r="6"/>
<circle cx="973" cy="246" r="6"/>
<circle cx="1143" cy="246" r="6"/>
<circle cx="1173" cy="294" r="6"/>
<circle cx="1030" cy="376" r="6"/>
<circle cx="1036" cy="361" r="6"/>
<circle cx="1014" cy="389" r="6"/>
<circle cx="1035" cy="369" r="6"/>
<circle cx="938" cy="309" r="6"/>
<circle cx="1030" cy="404" r="6"/>
<circle cx="1117" cy="393" r="6"/>
<circle cx="1001" cy="289" r="6"/>
<circle cx="1042" cy="360" r="6"/>
<circle cx="1095" cy="242" r="6"/>
<circle cx="1029" cy="260" r="6"/>
<circle cx="936" cy="267" r="6"/>
<circle cx="1107" cy="394" r="6"/>
<circle cx="1135" cy="376" r="6"/>
<circle cx="1071" cy="386" r="6"/>
<circle cx="919" cy="332" r="6"/>
<circle cx="1134" cy="258" r="6"/>
<circle cx="1064" cy="236" r="6"/>
<circle cx="1149" cy="336" r="6"/>
<circle cx="1081" cy="391" r="6"/>
<circle cx="992" cy="299" r="6"/>
<circle cx="1118" cy="264" r="6"/>
<circle cx="1031" cy="239" r="6"/>
<circle cx="995" cy="345" r="6"/>
<circle cx="1132" cy="357" r="6"/>
<circle cx="1085" cy="393" r="6"/>
<circle cx="1000" cy="272" r="6"/>
<circle cx="1160" cy="304" r="6"/>
<circle cx="979" cy="324" r="6"/>
<circle cx="1008" cy="300" r="6"/>
<circle cx="1177" cy="323" r="6"/>
<circle cx="1029" cy="261" r="6"/>
<circle cx="1006" cy="313" r="6"/>
<circle cx="1148" cy="356" r="6"/>
<circle cx="1067" cy="421" r="6"/>
<circle cx="1012" cy="329" r="6"/>
<circle cx="1044" cy="237" r="6"/>
<circle cx="980" cy="384" r="6"/>
<circle cx="1059" cy="247" r="6"/>
<circle cx="998" cy="282" r="6"/>
<circle cx="988" cy="193" r="6"/>
<circle cx="1157" cy="309" r="6"/>
<circle cx="1130" cy="199" r="6"/>
<circle cx="995" cy="295" r="6"/>
<circle cx="1143" cy="362" r="6"/>
<circle cx="1075" cy="235" r="6"/>
<circle cx="1158" cy="345" r="6"/>
<circle cx="1042" cy="407" r="6"/>
<circle cx="1004" cy="284" r="6"/>
<circle cx="1127" cy="222" r="6"/>
<circle cx="989" cy="294" r="6"/>
<circle cx="1063" cy="399" r="6"/>
<circle cx="1197" cy="303" r="6"/>
<circle cx="985" cy="351" r="6"/>
<circle cx="1034" cy="375" r="6"/>
<circle cx="1070" cy="236" r="6"/>
<circle cx="1049" cy="409" r="6"/>
<circle cx="1139" cy="337" r="6"/>
<circle cx="1067" cy="377" r="6"/>
<circle cx="987" cy="282" r="6"/>
<circle cx="986" cy="268" r="6"/>
<circle cx="1133" cy="333" r="6"/>
<circle cx="1207" cy="329" r="6"/>
<circle cx="1176" cy="321" r="6"/>
<circle cx="1008" cy="327" r="6"/>
<circle cx="1154" cy="276" r="6"/>
<circle cx="1166" cy="355" r="6"/>
<circle cx="1045" cy="239" r="6"/>
<circle cx="991" cy="211" r="6"/>
<circle cx="990" cy="328" r="6"/>
<circle cx="1095" cy="240" r="6"/>
<circle cx="972" cy="330" r="6"/>
<circle cx="1089" cy="399" r="6"/>
<circle cx="1178" cy="242" r="6"/>
<circle cx="1113" cy="236" r="6"/>
<circle cx="1015" cy="210" r="6"/>
<circle cx="973" cy="302" r="6"/>
<circle cx="1172" cy="367" r="6"/>
<circle cx="988" cy="317" r="6"/>
<circle cx="1157" cy="301" r="6"/>
<circle cx="1057" cy="235" r="6"/>
<circle cx="1120" cy="261" r="6"/>
<circle cx="999" cy="327" r="6"/>
<circle cx="1003" cy="278" r="6"/>
<circle cx="987" cy="360" r="6"/>
<circle cx="1053" cy="243" r="6"/>
<circle cx="1060" cy="143" r="6"/>
<circle cx="1055" cy="382" r="6"/>
<circle cx="965" cy="246" r="6"/>
<circle cx="974" cy="265" r="6"/>
<circle cx="1122" cy="163" r="6"/>
<circle cx="1100" cy="235" r="6"/>
<circle cx="938" cy="331" r="6"/>
<circle cx="1104" cy="241" r="6"/>
<circle cx="955" cy="306" r="6"/>
<circle cx="891" cy="341" r="6"/>
<circle cx="1058" cy="225" r="6"/>
<circle cx="1088" cy="391" r="6"/>
<circle cx="1094" cy="245" r="6"/>
<circle cx="1103" cy="242" r="6"/>
<circle cx="955" cy="308" r="6"/>
<circle cx="953" cy="242" r="6"/>
<circle cx="1012" cy="316" r="6"/>
<circle cx="1063" cy="204" r="6"/>
<circle cx="1061" cy="403" r="6"/>
<circle cx="1157" cy="214" r="6"/>
<circle cx="1111" cy="380" r="6"/>
<circle cx="1155" cy="374" r="6"/>
<circle cx="1100" cy="240" r="6"/>
<circle cx="1135" cy="366" r="6"/>
<circle cx="957" cy="262" r="6"/>
<circle cx="1157" cy="329" r="6"/>
<circle cx="971" cy="278" r="6"/>
<circle cx="1166" cy="275" r="6"/>
<circle cx="1165" cy="238" r="6"/>
<circle cx="1042" cy="365" r="6"/>
<circle cx="984" cy="289" r="6"/>
<circle cx="1047" cy="370" r="6"/>
<circle cx="1153" cy="262" r="6"/>
<circle cx="1092" cy="224" r="6"/>
<circle cx="1013" cy="351" r="6"/>
<circle cx="1128" cy="332" r="6"/>
<circle cx="1147" cy="329" r="6"/>
<circle cx="1046" cy="231" r="6"/>
<circle cx="1172" cy="265" r="6"/>
<circle cx="1014" cy="244" r="6"/>
<circle cx="996" cy="324" r="6"/>
<circle cx="1035" cy="186" r="6"/>
<circle cx="1189" cy="390" r="6"/>
<circle cx="1166" cy="366" r="6"/>
<circle cx="1155" cy="278" r="6"/>
<circle cx="1169" cy="327" r="6"/>
<circle cx="1152" cy="380" r="6"/>
<circle cx="998" cy="289" r="6"/>
<circle cx="993" cy="287" r="6"/>
<circle cx="1005" cy="330" r="6"/>
<circle cx="1086" cy="192" r="6"/>
<circle cx="1010" cy="319" r="6"/>
<circle cx="1159" cy="334" r="6"/>
<circle cx="877" cy="372" r="6"/>
<circle cx="1017" cy="260" r="6"/>
<circle cx="1089" cy="229" r="6"/>
<circle cx="989" cy="288" r="6"/>
<circle cx="932" cy="356" r="6"/>
<circle cx="1124" cy="264" r="6"/>
<circle cx="1003" cy="402" r="6"/>
<circle cx="1158" cy="320" r="6"/>
<circle cx="899" cy="351" r="6"/>
<circle cx="977" cy="299" r="6"/>
<circle cx="1002" cy="330" r="6"/>
<circle cx="1047" cy="242" r="6"/>
<circle cx="1006" cy="256" r="6"/>
<circle cx="1016" cy="317" r="6"/>
<circle cx="997" cy="365" r="6"/>
<circle cx="980" cy="330" r="6"/>
<circle cx="1050" cy="235" r="6"/>
<circle cx="1012" cy="381" r="6"/>
<circle cx="1060" cy="229" r="6"/>
<circle cx="1074" cy="242" r="6"/>
<circle cx="922" cy="314" r="6"/>
<circle cx="1103" cy="392" r="6"/>
<circle cx="1042" cy="369" r="6"/>
<circle cx="1042" cy="223" r="6"/>
<circle cx="1009" cy="242" r="6"/>
<circle cx="1085" cy="245" r="6"/>
<circle cx="1085" cy="407" r="6"/>
<circle cx="987" cy="349" r="6"/>
<circle cx="1054" cy="384" r="6"/>
<circle cx="987" cy="247" r="6"/>
<circle cx="1156" cy="356" r="6"/>
<circle cx="1161" cy="377" r="6"/>
<circle cx="1173" cy="287" r="6"/>
<circle cx="1120" cy="263" r="6"/>
<circle cx="1034" cy="359" r="6"/>
<circle cx="1006" cy="290" r="6"/>
<circle cx="1054" cy="218" r="6"/>
<circle cx="1044" cy="352" r="6"/>
<circle cx="1173" cy="283" r="6"/>
<circle cx="1180" cy="310" r="6"/>
<circle cx="1053" cy="383" r="6"/>
<circle cx="1142" cy="349" r="6"/>
<circle cx="1159" cy="375" r="6"/>
<circle cx="1023" cy="251" r="6"/>
<circle cx="1149" cy="290" r="6"/>
<circle cx="1110" cy="235" r="6"/>
<circle cx="988" cy="304" r="6"/>
<circle cx="1109" cy="398" r="6"/>
<circle cx="994" cy="386" r="6"/>
<circle cx="1183" cy="266" r="6"/>
<circle cx="1141" cy="352" r="6"/>
<circle cx="1163" cy="338" r="6"/>
<circle cx="1030" cy="243" r="6"/>
<circle cx="1032" cy="213" r="6"/>
<circle cx="1131" cy="240" r="6"/>
<circle cx="1097" cy="391" r="6"/>
<circle cx="1046" cy="355" r="6"/>
<circle cx="1088" cy="450" r="6"/>
<circle cx="1000" cy="353" r="6"/>
<circle cx="995" cy="336" r="6"/>
<circle cx="1140" cy="239" r="6"/>
<circle cx="1098" cy="397" r="6"/>
<circle cx="1044" cy="360" r="6"/>
<circle cx="1013" cy="352" r="6"/>
<circle cx="990" cy="335" r="6"/>
<circle cx="998" cy="308" r="6"/>
<circle cx="1140" cy="357" r="6"/>
<circle cx="1157" cy="363" r="6"/>
<circle cx="1166" cy="240" r="6"/>
<circle cx="1086" cy="398" r="6"/>
<circle cx="1151" cy="286" r="6"/>
<circle cx="1158" cy="328" r="6"/>
<circle cx="1104" cy="398" r="6"/>
<circle cx="1091" cy="199" r="6"/>
<circle cx="1131" cy="392" r="6"/>
<circle cx="1145" cy="323" r="6"/>
<circle cx="1121" cy="384" r="6"/>
<circle cx="1098" cy="426" r="6"/>
<circle cx="1120" cy="226" r="6"/>
<circle cx="1087" cy="436" r="6"/>
<circle cx="1096" cy="249" r="6"/>
<circle cx="1079" cy="244" r="6"/>
<circle cx="999" cy="275" r="6"/>
<circle cx="1090" cy="388" r="6"/>
<circle cx="1016" cy="380" r="6"/>
<circle cx="969" cy="284" r="6"/>
<circle cx="1114" cy="402" r="6"/>
<circle cx="1020" cy="391" r="6"/>
<circle cx="994" cy="306" r="6"/>
<circle cx="1000" cy="365" r="6"/>
<circle cx="1003" cy="361" r="6"/>
<circle cx="1134" cy="434" r="6"/>
<circle cx="1102" cy="213" r="6"/>
<circle cx="971" cy="351" r="6"/>
<circle cx="1044" cy="237" r="6"/>
<circle cx="1062" cy="386" r="6"/>
<circle cx="1043" cy="233" r="6"/>
<circle cx="1137" cy="358" r="6"/>
<circle cx="1047" cy="386" r="6"/>
<circle cx="1003" cy="314" r="6"/>
</g>
</g>
<g clip-path="url(#clipC)">
<g class="b">
<circle cx="1635" cy="370" r="6"/>
<circle cx="1675" cy="357" r="6"/>
<circle cx="1636" cy="409" r="6"/>
<circle cx="1573" cy="393" r="6"/>
<circle cx="1595" cy="377" r="6"/>
<circle cx="1657" cy="368" r="6"/>
<circle cx="1812" cy="414" r="6"/>
<circle cx="1684" cy="415" r="6"/>
<circle cx="1658" cy="364" r="6"/>
<circle cx="1577" cy="393" r="6"/>
<circle cx="1757" cy="376" r="6"/>
<circle cx="1622" cy="403" r="6"/>
<circle cx="1604" cy="363" r="6"/>
<circle cx="1738" cy="419" r="6"/>
<circle cx="1624" cy="371" r="6"/>
<circle cx="1593" cy="394" r="6"/>
<circle cx="1657" cy="436" r="6"/>
<circle cx="1671" cy="366" r="6"/>
<circle cx="1781" cy="408" r="6"/>
<circle cx="1738" cy="362" r="6"/>
<circle cx="1730" cy="408" r="6"/>
<circle cx="1672" cy="300" r="6"/>
<circle cx="1609" cy="372" r="6"/>
<circle cx="1807" cy="392" r="6"/>
<circle cx="1835" cy="364" r="6"/>
<circle cx="1609" cy="379" r="6"/>
<circle cx="1726" cy="417" r="6"/>
<circle cx="1728" cy="367" r="6"/>
<circle cx="1599" cy="385" r="6"/>
<circle cx="1747" cy="368" r="6"/>
<circle cx="1781" cy="401" r="6"/>
<circle cx="1609" cy="380" r="6"/>
<circle cx="1609" cy="402" r="6"/>
<circle cx="1604" cy="392" r="6"/>
<circle cx="1773" cy="345" r="6"/>
<circle cx="1672" cy="365" r="6"/>
<circle cx="1578" cy="406" r="6"/>
<circle cx="1686" cy="360" r="6"/>
<circle cx="1614" cy="371" r="6"/>
<circle cx="1601" cy="401" r="6"/>
<circle cx="1612" cy="375" r="6"/>
<circle cx="1756" cy="382" r="6"/>
<circle cx="1764" cy="396" r="6"/>
<circle cx="1675" cy="352" r="6"/>
<circle cx="1712" cy="418" r="6"/>
<circle cx="1604" cy="405" r="6"/>
<circle cx="1781" cy="403" r="6"/>
<circle cx="1762" cy="396" r="6"/>
</g>
<g class="o">
<circle cx="1878" cy="565" r="6"/>
</g>
<g class="b">
<circle cx="1653" cy="358" r="6"/>
<circle cx="1688" cy="366" r="6"/>
<circle cx="1572" cy="406" r="6"/>
<circle cx="1596" cy="394" r="6"/>
<circle cx="1642" cy="422" r="6"/>
<circle cx="1666" cy="373" r="6"/>
<circle cx="1692" cy="362" r="6"/>
<circle cx="1591" cy="433" r="6"/>
<circle cx="1704" cy="421" r="6"/>
<circle cx="1692" cy="361" r="6"/>
<circle cx="1608" cy="359" r="6"/>
<circle cx="1703" cy="364" r="6"/>
<circle cx="1632" cy="375" r="6"/>
<circle cx="1640" cy="369" r="6"/>
<circle cx="1792" cy="393" r="6"/>
<circle cx="1711" cy="367" r="6"/>
<circle cx="1736" cy="420" r="6"/>
<circle cx="1724" cy="416" r="6"/>
<circle cx="1668" cy="368" r="6"/>
<circle cx="1739" cy="354" r="6"/>
<circle cx="1595" cy="396" r="6"/>
</g>
<g class="o">
<circle cx="1631" cy="337" r="6"/>
</g>
<g class="b">
<circle cx="1689" cy="364" r="6"/>
<circle cx="1712" cy="370" r="6"/>
<circle cx="1621" cy="367" r="6"/>
<circle cx="1716" cy="412" r="6"/>
<circle cx="1601" cy="415" r="6"/>
<circle cx="1688" cy="370" r="6"/>
<circle cx="1632" cy="372" r="6"/>
<circle cx="1605" cy="419" r="6"/>
<circle cx="1557" cy="393" r="6"/>
<circle cx="1600" cy="375" r="6"/>
<circle cx="1729" cy="413" r="6"/>
<circle cx="1600" cy="396" r="6"/>
<circle cx="1631" cy="373" r="6"/>
<circle cx="1654" cy="428" r="6"/>
<circle cx="1715" cy="372" r="6"/>
<circle cx="1611" cy="388" r="6"/>
<circle cx="1621" cy="377" r="6"/>
<circle cx="1621" cy="377" r="6"/>
<circle cx="1775" cy="387" r="6"/>
<circle cx="1725" cy="375" r="6"/>
<circle cx="1650" cy="356" r="6"/>
<circle cx="1714" cy="427" r="6"/>
<circle cx="1565" cy="386" r="6"/>
<circle cx="1750" cy="410" r="6"/>
<circle cx="1655" cy="372" r="6"/>
<circle cx="1787" cy="388" r="6"/>
<circle cx="1737" cy="357" r="6"/>
<circle cx="1629" cy="382" r="6"/>
<circle cx="1775" cy="379" r="6"/>
<circle cx="1709" cy="426" r="6"/>
<circle cx="1723" cy="372" r="6"/>
<circle cx="1656" cy="420" r="6"/>
<circle cx="1567" cy="409" r="6"/>
<circle cx="1747" cy="375" r="6"/>
<circle cx="1687" cy="368" r="6"/>
<circle cx="1638" cy="415" r="6"/>
<circle cx="1695" cy="415" r="6"/>
<circle cx="1775" cy="394" r="6"/>
<circle cx="1664" cy="413" r="6"/>
<circle cx="1782" cy="386" r="6"/>
<circle cx="1834" cy="398" r="6"/>
<circle cx="1748" cy="405" r="6"/>
<circle cx="1777" cy="385" r="6"/>
<circle cx="1643" cy="351" r="6"/>
<circle cx="1600" cy="387" r="6"/>
<circle cx="1627" cy="369" r="6"/>
<circle cx="1700" cy="362" r="6"/>
<circle cx="1727" cy="407" r="6"/>
<circle cx="1778" cy="377" r="6"/>
<circle cx="1748" cy="378" r="6"/>
<circle cx="1698" cy="363" r="6"/>
<circle cx="1756" cy="380" r="6"/>
<circle cx="1634" cy="380" r="6"/>
<circle cx="1823" cy="410" r="6"/>
<circle cx="1642" cy="370" r="6"/>
<circle cx="1767" cy="389" r="6"/>
<circle cx="1703" cy="421" r="6"/>
<circle cx="1783" cy="356" r="6"/>
<circle cx="1657" cy="357" r="6"/>
<circle cx="1762" cy="413" r="6"/>
<circle cx="1531" cy="391" r="6"/>
<circle cx="1674" cy="360" r="6"/>
<circle cx="1756" cy="349" r="6"/>
<circle cx="1566" cy="394" r="6"/>
<circle cx="1739" cy="355" r="6"/>
<circle cx="1529" cy="398" r="6"/>
<circle cx="1635" cy="381" r="6"/>
<circle cx="1553" cy="402" r="6"/>
<circle cx="1624" cy="385" r="6"/>
<circle cx="1647" cy="340" r="6"/>
<circle cx="1645" cy="413" r="6"/>
<circle cx="1715" cy="353" r="6"/>
<circle cx="1621" cy="350" r="6"/>
<circle cx="1653" cy="364" r="6"/>
<circle cx="1709" cy="365" r="6"/>
<circle cx="1755" cy="379" r="6"/>
<circle cx="1648" cy="438" r="6"/>
<circle cx="1611" cy="414" r="6"/>
<circle cx="1641" cy="364" r="6"/>
<circle cx="1743" cy="401" r="6"/>
<circle cx="1577" cy="377" r="6"/>
<circle cx="1584" cy="431" r="6"/>
<circle cx="1558" cy="370" r="6"/>
<circle cx="1721" cy="415" r="6"/>
<circle cx="1798" cy="381" r="6"/>
<circle cx="1634" cy="351" r="6"/>
<circle cx="1653" cy="354" r="6"/>
<circle cx="1651" cy="414" r="6"/>
<circle cx="1691" cy="354" r="6"/>
<circle cx="1704" cy="361" r="6"/>
<circle cx="1557" cy="367" r="6"/>
<circle cx="1541" cy="398" r="6"/>
<circle cx="1680" cy="373" r="6"/>
<circle cx="1773" cy="407" r="6"/>
<circle cx="1693" cy="413" r="6"/>
<circle cx="1605" cy="411" r="6"/>
<circle cx="1734" cy="355" r="6"/>
<circle cx="1691" cy="373" r="6"/>
<circle cx="1739" cy="417" r="6"/>
<circle cx="1629" cy="385" r="6"/>
<circle cx="1809" cy="375" r="6"/>
<circle cx="1594" cy="395" r="6"/>
<circle cx="1781" cy="397" r="6"/>
<circle cx="1667" cy="413" r="6"/>
<circle cx="1627" cy="386" r="6"/>
<circle cx="1594" cy="417" r="6"/>
<circle cx="1744" cy="345" r="6"/>
<circle cx="1776" cy="384" r="6"/>
<circle cx="1801" cy="400" r="6"/>
<circle cx="1695" cy="414" r="6"/>
<circle cx="1615" cy="363" r="6"/>
<circle cx="1627" cy="436" r="6"/>
<circle cx="1673" cy="369" r="6"/>
<circle cx="1634" cy="370" r="6"/>
<circle cx="1712" cy="418" r="6"/>
<circle cx="1586" cy="390" r="6"/>
<circle cx="1697" cy="370" r="6"/>
<circle cx="1566" cy="364" r="6"/>
<circle cx="1637" cy="356" r="6"/>
<circle cx="1745" cy="376" r="6"/>
<circle cx="1732" cy="372" r="6"/>
<circle cx="1594" cy="370" r="6"/>
<circle cx="1546" cy="414" r="6"/>
<circle cx="1745" cy="380" r="6"/>
<circle cx="1763" cy="382" r="6"/>
<circle cx="1771" cy="460" r="6"/>
<circle cx="1760" cy="352" r="6"/>
<circle cx="1610" cy="371" r="6"/>
<circle cx="1577" cy="365" r="6"/>
<circle cx="1735" cy="426" r="6"/>
<circle cx="1632" cy="364" r="6"/>
<circle cx="1703" cy="416" r="6"/>
<circle cx="1751" cy="359" r="6"/>
<circle cx="1713" cy="348" r="6"/>
<circle cx="1822" cy="377" r="6"/>
<circle cx="1685" cy="417" r="6"/>
<circle cx="1655" cy="372" r="6"/>
<circle cx="1803" cy="372" r="6"/>
<circle cx="1646" cy="369" r="6"/>
<circle cx="1590" cy="380" r="6"/>
<circle cx="1630" cy="411" r="6"/>
<circle cx="1655" cy="414" r="6"/>
<circle cx="1672" cy="371" r="6"/>
<circle cx="1705" cy="427" r="6"/>
<circle cx="1600" cy="398" r="6"/>
<circle cx="1615" cy="402" r="6"/>
<circle cx="1768" cy="390" r="6"/>
<circle cx="1775" cy="361" r="6"/>
<circle cx="1709" cy="367" r="6"/>
<circle cx="1562" cy="431" r="6"/>
<circle cx="1753" cy="385" r="6"/>
<circle cx="1553" cy="377" r="6"/>
<circle cx="1644" cy="372" r="6"/>
<circle cx="1589" cy="405" r="6"/>
<circle cx="1748" cy="371" r="6"/>
<circle cx="1567" cy="376" r="6"/>
<circle cx="1587" cy="354" r="6"/>
<circle cx="1747" cy="372" r="6"/>
<circle cx="1606" cy="386" r="6"/>
<circle cx="1672" cy="356" r="6"/>
<circle cx="1617" cy="376" r="6"/>
<circle cx="1786" cy="404" r="6"/>
<circle cx="1609" cy="382" r="6"/>
<circle cx="1601" cy="383" r="6"/>
<circle cx="1612" cy="372" r="6"/>
<circle cx="1693" cy="370" r="6"/>
<circle cx="1655" cy="374" r="6"/>
<circle cx="1681" cy="371" r="6"/>
<circle cx="1612" cy="395" r="6"/>
<circle cx="1746" cy="370" r="6"/>
<circle cx="1810" cy="378" r="6"/>
<circle cx="1716" cy="418" r="6"/>
<circle cx="1582" cy="383" r="6"/>
<circle cx="1611" cy="375" r="6"/>
<circle cx="1578" cy="345" r="6"/>
<circle cx="1632" cy="385" r="6"/>
<circle cx="1712" cy="372" r="6"/>
<circle cx="1769" cy="370" r="6"/>
<circle cx="1604" cy="355" r="6"/>
<circle cx="1785" cy="373" r="6"/>
<circle cx="1612" cy="396" r="6"/>
<circle cx="1682" cy="360" r="6"/>
<circle cx="1599" cy="72" r="6"/>
<circle cx="1675" cy="370" r="6"/>
<circle cx="1669" cy="363" r="6"/>
<circle cx="1675" cy="368" r="6"/>
<circle cx="1641" cy="410" r="6"/>
<circle cx="1827" cy="394" r="6"/>
<circle cx="1785" cy="370" r="6"/>
<circle cx="1695" cy="370" r="6"/>
<circle cx="1636" cy="370" r="6"/>
<circle cx="1687" cy="421" r="6"/>
<circle cx="1821" cy="443" r="6"/>
<circle cx="1764" cy="386" r="6"/>
<circle cx="1708" cy="366" r="6"/>
<circle cx="1712" cy="363" r="6"/>
<circle cx="1594" cy="423" r="6"/>
<circle cx="1779" cy="417" r="6"/>
<circle cx="1561" cy="403" r="6"/>
<circle cx="1637" cy="379" r="6"/>
<circle cx="1695" cy="410" r="6"/>
<circle cx="1832" cy="376" r="6"/>
<circle cx="1672" cy="417" r="6"/>
<circle cx="1624" cy="362" r="6"/>
<circle cx="1710" cy="369" r="6"/>
<circle cx="1738" cy="400" r="6"/>
<circle cx="1688" cy="364" r="6"/>
<circle cx="1797" cy="402" r="6"/>
<circle cx="1732" cy="418" r="6"/>
<circle cx="1649" cy="372" r="6"/>
<circle cx="1584" cy="384" r="6"/>
<circle cx="1773" cy="376" r="6"/>
<circle cx="1810" cy="362" r="6"/>
<circle cx="1588" cy="394" r="6"/>
<circle cx="1695" cy="345" r="6"/>
<circle cx="1750" cy="408" r="6"/>
<circle cx="1708" cy="412" r="6"/>
<circle cx="1794" cy="443" r="6"/>
<circle cx="1538" cy="383" r="6"/>
<circle cx="1736" cy="365" r="6"/>
<circle cx="1582" cy="295" r="6"/>
<circle cx="1758" cy="402" r="6"/>
<circle cx="1754" cy="371" r="6"/>
<circle cx="1700" cy="365" r="6"/>
<circle cx="1682" cy="374" r="6"/>
<circle cx="1801" cy="381" r="6"/>
<circle cx="1611" cy="355" r="6"/>
<circle cx="1579" cy="350" r="6"/>
<circle cx="1771" cy="353" r="6"/>
<circle cx="1679" cy="418" r="6"/>
<circle cx="1734" cy="401" r="6"/>
<circle cx="1608" cy="382" r="6"/>
<circle cx="1543" cy="414" r="6"/>
<circle cx="1763" cy="420" r="6"/>
<circle cx="1630" cy="407" r="6"/>
<circle cx="1681" cy="373" r="6"/>
<circle cx="1753" cy="395" r="6"/>
<circle cx="1713" cy="421" r="6"/>
<circle cx="1805" cy="425" r="6"/>
<circle cx="1768" cy="374" r="6"/>
<circle cx="1689" cy="372" r="6"/>
<circle cx="1746" cy="418" r="6"/>
<circle cx="1575" cy="387" r="6"/>
<circle cx="1770" cy="372" r="6"/>
<circle cx="1692" cy="365" r="6"/>
<circle cx="1675" cy="413" r="6"/>
<circle cx="1685" cy="367" r="6"/>
<circle cx="1737" cy="419" r="6"/>
<circle cx="1582" cy="384" r="6"/>
<circle cx="1624" cy="364" r="6"/>
<circle cx="1641" cy="408" r="6"/>
<circle cx="1651" cy="372" r="6"/>
<circle cx="1685" cy="375" r="6"/>
<circle cx="1636" cy="412" r="6"/>
<circle cx="1626" cy="416" r="6"/>
<circle cx="1700" cy="414" r="6"/>
<circle cx="1680" cy="426" r="6"/>
<circle cx="1684" cy="371" r="6"/>
<circle cx="1800" cy="390" r="6"/>
<circle cx="1745" cy="381" r="6"/>
<circle cx="1757" cy="406" r="6"/>
<circle cx="1688" cy="425" r="6"/>
<circle cx="1755" cy="395" r="6"/>
<circle cx="1670" cy="357" r="6"/>
<circle cx="1774" cy="380" r="6"/>
<circle cx="1771" cy="401" r="6"/>
<circle cx="1748" cy="367" r="6"/>
<circle cx="1758" cy="412" r="6"/>
<circle cx="1530" cy="413" r="6"/>
<circle cx="1697" cy="410" r="6"/>
<circle cx="1666" cy="440" r="6"/>
<circle cx="1750" cy="341" r="6"/>
<circle cx="1814" cy="379" r="6"/>
<circle cx="1661" cy="361" r="6"/>
<circle cx="1972" cy="365" r="6"/>
<circle cx="1616" cy="318" r="6"/>
<circle cx="1685" cy="377" r="6"/>
<circle cx="1693" cy="374" r="6"/>
<circle cx="1686" cy="423" r="6"/>
<circle cx="1559" cy="368" r="6"/>
<circle cx="1718" cy="355" r="6"/>
<circle cx="1613" cy="391" r="6"/>
<circle cx="1648" cy="360" r="6"/>
<circle cx="1585" cy="362" r="6"/>
<circle cx="1762" cy="388" r="6"/>
<circle cx="1623" cy="387" r="6"/>
<circle cx="1656" cy="377" r="6"/>
<circle cx="1737" cy="412" r="6"/>
<circle cx="1818" cy="397" r="6"/>
<circle cx="1704" cy="420" r="6"/>
<circle cx="1700" cy="368" r="6"/>
<circle cx="1575" cy="396" r="6"/>
<circle cx="1611" cy="411" r="6"/>
<circle cx="1753" cy="356" r="6"/>
<circle cx="1624" cy="389" r="6"/>
<circle cx="1853" cy="422" r="6"/>
<circle cx="1751" cy="359" r="6"/>
<circle cx="1635" cy="375" r="6"/>
<circle cx="1597" cy="399" r="6"/>
<circle cx="1729" cy="362" r="6"/>
<circle cx="1679" cy="375" r="6"/>
<circle cx="1698" cy="420" r="6"/>
<circle cx="1678" cy="375" r="6"/>
<circle cx="1606" cy="381" r="6"/>
<circle cx="1711" cy="347" r="6"/>
<circle cx="1750" cy="420" r="6"/>
<circle cx="1632" cy="427" r="6"/>
<circle cx="1627" cy="403" r="6"/>
<circle cx="1641" cy="371" r="6"/>
<circle cx="1780" cy="369" r="6"/>
<circle cx="1814" cy="364" r="6"/>
<circle cx="1642" cy="372" r="6"/>
<circle cx="1641" cy="407" r="6"/>
<circle cx="1782" cy="362" r="6"/>
<circle cx="1743" cy="381" r="6"/>
<circle cx="1739" cy="364" r="6"/>
<circle cx="1688" cy="370" r="6"/>
<circle cx="1787" cy="406" r="6"/>
<circle cx="1761" cy="380" r="6"/>
<circle cx="1695" cy="375" r="6"/>
<circle cx="1704" cy="370" r="6"/>
<circle cx="1747" cy="417" r="6"/>
<circle cx="1777" cy="398" r="6"/>
<circle cx="1535" cy="396" r="6"/>
<circle cx="1734" cy="373" r="6"/>
<circle cx="1723" cy="411" r="6"/>
<circle cx="1569" cy="401" r="6"/>
<circle cx="1559" cy="389" r="6"/>
<circle cx="1576" cy="383" r="6"/>
</g>
<g class="o">
<circle cx="1723" cy="369" r="6"/>
</g>
<g class="b">
<circle cx="1645" cy="409" r="6"/>
<circle cx="1634" cy="385" r="6"/>
<circle cx="1680" cy="375" r="6"/>
<circle cx="1793" cy="374" r="6"/>
</g>
<g class="o">
<circle cx="1642" cy="408" r="6"/>
</g>
<g class="b">
<circle cx="1720" cy="375" r="6"/>
<circle cx="1747" cy="393" r="6"/>
<circle cx="1598" cy="413" r="6"/>
<circle cx="1685" cy="364" r="6"/>
<circle cx="1729" cy="372" r="6"/>
<circle cx="1588" cy="379" r="6"/>
<circle cx="1611" cy="389" r="6"/>
<circle cx="1750" cy="379" r="6"/>
</g>
<g class="o">
<circle cx="1600" cy="385" r="6"/>
</g>
<g class="b">
<circle cx="1681" cy="352" r="6"/>
</g>
<g class="o">
<circle cx="1819" cy="386" r="6"/>
<circle cx="1783" cy="401" r="6"/>
</g>
<g class="b">
<circle cx="1626" cy="380" r="6"/>
<circle cx="1776" cy="393" r="6"/>
<circle cx="1739" cy="399" r="6"/>
<circle cx="1667" cy="416" r="6"/>
<circle cx="1737" cy="386" r="6"/>
<circle cx="1634" cy="403" r="6"/>
<circle cx="1560" cy="177" r="6"/>
<circle cx="1768" cy="403" r="6"/>
<circle cx="1595" cy="392" r="6"/>
<circle cx="1709" cy="373" r="6"/>
<circle cx="1744" cy="384" r="6"/>
<circle cx="1773" cy="391" r="6"/>
<circle cx="1740" cy="386" r="6"/>
</g>
<g class="o">
<circle cx="1579" cy="399" r="6"/>
</g>
<g class="b">
<circle cx="1670" cy="352" r="6"/>
</g>
<g class="o">
<circle cx="1686" cy="351" r="6"/>
<circle cx="1630" cy="417" r="6"/>
</g>
<g class="b">
<circle cx="1775" cy="392" r="6"/>
<circle cx="1697" cy="415" r="6"/>
<circle cx="1623" cy="401" r="6"/>
</g>
<g class="o">
<circle cx="1543" cy="388" r="6"/>
<circle cx="1612" cy="401" r="6"/>
</g>
<g class="b">
<circle cx="1621" cy="389" r="6"/>
<circle cx="1562" cy="394" r="6"/>
</g>
<g class="o">
<circle cx="1731" cy="385" r="6"/>
</g>
<g class="b">
<circle cx="1673" cy="366" r="6"/>
</g>
<g class="o">
<circle cx="1572" cy="389" r="6"/>
<circle cx="1788" cy="384" r="6"/>
<circle cx="1679" cy="414" r="6"/>
</g>
<g class="b">
<circle cx="1635" cy="352" r="6"/>
<circle cx="1548" cy="368" r="6"/>
<circle cx="1680" cy="361" r="6"/>
</g>
<g class="o">
<circle cx="1630" cy="411" r="6"/>
</g>
<g class="b">
<circle cx="1736" cy="393" r="6"/>
<circle cx="1718" cy="369" r="6"/>
</g>
<g class="o">
<circle cx="1613" cy="380" r="6"/>
</g>
<g class="b">
<circle cx="1621" cy="381" r="6"/>
</g>
<g class="o">
<circle cx="1738" cy="408" r="6"/>
</g>
<g class="b">
<circle cx="1740" cy="382" r="6"/>
</g>
<g class="o">
<circle cx="1615" cy="390" r="6"/>
</g>
<g class="b">
<circle cx="1748" cy="375" r="6"/>
</g>
<g class="o">
<circle cx="1581" cy="389" r="6"/>
</g>
<g class="b">
<circle cx="1730" cy="387" r="6"/>
<circle cx="1704" cy="346" r="6"/>
<circle cx="1618" cy="377" r="6"/>
<circle cx="1562" cy="383" r="6"/>
</g>
<g class="o">
<circle cx="1611" cy="399" r="6"/>
<circle cx="1551" cy="393" r="6"/>
</g>
<g class="b">
<circle cx="1669" cy="365" r="6"/>
<circle cx="1600" cy="393" r="6"/>
<circle cx="1590" cy="374" r="6"/>
<circle cx="1784" cy="398" r="6"/>
<circle cx="1698" cy="372" r="6"/>
<circle cx="1604" cy="378" r="6"/>
</g>
<g class="o">
<circle cx="1734" cy="397" r="6"/>
<circle cx="1705" cy="423" r="6"/>
</g>
<g class="b">
<circle cx="1592" cy="395" r="6"/>
</g>
<g class="o">
<circle cx="1621" cy="411" r="6"/>
</g>
<g class="b">
<circle cx="1763" cy="386" r="6"/>
<circle cx="1607" cy="382" r="6"/>
</g>
<g class="o">
<circle cx="1745" cy="396" r="6"/>
</g>
<g class="b">
<circle cx="1739" cy="373" r="6"/>
<circle cx="1690" cy="408" r="6"/>
</g>
<g class="o">
<circle cx="1617" cy="382" r="6"/>
</g>
<g class="b">
<circle cx="1709" cy="369" r="6"/>
<circle cx="1616" cy="394" r="6"/>
</g>
<g class="o">
<circle cx="1644" cy="421" r="6"/>
</g>
<g class="b">
<circle cx="1745" cy="382" r="6"/>
<circle cx="1631" cy="383" r="6"/>
<circle cx="1733" cy="373" r="6"/>
<circle cx="1751" cy="403" r="6"/>
<circle cx="1591" cy="353" r="6"/>
</g>
<g class="o">
<circle cx="1603" cy="376" r="6"/>
</g>
<g class="b">
<circle cx="1777" cy="410" r="6"/>
<circle cx="1734" cy="400" r="6"/>
<circle cx="1692" cy="442" r="6"/>
<circle cx="1668" cy="372" r="6"/>
</g>
<g class="o">
<circle cx="1666" cy="409" r="6"/>
<circle cx="1619" cy="388" r="6"/>
<circle cx="1685" cy="418" r="6"/>
</g>
<g class="b">
<circle cx="1615" cy="383" r="6"/>
<circle cx="1756" cy="360" r="6"/>
</g>
<g class="o">
<circle cx="1730" cy="415" r="6"/>
</g>
<g class="b">
<circle cx="1665" cy="366" r="6"/>
</g>
<g class="o">
<circle cx="1622" cy="400" r="6"/>
</g>
<g class="b">
<circle cx="1573" cy="371" r="6"/>
<circle cx="1735" cy="406" r="6"/>
<circle cx="1728" cy="362" r="6"/>
</g>
<g class="o">
<circle cx="1750" cy="417" r="6"/>
</g>
<g class="b">
<circle cx="1621" cy="390" r="6"/>
<circle cx="1612" cy="383" r="6"/>
</g>
<g class="o">
<circle cx="1726" cy="375" r="6"/>
</g>
<g class="b">
<circle cx="1792" cy="393" r="6"/>
<circle cx="1782" cy="388" r="6"/>
</g>
<g class="o">
<circle cx="1680" cy="411" r="6"/>
<circle cx="1644" cy="399" r="6"/>
</g>
<g class="b">
<circle cx="1639" cy="373" r="6"/>
</g>
<g class="o">
<circle cx="1654" cy="376" r="6"/>
</g>
<g class="b">
<circle cx="1621" cy="365" r="6"/>
<circle cx="1776" cy="365" r="6"/>
<circle cx="1740" cy="388" r="6"/>
<circle cx="1648" cy="371" r="6"/>
<circle cx="1676" cy="415" r="6"/>
</g>
<g class="o">
<circle cx="1626" cy="390" r="6"/>
</g>
<g class="b">
<circle cx="1762" cy="363" r="6"/>
<circle cx="1692" cy="404" r="6"/>
</g>
<g class="o">
<circle cx="1590" cy="376" r="6"/>
<circle cx="1636" cy="412" r="6"/>
</g>
<g class="b">
<circle cx="1774" cy="395" r="6"/>
<circle cx="1763" cy="391" r="6"/>
<circle cx="1744" cy="365" r="6"/>
<circle cx="1593" cy="394" r="6"/>
<circle cx="1619" cy="404" r="6"/>
<circle cx="1562" cy="403" r="6"/>
<circle cx="1746" cy="381" r="6"/>
<circle cx="1589" cy="380" r="6"/>
<circle cx="1647" cy="371" r="6"/>
<circle cx="1733" cy="398" r="6"/>
</g>
<g class="o">
<circle cx="1556" cy="425" r="6"/>
</g>
<g class="b">
<circle cx="1642" cy="372" r="6"/>
<circle cx="1561" cy="422" r="6"/>
</g>
<g class="o">
<circle cx="1642" cy="370" r="6"/>
</g>
<g class="b">
<circle cx="1577" cy="392" r="6"/>
<circle cx="1614" cy="405" r="6"/>
<circle cx="1629" cy="404" r="6"/>
<circle cx="1673" cy="376" r="6"/>
<circle cx="1676" cy="377" r="6"/>
<circle cx="1694" cy="370" r="6"/>
<circle cx="1750" cy="378" r="6"/>
<circle cx="1643" cy="403" r="6"/>
<circle cx="1658" cy="360" r="6"/>
<circle cx="1691" cy="376" r="6"/>
<circle cx="1703" cy="412" r="6"/>
<circle cx="1720" cy="364" r="6"/>
<circle cx="1785" cy="403" r="6"/>
<circle cx="1728" cy="352" r="6"/>
<circle cx="1651" cy="352" r="6"/>
</g>
<g class="o">
<circle cx="1703" cy="422" r="6"/>
<circle cx="1575" cy="397" r="6"/>
<circle cx="1731" cy="352" r="6"/>
</g>
<g class="b">
<circle cx="1610" cy="401" r="6"/>
<circle cx="1638" cy="407" r="6"/>
<circle cx="1604" cy="356" r="6"/>
<circle cx="1738" cy="384" r="6"/>
<circle cx="1745" cy="392" r="6"/>
<circle cx="1641" cy="376" r="6"/>
</g>
<g class="o">
<circle cx="1755" cy="405" r="6"/>
<circle cx="1803" cy="403" r="6"/>
</g>
<g class="b">
<circle cx="1689" cy="382" r="6"/>
</g>
<g class="o">
<circle cx="1592" cy="406" r="6"/>
</g>
<g class="b">
<circle cx="1637" cy="401" r="6"/>
</g>
<g class="o">
<circle cx="1586" cy="411" r="6"/>
</g>
<g class="b">
<circle cx="1676" cy="410" r="6"/>
<circle cx="1762" cy="395" r="6"/>
<circle cx="1723" cy="407" r="6"/>
</g>
<g class="o">
<circle cx="1659" cy="414" r="6"/>
</g>
<g class="b">
<circle cx="1610" cy="393" r="6"/>
<circle cx="1728" cy="378" r="6"/>
<circle cx="1645" cy="384" r="6"/>
<circle cx="1621" cy="375" r="6"/>
<circle cx="1703" cy="363" r="6"/>
<circle cx="1599" cy="381" r="6"/>
<circle cx="1623" cy="393" r="6"/>
<circle cx="1635" cy="350" r="6"/>
<circle cx="1732" cy="399" r="6"/>
<circle cx="1758" cy="375" r="6"/>
<circle cx="1690" cy="382" r="6"/>
<circle cx="1625" cy="422" r="6"/>
<circle cx="1568" cy="403" r="6"/>
</g>
<g class="o">
<circle cx="1649" cy="382" r="6"/>
<circle cx="1738" cy="412" r="6"/>
<circle cx="1551" cy="387" r="6"/>
</g>
<g class="b">
<circle cx="1667" cy="373" r="6"/>
</g>
<g class="o">
<circle cx="1643" cy="409" r="6"/>
<circle cx="1691" cy="417" r="6"/>
</g>
<g class="b">
<circle cx="1672" cy="378" r="6"/>
<circle cx="1756" cy="382" r="6"/>
</g>
<g class="o">
<circle cx="1680" cy="425" r="6"/>
</g>
<g class="b">
<circle cx="1733" cy="394" r="6"/>
<circle cx="1679" cy="374" r="6"/>
</g>
<g class="o">
<circle cx="1765" cy="393" r="6"/>
</g>
<g class="b">
<circle cx="1678" cy="376" r="6"/>
<circle cx="1752" cy="382" r="6"/>
</g>
<g class="o">
<circle cx="1704" cy="364" r="6"/>
</g>
<g class="b">
<circle cx="1634" cy="365" r="6"/>
<circle cx="1720" cy="378" r="6"/>
<circle cx="1708" cy="371" r="6"/>
<circle cx="1614" cy="358" r="6"/>
<circle cx="1754" cy="365" r="6"/>
<circle cx="1689" cy="377" r="6"/>
<circle cx="1555" cy="390" r="6"/>
<circle cx="1695" cy="412" r="6"/>
<circle cx="1634" cy="403" r="6"/>
<circle cx="1719" cy="373" r="6"/>
<circle cx="1552" cy="392" r="6"/>
<circle cx="1646" cy="392" r="6"/>
<circle cx="1696" cy="370" r="6"/>
<circle cx="1742" cy="374" r="6"/>
<circle cx="1607" cy="323" r="6"/>
<circle cx="1675" cy="418" r="6"/>
</g>
<g class="o">
<circle cx="1715" cy="411" r="6"/>
<circle cx="1728" cy="382" r="6"/>
</g>
<g class="b">
<circle cx="1745" cy="418" r="6"/>
</g>
<g class="o">
<circle cx="1673" cy="408" r="6"/>
</g>
<g class="b">
<circle cx="1701" cy="375" r="6"/>
<circle cx="1646" cy="389" r="6"/>
<circle cx="1531" cy="403" r="6"/>
</g>
<g class="o">
<circle cx="1717" cy="376" r="6"/>
</g>
<g class="b">
<circle cx="1629" cy="388" r="6"/>
<circle cx="1662" cy="378" r="6"/>
<circle cx="1729" cy="372" r="6"/>
<circle cx="1657" cy="373" r="6"/>
<circle cx="1648" cy="378" r="6"/>
<circle cx="1691" cy="359" r="6"/>
</g>
<g class="o">
<circle cx="1743" cy="388" r="6"/>
</g>
<g class="b">
<circle cx="1697" cy="368" r="6"/>
<circle cx="1641" cy="382" r="6"/>
<circle cx="1651" cy="370" r="6"/>
<circle cx="1697" cy="404" r="6"/>
<circle cx="1764" cy="399" r="6"/>
<circle cx="1712" cy="411" r="6"/>
<circle cx="1720" cy="411" r="6"/>
<circle cx="1739" cy="407" r="6"/>
<circle cx="1730" cy="389" r="6"/>
<circle cx="1772" cy="408" r="6"/>
<circle cx="1664" cy="427" r="6"/>
</g>
<g class="o">
<circle cx="1630" cy="385" r="6"/>
</g>
<g class="b">
<circle cx="1722" cy="362" r="6"/>
<circle cx="1736" cy="390" r="6"/>
</g>
<g class="o">
<circle cx="1732" cy="378" r="6"/>
</g>
<g class="b">
<circle cx="1697" cy="382" r="6"/>
</g>
<g class="o">
<circle cx="1698" cy="376" r="6"/>
</g>
<g class="b">
<circle cx="1724" cy="379" r="6"/>
</g>
<g class="o">
<circle cx="1755" cy="410" r="6"/>
</g>
<g class="b">
<circle cx="1784" cy="401" r="6"/>
<circle cx="1729" cy="365" r="6"/>
</g>
<g class="o">
<circle cx="1764" cy="382" r="6"/>
</g>
<g class="b">
<circle cx="1637" cy="363" r="6"/>
</g>
<g class="o">
<circle cx="1658" cy="402" r="6"/>
</g>
<g class="b">
<circle cx="1695" cy="372" r="6"/>
<circle cx="1630" cy="410" r="6"/>
<circle cx="1744" cy="392" r="6"/>
<circle cx="1669" cy="371" r="6"/>
<circle cx="1620" cy="368" r="6"/>
<circle cx="1596" cy="406" r="6"/>
<circle cx="1809" cy="376" r="6"/>
<circle cx="1747" cy="405" r="6"/>
<circle cx="1637" cy="408" r="6"/>
<circle cx="1728" cy="373" r="6"/>
</g>
<g class="o">
<circle cx="1787" cy="397" r="6"/>
</g>
<g class="b">
<circle cx="1735" cy="408" r="6"/>
</g>
<g class="o">
<circle cx="1635" cy="388" r="6"/>
</g>
<g class="b">
<circle cx="1820" cy="391" r="6"/>
</g>
<g class="o">
<circle cx="1674" cy="418" r="6"/>
</g>
<g class="b">
<circle cx="1691" cy="408" r="6"/>
<circle cx="1686" cy="380" r="6"/>
<circle cx="1585" cy="387" r="6"/>
</g>
<g class="o">
<circle cx="1598" cy="397" r="6"/>
</g>
<g class="b">
<circle cx="1653" cy="393" r="6"/>
<circle cx="1748" cy="415" r="6"/>
<circle cx="1683" cy="426" r="6"/>
<circle cx="1552" cy="387" r="6"/>
</g>
<g class="o">
<circle cx="1622" cy="402" r="6"/>
</g>
<g class="b">
<circle cx="1709" cy="413" r="6"/>
</g>
<g class="o">
<circle cx="1652" cy="414" r="6"/>
<circle cx="1737" cy="367" r="6"/>
</g>
<g class="b">
<circle cx="1682" cy="379" r="6"/>
<circle cx="1665" cy="412" r="6"/>
<circle cx="1613" cy="396" r="6"/>
<circle cx="1619" cy="401" r="6"/>
<circle cx="1591" cy="192" r="6"/>
<circle cx="1634" cy="385" r="6"/>
</g>
<g class="o">
<circle cx="1667" cy="411" r="6"/>
</g>
<g class="b">
<circle cx="1881" cy="346" r="6"/>
</g>
<g class="o">
<circle cx="1652" cy="376" r="6"/>
</g>
<g class="b">
<circle cx="1768" cy="371" r="6"/>
</g>
<g class="o">
<circle cx="1676" cy="427" r="6"/>
</g>
<g class="b">
<circle cx="1780" cy="395" r="6"/>
<circle cx="1748" cy="406" r="6"/>
</g>
<g class="o">
<circle cx="1644" cy="380" r="6"/>
</g>
<g class="b">
<circle cx="1656" cy="390" r="6"/>
<circle cx="1715" cy="406" r="6"/>
<circle cx="1707" cy="372" r="6"/>
<circle cx="1737" cy="374" r="6"/>
<circle cx="1708" cy="415" r="6"/>
</g>
<g class="o">
<circle cx="1638" cy="397" r="6"/>
</g>
<g class="b">
<circle cx="1702" cy="377" r="6"/>
<circle cx="1708" cy="375" r="6"/>
</g>
<g class="o">
<circle cx="1660" cy="401" r="6"/>
<circle cx="1758" cy="404" r="6"/>
</g>
<g class="b">
<circle cx="1565" cy="314" r="6"/>
</g>
<g class="o">
<circle cx="1625" cy="400" r="6"/>
</g>
<g class="b">
<circle cx="1668" cy="346" r="6"/>
<circle cx="1612" cy="404" r="6"/>
<circle cx="1687" cy="414" r="6"/>
<circle cx="1599" cy="392" r="6"/>
<circle cx="1704" cy="411" r="6"/>
<circle cx="1671" cy="381" r="6"/>
</g>
<g class="o">
<circle cx="1631" cy="407" r="6"/>
<circle cx="1589" cy="396" r="6"/>
</g>
<g class="b">
<circle cx="1753" cy="406" r="6"/>
</g>
<g class="o">
<circle cx="1656" cy="412" r="6"/>
</g>
<g class="b">
<circle cx="1703" cy="381" r="6"/>
</g>
<g class="o">
<circle cx="1764" cy="361" r="6"/>
</g>
<g class="b">
<circle cx="1750" cy="383" r="6"/>
<circle cx="1619" cy="387" r="6"/>
<circle cx="1733" cy="395" r="6"/>
<circle cx="1638" cy="378" r="6"/>
<circle cx="1692" cy="369" r="6"/>
<circle cx="1637" cy="386" r="6"/>
<circle cx="1665" cy="382" r="6"/>
<circle cx="1701" cy="405" r="6"/>
</g>
<g class="o">
<circle cx="1635" cy="388" r="6"/>
</g>
<g class="b">
<circle cx="1777" cy="380" r="6"/>
</g>
<g class="o">
<circle cx="1725" cy="412" r="6"/>
<circle cx="1564" cy="389" r="6"/>
<circle cx="1642" cy="415" r="6"/>
</g>
<g class="b">
<circle cx="1781" cy="390" r="6"/>
<circle cx="1714" cy="377" r="6"/>
<circle cx="1605" cy="400" r="6"/>
<circle cx="1611" cy="382" r="6"/>
<circle cx="1576" cy="408" r="6"/>
<circle cx="1829" cy="372" r="6"/>
</g>
<g class="o">
<circle cx="1600" cy="397" r="6"/>
</g>
<g class="b">
<circle cx="1762" cy="404" r="6"/>
<circle cx="1583" cy="390" r="6"/>
<circle cx="1670" cy="414" r="6"/>
<circle cx="1645" cy="385" r="6"/>
<circle cx="1662" cy="374" r="6"/>
<circle cx="1722" cy="413" r="6"/>
</g>
<g class="o">
<circle cx="1658" cy="400" r="6"/>
<circle cx="1736" cy="406" r="6"/>
</g>
<g class="b">
<circle cx="1542" cy="399" r="6"/>
</g>
<g class="o">
<circle cx="1694" cy="379" r="6"/>
</g>
<g class="b">
<circle cx="1774" cy="390" r="6"/>
</g>
<g class="o">
<circle cx="1692" cy="431" r="6"/>
<circle cx="1645" cy="357" r="6"/>
</g>
<g class="b">
<circle cx="1706" cy="378" r="6"/>
<circle cx="1738" cy="364" r="6"/>
<circle cx="1624" cy="399" r="6"/>
<circle cx="1624" cy="275" r="6"/>
</g>
<g class="o">
<circle cx="1605" cy="407" r="6"/>
</g>
<g class="b">
<circle cx="1748" cy="393" r="6"/>
<circle cx="1571" cy="417" r="6"/>
<circle cx="1615" cy="363" r="6"/>
<circle cx="1665" cy="423" r="6"/>
<circle cx="1743" cy="367" r="6"/>
<circle cx="1632" cy="377" r="6"/>
<circle cx="1718" cy="373" r="6"/>
<circle cx="1749" cy="419" r="6"/>
</g>
<g class="o">
<circle cx="1757" cy="382" r="6"/>
</g>
<g class="b">
<circle cx="1648" cy="395" r="6"/>
<circle cx="1794" cy="390" r="6"/>
<circle cx="1652" cy="403" r="6"/>
</g>
<g class="o">
<circle cx="1754" cy="392" r="6"/>
</g>
<g class="b">
<circle cx="1703" cy="383" r="6"/>
<circle cx="1762" cy="382" r="6"/>
<circle cx="1688" cy="412" r="6"/>
<circle cx="1631" cy="410" r="6"/>
</g>
<g class="o">
<circle cx="1657" cy="397" r="6"/>
<circle cx="1648" cy="399" r="6"/>
<circle cx="1578" cy="415" r="6"/>
<circle cx="1609" cy="392" r="6"/>
<circle cx="1707" cy="418" r="6"/>
</g>
<g class="b">
<circle cx="1697" cy="383" r="6"/>
<circle cx="1662" cy="409" r="6"/>
<circle cx="1622" cy="378" r="6"/>
<circle cx="1642" cy="405" r="6"/>
<circle cx="1633" cy="424" r="6"/>
<circle cx="1725" cy="387" r="6"/>
<circle cx="1653" cy="372" r="6"/>
<circle cx="1721" cy="338" r="6"/>
<circle cx="1656" cy="417" r="6"/>
</g>
<g class="o">
<circle cx="1756" cy="410" r="6"/>
</g>
<g class="b">
<circle cx="1723" cy="389" r="6"/>
</g>
<g class="o">
<circle cx="1720" cy="382" r="6"/>
<circle cx="1741" cy="369" r="6"/>
<circle cx="1736" cy="403" r="6"/>
</g>
<g class="b">
<circle cx="1649" cy="376" r="6"/>
<circle cx="1562" cy="414" r="6"/>
<circle cx="1619" cy="401" r="6"/>
</g>
<g class="o">
<circle cx="1757" cy="390" r="6"/>
</g>
<g class="b">
<circle cx="1642" cy="417" r="6"/>
</g>
<g class="o">
<circle cx="1744" cy="401" r="6"/>
</g>
<g class="b">
<circle cx="1585" cy="386" r="6"/>
<circle cx="1720" cy="382" r="6"/>
<circle cx="1669" cy="379" r="6"/>
</g>
<g class="o">
<circle cx="1651" cy="422" r="6"/>
</g>
<g class="b">
<circle cx="1706" cy="373" r="6"/>
<circle cx="1632" cy="364" r="6"/>
<circle cx="1806" cy="336" r="6"/>
<circle cx="1709" cy="371" r="6"/>
<circle cx="1647" cy="369" r="6"/>
<circle cx="1670" cy="365" r="6"/>
</g>
<g class="o">
<circle cx="1726" cy="405" r="6"/>
</g>
<g class="b">
<circle cx="1626" cy="379" r="6"/>
</g>
<g class="o">
<circle cx="1751" cy="394" r="6"/>
</g>
<g class="b">
<circle cx="1651" cy="367" r="6"/>
</g>
<g class="o">
<circle cx="1749" cy="418" r="6"/>
</g>
<g class="b">
<circle cx="1633" cy="408" r="6"/>
<circle cx="1763" cy="396" r="6"/>
<circle cx="1618" cy="393" r="6"/>
<circle cx="1604" cy="430" r="6"/>
</g>
<g class="o">
<circle cx="1618" cy="380" r="6"/>
<circle cx="1629" cy="418" r="6"/>
<circle cx="1579" cy="422" r="6"/>
</g>
<g class="b">
<circle cx="1759" cy="367" r="6"/>
<circle cx="1731" cy="375" r="6"/>
</g>
<g class="o">
<circle cx="1622" cy="409" r="6"/>
<circle cx="1667" cy="416" r="6"/>
<circle cx="1731" cy="375" r="6"/>
</g>
<g class="b">
<circle cx="1700" cy="427" r="6"/>
<circle cx="1709" cy="365" r="6"/>
<circle cx="1602" cy="358" r="6"/>
<circle cx="1731" cy="399" r="6"/>
<circle cx="1594" cy="364" r="6"/>
<circle cx="1768" cy="420" r="6"/>
</g>
<g class="o">
<circle cx="1687" cy="384" r="6"/>
<circle cx="1583" cy="408" r="6"/>
<circle cx="1644" cy="393" r="6"/>
<circle cx="1634" cy="381" r="6"/>
</g>
<g class="b">
<circle cx="1652" cy="358" r="6"/>
</g>
<g class="o">
<circle cx="1669" cy="424" r="6"/>
</g>
<g class="b">
<circle cx="1709" cy="385" r="6"/>
<circle cx="1634" cy="428" r="6"/>
<circle cx="1711" cy="413" r="6"/>
<circle cx="1717" cy="374" r="6"/>
<circle cx="1755" cy="381" r="6"/>
</g>
<g class="o">
<circle cx="1651" cy="379" r="6"/>
</g>
<g class="b">
<circle cx="1599" cy="398" r="6"/>
<circle cx="1653" cy="384" r="6"/>
<circle cx="1727" cy="374" r="6"/>
<circle cx="1708" cy="386" r="6"/>
<circle cx="1623" cy="397" r="6"/>
<circle cx="1650" cy="401" r="6"/>
<circle cx="1657" cy="379" r="6"/>
<circle cx="1608" cy="387" r="6"/>
<circle cx="1635" cy="387" r="6"/>
</g>
<g class="o">
<circle cx="1760" cy="409" r="6"/>
<circle cx="1738" cy="403" r="6"/>
</g>
<g class="b">
<circle cx="1706" cy="374" r="6"/>
<circle cx="1620" cy="368" r="6"/>
<circle cx="1639" cy="365" r="6"/>
</g>
<g class="o">
<circle cx="1643" cy="392" r="6"/>
</g>
<g class="b">
<circle cx="1600" cy="386" r="6"/>
<circle cx="1730" cy="368" r="6"/>
<circle cx="1740" cy="385" r="6"/>
</g>
<g class="o">
<circle cx="1638" cy="385" r="6"/>
<circle cx="1722" cy="408" r="6"/>
</g>
<g class="b">
<circle cx="1714" cy="384" r="6"/>
<circle cx="1618" cy="373" r="6"/>
</g>
<g class="o">
<circle cx="1746" cy="401" r="6"/>
<circle cx="1559" cy="397" r="6"/>
</g>
<g class="b">
<circle cx="1800" cy="402" r="6"/>
<circle cx="1712" cy="422" r="6"/>
</g>
<g class="o">
<circle cx="1638" cy="420" r="6"/>
</g>
<g class="b">
<circle cx="1743" cy="366" r="6"/>
<circle cx="1738" cy="364" r="6"/>
<circle cx="1654" cy="367" r="6"/>
</g>
<g class="o">
<circle cx="1678" cy="421" r="6"/>
</g>
<g class="b">
<circle cx="1637" cy="400" r="6"/>
</g>
<g class="o">
<circle cx="1737" cy="394" r="6"/>
</g>
<g class="b">
<circle cx="1693" cy="384" r="6"/>
<circle cx="1734" cy="419" r="6"/>
</g>
<g class="o">
<circle cx="1721" cy="404" r="6"/>
<circle cx="1737" cy="391" r="6"/>
<circle cx="1640" cy="418" r="6"/>
</g>
<g class="b">
<circle cx="1720" cy="364" r="6"/>
<circle cx="1633" cy="347" r="6"/>
<circle cx="1656" cy="414" r="6"/>
</g>
<g class="o">
<circle cx="1644" cy="379" r="6"/>
</g>
<g class="b">
<circle cx="1655" cy="381" r="6"/>
<circle cx="1655" cy="412" r="6"/>
<circle cx="1642" cy="382" r="6"/>
<circle cx="1656" cy="403" r="6"/>
<circle cx="1656" cy="409" r="6"/>
<circle cx="1673" cy="411" r="6"/>
<circle cx="1782" cy="415" r="6"/>
<circle cx="1598" cy="399" r="6"/>
<circle cx="1638" cy="398" r="6"/>
<circle cx="1804" cy="407" r="6"/>
<circle cx="1649" cy="405" r="6"/>
<circle cx="1615" cy="403" r="6"/>
<circle cx="1718" cy="379" r="6"/>
<circle cx="1595" cy="362" r="6"/>
<circle cx="1805" cy="397" r="6"/>
<circle cx="1599" cy="389" r="6"/>
</g>
<g class="o">
<circle cx="1716" cy="420" r="6"/>
</g>
<g class="b">
<circle cx="1672" cy="390" r="6"/>
<circle cx="1608" cy="372" r="6"/>
<circle cx="1579" cy="405" r="6"/>
<circle cx="1705" cy="376" r="6"/>
<circle cx="1778" cy="467" r="6"/>
</g>
<g class="o">
<circle cx="1680" cy="408" r="6"/>
</g>
<g class="b">
<circle cx="1646" cy="413" r="6"/>
<circle cx="1685" cy="383" r="6"/>
<circle cx="1774" cy="390" r="6"/>
<circle cx="1549" cy="367" r="6"/>
<circle cx="1653" cy="400" r="6"/>
</g>
<g class="o">
<circle cx="1672" cy="410" r="6"/>
</g>
<g class="b">
<circle cx="1738" cy="377" r="6"/>
<circle cx="1732" cy="388" r="6"/>
<circle cx="1666" cy="367" r="6"/>
<circle cx="1587" cy="380" r="6"/>
<circle cx="1601" cy="385" r="6"/>
</g>
<g class="o">
<circle cx="1722" cy="400" r="6"/>
</g>
<g class="b">
<circle cx="1652" cy="390" r="6"/>
<circle cx="1702" cy="409" r="6"/>
<circle cx="1666" cy="430" r="6"/>
</g>
<g class="o">
<circle cx="1595" cy="381" r="6"/>
<circle cx="1663" cy="396" r="6"/>
<circle cx="1679" cy="405" r="6"/>
</g>
<g class="b">
<circle cx="1677" cy="380" r="6"/>
<circle cx="1690" cy="419" r="6"/>
</g>
<g class="o">
<circle cx="1738" cy="407" r="6"/>
</g>
<g class="b">
<circle cx="1761" cy="408" r="6"/>
<circle cx="1633" cy="380" r="6"/>
<circle cx="1684" cy="416" r="6"/>
</g>
<g class="o">
<circle cx="1642" cy="392" r="6"/>
</g>
<g class="b">
<circle cx="1640" cy="381" r="6"/>
<circle cx="1675" cy="368" r="6"/>
<circle cx="1733" cy="392" r="6"/>
</g>
<g class="o">
<circle cx="1714" cy="410" r="6"/>
</g>
<g class="b">
<circle cx="1760" cy="389" r="6"/>
<circle cx="1659" cy="384" r="6"/>
</g>
<g class="o">
<circle cx="1732" cy="364" r="6"/>
</g>
<g class="b">
<circle cx="1735" cy="412" r="6"/>
<circle cx="1661" cy="383" r="6"/>
<circle cx="1749" cy="397" r="6"/>
<circle cx="1678" cy="406" r="6"/>
<circle cx="1627" cy="374" r="6"/>
<circle cx="1736" cy="391" r="6"/>
<circle cx="1701" cy="383" r="6"/>
<circle cx="1672" cy="404" r="6"/>
<circle cx="1621" cy="378" r="6"/>
</g>
<g class="o">
<circle cx="1690" cy="403" r="6"/>
</g>
<g class="b">
<circle cx="1719" cy="382" r="6"/>
</g>
<g class="o">
<circle cx="1680" cy="408" r="6"/>
</g>
<g class="b">
<circle cx="1724" cy="398" r="6"/>
<circle cx="1638" cy="374" r="6"/>
<circle cx="1593" cy="361" r="6"/>
<circle cx="1636" cy="358" r="6"/>
<circle cx="1646" cy="398" r="6"/>
<circle cx="1597" cy="388" r="6"/>
<circle cx="1737" cy="397" r="6"/>
<circle cx="1665" cy="391" r="6"/>
<circle cx="1681" cy="407" r="6"/>
<circle cx="1597" cy="385" r="6"/>
<circle cx="1564" cy="385" r="6"/>
<circle cx="1604" cy="331" r="6"/>
<circle cx="1623" cy="357" r="6"/>
<circle cx="1630" cy="387" r="6"/>
</g>
<g class="o">
<circle cx="1716" cy="397" r="6"/>
<circle cx="1709" cy="382" r="6"/>
</g>
<g class="b">
<circle cx="1747" cy="383" r="6"/>
<circle cx="1758" cy="390" r="6"/>
<circle cx="1648" cy="414" r="6"/>
<circle cx="1690" cy="415" r="6"/>
<circle cx="1752" cy="405" r="6"/>
<circle cx="1637" cy="373" r="6"/>
<circle cx="1743" cy="361" r="6"/>
<circle cx="1713" cy="383" r="6"/>
</g>
<g class="o">
<circle cx="1672" cy="373" r="6"/>
</g>
<g class="b">
<circle cx="1757" cy="416" r="6"/>
<circle cx="1759" cy="392" r="6"/>
<circle cx="1679" cy="382" r="6"/>
<circle cx="1603" cy="388" r="6"/>
</g>
<g class="o">
<circle cx="1794" cy="383" r="6"/>
</g>
<g class="b">
<circle cx="1657" cy="362" r="6"/>
<circle cx="1626" cy="369" r="6"/>
<circle cx="1708" cy="412" r="6"/>
<circle cx="1750" cy="386" r="6"/>
</g>
<g class="o">
<circle cx="1628" cy="407" r="6"/>
<circle cx="1733" cy="382" r="6"/>
</g>
<g class="b">
<circle cx="1655" cy="401" r="6"/>
</g>
<g class="o">
<circle cx="1617" cy="393" r="6"/>
</g>
<g class="b">
<circle cx="1700" cy="384" r="6"/>
<circle cx="1686" cy="399" r="6"/>
</g>
<g class="o">
<circle cx="1683" cy="380" r="6"/>
</g>
<g class="b">
<circle cx="1696" cy="402" r="6"/>
<circle cx="1799" cy="376" r="6"/>
</g>
<g class="o">
<circle cx="1650" cy="417" r="6"/>
<circle cx="1708" cy="381" r="6"/>
<circle cx="1712" cy="375" r="6"/>
</g>
<g class="b">
<circle cx="1756" cy="362" r="6"/>
<circle cx="1677" cy="415" r="6"/>
</g>
<g class="o">
<circle cx="1684" cy="381" r="6"/>
</g>
<g class="b">
<circle cx="1651" cy="402" r="6"/>
</g>
<g class="o">
<circle cx="1668" cy="406" r="6"/>
</g>
<g class="b">
<circle cx="1604" cy="369" r="6"/>
</g>
<g class="o">
<circle cx="1722" cy="407" r="6"/>
</g>
<g class="b">
<circle cx="1685" cy="394" r="6"/>
<circle cx="1638" cy="391" r="6"/>
<circle cx="1636" cy="415" r="6"/>
</g>
<g class="o">
<circle cx="1634" cy="391" r="6"/>
<circle cx="1718" cy="403" r="6"/>
<circle cx="1697" cy="404" r="6"/>
</g>
<g class="b">
<circle cx="1644" cy="406" r="6"/>
<circle cx="1769" cy="376" r="6"/>
<circle cx="1628" cy="402" r="6"/>
<circle cx="1663" cy="397" r="6"/>
<circle cx="1683" cy="392" r="6"/>
<circle cx="1692" cy="358" r="6"/>
</g>
<g class="o">
<circle cx="1714" cy="412" r="6"/>
</g>
<g class="b">
<circle cx="1713" cy="400" r="6"/>
<circle cx="1584" cy="401" r="6"/>
<circle cx="1568" cy="372" r="6"/>
<circle cx="1730" cy="379" r="6"/>
</g>
<g class="o">
<circle cx="1701" cy="410" r="6"/>
</g>
<g class="b">
<circle cx="1735" cy="411" r="6"/>
</g>
<g class="o">
<circle cx="1664" cy="400" r="6"/>
</g>
<g class="b">
<circle cx="1675" cy="392" r="6"/>
<circle cx="1628" cy="369" r="6"/>
</g>
<g class="o">
<circle cx="1645" cy="420" r="6"/>
</g>
<g class="b">
<circle cx="1719" cy="406" r="6"/>
<circle cx="1614" cy="407" r="6"/>
</g>
<g class="o">
<circle cx="1684" cy="408" r="6"/>
</g>
<g class="b">
<circle cx="1672" cy="416" r="6"/>
<circle cx="1679" cy="365" r="6"/>
</g>
<g class="o">
<circle cx="1764" cy="387" r="6"/>
</g>
<g class="b">
<circle cx="1707" cy="397" r="6"/>
<circle cx="1714" cy="371" r="6"/>
<circle cx="1660" cy="412" r="6"/>
<circle cx="1759" cy="393" r="6"/>
<circle cx="1680" cy="378" r="6"/>
<circle cx="1621" cy="386" r="6"/>
<circle cx="1671" cy="392" r="6"/>
<circle cx="1628" cy="399" r="6"/>
</g>
<g class="o">
<circle cx="1648" cy="391" r="6"/>
</g>
<g class="b">
<circle cx="1737" cy="384" r="6"/>
</g>
<g class="o">
<circle cx="1746" cy="408" r="6"/>
</g>
<g class="b">
<circle cx="1615" cy="388" r="6"/>
<circle cx="1667" cy="386" r="6"/>
<circle cx="1676" cy="380" r="6"/>
<circle cx="1669" cy="396" r="6"/>
<circle cx="1681" cy="416" r="6"/>
<circle cx="1688" cy="361" r="6"/>
</g>
<g class="o">
<circle cx="1613" cy="418" r="6"/>
<circle cx="1667" cy="389" r="6"/>
</g>
<g class="b">
<circle cx="1705" cy="380" r="6"/>
<circle cx="1674" cy="381" r="6"/>
<circle cx="1629" cy="404" r="6"/>
<circle cx="1749" cy="370" r="6"/>
<circle cx="1676" cy="361" r="6"/>
<circle cx="1654" cy="359" r="6"/>
<circle cx="1638" cy="389" r="6"/>
<circle cx="1673" cy="387" r="6"/>
<circle cx="1647" cy="373" r="6"/>
<circle cx="1692" cy="385" r="6"/>
<circle cx="1688" cy="386" r="6"/>
</g>
<g class="o">
<circle cx="1695" cy="397" r="6"/>
<circle cx="1588" cy="398" r="6"/>
</g>
<g class="b">
<circle cx="1632" cy="378" r="6"/>
<circle cx="1727" cy="403" r="6"/>
<circle cx="1666" cy="383" r="6"/>
<circle cx="1664" cy="399" r="6"/>
</g>
<g class="o">
<circle cx="1719" cy="394" r="6"/>
</g>
<g class="b">
<circle cx="1689" cy="388" r="6"/>
<circle cx="1683" cy="377" r="6"/>
<circle cx="1707" cy="387" r="6"/>
<circle cx="1709" cy="387" r="6"/>
<circle cx="1710" cy="411" r="6"/>
<circle cx="1701" cy="355" r="6"/>
</g>
<g class="o">
<circle cx="1646" cy="380" r="6"/>
</g>
<g class="b">
<circle cx="1691" cy="403" r="6"/>
<circle cx="1710" cy="384" r="6"/>
<circle cx="1753" cy="386" r="6"/>
<circle cx="1712" cy="396" r="6"/>
<circle cx="1723" cy="382" r="6"/>
</g>
<g class="o">
<circle cx="1676" cy="405" r="6"/>
</g>
<g class="b">
<circle cx="1599" cy="393" r="6"/>
</g>
<g class="o">
<circle cx="1711" cy="406" r="6"/>
</g>
<g class="b">
<circle cx="1736" cy="414" r="6"/>
</g>
<g class="o">
<circle cx="1717" cy="392" r="6"/>
</g>
<g class="b">
<circle cx="1695" cy="366" r="6"/>
<circle cx="1638" cy="391" r="6"/>
<circle cx="1663" cy="411" r="6"/>
<circle cx="1659" cy="342" r="6"/>
<circle cx="1654" cy="371" r="6"/>
</g>
<g class="o">
<circle cx="1622" cy="396" r="6"/>
</g>
<g class="b">
<circle cx="1751" cy="382" r="6"/>
</g>
<g class="o">
<circle cx="1693" cy="389" r="6"/>
</g>
<g class="b">
<circle cx="1670" cy="353" r="6"/>
<circle cx="1708" cy="402" r="6"/>
</g>
<g class="o">
<circle cx="1697" cy="373" r="6"/>
<circle cx="1676" cy="389" r="6"/>
</g>
<g class="b">
<circle cx="1673" cy="392" r="6"/>
</g>
<g class="o">
<circle cx="1634" cy="414" r="6"/>
</g>
<g class="b">
<circle cx="1683" cy="407" r="6"/>
<circle cx="1690" cy="409" r="6"/>
</g>
<g class="o">
<circle cx="1562" cy="381" r="6"/>
</g>
<g class="b">
<circle cx="1664" cy="387" r="6"/>
<circle cx="1715" cy="391" r="6"/>
</g>
<g class="o">
<circle cx="1616" cy="379" r="6"/>
</g>
<g class="b">
<circle cx="1773" cy="388" r="6"/>
<circle cx="1732" cy="376" r="6"/>
<circle cx="1755" cy="372" r="6"/>
<circle cx="1711" cy="400" r="6"/>
<circle cx="1696" cy="390" r="6"/>
<circle cx="1764" cy="405" r="6"/>
</g>
<g class="o">
<circle cx="1724" cy="398" r="6"/>
</g>
<g class="b">
<circle cx="1673" cy="416" r="6"/>
</g>
<g class="o">
<circle cx="1624" cy="401" r="6"/>
<circle cx="1612" cy="397" r="6"/>
</g>
<g class="b">
<circle cx="1708" cy="383" r="6"/>
<circle cx="1653" cy="409" r="6"/>
<circle cx="1709" cy="373" r="6"/>
<circle cx="1702" cy="369" r="6"/>
</g>
<g class="o">
<circle cx="1613" cy="383" r="6"/>
</g>
<g class="b">
<circle cx="1704" cy="390" r="6"/>
<circle cx="1718" cy="387" r="6"/>
<circle cx="1705" cy="392" r="6"/>
<circle cx="1668" cy="408" r="6"/>
</g>
<g class="o">
<circle cx="1724" cy="402" r="6"/>
</g>
<g class="b">
<circle cx="1567" cy="370" r="6"/>
<circle cx="1716" cy="406" r="6"/>
<circle cx="1599" cy="401" r="6"/>
<circle cx="1727" cy="396" r="6"/>
<circle cx="1614" cy="389" r="6"/>
<circle cx="1643" cy="364" r="6"/>
<circle cx="1638" cy="394" r="6"/>
<circle cx="1744" cy="369" r="6"/>
<circle cx="1697" cy="379" r="6"/>
<circle cx="1825" cy="444" r="6"/>
<circle cx="1663" cy="369" r="6"/>
<circle cx="1589" cy="445" r="6"/>
</g>
<g class="o">
<circle cx="1740" cy="424" r="6"/>
</g>
<g class="b">
<circle cx="1647" cy="412" r="6"/>
</g>
<g class="o">
<circle cx="1739" cy="377" r="6"/>
<circle cx="1595" cy="376" r="6"/>
</g>
<g class="b">
<circle cx="1636" cy="371" r="6"/>
</g>
<g class="o">
<circle cx="1766" cy="385" r="6"/>
<circle cx="1655" cy="398" r="6"/>
</g>
<g class="b">
<circle cx="1653" cy="378" r="6"/>
<circle cx="1702" cy="418" r="6"/>
<circle cx="1758" cy="390" r="6"/>
<circle cx="1719" cy="394" r="6"/>
</g>
<g class="o">
<circle cx="1660" cy="399" r="6"/>
</g>
<g class="b">
<circle cx="1717" cy="416" r="6"/>
<circle cx="1694" cy="358" r="6"/>
<circle cx="1731" cy="403" r="6"/>
<circle cx="1685" cy="388" r="6"/>
</g>
<g class="o">
<circle cx="1722" cy="400" r="6"/>
</g>
<g class="b">
<circle cx="1700" cy="379" r="6"/>
<circle cx="1701" cy="402" r="6"/>
<circle cx="1693" cy="385" r="6"/>
</g>
<g class="o">
<circle cx="1718" cy="392" r="6"/>
</g>
<g class="b">
<circle cx="1564" cy="384" r="6"/>
<circle cx="1653" cy="369" r="6"/>
</g>
<g class="o">
<circle cx="1734" cy="392" r="6"/>
</g>
<g class="b">
<circle cx="1731" cy="363" r="6"/>
<circle cx="1705" cy="391" r="6"/>
</g>
<g class="o">
<circle cx="1753" cy="404" r="6"/>
<circle cx="1678" cy="374" r="6"/>
<circle cx="1657" cy="384" r="6"/>
</g>
<g class="b">
<circle cx="1687" cy="404" r="6"/>
<circle cx="1652" cy="376" r="6"/>
<circle cx="1716" cy="382" r="6"/>
<circle cx="1656" cy="389" r="6"/>
<circle cx="1672" cy="394" r="6"/>
<circle cx="1701" cy="409" r="6"/>
</g>
<g class="o">
<circle cx="1658" cy="417" r="6"/>
</g>
<g class="b">
<circle cx="1697" cy="384" r="6"/>
<circle cx="1700" cy="416" r="6"/>
<circle cx="1628" cy="419" r="6"/>
<circle cx="1723" cy="416" r="6"/>
</g>
<g class="o">
<circle cx="1658" cy="375" r="6"/>
</g>
<g class="b">
<circle cx="1654" cy="356" r="6"/>
<circle cx="1702" cy="423" r="6"/>
<circle cx="1624" cy="391" r="6"/>
<circle cx="1747" cy="383" r="6"/>
<circle cx="1686" cy="384" r="6"/>
<circle cx="1652" cy="361" r="6"/>
<circle cx="1695" cy="366" r="6"/>
</g>
<g class="o">
<circle cx="1626" cy="387" r="6"/>
</g>
<g class="b">
<circle cx="1599" cy="427" r="6"/>
<circle cx="1617" cy="407" r="6"/>
<circle cx="1673" cy="382" r="6"/>
<circle cx="1611" cy="359" r="6"/>
<circle cx="1668" cy="398" r="6"/>
<circle cx="1705" cy="393" r="6"/>
<circle cx="1590" cy="414" r="6"/>
<circle cx="1640" cy="391" r="6"/>
<circle cx="1596" cy="371" r="6"/>
</g>
<g class="o">
<circle cx="1727" cy="399" r="6"/>
</g>
<g class="b">
<circle cx="1682" cy="398" r="6"/>
<circle cx="1726" cy="392" r="6"/>
<circle cx="1764" cy="388" r="6"/>
</g>
<g class="o">
<circle cx="1669" cy="409" r="6"/>
</g>
<g class="b">
<circle cx="1727" cy="381" r="6"/>
</g>
<g class="o">
<circle cx="1709" cy="377" r="6"/>
</g>
<g class="b">
<circle cx="1714" cy="397" r="6"/>
<circle cx="1742" cy="373" r="6"/>
<circle cx="1657" cy="377" r="6"/>
<circle cx="1667" cy="379" r="6"/>
<circle cx="1653" cy="406" r="6"/>
<circle cx="1636" cy="360" r="6"/>
<circle cx="1625" cy="395" r="6"/>
</g>
<g class="o">
<circle cx="1690" cy="400" r="6"/>
</g>
<g class="b">
<circle cx="1700" cy="399" r="6"/>
<circle cx="1672" cy="363" r="6"/>
<circle cx="1682" cy="414" r="6"/>
<circle cx="1637" cy="318" r="6"/>
</g>
<g class="o">
<circle cx="1742" cy="385" r="6"/>
</g>
<g class="b">
<circle cx="1709" cy="370" r="6"/>
<circle cx="1676" cy="395" r="6"/>
<circle cx="1659" cy="352" r="6"/>
</g>
<g class="o">
<circle cx="1732" cy="398" r="6"/>
</g>
<g class="b">
<circle cx="1542" cy="347" r="6"/>
<circle cx="1607" cy="369" r="6"/>
<circle cx="1700" cy="373" r="6"/>
</g>
<g class="o">
<circle cx="1618" cy="392" r="6"/>
</g>
<g class="b">
<circle cx="1662" cy="398" r="6"/>
<circle cx="1665" cy="402" r="6"/>
</g>
<g class="o">
<circle cx="1736" cy="411" r="6"/>
</g>
<g class="b">
<circle cx="1791" cy="378" r="6"/>
</g>
<g class="o">
<circle cx="1648" cy="398" r="6"/>
<circle cx="1647" cy="389" r="6"/>
<circle cx="1688" cy="385" r="6"/>
</g>
<g class="b">
<circle cx="1670" cy="385" r="6"/>
</g>
<g class="o">
<circle cx="1698" cy="394" r="6"/>
</g>
<g class="b">
<circle cx="1739" cy="381" r="6"/>
<circle cx="1693" cy="379" r="6"/>
<circle cx="1551" cy="364" r="6"/>
</g>
<g class="o">
<circle cx="1719" cy="400" r="6"/>
</g>
<g class="b">
<circle cx="1692" cy="407" r="6"/>
<circle cx="1727" cy="376" r="6"/>
<circle cx="1701" cy="382" r="6"/>
<circle cx="1670" cy="402" r="6"/>
<circle cx="1702" cy="366" r="6"/>
<circle cx="1722" cy="381" r="6"/>
</g>
<g class="o">
<circle cx="1711" cy="388" r="6"/>
</g>
<g class="b">
<circle cx="1653" cy="382" r="6"/>
<circle cx="1613" cy="403" r="6"/>
<circle cx="1767" cy="389" r="6"/>
<circle cx="1656" cy="386" r="6"/>
<circle cx="1593" cy="372" r="6"/>
<circle cx="1718" cy="374" r="6"/>
</g>
<g class="o">
<circle cx="1652" cy="395" r="6"/>
</g>
<g class="b">
<circle cx="1754" cy="392" r="6"/>
<circle cx="1677" cy="391" r="6"/>
<circle cx="1601" cy="372" r="6"/>
</g>
<g class="o">
<circle cx="1682" cy="374" r="6"/>
<circle cx="1739" cy="390" r="6"/>
<circle cx="1721" cy="416" r="6"/>
</g>
<g class="b">
<circle cx="1656" cy="369" r="6"/>
<circle cx="1660" cy="386" r="6"/>
<circle cx="1732" cy="363" r="6"/>
</g>
<g class="o">
<circle cx="1731" cy="395" r="6"/>
</g>
<g class="b">
<circle cx="1761" cy="390" r="6"/>
<circle cx="1613" cy="371" r="6"/>
<circle cx="1721" cy="391" r="6"/>
</g>
<g class="o">
<circle cx="1717" cy="385" r="6"/>
</g>
<g class="b">
<circle cx="1711" cy="389" r="6"/>
<circle cx="1810" cy="384" r="6"/>
<circle cx="1789" cy="424" r="6"/>
</g>
<g class="o">
<circle cx="1661" cy="409" r="6"/>
</g>
<g class="b">
<circle cx="1630" cy="402" r="6"/>
<circle cx="1569" cy="368" r="6"/>
<circle cx="1723" cy="394" r="6"/>
<circle cx="1753" cy="412" r="6"/>
<circle cx="1716" cy="374" r="6"/>
</g>
<g class="o">
<circle cx="1733" cy="375" r="6"/>
</g>
<g class="b">
<circle cx="1641" cy="373" r="6"/>
<circle cx="1703" cy="389" r="6"/>
<circle cx="1750" cy="405" r="6"/>
<circle cx="1694" cy="401" r="6"/>
<circle cx="1736" cy="391" r="6"/>
</g>
<g class="o">
<circle cx="1666" cy="370" r="6"/>
<circle cx="1708" cy="413" r="6"/>
</g>
<g class="b">
<circle cx="1707" cy="373" r="6"/>
</g>
<g class="o">
<circle cx="1566" cy="393" r="6"/>
</g>
<g class="b">
<circle cx="1625" cy="382" r="6"/>
<circle cx="1696" cy="409" r="6"/>
<circle cx="1632" cy="390" r="6"/>
<circle cx="1752" cy="373" r="6"/>
<circle cx="1607" cy="386" r="6"/>
<circle cx="1728" cy="382" r="6"/>
</g>
<g class="o">
<circle cx="1690" cy="415" r="6"/>
</g>
<g class="b">
<circle cx="1767" cy="400" r="6"/>
<circle cx="1654" cy="417" r="6"/>
</g>
<g class="o">
<circle cx="1746" cy="399" r="6"/>
</g>
<g class="b">
<circle cx="1621" cy="373" r="6"/>
<circle cx="1679" cy="373" r="6"/>
</g>
<g class="o">
<circle cx="1696" cy="383" r="6"/>
</g>
<g class="b">
<circle cx="1616" cy="406" r="6"/>
<circle cx="1632" cy="396" r="6"/>
<circle cx="1660" cy="391" r="6"/>
<circle cx="1611" cy="370" r="6"/>
</g>
<g class="o">
<circle cx="1661" cy="378" r="6"/>
</g>
<g class="b">
<circle cx="1608" cy="380" r="6"/>
<circle cx="1668" cy="384" r="6"/>
<circle cx="1718" cy="389" r="6"/>
<circle cx="1693" cy="382" r="6"/>
<circle cx="1654" cy="357" r="6"/>
<circle cx="1603" cy="368" r="6"/>
<circle cx="1723" cy="391" r="6"/>
<circle cx="1656" cy="388" r="6"/>
</g>
<g class="o">
<circle cx="1604" cy="384" r="6"/>
</g>
<g class="b">
<circle cx="1686" cy="369" r="6"/>
<circle cx="1733" cy="419" r="6"/>
<circle cx="1602" cy="370" r="6"/>
<circle cx="1739" cy="389" r="6"/>
<circle cx="1708" cy="413" r="6"/>
<circle cx="1735" cy="390" r="6"/>
</g>
<g class="o">
<circle cx="1601" cy="377" r="6"/>
<circle cx="1694" cy="429" r="6"/>
</g>
<g class="b">
<circle cx="1644" cy="395" r="6"/>
<circle cx="1604" cy="383" r="6"/>
<circle cx="1628" cy="394" r="6"/>
<circle cx="1774" cy="395" r="6"/>
<circle cx="1694" cy="384" r="6"/>
<circle cx="1614" cy="419" r="6"/>
<circle cx="1698" cy="396" r="6"/>
<circle cx="1676" cy="401" r="6"/>
<circle cx="1694" cy="399" r="6"/>
</g>
<g class="o">
<circle cx="1714" cy="397" r="6"/>
<circle cx="1603" cy="382" r="6"/>
<circle cx="1641" cy="417" r="6"/>
</g>
<g class="b">
<circle cx="1718" cy="385" r="6"/>
<circle cx="1766" cy="392" r="6"/>
<circle cx="1685" cy="355" r="6"/>
<circle cx="1657" cy="395" r="6"/>
<circle cx="1725" cy="394" r="6"/>
<circle cx="1610" cy="413" r="6"/>
<circle cx="1749" cy="400" r="6"/>
<circle cx="1616" cy="388" r="6"/>
<circle cx="1732" cy="361" r="6"/>
</g>
<g class="o">
<circle cx="1682" cy="377" r="6"/>
</g>
<g class="b">
<circle cx="1762" cy="376" r="6"/>
<circle cx="1702" cy="400" r="6"/>
</g>
<g class="o">
<circle cx="1683" cy="405" r="6"/>
<circle cx="1750" cy="384" r="6"/>
<circle cx="1626" cy="369" r="6"/>
<circle cx="1649" cy="395" r="6"/>
<circle cx="1696" cy="387" r="6"/>
<circle cx="1650" cy="388" r="6"/>
<circle cx="1677" cy="410" r="6"/>
<circle cx="1676" cy="364" r="6"/>
<circle cx="1660" cy="382" r="6"/>
<circle cx="1685" cy="392" r="6"/>
<circle cx="1655" cy="384" r="6"/>
<circle cx="1690" cy="394" r="6"/>
<circle cx="1751" cy="396" r="6"/>
<circle cx="1660" cy="383" r="6"/>
<circle cx="1706" cy="407" r="6"/>
<circle cx="1731" cy="396" r="6"/>
<circle cx="1739" cy="379" r="6"/>
<circle cx="1701" cy="413" r="6"/>
<circle cx="1649" cy="410" r="6"/>
<circle cx="1700" cy="397" r="6"/>
<circle cx="1744" cy="395" r="6"/>
<circle cx="1678" cy="384" r="6"/>
<circle cx="1706" cy="398" r="6"/>
<circle cx="1739" cy="401" r="6"/>
<circle cx="1654" cy="387" r="6"/>
<circle cx="1662" cy="410" r="6"/>
<circle cx="1689" cy="412" r="6"/>
<circle cx="1791" cy="373" r="6"/>
<circle cx="1615" cy="399" r="6"/>
<circle cx="1663" cy="408" r="6"/>
<circle cx="1701" cy="409" r="6"/>
<circle cx="1712" cy="410" r="6"/>
<circle cx="1612" cy="399" r="6"/>
<circle cx="1664" cy="388" r="6"/>
<circle cx="1644" cy="401" r="6"/>
<circle cx="1666" cy="379" r="6"/>
<circle cx="1644" cy="414" r="6"/>
<circle cx="1665" cy="426" r="6"/>
<circle cx="1695" cy="395" r="6"/>
<circle cx="1641" cy="391" r="6"/>
<circle cx="1705" cy="404" r="6"/>
<circle cx="1644" cy="386" r="6"/>
<circle cx="1722" cy="373" r="6"/>
<circle cx="1766" cy="374" r="6"/>
<circle cx="1768" cy="396" r="6"/>
<circle cx="1699" cy="439" r="6"/>
<circle cx="1730" cy="400" r="6"/>
<circle cx="1678" cy="391" r="6"/>
<circle cx="1643" cy="386" r="6"/>
<circle cx="1628" cy="389" r="6"/>
<circle cx="1732" cy="404" r="6"/>
<circle cx="1634" cy="406" r="6"/>
<circle cx="1594" cy="405" r="6"/>
<circle cx="1705" cy="387" r="6"/>
<circle cx="1650" cy="403" r="6"/>
<circle cx="1650" cy="419" r="6"/>
<circle cx="1704" cy="398" r="6"/>
<circle cx="1587" cy="394" r="6"/>
<circle cx="1662" cy="395" r="6"/>
<circle cx="1817" cy="395" r="6"/>
<circle cx="1679" cy="400" r="6"/>
<circle cx="1714" cy="405" r="6"/>
<circle cx="1733" cy="401" r="6"/>
<circle cx="1611" cy="394" r="6"/>
<circle cx="1632" cy="391" r="6"/>
<circle cx="1597" cy="380" r="6"/>
<circle cx="1718" cy="370" r="6"/>
<circle cx="1635" cy="395" r="6"/>
<circle cx="1756" cy="396" r="6"/>
<circle cx="1644" cy="411" r="6"/>
<circle cx="1753" cy="386" r="6"/>
<circle cx="1699" cy="370" r="6"/>
<circle cx="1604" cy="394" r="6"/>
<circle cx="1687" cy="412" r="6"/>
<circle cx="1700" cy="419" r="6"/>
<circle cx="1682" cy="389" r="6"/>
<circle cx="1758" cy="396" r="6"/>
<circle cx="1702" cy="401" r="6"/>
<circle cx="1664" cy="387" r="6"/>
<circle cx="1797" cy="410" r="6"/>
<circle cx="1755" cy="406" r="6"/>
<circle cx="1715" cy="392" r="6"/>
<circle cx="1636" cy="376" r="6"/>
<circle cx="1705" cy="402" r="6"/>
<circle cx="1691" cy="387" r="6"/>
<circle cx="1692" cy="396" r="6"/>
<circle cx="1679" cy="399" r="6"/>
<circle cx="1636" cy="395" r="6"/>
<circle cx="1549" cy="379" r="6"/>
<circle cx="1648" cy="397" r="6"/>
<circle cx="1669" cy="400" r="6"/>
<circle cx="1616" cy="395" r="6"/>
<circle cx="1683" cy="388" r="6"/>
<circle cx="1724" cy="382" r="6"/>
<circle cx="1720" cy="409" r="6"/>
<circle cx="1677" cy="404" r="6"/>
<circle cx="1688" cy="405" r="6"/>
<circle cx="1730" cy="390" r="6"/>
<circle cx="1616" cy="387" r="6"/>
<circle cx="1626" cy="412" r="6"/>
<circle cx="1695" cy="399" r="6"/>
<circle cx="1644" cy="398" r="6"/>
<circle cx="1541" cy="394" r="6"/>
<circle cx="1686" cy="390" r="6"/>
<circle cx="1658" cy="412" r="6"/>
<circle cx="1698" cy="424" r="6"/>
<circle cx="1782" cy="412" r="6"/>
<circle cx="1622" cy="393" r="6"/>
<circle cx="1727" cy="408" r="6"/>
<circle cx="1638" cy="402" r="6"/>
<circle cx="1728" cy="381" r="6"/>
<circle cx="1633" cy="387" r="6"/>
<circle cx="1760" cy="394" r="6"/>
<circle cx="1698" cy="357" r="6"/>
<circle cx="1596" cy="406" r="6"/>
<circle cx="1598" cy="430" r="6"/>
<circle cx="1582" cy="386" r="6"/>
<circle cx="1679" cy="406" r="6"/>
<circle cx="1673" cy="370" r="6"/>
<circle cx="1656" cy="394" r="6"/>
<circle cx="1619" cy="386" r="6"/>
<circle cx="1684" cy="376" r="6"/>
<circle cx="1604" cy="377" r="6"/>
<circle cx="1646" cy="397" r="6"/>
<circle cx="1719" cy="390" r="6"/>
<circle cx="1677" cy="375" r="6"/>
<circle cx="1732" cy="391" r="6"/>
<circle cx="1744" cy="399" r="6"/>
<circle cx="1593" cy="423" r="6"/>
<circle cx="1755" cy="399" r="6"/>
<circle cx="1664" cy="377" r="6"/>
<circle cx="1619" cy="424" r="6"/>
<circle cx="1714" cy="403" r="6"/>
<circle cx="1675" cy="383" r="6"/>
<circle cx="1651" cy="411" r="6"/>
<circle cx="1607" cy="391" r="6"/>
<circle cx="1686" cy="391" r="6"/>
<circle cx="1641" cy="402" r="6"/>
<circle cx="1683" cy="384" r="6"/>
<circle cx="1676" cy="396" r="6"/>
<circle cx="1669" cy="392" r="6"/>
<circle cx="1609" cy="404" r="6"/>
<circle cx="1725" cy="400" r="6"/>
<circle cx="1682" cy="397" r="6"/>
<circle cx="1691" cy="404" r="6"/>
<circle cx="1671" cy="398" r="6"/>
<circle cx="1731" cy="412" r="6"/>
<circle cx="1686" cy="394" r="6"/>
<circle cx="1671" cy="387" r="6"/>
<circle cx="1655" cy="415" r="6"/>
<circle cx="1757" cy="404" r="6"/>
<circle cx="1748" cy="411" r="6"/>
<circle cx="1684" cy="409" r="6"/>
<circle cx="1686" cy="425" r="6"/>
<circle cx="1634" cy="396" r="6"/>
<circle cx="1707" cy="390" r="6"/>
<circle cx="1675" cy="402" r="6"/>
<circle cx="1588" cy="436" r="6"/>
<circle cx="1552" cy="410" r="6"/>
<circle cx="1680" cy="385" r="6"/>
<circle cx="1725" cy="387" r="6"/>
<circle cx="1810" cy="399" r="6"/>
<circle cx="1689" cy="393" r="6"/>
<circle cx="1638" cy="384" r="6"/>
<circle cx="1668" cy="407" r="6"/>
<circle cx="1616" cy="396" r="6"/>
<circle cx="1652" cy="397" r="6"/>
<circle cx="1759" cy="420" r="6"/>
<circle cx="1651" cy="417" r="6"/>
<circle cx="1628" cy="399" r="6"/>
<circle cx="1721" cy="403" r="6"/>
<circle cx="1711" cy="396" r="6"/>
<circle cx="1686" cy="395" r="6"/>
<circle cx="1637" cy="372" r="6"/>
<circle cx="1645" cy="394" r="6"/>
<circle cx="1682" cy="432" r="6"/>
<circle cx="1634" cy="393" r="6"/>
<circle cx="1701" cy="409" r="6"/>
<circle cx="1763" cy="378" r="6"/>
<circle cx="1734" cy="376" r="6"/>
<circle cx="1753" cy="370" r="6"/>
<circle cx="1735" cy="394" r="6"/>
<circle cx="1699" cy="385" r="6"/>
<circle cx="1663" cy="375" r="6"/>
<circle cx="1602" cy="365" r="6"/>
<circle cx="1630" cy="405" r="6"/>
<circle cx="1732" cy="405" r="6"/>
<circle cx="1720" cy="362" r="6"/>
<circle cx="1708" cy="398" r="6"/>
<circle cx="1681" cy="400" r="6"/>
<circle cx="1788" cy="389" r="6"/>
<circle cx="1709" cy="389" r="6"/>
<circle cx="1667" cy="403" r="6"/>
<circle cx="1644" cy="369" r="6"/>
<circle cx="1752" cy="380" r="6"/>
<circle cx="1685" cy="373" r="6"/>
<circle cx="1671" cy="414" r="6"/>
<circle cx="1629" cy="393" r="6"/>
<circle cx="1704" cy="369" r="6"/>
<circle cx="1652" cy="417" r="6"/>
<circle cx="1725" cy="410" r="6"/>
<circle cx="1674" cy="399" r="6"/>
<circle cx="1680" cy="385" r="6"/>
<circle cx="1707" cy="402" r="6"/>
<circle cx="1585" cy="390" r="6"/>
<circle cx="1711" cy="390" r="6"/>
<circle cx="1783" cy="417" r="6"/>
<circle cx="1656" cy="413" r="6"/>
<circle cx="1634" cy="400" r="6"/>
<circle cx="1732" cy="403" r="6"/>
<circle cx="1743" cy="385" r="6"/>
<circle cx="1623" cy="397" r="6"/>
<circle cx="1687" cy="404" r="6"/>
<circle cx="1603" cy="379" r="6"/>
<circle cx="1709" cy="378" r="6"/>
<circle cx="1697" cy="396" r="6"/>
<circle cx="1787" cy="390" r="6"/>
<circle cx="1714" cy="390" r="6"/>
<circle cx="1822" cy="397" r="6"/>
<circle cx="1695" cy="387" r="6"/>
<circle cx="1786" cy="397" r="6"/>
<circle cx="1720" cy="387" r="6"/>
<circle cx="1702" cy="401" r="6"/>
<circle cx="1649" cy="402" r="6"/>
<circle cx="1681" cy="407" r="6"/>
<circle cx="1718" cy="379" r="6"/>
<circle cx="1710" cy="401" r="6"/>
<circle cx="1705" cy="395" r="6"/>
<circle cx="1783" cy="401" r="6"/>
<circle cx="1748" cy="394" r="6"/>
<circle cx="1712" cy="386" r="6"/>
<circle cx="1751" cy="390" r="6"/>
<circle cx="1728" cy="399" r="6"/>
<circle cx="1648" cy="380" r="6"/>
<circle cx="1606" cy="396" r="6"/>
<circle cx="1575" cy="388" r="6"/>
<circle cx="1686" cy="380" r="6"/>
<circle cx="1619" cy="424" r="6"/>
<circle cx="1732" cy="422" r="6"/>
<circle cx="1685" cy="376" r="6"/>
<circle cx="1675" cy="415" r="6"/>
<circle cx="1728" cy="425" r="6"/>
<circle cx="1661" cy="384" r="6"/>
<circle cx="1703" cy="376" r="6"/>
<circle cx="1741" cy="374" r="6"/>
<circle cx="1673" cy="396" r="6"/>
<circle cx="1589" cy="392" r="6"/>
<circle cx="1653" cy="411" r="6"/>
<circle cx="1661" cy="388" r="6"/>
<circle cx="1756" cy="397" r="6"/>
<circle cx="1749" cy="390" r="6"/>
<circle cx="1665" cy="413" r="6"/>
<circle cx="1685" cy="383" r="6"/>
<circle cx="1781" cy="410" r="6"/>
<circle cx="1692" cy="410" r="6"/>
<circle cx="1635" cy="400" r="6"/>
<circle cx="1657" cy="404" r="6"/>
<circle cx="1689" cy="411" r="6"/>
<circle cx="1764" cy="403" r="6"/>
<circle cx="1646" cy="398" r="6"/>
<circle cx="1765" cy="371" r="6"/>
<circle cx="1676" cy="405" r="6"/>
<circle cx="1703" cy="393" r="6"/>
<circle cx="1710" cy="395" r="6"/>
<circle cx="1731" cy="398" r="6"/>
<circle cx="1646" cy="398" r="6"/>
<circle cx="1696" cy="374" r="6"/>
<circle cx="1726" cy="391" r="6"/>
<circle cx="1688" cy="390" r="6"/>
<circle cx="1653" cy="410" r="6"/>
<circle cx="1723" cy="417" r="6"/>
<circle cx="1664" cy="406" r="6"/>
<circle cx="1742" cy="378" r="6"/>
<circle cx="1571" cy="416" r="6"/>
<circle cx="1663" cy="378" r="6"/>
<circle cx="1724" cy="411" r="6"/>
<circle cx="1666" cy="376" r="6"/>
<circle cx="1663" cy="408" r="6"/>
<circle cx="1725" cy="384" r="6"/>
<circle cx="1635" cy="427" r="6"/>
<circle cx="1742" cy="411" r="6"/>
<circle cx="1691" cy="397" r="6"/>
<circle cx="1626" cy="414" r="6"/>
<circle cx="1703" cy="405" r="6"/>
<circle cx="1709" cy="404" r="6"/>
<circle cx="1692" cy="429" r="6"/>
<circle cx="1729" cy="398" r="6"/>
<circle cx="1683" cy="410" r="6"/>
<circle cx="1663" cy="398" r="6"/>
<circle cx="1683" cy="408" r="6"/>
<circle cx="1729" cy="407" r="6"/>
<circle cx="1643" cy="408" r="6"/>
<circle cx="1705" cy="404" r="6"/>
<circle cx="1585" cy="376" r="6"/>
<circle cx="1645" cy="394" r="6"/>
<circle cx="1738" cy="370" r="6"/>
<circle cx="1734" cy="407" r="6"/>
<circle cx="1728" cy="381" r="6"/>
<circle cx="1757" cy="402" r="6"/>
<circle cx="1641" cy="428" r="6"/>
<circle cx="1667" cy="391" r="6"/>
<circle cx="1706" cy="410" r="6"/>
<circle cx="1683" cy="399" r="6"/>
<circle cx="1687" cy="399" r="6"/>
<circle cx="1722" cy="389" r="6"/>
<circle cx="1718" cy="390" r="6"/>
<circle cx="1707" cy="393" r="6"/>
<circle cx="1625" cy="388" r="6"/>
<circle cx="1643" cy="387" r="6"/>
<circle cx="1657" cy="393" r="6"/>
<circle cx="1739" cy="370" r="6"/>
<circle cx="1671" cy="391" r="6"/>
<circle cx="1693" cy="375" r="6"/>
<circle cx="1677" cy="393" r="6"/>
<circle cx="1714" cy="409" r="6"/>
<circle cx="1665" cy="373" r="6"/>
<circle cx="1693" cy="401" r="6"/>
<circle cx="1637" cy="398" r="6"/>
<circle cx="1747" cy="400" r="6"/>
<circle cx="1721" cy="390" r="6"/>
<circle cx="1647" cy="410" r="6"/>
<circle cx="1699" cy="394" r="6"/>
<circle cx="1635" cy="392" r="6"/>
<circle cx="1688" cy="391" r="6"/>
<circle cx="1704" cy="387" r="6"/>
<circle cx="1656" cy="392" r="6"/>
<circle cx="1700" cy="389" r="6"/>
<circle cx="1714" cy="389" r="6"/>
<circle cx="1704" cy="388" r="6"/>
<circle cx="1762" cy="407" r="6"/>
<circle cx="1715" cy="373" r="6"/>
<circle cx="1685" cy="390" r="6"/>
<circle cx="1659" cy="399" r="6"/>
</g>
</g>
<path class="ar" d="M426.5 288.2L451.2 85.1M456.5 97.5L451.2 85.1L443.1 95.9"/>
<path class="ar" d="M426.5 288.2L461.6 71.5M466.4 84.1L461.6 71.5L453.1 82"/>
<path class="ar" d="M426.5 288.2L332 248.2M345.4 246.5L332 248.2L340.1 259"/>
<path class="ar" d="M426.5 288.2L333.6 324.7M342 314.1L333.6 324.7L346.9 326.7"/>
<path class="ar" d="M426.5 288.2L536.7 256.9M527.3 266.6L536.7 256.9L523.6 253.6"/>
<path class="ar" d="M426.5 288.2L504 283.5M492.7 290.9L504 283.5L491.9 277.5"/>
<path class="ar" d="M426.5 288.2L531.5 339M518 340L531.5 339L523.9 327.8"/>
<path class="ar" d="M426.5 288.2L487.3 459.4M477 450.6L487.3 459.4L489.7 446.1"/>
<path class="ar" d="M426.5 288.2L445 299M431.5 298.9L445 299L438.3 287.3"/>
<text class="lb" x="355.6" y="91.6">PI sites</text>
<text class="lb" x="466.4" y="74.7">saturation</text>
<text class="lb" x="230.2" y="241.5">RF distance</text>
<text class="lb" x="278" y="318.3">RCV</text>
<text class="lb" x="482.1" y="247.9">tness/RCV</text>
<text class="lb" x="510" y="292.7">tness</text>
<text class="lb" x="439.6" y="324.2">DVMC</text>
<text class="lb" x="511.2" y="366.6">ABS</text>
<text class="lb" x="377.9" y="451.9">Aln. len.</text>
<circle class="ct" cx="419.8" cy="280.2" r="10" fill="#D55E00"/>
<circle class="ct" cx="434.8" cy="297.3" r="10" fill="#0072B2"/>
<line class="tk" x1="109.3" y1="589.5" x2="109.3" y2="595.8"/>
<text class="tl" x="109.3" y="620" text-anchor="middle">-10</text>
<line class="tk" x1="267.9" y1="589.5" x2="267.9" y2="595.8"/>
<text class="tl" x="267.9" y="620" text-anchor="middle">-5</text>
<line class="tk" x1="426.5" y1="589.5" x2="426.5" y2="595.8"/>
<text class="tl" x="426.5" y="620" text-anchor="middle">0</text>
<line class="tk" x1="585.1" y1="589.5" x2="585.1" y2="595.8"/>
<text class="tl" x="585.1" y="620" text-anchor="middle">5</text>
<line class="tk" x1="91" y1="148" x2="97.3" y2="148"/>
<text class="tl" x="87.3" y="157.4" text-anchor="end">2.5</text>
<line class="tk" x1="91" y1="288.2" x2="97.3" y2="288.2"/>
<text class="tl" x="87.3" y="297.6" text-anchor="end">0.0</text>
<line class="tk" x1="91" y1="428.4" x2="97.3" y2="428.4"/>
<text class="tl" x="87.3" y="437.8" text-anchor="end">-2.5</text>
<line class="tk" x1="91" y1="568.5" x2="97.3" y2="568.5"/>
<text class="tl" x="87.3" y="577.9" text-anchor="end">-5.0</text>
<rect class="bd" x="97.3" y="47.8" width="567.8" height="541.7"/>
<path class="ar" d="M1070 306.1L974.2 129.9M985.7 136.9L974.2 129.9L973.9 143.4"/>
<path class="ar" d="M1070 306.1L1086.3 154.7M1091.8 167L1086.3 154.7L1078.3 165.6"/>
<path class="ar" d="M1070 306.1L1226.3 162.4M1222.3 175.3L1226.3 162.4L1213.1 165.3"/>
<path class="ar" d="M1070 306.1L1302.4 266.3M1292 274.9L1302.4 266.3L1289.7 261.6"/>
<path class="ar" d="M1070 306.1L1223 280M1212.6 288.6L1223 280L1210.3 275.3"/>
<path class="ar" d="M1070 306.1L1194.3 335.5M1181.4 339.4L1194.3 335.5L1184.5 326.2"/>
<path class="ar" d="M1070 306.1L1175 355.2M1161.6 356.4L1175 355.2L1167.3 344.1"/>
<path class="ar" d="M1070 306.1L1184.8 484.5M1172.8 478.3L1184.8 484.5L1184.1 471"/>
<path class="ar" d="M1070 306.1L844.3 342M854.8 333.5L844.3 342L856.9 346.8"/>
<text class="lb" x="929.4" y="122.9">RCV</text>
<text class="lb" x="1055" y="146.1">DVMC</text>
<text class="lb" x="1186.7" y="157.7">PI sites</text>
<text class="lb" x="1269.1" y="251.8">ABS</text>
<text class="lb" x="1134.5" y="269.6">saturation</text>
<text class="lb" x="1172.7" y="319.5">Aln. len.</text>
<text class="lb" x="1163" y="380.2">tness</text>
<text class="lb" x="1037" y="483.3">tness/RCV</text>
<text class="lb" x="769.9" y="326.1">RF distance</text>
<circle class="ct" cx="1064.8" cy="301.8" r="10" fill="#0072B2"/>
<circle class="ct" cx="1072" cy="308.2" r="10" fill="#D55E00"/>
<line class="tk" x1="786.4" y1="589.5" x2="786.4" y2="595.8"/>
<text class="tl" x="786.4" y="620" text-anchor="middle">-8</text>
<line class="tk" x1="928.2" y1="589.5" x2="928.2" y2="595.8"/>
<text class="tl" x="928.2" y="620" text-anchor="middle">-4</text>
<line class="tk" x1="1070" y1="589.5" x2="1070" y2="595.8"/>
<text class="tl" x="1070" y="620" text-anchor="middle">0</text>
<line class="tk" x1="1211.8" y1="589.5" x2="1211.8" y2="595.8"/>
<text class="tl" x="1211.8" y="620" text-anchor="middle">4</text>
<line class="tk" x1="747.6" y1="165" x2="753.9" y2="165"/>
<text class="tl" x="743.9" y="174.4" text-anchor="end">5</text>
<line class="tk" x1="747.6" y1="306.1" x2="753.9" y2="306.1"/>
<text class="tl" x="743.9" y="315.5" text-anchor="end">0</text>
<line class="tk" x1="747.6" y1="447.2" x2="753.9" y2="447.2"/>
<text class="tl" x="743.9" y="456.6" text-anchor="end">-5</text>
<rect class="bd" x="753.9" y="47.6" width="573.6" height="541.9"/>
<path class="ar" d="M1677.5 389.6L1638.3 303.5M1649.3 311.3L1638.3 303.5L1637 316.9"/>
<path class="ar" d="M1677.5 389.6L1714.7 328.9M1714.3 342.4L1714.7 328.9L1702.8 335.3"/>
<path class="ar" d="M1677.5 389.6L1746.5 324.7M1742.6 337.6L1746.5 324.7L1733.4 327.8"/>
<path class="ar" d="M1677.5 389.6L1765.5 376.5M1754.9 384.9L1765.5 376.5L1752.9 371.5"/>
<path class="ar" d="M1677.5 389.6L1910.3 354.1M1899.8 362.5L1910.3 354.1L1897.7 349.2"/>
<path class="ar" d="M1677.5 389.6L1892.4 401.4M1880.4 407.5L1892.4 401.4L1881.1 394"/>
<path class="ar" d="M1677.5 389.6L1791.6 446.9M1778.1 447.7L1791.6 446.9L1784.2 435.6"/>
<path class="ar" d="M1677.5 389.6L1779.2 475.7M1765.9 473.3L1779.2 475.7L1774.6 463"/>
<path class="ar" d="M1677.5 389.6L1449.8 413.3M1460.7 405.4L1449.8 413.3L1462.1 418.8"/>
<text class="lb" x="1524.4" y="297.1">tness/RCV</text>
<text class="lb" x="1650" y="317.3">saturation</text>
<text class="lb" x="1751.3" y="338.9">tness</text>
<text class="lb" x="1721.6" y="365.7">Aln. len.</text>
<text class="lb" x="1895.9" y="346.1">ABS</text>
<text class="lb" x="1868.5" y="431.9">PI sites</text>
<text class="lb" x="1754.2" y="426.7">DVMC</text>
<text class="lb" x="1695" y="482">RCV</text>
<text class="lb" x="1430.3" y="443">RF distance</text>
<circle class="ct" cx="1675" cy="387.1" r="10" fill="#0072B2"/>
<circle class="ct" cx="1681.3" cy="395" r="10" fill="#D55E00"/>
<line class="tk" x1="1523.7" y1="589.6" x2="1523.7" y2="595.9"/>
<text class="tl" x="1523.7" y="620" text-anchor="middle">-5</text>
<line class="tk" x1="1677.5" y1="589.6" x2="1677.5" y2="595.9"/>
<text class="tl" x="1677.5" y="620" text-anchor="middle">0</text>
<line class="tk" x1="1831.3" y1="589.6" x2="1831.3" y2="595.9"/>
<text class="tl" x="1831.3" y="620" text-anchor="middle">5</text>
<line class="tk" x1="1985.1" y1="589.6" x2="1985.1" y2="595.9"/>
<text class="tl" x="1985.1" y="620" text-anchor="middle">10</text>
<line class="tk" x1="1418.7" y1="85.2" x2="1425" y2="85.2"/>
<text class="tl" x="1415" y="94.6" text-anchor="end">20</text>
<line class="tk" x1="1418.7" y1="237.4" x2="1425" y2="237.4"/>
<text class="tl" x="1415" y="246.8" text-anchor="end">10</text>
<line class="tk" x1="1418.7" y1="389.6" x2="1425" y2="389.6"/>
<text class="tl" x="1415" y="399" text-anchor="end">0</text>
<line class="tk" x1="1418.7" y1="541.8" x2="1425" y2="541.8"/>
<text class="tl" x="1415" y="551.2" text-anchor="end">-10</text>
<rect class="bd" x="1425" y="47.8" width="572.7" height="541.8"/>
<text class="pl" x="-1.3" y="29" style="font-size:42px">A</text>
<text class="pl" x="680.5" y="29.3">B</text>
<text class="pl" x="1347" y="29.3">C</text>
<text class="ti" x="93.6" y="37">Budding yeasts</text>
<text class="ti" x="750.6" y="37">Filamentous fungi</text>
<text class="ti" x="1421" y="37">Mammals</text>
<text class="at" x="381.2" y="653.5" text-anchor="middle">Dimension 1 (29.4%)</text>
<text class="at" x="1040.7" y="653.5" text-anchor="middle">Dimension 1 (28.9%)</text>
<text class="at" x="1711.3" y="653.5" text-anchor="middle">Dimension 1 (29.9%)</text>
<text class="at" transform="translate(22.3,318.6) rotate(-90)" text-anchor="middle">Dimension 2 (22.4%)</text>
<text class="at" transform="translate(702.3,318.6) rotate(-90)" text-anchor="middle">Dimension 2 (25.7%)</text>
<text class="at" transform="translate(1368.4,318.7) rotate(-90)" text-anchor="middle">Dimension 2 (17.9%)</text>
<rect x="1804" y="55" width="186" height="94" fill="#fff" stroke="#000" stroke-width="1.6"/>
<circle cx="1825.5" cy="84" r="14.5" fill="#D55E00" stroke="#000" stroke-width="1.3"/>
<circle cx="1825.5" cy="121" r="14.5" fill="#0072B2" stroke="#000" stroke-width="1.3"/>
<text class="lb" x="1846.5" y="93.5">SC-OGs</text>
<text class="lb" x="1846.5" y="130.5">SNAP-OGs</text>
</svg></body></html>
